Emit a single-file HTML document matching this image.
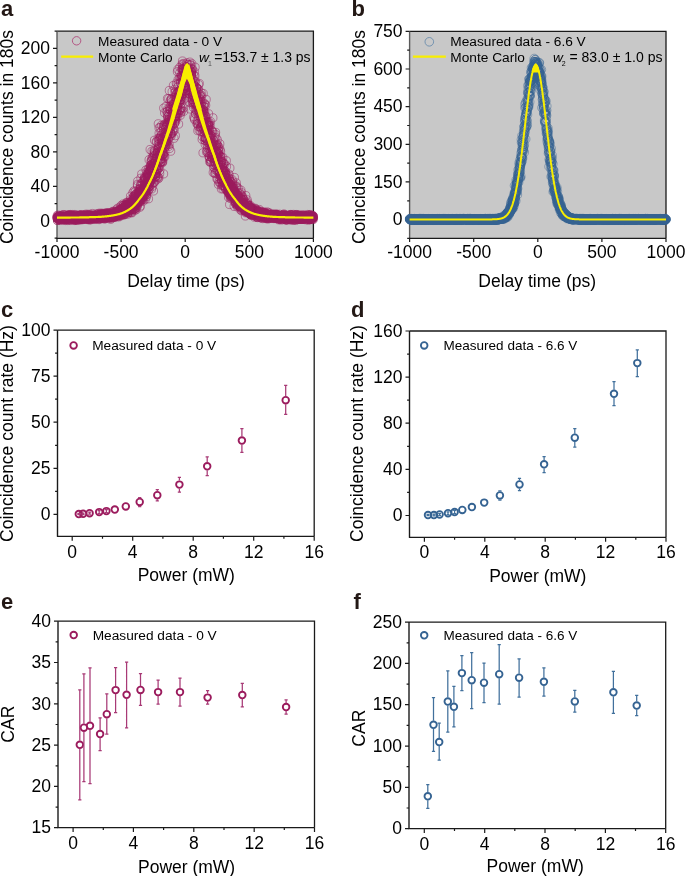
<!DOCTYPE html>
<html><head><meta charset="utf-8"><style>
html,body{margin:0;padding:0;background:#fff;overflow:hidden;}
svg{display:block;will-change:transform;} g[style] circle{r:var(--r);}
text{font-family:"Liberation Sans", sans-serif;}
</style></head><body>
<svg width="685" height="876" viewBox="0 0 685 876">
<rect width="685" height="876" fill="#fff"/>
<rect x="57" y="31.2" width="256.4" height="207.1" fill="#c8c8c8"/>
<path d="M57 31.2H313.4V238.3" fill="none" stroke="#1a1a1a" stroke-width="1.3"/>
<path d="M57 31.2V238.3" fill="none" stroke="#5a5a5a" stroke-width="1.4"/>
<path d="M56.4 238.3H313.4" fill="none" stroke="#1a1a1a" stroke-width="1.3"/>
<path d="M57 238.3v3.6M121.1 238.3v3.6M185.2 238.3v3.6M249.3 238.3v3.6M313.4 238.3v3.6M57 220.8h-4M57 186.3h-4M57 151.8h-4M57 117.3h-4M57 82.8h-4M57 48.3h-4M57 238.1h-2.4M57 203.6h-2.4M57 169.1h-2.4M57 134.6h-2.4M57 100.1h-2.4M57 65.6h-2.4M57 31.1h-2.4" fill="none" stroke="#1a1a1a" stroke-width="1.2"/>
<text x="57" y="258.1" font-size="17.5" text-anchor="middle" fill="#000">-1000</text>
<text x="121.1" y="258.1" font-size="17.5" text-anchor="middle" fill="#000">-500</text>
<text x="185.2" y="258.1" font-size="17.5" text-anchor="middle" fill="#000">0</text>
<text x="249.3" y="258.1" font-size="17.5" text-anchor="middle" fill="#000">500</text>
<text x="313.4" y="258.1" font-size="17.5" text-anchor="middle" fill="#000">1000</text>
<text x="50" y="226.5" font-size="17.5" text-anchor="end" fill="#000">0</text>
<text x="50" y="192" font-size="17.5" text-anchor="end" fill="#000">40</text>
<text x="50" y="157.5" font-size="17.5" text-anchor="end" fill="#000">80</text>
<text x="50" y="123" font-size="17.5" text-anchor="end" fill="#000">120</text>
<text x="50" y="88.5" font-size="17.5" text-anchor="end" fill="#000">160</text>
<text x="50" y="54" font-size="17.5" text-anchor="end" fill="#000">200</text>
<g fill="none" stroke="#9b1b5d" stroke-width="0.5" style="--r:4.1px"><circle cx="57.0" cy="217.6"/><circle cx="57.1" cy="217.5"/><circle cx="57.1" cy="218.0"/><circle cx="57.2" cy="216.5"/><circle cx="57.3" cy="215.4"/><circle cx="57.4" cy="218.1"/><circle cx="57.4" cy="218.0"/><circle cx="57.5" cy="220.5"/><circle cx="57.6" cy="217.8"/><circle cx="57.7" cy="218.2"/><circle cx="57.7" cy="220.4"/><circle cx="57.8" cy="217.2"/><circle cx="57.9" cy="216.8"/><circle cx="58.0" cy="218.6"/><circle cx="58.0" cy="218.1"/><circle cx="58.1" cy="218.8"/><circle cx="58.2" cy="216.6"/><circle cx="58.2" cy="219.6"/><circle cx="58.3" cy="218.0"/><circle cx="58.4" cy="215.1"/><circle cx="58.5" cy="217.6"/><circle cx="58.5" cy="217.0"/><circle cx="58.6" cy="217.8"/><circle cx="58.7" cy="219.1"/><circle cx="58.8" cy="217.6"/><circle cx="58.8" cy="217.1"/><circle cx="58.9" cy="218.9"/><circle cx="59.0" cy="217.2"/><circle cx="59.1" cy="216.0"/><circle cx="59.1" cy="216.2"/><circle cx="59.2" cy="219.7"/><circle cx="59.3" cy="218.9"/><circle cx="59.3" cy="219.7"/><circle cx="59.4" cy="216.2"/><circle cx="59.5" cy="216.8"/><circle cx="59.6" cy="216.7"/><circle cx="59.6" cy="218.7"/><circle cx="59.7" cy="219.1"/><circle cx="59.8" cy="217.5"/><circle cx="59.9" cy="217.5"/><circle cx="59.9" cy="218.7"/><circle cx="60.0" cy="217.4"/><circle cx="60.1" cy="216.8"/><circle cx="60.2" cy="217.3"/><circle cx="60.2" cy="218.9"/><circle cx="60.3" cy="220.3"/><circle cx="60.4" cy="217.9"/><circle cx="60.4" cy="217.4"/><circle cx="60.5" cy="217.9"/><circle cx="60.6" cy="218.1"/><circle cx="60.7" cy="218.4"/><circle cx="60.7" cy="216.7"/><circle cx="60.8" cy="217.6"/><circle cx="60.9" cy="217.4"/><circle cx="61.0" cy="218.8"/><circle cx="61.0" cy="218.4"/><circle cx="61.1" cy="217.4"/><circle cx="61.2" cy="218.8"/><circle cx="61.3" cy="219.1"/><circle cx="61.3" cy="218.0"/><circle cx="61.4" cy="216.0"/><circle cx="61.5" cy="217.3"/><circle cx="61.5" cy="215.7"/><circle cx="61.6" cy="217.8"/><circle cx="61.7" cy="218.0"/><circle cx="61.8" cy="219.4"/><circle cx="61.8" cy="218.3"/><circle cx="61.9" cy="215.7"/><circle cx="62.0" cy="217.2"/><circle cx="62.1" cy="216.6"/><circle cx="62.1" cy="216.6"/><circle cx="62.2" cy="217.6"/><circle cx="62.3" cy="217.8"/><circle cx="62.3" cy="217.4"/><circle cx="62.4" cy="216.7"/><circle cx="62.5" cy="217.0"/><circle cx="62.6" cy="216.9"/><circle cx="62.6" cy="217.4"/><circle cx="62.7" cy="218.6"/><circle cx="62.8" cy="217.8"/><circle cx="62.9" cy="218.8"/><circle cx="62.9" cy="216.3"/><circle cx="63.0" cy="220.3"/><circle cx="63.1" cy="217.8"/><circle cx="63.2" cy="214.6"/><circle cx="63.2" cy="218.0"/><circle cx="63.3" cy="219.0"/><circle cx="63.4" cy="217.6"/><circle cx="63.4" cy="215.9"/><circle cx="63.5" cy="217.7"/><circle cx="63.6" cy="216.8"/><circle cx="63.7" cy="217.4"/><circle cx="63.7" cy="218.0"/><circle cx="63.8" cy="214.6"/><circle cx="63.9" cy="217.5"/><circle cx="64.0" cy="218.2"/><circle cx="64.0" cy="218.2"/><circle cx="64.1" cy="217.1"/><circle cx="64.2" cy="217.1"/><circle cx="64.3" cy="216.6"/><circle cx="64.3" cy="217.4"/><circle cx="64.4" cy="219.4"/><circle cx="64.5" cy="216.9"/><circle cx="64.5" cy="217.9"/><circle cx="64.6" cy="217.9"/><circle cx="64.7" cy="219.5"/><circle cx="64.8" cy="218.3"/><circle cx="64.8" cy="218.5"/><circle cx="64.9" cy="217.6"/><circle cx="65.0" cy="219.4"/><circle cx="65.1" cy="217.5"/><circle cx="65.1" cy="217.4"/><circle cx="65.2" cy="219.0"/><circle cx="65.3" cy="218.3"/><circle cx="65.4" cy="218.6"/><circle cx="65.4" cy="216.4"/><circle cx="65.5" cy="220.5"/><circle cx="65.6" cy="218.0"/><circle cx="65.6" cy="219.6"/><circle cx="65.7" cy="218.1"/><circle cx="65.8" cy="216.4"/><circle cx="65.9" cy="218.4"/><circle cx="65.9" cy="217.4"/><circle cx="66.0" cy="218.7"/><circle cx="66.1" cy="215.1"/><circle cx="66.2" cy="216.3"/><circle cx="66.2" cy="216.1"/><circle cx="66.3" cy="219.2"/><circle cx="66.4" cy="219.0"/><circle cx="66.5" cy="216.1"/><circle cx="66.5" cy="217.8"/><circle cx="66.6" cy="217.8"/><circle cx="66.7" cy="217.1"/><circle cx="66.7" cy="219.2"/><circle cx="66.8" cy="216.5"/><circle cx="66.9" cy="217.5"/><circle cx="67.0" cy="216.9"/><circle cx="67.0" cy="218.4"/><circle cx="67.1" cy="216.9"/><circle cx="67.2" cy="218.5"/><circle cx="67.3" cy="216.3"/><circle cx="67.3" cy="216.1"/><circle cx="67.4" cy="216.4"/><circle cx="67.5" cy="216.9"/><circle cx="67.6" cy="216.7"/><circle cx="67.6" cy="220.5"/><circle cx="67.7" cy="216.4"/><circle cx="67.8" cy="217.9"/><circle cx="67.8" cy="217.4"/><circle cx="67.9" cy="217.9"/><circle cx="68.0" cy="219.3"/><circle cx="68.1" cy="218.2"/><circle cx="68.1" cy="216.7"/><circle cx="68.2" cy="215.7"/><circle cx="68.3" cy="218.3"/><circle cx="68.4" cy="218.7"/><circle cx="68.4" cy="215.7"/><circle cx="68.5" cy="218.7"/><circle cx="68.6" cy="214.8"/><circle cx="68.7" cy="217.5"/><circle cx="68.7" cy="218.7"/><circle cx="68.8" cy="216.2"/><circle cx="68.9" cy="215.3"/><circle cx="68.9" cy="219.4"/><circle cx="69.0" cy="215.5"/><circle cx="69.1" cy="217.9"/><circle cx="69.2" cy="215.7"/><circle cx="69.2" cy="218.0"/><circle cx="69.3" cy="219.5"/><circle cx="69.4" cy="216.9"/><circle cx="69.5" cy="216.3"/><circle cx="69.5" cy="214.8"/><circle cx="69.6" cy="215.3"/><circle cx="69.7" cy="216.6"/><circle cx="69.8" cy="217.8"/><circle cx="69.8" cy="218.2"/><circle cx="69.9" cy="217.8"/><circle cx="70.0" cy="218.6"/><circle cx="70.0" cy="217.8"/><circle cx="70.1" cy="220.5"/><circle cx="70.2" cy="217.3"/><circle cx="70.3" cy="217.6"/><circle cx="70.3" cy="214.5"/><circle cx="70.4" cy="216.5"/><circle cx="70.5" cy="218.1"/><circle cx="70.6" cy="216.8"/><circle cx="70.6" cy="219.0"/><circle cx="70.7" cy="218.2"/><circle cx="70.8" cy="219.9"/><circle cx="70.8" cy="215.7"/><circle cx="70.9" cy="216.8"/><circle cx="71.0" cy="219.0"/><circle cx="71.1" cy="217.5"/><circle cx="71.1" cy="216.3"/><circle cx="71.2" cy="216.8"/><circle cx="71.3" cy="217.0"/><circle cx="71.4" cy="218.5"/><circle cx="71.4" cy="218.3"/><circle cx="71.5" cy="217.4"/><circle cx="71.6" cy="216.2"/><circle cx="71.7" cy="218.6"/><circle cx="71.7" cy="218.9"/><circle cx="71.8" cy="216.0"/><circle cx="71.9" cy="218.6"/><circle cx="71.9" cy="216.0"/><circle cx="72.0" cy="217.1"/><circle cx="72.1" cy="216.4"/><circle cx="72.2" cy="215.3"/><circle cx="72.2" cy="216.5"/><circle cx="72.3" cy="216.5"/><circle cx="72.4" cy="218.7"/><circle cx="72.5" cy="218.3"/><circle cx="72.5" cy="216.7"/><circle cx="72.6" cy="215.6"/><circle cx="72.7" cy="215.7"/><circle cx="72.8" cy="214.5"/><circle cx="72.8" cy="217.1"/><circle cx="72.9" cy="217.2"/><circle cx="73.0" cy="216.2"/><circle cx="73.0" cy="217.5"/><circle cx="73.1" cy="217.6"/><circle cx="73.2" cy="218.9"/><circle cx="73.3" cy="216.3"/><circle cx="73.3" cy="218.8"/><circle cx="73.4" cy="216.8"/><circle cx="73.5" cy="219.3"/><circle cx="73.6" cy="216.1"/><circle cx="73.6" cy="218.8"/><circle cx="73.7" cy="216.4"/><circle cx="73.8" cy="219.5"/><circle cx="73.9" cy="218.0"/><circle cx="73.9" cy="216.0"/><circle cx="74.0" cy="218.5"/><circle cx="74.1" cy="217.3"/><circle cx="74.1" cy="217.9"/><circle cx="74.2" cy="220.5"/><circle cx="74.3" cy="217.0"/><circle cx="74.4" cy="216.9"/><circle cx="74.4" cy="218.9"/><circle cx="74.5" cy="216.8"/><circle cx="74.6" cy="218.5"/><circle cx="74.7" cy="218.7"/><circle cx="74.7" cy="217.4"/><circle cx="74.8" cy="218.3"/><circle cx="74.9" cy="214.5"/><circle cx="75.0" cy="219.4"/><circle cx="75.0" cy="216.5"/><circle cx="75.1" cy="216.3"/><circle cx="75.2" cy="220.0"/><circle cx="75.2" cy="219.8"/><circle cx="75.3" cy="216.8"/><circle cx="75.4" cy="218.1"/><circle cx="75.5" cy="216.8"/><circle cx="75.5" cy="216.0"/><circle cx="75.6" cy="218.0"/><circle cx="75.7" cy="218.8"/><circle cx="75.8" cy="220.3"/><circle cx="75.8" cy="217.1"/><circle cx="75.9" cy="218.6"/><circle cx="76.0" cy="217.0"/><circle cx="76.1" cy="217.1"/><circle cx="76.1" cy="219.1"/><circle cx="76.2" cy="215.1"/><circle cx="76.3" cy="216.0"/><circle cx="76.3" cy="216.4"/><circle cx="76.4" cy="218.9"/><circle cx="76.5" cy="218.0"/><circle cx="76.6" cy="218.0"/><circle cx="76.6" cy="218.0"/><circle cx="76.7" cy="218.9"/><circle cx="76.8" cy="216.8"/><circle cx="76.9" cy="217.2"/><circle cx="76.9" cy="216.8"/><circle cx="77.0" cy="217.9"/><circle cx="77.1" cy="215.8"/><circle cx="77.2" cy="217.1"/><circle cx="77.2" cy="220.3"/><circle cx="77.3" cy="218.3"/><circle cx="77.4" cy="217.4"/><circle cx="77.4" cy="216.1"/><circle cx="77.5" cy="217.8"/><circle cx="77.6" cy="217.8"/><circle cx="77.7" cy="218.3"/><circle cx="77.7" cy="216.5"/><circle cx="77.8" cy="217.9"/><circle cx="77.9" cy="218.1"/><circle cx="78.0" cy="218.3"/><circle cx="78.0" cy="216.5"/><circle cx="78.1" cy="218.1"/><circle cx="78.2" cy="219.6"/><circle cx="78.3" cy="216.7"/><circle cx="78.3" cy="218.1"/><circle cx="78.4" cy="216.8"/><circle cx="78.5" cy="216.8"/><circle cx="78.5" cy="215.8"/><circle cx="78.6" cy="216.0"/><circle cx="78.7" cy="218.1"/><circle cx="78.8" cy="217.6"/><circle cx="78.8" cy="219.0"/><circle cx="78.9" cy="215.2"/><circle cx="79.0" cy="216.7"/><circle cx="79.1" cy="215.5"/><circle cx="79.1" cy="217.8"/><circle cx="79.2" cy="220.0"/><circle cx="79.3" cy="215.4"/><circle cx="79.3" cy="217.1"/><circle cx="79.4" cy="217.1"/><circle cx="79.5" cy="217.3"/><circle cx="79.6" cy="216.5"/><circle cx="79.6" cy="216.7"/><circle cx="79.7" cy="219.4"/><circle cx="79.8" cy="215.9"/><circle cx="79.9" cy="218.1"/><circle cx="79.9" cy="218.0"/><circle cx="80.0" cy="215.1"/><circle cx="80.1" cy="216.1"/><circle cx="80.2" cy="217.9"/><circle cx="80.2" cy="219.8"/><circle cx="80.3" cy="217.2"/><circle cx="80.4" cy="216.6"/><circle cx="80.4" cy="217.5"/><circle cx="80.5" cy="218.9"/><circle cx="80.6" cy="218.2"/><circle cx="80.7" cy="219.0"/><circle cx="80.7" cy="217.1"/><circle cx="80.8" cy="216.2"/><circle cx="80.9" cy="216.0"/><circle cx="81.0" cy="218.3"/><circle cx="81.0" cy="217.0"/><circle cx="81.1" cy="216.4"/><circle cx="81.2" cy="218.0"/><circle cx="81.3" cy="217.5"/><circle cx="81.3" cy="214.6"/><circle cx="81.4" cy="217.0"/><circle cx="81.5" cy="216.3"/><circle cx="81.5" cy="218.0"/><circle cx="81.6" cy="217.1"/><circle cx="81.7" cy="219.6"/><circle cx="81.8" cy="217.2"/><circle cx="81.8" cy="215.6"/><circle cx="81.9" cy="214.6"/><circle cx="82.0" cy="215.7"/><circle cx="82.1" cy="216.2"/><circle cx="82.1" cy="217.2"/><circle cx="82.2" cy="218.1"/><circle cx="82.3" cy="217.6"/><circle cx="82.4" cy="216.5"/><circle cx="82.4" cy="218.2"/><circle cx="82.5" cy="216.0"/><circle cx="82.6" cy="218.6"/><circle cx="82.6" cy="219.7"/><circle cx="82.7" cy="218.6"/><circle cx="82.8" cy="219.4"/><circle cx="82.9" cy="219.1"/><circle cx="82.9" cy="215.8"/><circle cx="83.0" cy="217.5"/><circle cx="83.1" cy="217.0"/><circle cx="83.2" cy="215.8"/><circle cx="83.2" cy="215.6"/><circle cx="83.3" cy="217.9"/><circle cx="83.4" cy="215.5"/><circle cx="83.5" cy="216.5"/><circle cx="83.5" cy="217.2"/><circle cx="83.6" cy="216.7"/><circle cx="83.7" cy="219.2"/><circle cx="83.7" cy="218.2"/><circle cx="83.8" cy="217.6"/><circle cx="83.9" cy="216.6"/><circle cx="84.0" cy="217.6"/><circle cx="84.0" cy="217.3"/><circle cx="84.1" cy="216.0"/><circle cx="84.2" cy="215.6"/><circle cx="84.3" cy="216.3"/><circle cx="84.3" cy="215.7"/><circle cx="84.4" cy="217.7"/><circle cx="84.5" cy="217.4"/><circle cx="84.6" cy="216.8"/><circle cx="84.6" cy="217.7"/><circle cx="84.7" cy="218.0"/><circle cx="84.8" cy="215.1"/><circle cx="84.8" cy="217.5"/><circle cx="84.9" cy="218.6"/><circle cx="85.0" cy="216.6"/><circle cx="85.1" cy="215.0"/><circle cx="85.1" cy="217.0"/><circle cx="85.2" cy="215.5"/><circle cx="85.3" cy="217.7"/><circle cx="85.4" cy="217.9"/><circle cx="85.4" cy="218.1"/><circle cx="85.5" cy="217.4"/><circle cx="85.6" cy="214.9"/><circle cx="85.7" cy="218.7"/><circle cx="85.7" cy="215.2"/><circle cx="85.8" cy="218.6"/><circle cx="85.9" cy="217.4"/><circle cx="85.9" cy="216.1"/><circle cx="86.0" cy="216.4"/><circle cx="86.1" cy="216.7"/><circle cx="86.2" cy="219.5"/><circle cx="86.2" cy="216.8"/><circle cx="86.3" cy="218.5"/><circle cx="86.4" cy="214.1"/><circle cx="86.5" cy="217.5"/><circle cx="86.5" cy="216.8"/><circle cx="86.6" cy="218.6"/><circle cx="86.7" cy="217.9"/><circle cx="86.8" cy="218.9"/><circle cx="86.8" cy="215.8"/><circle cx="86.9" cy="217.5"/><circle cx="87.0" cy="216.6"/><circle cx="87.0" cy="217.9"/><circle cx="87.1" cy="217.7"/><circle cx="87.2" cy="215.3"/><circle cx="87.3" cy="218.5"/><circle cx="87.3" cy="219.5"/><circle cx="87.4" cy="216.7"/><circle cx="87.5" cy="218.2"/><circle cx="87.6" cy="217.7"/><circle cx="87.6" cy="215.7"/><circle cx="87.7" cy="218.3"/><circle cx="87.8" cy="216.0"/><circle cx="87.9" cy="218.2"/><circle cx="87.9" cy="215.2"/><circle cx="88.0" cy="215.3"/><circle cx="88.1" cy="217.9"/><circle cx="88.1" cy="217.3"/><circle cx="88.2" cy="218.2"/><circle cx="88.3" cy="217.0"/><circle cx="88.4" cy="215.7"/><circle cx="88.4" cy="219.1"/><circle cx="88.5" cy="215.9"/><circle cx="88.6" cy="218.9"/><circle cx="88.7" cy="218.3"/><circle cx="88.7" cy="219.5"/><circle cx="88.8" cy="214.5"/><circle cx="88.9" cy="217.2"/><circle cx="88.9" cy="216.8"/><circle cx="89.0" cy="217.9"/><circle cx="89.1" cy="215.9"/><circle cx="89.2" cy="219.8"/><circle cx="89.2" cy="217.1"/><circle cx="89.3" cy="214.3"/><circle cx="89.4" cy="217.5"/><circle cx="89.5" cy="217.1"/><circle cx="89.5" cy="216.0"/><circle cx="89.6" cy="218.2"/><circle cx="89.7" cy="217.0"/><circle cx="89.8" cy="215.9"/><circle cx="89.8" cy="216.9"/><circle cx="89.9" cy="216.5"/><circle cx="90.0" cy="217.5"/><circle cx="90.0" cy="216.6"/><circle cx="90.1" cy="217.0"/><circle cx="90.2" cy="215.3"/><circle cx="90.3" cy="216.1"/><circle cx="90.3" cy="217.4"/><circle cx="90.4" cy="219.9"/><circle cx="90.5" cy="216.2"/><circle cx="90.6" cy="216.1"/><circle cx="90.6" cy="218.4"/><circle cx="90.7" cy="219.6"/><circle cx="90.8" cy="218.7"/><circle cx="90.9" cy="216.0"/><circle cx="90.9" cy="218.4"/><circle cx="91.0" cy="217.5"/><circle cx="91.1" cy="216.9"/><circle cx="91.1" cy="215.6"/><circle cx="91.2" cy="217.1"/><circle cx="91.3" cy="217.3"/><circle cx="91.4" cy="217.7"/><circle cx="91.4" cy="215.0"/><circle cx="91.5" cy="215.7"/><circle cx="91.6" cy="217.1"/><circle cx="91.7" cy="218.9"/><circle cx="91.7" cy="218.0"/><circle cx="91.8" cy="216.4"/><circle cx="91.9" cy="218.1"/><circle cx="92.0" cy="216.1"/><circle cx="92.0" cy="216.1"/><circle cx="92.1" cy="216.7"/><circle cx="92.2" cy="216.1"/><circle cx="92.2" cy="216.3"/><circle cx="92.3" cy="218.1"/><circle cx="92.4" cy="217.4"/><circle cx="92.5" cy="213.5"/><circle cx="92.5" cy="218.7"/><circle cx="92.6" cy="217.8"/><circle cx="92.7" cy="215.7"/><circle cx="92.8" cy="217.4"/><circle cx="92.8" cy="217.9"/><circle cx="92.9" cy="218.6"/><circle cx="93.0" cy="216.4"/><circle cx="93.1" cy="215.8"/><circle cx="93.1" cy="215.2"/><circle cx="93.2" cy="216.6"/><circle cx="93.3" cy="215.9"/><circle cx="93.3" cy="218.2"/><circle cx="93.4" cy="216.9"/><circle cx="93.5" cy="217.6"/><circle cx="93.6" cy="216.9"/><circle cx="93.6" cy="216.0"/><circle cx="93.7" cy="215.7"/><circle cx="93.8" cy="218.4"/><circle cx="93.9" cy="214.9"/><circle cx="93.9" cy="217.4"/><circle cx="94.0" cy="218.3"/><circle cx="94.1" cy="217.3"/><circle cx="94.2" cy="219.1"/><circle cx="94.2" cy="217.0"/><circle cx="94.3" cy="216.5"/><circle cx="94.4" cy="217.2"/><circle cx="94.4" cy="216.2"/><circle cx="94.5" cy="217.5"/><circle cx="94.6" cy="216.9"/><circle cx="94.7" cy="218.8"/><circle cx="94.7" cy="216.5"/><circle cx="94.8" cy="217.5"/><circle cx="94.9" cy="217.5"/><circle cx="95.0" cy="217.1"/><circle cx="95.0" cy="216.6"/><circle cx="95.1" cy="219.1"/><circle cx="95.2" cy="219.0"/><circle cx="95.3" cy="217.3"/><circle cx="95.3" cy="216.4"/><circle cx="95.4" cy="216.2"/><circle cx="95.5" cy="215.7"/><circle cx="95.5" cy="215.1"/><circle cx="95.6" cy="216.2"/><circle cx="95.7" cy="217.0"/><circle cx="95.8" cy="218.3"/><circle cx="95.8" cy="218.1"/><circle cx="95.9" cy="217.5"/><circle cx="96.0" cy="216.4"/><circle cx="96.1" cy="216.5"/><circle cx="96.1" cy="217.0"/><circle cx="96.2" cy="217.0"/><circle cx="96.3" cy="216.2"/><circle cx="96.4" cy="216.7"/><circle cx="96.4" cy="216.5"/><circle cx="96.5" cy="216.7"/><circle cx="96.6" cy="217.5"/><circle cx="96.6" cy="218.1"/><circle cx="96.7" cy="216.2"/><circle cx="96.8" cy="216.3"/><circle cx="96.9" cy="217.2"/><circle cx="96.9" cy="217.5"/><circle cx="97.0" cy="213.8"/><circle cx="97.1" cy="217.9"/><circle cx="97.2" cy="217.0"/><circle cx="97.2" cy="216.6"/><circle cx="97.3" cy="218.2"/><circle cx="97.4" cy="216.5"/><circle cx="97.4" cy="214.4"/><circle cx="97.5" cy="215.6"/><circle cx="97.6" cy="215.7"/><circle cx="97.7" cy="216.3"/><circle cx="97.7" cy="216.4"/><circle cx="97.8" cy="215.4"/><circle cx="97.9" cy="216.8"/><circle cx="98.0" cy="217.1"/><circle cx="98.0" cy="216.7"/><circle cx="98.1" cy="215.6"/><circle cx="98.2" cy="216.0"/><circle cx="98.3" cy="215.6"/><circle cx="98.3" cy="219.3"/><circle cx="98.4" cy="215.4"/><circle cx="98.5" cy="213.4"/><circle cx="98.5" cy="214.4"/><circle cx="98.6" cy="216.7"/><circle cx="98.7" cy="217.7"/><circle cx="98.8" cy="216.6"/><circle cx="98.8" cy="217.6"/><circle cx="98.9" cy="215.7"/><circle cx="99.0" cy="217.8"/><circle cx="99.1" cy="215.2"/><circle cx="99.1" cy="215.2"/><circle cx="99.2" cy="219.6"/><circle cx="99.3" cy="216.4"/><circle cx="99.4" cy="217.0"/><circle cx="99.4" cy="218.5"/><circle cx="99.5" cy="217.3"/><circle cx="99.6" cy="216.1"/><circle cx="99.6" cy="214.5"/><circle cx="99.7" cy="218.6"/><circle cx="99.8" cy="215.2"/><circle cx="99.9" cy="214.2"/><circle cx="99.9" cy="216.0"/><circle cx="100.0" cy="215.6"/><circle cx="100.1" cy="216.4"/><circle cx="100.2" cy="218.0"/><circle cx="100.2" cy="215.4"/><circle cx="100.3" cy="216.2"/><circle cx="100.4" cy="215.5"/><circle cx="100.5" cy="213.1"/><circle cx="100.5" cy="215.3"/><circle cx="100.6" cy="215.5"/><circle cx="100.7" cy="214.2"/><circle cx="100.7" cy="218.3"/><circle cx="100.8" cy="217.8"/><circle cx="100.9" cy="217.3"/><circle cx="101.0" cy="217.8"/><circle cx="101.0" cy="215.3"/><circle cx="101.1" cy="216.9"/><circle cx="101.2" cy="214.0"/><circle cx="101.3" cy="214.9"/><circle cx="101.3" cy="215.5"/><circle cx="101.4" cy="217.1"/><circle cx="101.5" cy="215.9"/><circle cx="101.6" cy="215.9"/><circle cx="101.6" cy="217.9"/><circle cx="101.7" cy="215.5"/><circle cx="101.8" cy="215.3"/><circle cx="101.8" cy="216.3"/><circle cx="101.9" cy="214.3"/><circle cx="102.0" cy="214.4"/><circle cx="102.1" cy="218.1"/><circle cx="102.1" cy="216.2"/><circle cx="102.2" cy="217.2"/><circle cx="102.3" cy="215.2"/><circle cx="102.4" cy="216.6"/><circle cx="102.4" cy="214.5"/><circle cx="102.5" cy="215.6"/><circle cx="102.6" cy="214.9"/><circle cx="102.7" cy="216.1"/><circle cx="102.7" cy="218.4"/><circle cx="102.8" cy="213.9"/><circle cx="102.9" cy="216.1"/><circle cx="102.9" cy="213.3"/><circle cx="103.0" cy="215.7"/><circle cx="103.1" cy="215.3"/><circle cx="103.2" cy="213.7"/><circle cx="103.2" cy="215.1"/><circle cx="103.3" cy="214.3"/><circle cx="103.4" cy="217.4"/><circle cx="103.5" cy="215.4"/><circle cx="103.5" cy="216.6"/><circle cx="103.6" cy="216.4"/><circle cx="103.7" cy="215.8"/><circle cx="103.8" cy="215.2"/><circle cx="103.8" cy="214.5"/><circle cx="103.9" cy="218.9"/><circle cx="104.0" cy="215.9"/><circle cx="104.0" cy="217.3"/><circle cx="104.1" cy="215.1"/><circle cx="104.2" cy="216.1"/><circle cx="104.3" cy="215.2"/><circle cx="104.3" cy="216.4"/><circle cx="104.4" cy="215.4"/><circle cx="104.5" cy="214.1"/><circle cx="104.6" cy="216.7"/><circle cx="104.6" cy="215.4"/><circle cx="104.7" cy="218.3"/><circle cx="104.8" cy="216.0"/><circle cx="104.9" cy="214.8"/><circle cx="104.9" cy="217.1"/><circle cx="105.0" cy="214.1"/><circle cx="105.1" cy="218.6"/><circle cx="105.1" cy="218.8"/><circle cx="105.2" cy="217.8"/><circle cx="105.3" cy="216.8"/><circle cx="105.4" cy="215.4"/><circle cx="105.4" cy="216.3"/><circle cx="105.5" cy="216.2"/><circle cx="105.6" cy="214.2"/><circle cx="105.7" cy="215.0"/><circle cx="105.7" cy="216.3"/><circle cx="105.8" cy="217.5"/><circle cx="105.9" cy="212.9"/><circle cx="105.9" cy="218.1"/><circle cx="106.0" cy="216.2"/><circle cx="106.1" cy="214.4"/><circle cx="106.2" cy="215.1"/><circle cx="106.2" cy="216.7"/><circle cx="106.3" cy="216.2"/><circle cx="106.4" cy="215.4"/><circle cx="106.5" cy="214.8"/><circle cx="106.5" cy="216.6"/><circle cx="106.6" cy="215.1"/><circle cx="106.7" cy="215.5"/><circle cx="106.8" cy="214.2"/><circle cx="106.8" cy="213.5"/><circle cx="106.9" cy="216.4"/><circle cx="107.0" cy="217.4"/><circle cx="107.0" cy="215.6"/><circle cx="107.1" cy="213.5"/><circle cx="107.2" cy="215.3"/><circle cx="107.3" cy="214.6"/><circle cx="107.3" cy="212.6"/><circle cx="107.4" cy="217.4"/><circle cx="107.5" cy="214.6"/><circle cx="107.6" cy="216.5"/><circle cx="107.6" cy="215.1"/><circle cx="107.7" cy="216.3"/><circle cx="107.8" cy="214.1"/><circle cx="107.9" cy="217.1"/><circle cx="107.9" cy="214.2"/><circle cx="108.0" cy="217.1"/><circle cx="108.1" cy="215.0"/><circle cx="108.1" cy="215.7"/><circle cx="108.2" cy="213.3"/><circle cx="108.3" cy="217.1"/><circle cx="108.4" cy="216.2"/><circle cx="108.4" cy="213.2"/><circle cx="108.5" cy="215.4"/><circle cx="108.6" cy="214.2"/><circle cx="108.7" cy="215.1"/><circle cx="108.7" cy="214.4"/><circle cx="108.8" cy="216.3"/><circle cx="108.9" cy="213.7"/><circle cx="109.0" cy="214.7"/><circle cx="109.0" cy="215.1"/><circle cx="109.1" cy="217.7"/><circle cx="109.2" cy="217.8"/><circle cx="109.2" cy="218.0"/><circle cx="109.3" cy="216.1"/><circle cx="109.4" cy="214.2"/><circle cx="109.5" cy="215.5"/><circle cx="109.5" cy="215.1"/><circle cx="109.6" cy="215.6"/><circle cx="109.7" cy="214.5"/><circle cx="109.8" cy="216.1"/><circle cx="109.8" cy="215.0"/><circle cx="109.9" cy="216.2"/><circle cx="110.0" cy="217.3"/><circle cx="110.1" cy="215.6"/><circle cx="110.1" cy="212.5"/><circle cx="110.2" cy="213.9"/><circle cx="110.3" cy="215.4"/><circle cx="110.3" cy="217.0"/><circle cx="110.4" cy="216.4"/><circle cx="110.5" cy="214.4"/><circle cx="110.6" cy="215.8"/><circle cx="110.6" cy="216.5"/><circle cx="110.7" cy="219.3"/><circle cx="110.8" cy="215.6"/><circle cx="110.9" cy="218.6"/><circle cx="110.9" cy="217.4"/><circle cx="111.0" cy="214.1"/><circle cx="111.1" cy="214.3"/><circle cx="111.2" cy="217.7"/><circle cx="111.2" cy="214.2"/><circle cx="111.3" cy="214.8"/><circle cx="111.4" cy="217.1"/><circle cx="111.4" cy="214.0"/><circle cx="111.5" cy="215.4"/><circle cx="111.6" cy="214.6"/><circle cx="111.7" cy="215.7"/><circle cx="111.7" cy="215.9"/><circle cx="111.8" cy="214.2"/><circle cx="111.9" cy="215.4"/><circle cx="112.0" cy="216.5"/><circle cx="112.0" cy="216.2"/><circle cx="112.1" cy="214.8"/><circle cx="112.2" cy="215.2"/><circle cx="112.3" cy="214.0"/><circle cx="112.3" cy="215.9"/><circle cx="112.4" cy="217.3"/><circle cx="112.5" cy="215.8"/><circle cx="112.5" cy="212.0"/><circle cx="112.6" cy="216.1"/><circle cx="112.7" cy="214.5"/><circle cx="112.8" cy="211.7"/><circle cx="112.8" cy="214.9"/><circle cx="112.9" cy="215.4"/><circle cx="113.0" cy="213.0"/><circle cx="113.1" cy="214.7"/><circle cx="113.1" cy="215.6"/><circle cx="113.2" cy="216.1"/><circle cx="113.3" cy="212.3"/><circle cx="113.4" cy="214.4"/><circle cx="113.4" cy="214.7"/><circle cx="113.5" cy="214.9"/><circle cx="113.6" cy="211.1"/><circle cx="113.6" cy="214.7"/><circle cx="113.7" cy="217.0"/><circle cx="113.8" cy="215.0"/><circle cx="113.9" cy="213.7"/><circle cx="113.9" cy="212.9"/><circle cx="114.0" cy="213.2"/><circle cx="114.1" cy="216.5"/><circle cx="114.2" cy="214.3"/><circle cx="114.2" cy="217.1"/><circle cx="114.3" cy="215.0"/><circle cx="114.4" cy="214.7"/><circle cx="114.5" cy="214.5"/><circle cx="114.5" cy="217.2"/><circle cx="114.6" cy="215.3"/><circle cx="114.7" cy="216.8"/><circle cx="114.7" cy="216.3"/><circle cx="114.8" cy="212.9"/><circle cx="114.9" cy="214.6"/><circle cx="115.0" cy="211.5"/><circle cx="115.0" cy="216.0"/><circle cx="115.1" cy="215.3"/><circle cx="115.2" cy="217.2"/><circle cx="115.3" cy="215.6"/><circle cx="115.3" cy="215.9"/><circle cx="115.4" cy="212.9"/><circle cx="115.5" cy="214.5"/><circle cx="115.5" cy="215.9"/><circle cx="115.6" cy="212.1"/><circle cx="115.7" cy="213.9"/><circle cx="115.8" cy="212.9"/><circle cx="115.8" cy="212.9"/><circle cx="115.9" cy="213.3"/><circle cx="116.0" cy="214.4"/><circle cx="116.1" cy="211.8"/><circle cx="116.1" cy="214.0"/><circle cx="116.2" cy="212.9"/><circle cx="116.3" cy="211.9"/><circle cx="116.4" cy="214.0"/><circle cx="116.4" cy="214.6"/><circle cx="116.5" cy="215.9"/><circle cx="116.6" cy="213.7"/><circle cx="116.6" cy="215.2"/><circle cx="116.7" cy="209.7"/><circle cx="116.8" cy="214.2"/><circle cx="116.9" cy="215.2"/><circle cx="116.9" cy="214.3"/><circle cx="117.0" cy="214.7"/><circle cx="117.1" cy="214.0"/><circle cx="117.2" cy="212.0"/><circle cx="117.2" cy="211.4"/><circle cx="117.3" cy="213.4"/><circle cx="117.4" cy="212.5"/><circle cx="117.5" cy="215.7"/><circle cx="117.5" cy="212.8"/><circle cx="117.6" cy="212.0"/><circle cx="117.7" cy="208.2"/><circle cx="117.7" cy="215.3"/><circle cx="117.8" cy="214.0"/><circle cx="117.9" cy="214.6"/><circle cx="118.0" cy="211.8"/><circle cx="118.0" cy="212.6"/><circle cx="118.1" cy="213.4"/><circle cx="118.2" cy="215.7"/><circle cx="118.3" cy="215.7"/><circle cx="118.3" cy="216.6"/><circle cx="118.4" cy="215.0"/><circle cx="118.5" cy="214.5"/><circle cx="118.6" cy="214.2"/><circle cx="118.6" cy="214.5"/><circle cx="118.7" cy="212.5"/><circle cx="118.8" cy="214.4"/><circle cx="118.8" cy="216.9"/><circle cx="118.9" cy="215.6"/><circle cx="119.0" cy="213.0"/><circle cx="119.1" cy="210.1"/><circle cx="119.1" cy="215.0"/><circle cx="119.2" cy="212.3"/><circle cx="119.3" cy="210.0"/><circle cx="119.4" cy="213.9"/><circle cx="119.4" cy="214.4"/><circle cx="119.5" cy="214.8"/><circle cx="119.6" cy="210.2"/><circle cx="119.7" cy="211.5"/><circle cx="119.7" cy="210.7"/><circle cx="119.8" cy="212.0"/><circle cx="119.9" cy="209.3"/><circle cx="119.9" cy="213.0"/><circle cx="120.0" cy="212.4"/><circle cx="120.1" cy="207.1"/><circle cx="120.2" cy="210.7"/><circle cx="120.2" cy="214.9"/><circle cx="120.3" cy="212.1"/><circle cx="120.4" cy="211.7"/><circle cx="120.5" cy="211.4"/><circle cx="120.5" cy="210.1"/><circle cx="120.6" cy="215.9"/><circle cx="120.7" cy="214.0"/><circle cx="120.8" cy="211.9"/><circle cx="120.8" cy="214.9"/><circle cx="120.9" cy="210.8"/><circle cx="121.0" cy="213.9"/><circle cx="121.0" cy="212.1"/><circle cx="121.1" cy="213.9"/><circle cx="121.2" cy="210.0"/><circle cx="121.3" cy="205.5"/><circle cx="121.3" cy="209.4"/><circle cx="121.4" cy="209.9"/><circle cx="121.5" cy="210.9"/><circle cx="121.6" cy="208.7"/><circle cx="121.6" cy="211.8"/><circle cx="121.7" cy="212.8"/><circle cx="121.8" cy="211.9"/><circle cx="121.9" cy="208.1"/><circle cx="121.9" cy="211.4"/><circle cx="122.0" cy="210.9"/><circle cx="122.1" cy="211.2"/><circle cx="122.1" cy="210.2"/><circle cx="122.2" cy="213.9"/><circle cx="122.3" cy="213.6"/><circle cx="122.4" cy="213.4"/><circle cx="122.4" cy="209.6"/><circle cx="122.5" cy="214.1"/><circle cx="122.6" cy="210.0"/><circle cx="122.7" cy="209.3"/><circle cx="122.7" cy="214.3"/><circle cx="122.8" cy="211.1"/><circle cx="122.9" cy="214.8"/><circle cx="123.0" cy="208.7"/><circle cx="123.0" cy="204.0"/><circle cx="123.1" cy="205.5"/><circle cx="123.2" cy="214.5"/><circle cx="123.2" cy="210.1"/><circle cx="123.3" cy="210.2"/><circle cx="123.4" cy="210.5"/><circle cx="123.5" cy="205.4"/><circle cx="123.5" cy="215.1"/><circle cx="123.6" cy="207.7"/><circle cx="123.7" cy="212.0"/><circle cx="123.8" cy="207.1"/><circle cx="123.8" cy="209.9"/><circle cx="123.9" cy="211.1"/><circle cx="124.0" cy="211.1"/><circle cx="124.0" cy="208.8"/><circle cx="124.1" cy="212.4"/><circle cx="124.2" cy="211.7"/><circle cx="124.3" cy="210.9"/><circle cx="124.3" cy="214.1"/><circle cx="124.4" cy="210.8"/><circle cx="124.5" cy="210.1"/><circle cx="124.6" cy="210.1"/><circle cx="124.6" cy="208.0"/><circle cx="124.7" cy="206.1"/><circle cx="124.8" cy="210.1"/><circle cx="124.9" cy="214.3"/><circle cx="124.9" cy="210.8"/><circle cx="125.0" cy="206.3"/><circle cx="125.1" cy="212.2"/><circle cx="125.1" cy="206.3"/><circle cx="125.2" cy="211.8"/><circle cx="125.3" cy="209.7"/><circle cx="125.4" cy="204.2"/><circle cx="125.4" cy="210.3"/><circle cx="125.5" cy="213.9"/><circle cx="125.6" cy="207.6"/><circle cx="125.7" cy="208.2"/><circle cx="125.7" cy="204.5"/><circle cx="125.8" cy="207.9"/><circle cx="125.9" cy="210.1"/><circle cx="126.0" cy="207.3"/><circle cx="126.0" cy="211.5"/><circle cx="126.1" cy="207.9"/><circle cx="126.2" cy="209.1"/><circle cx="126.2" cy="207.8"/><circle cx="126.3" cy="209.7"/><circle cx="126.4" cy="209.2"/><circle cx="126.5" cy="207.6"/><circle cx="126.5" cy="211.0"/><circle cx="126.6" cy="210.8"/><circle cx="126.7" cy="202.3"/><circle cx="126.8" cy="209.8"/><circle cx="126.8" cy="207.2"/><circle cx="126.9" cy="205.2"/><circle cx="127.0" cy="208.9"/><circle cx="127.1" cy="204.0"/><circle cx="127.1" cy="209.3"/><circle cx="127.2" cy="207.6"/><circle cx="127.3" cy="210.4"/><circle cx="127.3" cy="202.7"/><circle cx="127.4" cy="204.3"/><circle cx="127.5" cy="214.2"/><circle cx="127.6" cy="210.6"/><circle cx="127.6" cy="202.8"/><circle cx="127.7" cy="204.9"/><circle cx="127.8" cy="205.0"/><circle cx="127.9" cy="210.9"/><circle cx="127.9" cy="207.0"/><circle cx="128.0" cy="208.1"/><circle cx="128.1" cy="207.2"/><circle cx="128.2" cy="205.1"/><circle cx="128.2" cy="212.8"/><circle cx="128.3" cy="206.2"/><circle cx="128.4" cy="211.4"/><circle cx="128.4" cy="207.1"/><circle cx="128.5" cy="207.6"/><circle cx="128.6" cy="212.2"/><circle cx="128.7" cy="208.4"/><circle cx="128.7" cy="210.5"/><circle cx="128.8" cy="211.1"/><circle cx="128.9" cy="211.0"/><circle cx="129.0" cy="206.1"/><circle cx="129.0" cy="205.4"/><circle cx="129.1" cy="203.4"/><circle cx="129.2" cy="207.8"/><circle cx="129.3" cy="202.1"/><circle cx="129.3" cy="210.0"/><circle cx="129.4" cy="206.9"/><circle cx="129.5" cy="206.6"/><circle cx="129.5" cy="205.1"/><circle cx="129.6" cy="208.0"/><circle cx="129.7" cy="208.3"/><circle cx="129.8" cy="206.5"/><circle cx="129.8" cy="204.8"/><circle cx="129.9" cy="212.7"/><circle cx="130.0" cy="202.9"/><circle cx="130.1" cy="204.9"/><circle cx="130.1" cy="203.5"/><circle cx="130.2" cy="206.8"/><circle cx="130.3" cy="205.0"/><circle cx="130.4" cy="207.3"/><circle cx="130.4" cy="209.4"/><circle cx="130.5" cy="196.2"/><circle cx="130.6" cy="203.3"/><circle cx="130.6" cy="199.6"/><circle cx="130.7" cy="202.6"/><circle cx="130.8" cy="207.7"/><circle cx="130.9" cy="209.9"/><circle cx="130.9" cy="204.8"/><circle cx="131.0" cy="203.0"/><circle cx="131.1" cy="202.1"/><circle cx="131.2" cy="206.8"/><circle cx="131.2" cy="207.9"/><circle cx="131.3" cy="207.1"/><circle cx="131.4" cy="212.6"/><circle cx="131.5" cy="207.5"/><circle cx="131.5" cy="206.2"/><circle cx="131.6" cy="208.2"/><circle cx="131.7" cy="202.3"/><circle cx="131.7" cy="203.5"/><circle cx="131.8" cy="209.1"/><circle cx="131.9" cy="212.8"/><circle cx="132.0" cy="206.1"/><circle cx="132.0" cy="211.2"/><circle cx="132.1" cy="208.2"/><circle cx="132.2" cy="201.2"/><circle cx="132.3" cy="206.7"/><circle cx="132.3" cy="200.0"/><circle cx="132.4" cy="209.8"/><circle cx="132.5" cy="202.9"/><circle cx="132.5" cy="204.9"/><circle cx="132.6" cy="202.9"/><circle cx="132.7" cy="201.4"/><circle cx="132.8" cy="192.9"/><circle cx="132.8" cy="203.5"/><circle cx="132.9" cy="204.3"/><circle cx="133.0" cy="208.0"/><circle cx="133.1" cy="204.8"/><circle cx="133.1" cy="205.9"/><circle cx="133.2" cy="197.9"/><circle cx="133.3" cy="203.2"/><circle cx="133.4" cy="196.6"/><circle cx="133.4" cy="209.2"/><circle cx="133.5" cy="207.7"/><circle cx="133.6" cy="199.5"/><circle cx="133.6" cy="203.7"/><circle cx="133.7" cy="205.0"/><circle cx="133.8" cy="205.3"/><circle cx="133.9" cy="206.4"/><circle cx="133.9" cy="199.1"/><circle cx="134.0" cy="190.9"/><circle cx="134.1" cy="195.9"/><circle cx="134.2" cy="209.2"/><circle cx="134.2" cy="209.0"/><circle cx="134.3" cy="203.1"/><circle cx="134.4" cy="197.4"/><circle cx="134.5" cy="205.2"/><circle cx="134.5" cy="205.9"/><circle cx="134.6" cy="198.3"/><circle cx="134.7" cy="196.4"/><circle cx="134.7" cy="200.7"/><circle cx="134.8" cy="206.6"/><circle cx="134.9" cy="210.1"/><circle cx="135.0" cy="202.5"/><circle cx="135.0" cy="208.4"/><circle cx="135.1" cy="196.6"/><circle cx="135.2" cy="203.7"/><circle cx="135.3" cy="194.9"/><circle cx="135.3" cy="191.4"/><circle cx="135.4" cy="194.4"/><circle cx="135.5" cy="208.7"/><circle cx="135.6" cy="197.7"/><circle cx="135.6" cy="196.3"/><circle cx="135.7" cy="204.0"/><circle cx="135.8" cy="204.2"/><circle cx="135.8" cy="202.2"/><circle cx="135.9" cy="204.2"/><circle cx="136.0" cy="194.7"/><circle cx="136.1" cy="209.8"/><circle cx="136.1" cy="204.6"/><circle cx="136.2" cy="203.3"/><circle cx="136.3" cy="200.0"/><circle cx="136.4" cy="197.9"/><circle cx="136.4" cy="198.9"/><circle cx="136.5" cy="197.4"/><circle cx="136.6" cy="193.7"/><circle cx="136.7" cy="207.5"/><circle cx="136.7" cy="200.9"/><circle cx="136.8" cy="205.3"/><circle cx="136.9" cy="199.6"/><circle cx="136.9" cy="198.6"/><circle cx="137.0" cy="204.0"/><circle cx="137.1" cy="200.6"/><circle cx="137.2" cy="198.8"/><circle cx="137.2" cy="199.0"/><circle cx="137.3" cy="204.8"/><circle cx="137.4" cy="184.4"/><circle cx="137.5" cy="185.8"/><circle cx="137.5" cy="205.7"/><circle cx="137.6" cy="198.7"/><circle cx="137.7" cy="181.2"/><circle cx="137.8" cy="194.9"/><circle cx="137.8" cy="196.6"/><circle cx="137.9" cy="202.3"/><circle cx="138.0" cy="198.3"/><circle cx="138.0" cy="198.0"/><circle cx="138.1" cy="199.2"/><circle cx="138.2" cy="191.5"/><circle cx="138.3" cy="199.6"/><circle cx="138.3" cy="199.6"/><circle cx="138.4" cy="201.7"/><circle cx="138.5" cy="196.7"/><circle cx="138.6" cy="201.7"/><circle cx="138.6" cy="197.8"/><circle cx="138.7" cy="192.1"/><circle cx="138.8" cy="193.7"/><circle cx="138.9" cy="192.5"/><circle cx="138.9" cy="194.8"/><circle cx="139.0" cy="193.0"/><circle cx="139.1" cy="199.7"/><circle cx="139.1" cy="198.2"/><circle cx="139.2" cy="189.1"/><circle cx="139.3" cy="202.0"/><circle cx="139.4" cy="191.1"/><circle cx="139.4" cy="193.4"/><circle cx="139.5" cy="198.4"/><circle cx="139.6" cy="200.1"/><circle cx="139.7" cy="197.6"/><circle cx="139.7" cy="196.5"/><circle cx="139.8" cy="201.1"/><circle cx="139.9" cy="188.9"/><circle cx="140.0" cy="199.8"/><circle cx="140.0" cy="207.2"/><circle cx="140.1" cy="199.2"/><circle cx="140.2" cy="206.0"/><circle cx="140.2" cy="195.0"/><circle cx="140.3" cy="188.4"/><circle cx="140.4" cy="189.6"/><circle cx="140.5" cy="201.8"/><circle cx="140.5" cy="200.5"/><circle cx="140.6" cy="185.2"/><circle cx="140.7" cy="192.9"/><circle cx="140.8" cy="191.4"/><circle cx="140.8" cy="185.9"/><circle cx="140.9" cy="178.2"/><circle cx="141.0" cy="183.7"/><circle cx="141.0" cy="195.0"/><circle cx="141.1" cy="189.7"/><circle cx="141.2" cy="190.5"/><circle cx="141.3" cy="195.3"/><circle cx="141.3" cy="197.6"/><circle cx="141.4" cy="193.4"/><circle cx="141.5" cy="197.4"/><circle cx="141.6" cy="195.2"/><circle cx="141.6" cy="192.4"/><circle cx="141.7" cy="174.0"/><circle cx="141.8" cy="193.1"/><circle cx="141.9" cy="192.0"/><circle cx="141.9" cy="193.2"/><circle cx="142.0" cy="191.4"/><circle cx="142.1" cy="183.2"/><circle cx="142.1" cy="197.7"/><circle cx="142.2" cy="197.8"/><circle cx="142.3" cy="199.6"/><circle cx="142.4" cy="198.8"/><circle cx="142.4" cy="185.3"/><circle cx="142.5" cy="189.3"/><circle cx="142.6" cy="197.9"/><circle cx="142.7" cy="194.4"/><circle cx="142.7" cy="193.3"/><circle cx="142.8" cy="190.3"/><circle cx="142.9" cy="193.6"/><circle cx="143.0" cy="191.2"/><circle cx="143.0" cy="199.5"/><circle cx="143.1" cy="196.5"/><circle cx="143.2" cy="180.0"/><circle cx="143.2" cy="201.1"/><circle cx="143.3" cy="194.9"/><circle cx="143.4" cy="188.6"/><circle cx="143.5" cy="189.6"/><circle cx="143.5" cy="192.3"/><circle cx="143.6" cy="191.0"/><circle cx="143.7" cy="190.2"/><circle cx="143.8" cy="187.5"/><circle cx="143.8" cy="196.3"/><circle cx="143.9" cy="192.9"/><circle cx="144.0" cy="195.0"/><circle cx="144.1" cy="192.0"/><circle cx="144.1" cy="185.0"/><circle cx="144.2" cy="185.7"/><circle cx="144.3" cy="180.9"/><circle cx="144.3" cy="192.2"/><circle cx="144.4" cy="177.2"/><circle cx="144.5" cy="178.8"/><circle cx="144.6" cy="180.1"/><circle cx="144.6" cy="178.3"/><circle cx="144.7" cy="186.9"/><circle cx="144.8" cy="187.6"/><circle cx="144.9" cy="183.6"/><circle cx="144.9" cy="195.2"/><circle cx="145.0" cy="188.3"/><circle cx="145.1" cy="192.0"/><circle cx="145.2" cy="191.9"/><circle cx="145.2" cy="199.4"/><circle cx="145.3" cy="193.7"/><circle cx="145.4" cy="188.6"/><circle cx="145.4" cy="178.9"/><circle cx="145.5" cy="177.5"/><circle cx="145.6" cy="187.2"/><circle cx="145.7" cy="189.5"/><circle cx="145.7" cy="190.0"/><circle cx="145.8" cy="186.7"/><circle cx="145.9" cy="191.0"/><circle cx="146.0" cy="179.7"/><circle cx="146.0" cy="170.0"/><circle cx="146.1" cy="183.6"/><circle cx="146.2" cy="195.0"/><circle cx="146.3" cy="193.1"/><circle cx="146.3" cy="195.1"/><circle cx="146.4" cy="191.6"/><circle cx="146.5" cy="175.9"/><circle cx="146.5" cy="184.1"/><circle cx="146.6" cy="196.6"/><circle cx="146.7" cy="181.5"/><circle cx="146.8" cy="172.4"/><circle cx="146.8" cy="185.6"/><circle cx="146.9" cy="190.6"/><circle cx="147.0" cy="188.0"/><circle cx="147.1" cy="182.4"/><circle cx="147.1" cy="177.4"/><circle cx="147.2" cy="176.1"/><circle cx="147.3" cy="173.7"/><circle cx="147.4" cy="177.7"/><circle cx="147.4" cy="174.2"/><circle cx="147.5" cy="176.7"/><circle cx="147.6" cy="191.2"/><circle cx="147.6" cy="185.4"/><circle cx="147.7" cy="181.3"/><circle cx="147.8" cy="183.3"/><circle cx="147.9" cy="175.4"/><circle cx="147.9" cy="185.3"/><circle cx="148.0" cy="187.3"/><circle cx="148.1" cy="168.9"/><circle cx="148.2" cy="173.9"/><circle cx="148.2" cy="178.0"/><circle cx="148.3" cy="174.7"/><circle cx="148.4" cy="172.3"/><circle cx="148.5" cy="178.3"/><circle cx="148.5" cy="198.8"/><circle cx="148.6" cy="187.2"/><circle cx="148.7" cy="181.8"/><circle cx="148.7" cy="190.3"/><circle cx="148.8" cy="176.6"/><circle cx="148.9" cy="169.1"/><circle cx="149.0" cy="183.6"/><circle cx="149.0" cy="186.9"/><circle cx="149.1" cy="159.7"/><circle cx="149.2" cy="180.4"/><circle cx="149.3" cy="188.9"/><circle cx="149.3" cy="177.6"/><circle cx="149.4" cy="175.9"/><circle cx="149.5" cy="180.3"/><circle cx="149.6" cy="169.9"/><circle cx="149.6" cy="183.9"/><circle cx="149.7" cy="185.7"/><circle cx="149.8" cy="178.1"/><circle cx="149.8" cy="171.2"/><circle cx="149.9" cy="182.2"/><circle cx="150.0" cy="170.3"/><circle cx="150.1" cy="181.8"/><circle cx="150.1" cy="149.5"/><circle cx="150.2" cy="181.8"/><circle cx="150.3" cy="165.7"/><circle cx="150.4" cy="177.6"/><circle cx="150.4" cy="178.7"/><circle cx="150.5" cy="170.0"/><circle cx="150.6" cy="166.3"/><circle cx="150.6" cy="167.7"/><circle cx="150.7" cy="170.6"/><circle cx="150.8" cy="181.4"/><circle cx="150.9" cy="177.2"/><circle cx="150.9" cy="170.2"/><circle cx="151.0" cy="167.7"/><circle cx="151.1" cy="160.7"/><circle cx="151.2" cy="169.2"/><circle cx="151.2" cy="164.9"/><circle cx="151.3" cy="161.8"/><circle cx="151.4" cy="171.8"/><circle cx="151.5" cy="184.6"/><circle cx="151.5" cy="179.5"/><circle cx="151.6" cy="189.0"/><circle cx="151.7" cy="158.6"/><circle cx="151.7" cy="178.6"/><circle cx="151.8" cy="164.3"/><circle cx="151.9" cy="168.5"/><circle cx="152.0" cy="151.2"/><circle cx="152.0" cy="160.5"/><circle cx="152.1" cy="175.6"/><circle cx="152.2" cy="171.7"/><circle cx="152.3" cy="169.4"/><circle cx="152.3" cy="169.2"/><circle cx="152.4" cy="176.1"/><circle cx="152.5" cy="171.9"/><circle cx="152.6" cy="157.1"/><circle cx="152.6" cy="186.2"/><circle cx="152.7" cy="167.6"/><circle cx="152.8" cy="178.8"/><circle cx="152.8" cy="165.6"/><circle cx="152.9" cy="163.5"/><circle cx="153.0" cy="175.9"/><circle cx="153.1" cy="163.8"/><circle cx="153.1" cy="182.9"/><circle cx="153.2" cy="158.3"/><circle cx="153.3" cy="175.4"/><circle cx="153.4" cy="165.6"/><circle cx="153.4" cy="164.9"/><circle cx="153.5" cy="191.0"/><circle cx="153.6" cy="174.8"/><circle cx="153.7" cy="167.7"/><circle cx="153.7" cy="155.5"/><circle cx="153.8" cy="163.2"/><circle cx="153.9" cy="170.9"/><circle cx="153.9" cy="182.3"/><circle cx="154.0" cy="152.3"/><circle cx="154.1" cy="150.2"/><circle cx="154.2" cy="166.1"/><circle cx="154.2" cy="170.0"/><circle cx="154.3" cy="182.3"/><circle cx="154.4" cy="153.5"/><circle cx="154.5" cy="140.2"/><circle cx="154.5" cy="159.9"/><circle cx="154.6" cy="155.8"/><circle cx="154.7" cy="162.7"/><circle cx="154.8" cy="174.2"/><circle cx="154.8" cy="150.9"/><circle cx="154.9" cy="177.3"/><circle cx="155.0" cy="169.4"/><circle cx="155.0" cy="161.4"/><circle cx="155.1" cy="159.6"/><circle cx="155.2" cy="161.7"/><circle cx="155.3" cy="161.6"/><circle cx="155.3" cy="173.9"/><circle cx="155.4" cy="176.3"/><circle cx="155.5" cy="165.3"/><circle cx="155.6" cy="172.8"/><circle cx="155.6" cy="172.8"/><circle cx="155.7" cy="174.3"/><circle cx="155.8" cy="166.1"/><circle cx="155.9" cy="180.1"/><circle cx="155.9" cy="174.1"/><circle cx="156.0" cy="176.7"/><circle cx="156.1" cy="158.5"/><circle cx="156.1" cy="153.4"/><circle cx="156.2" cy="141.7"/><circle cx="156.3" cy="175.9"/><circle cx="156.4" cy="169.0"/><circle cx="156.4" cy="157.2"/><circle cx="156.5" cy="166.9"/><circle cx="156.6" cy="164.9"/><circle cx="156.7" cy="141.8"/><circle cx="156.7" cy="165.9"/><circle cx="156.8" cy="170.0"/><circle cx="156.9" cy="171.0"/><circle cx="157.0" cy="157.6"/><circle cx="157.0" cy="153.8"/><circle cx="157.1" cy="170.0"/><circle cx="157.2" cy="168.8"/><circle cx="157.2" cy="155.9"/><circle cx="157.3" cy="150.0"/><circle cx="157.4" cy="166.3"/><circle cx="157.5" cy="153.2"/><circle cx="157.5" cy="152.4"/><circle cx="157.6" cy="177.0"/><circle cx="157.7" cy="159.6"/><circle cx="157.8" cy="152.0"/><circle cx="157.8" cy="161.6"/><circle cx="157.9" cy="177.1"/><circle cx="158.0" cy="162.4"/><circle cx="158.1" cy="149.9"/><circle cx="158.1" cy="138.4"/><circle cx="158.2" cy="178.8"/><circle cx="158.3" cy="123.8"/><circle cx="158.3" cy="168.8"/><circle cx="158.4" cy="147.8"/><circle cx="158.5" cy="140.6"/><circle cx="158.6" cy="144.1"/><circle cx="158.6" cy="154.1"/><circle cx="158.7" cy="168.2"/><circle cx="158.8" cy="148.0"/><circle cx="158.9" cy="161.1"/><circle cx="158.9" cy="177.7"/><circle cx="159.0" cy="127.8"/><circle cx="159.1" cy="146.3"/><circle cx="159.1" cy="133.3"/><circle cx="159.2" cy="162.3"/><circle cx="159.3" cy="143.7"/><circle cx="159.4" cy="139.0"/><circle cx="159.4" cy="138.9"/><circle cx="159.5" cy="154.0"/><circle cx="159.6" cy="165.5"/><circle cx="159.7" cy="152.6"/><circle cx="159.7" cy="173.6"/><circle cx="159.8" cy="170.3"/><circle cx="159.9" cy="151.4"/><circle cx="160.0" cy="159.1"/><circle cx="160.0" cy="154.9"/><circle cx="160.1" cy="152.2"/><circle cx="160.2" cy="127.5"/><circle cx="160.2" cy="136.8"/><circle cx="160.3" cy="156.1"/><circle cx="160.4" cy="137.3"/><circle cx="160.5" cy="159.8"/><circle cx="160.5" cy="154.2"/><circle cx="160.6" cy="138.2"/><circle cx="160.7" cy="162.4"/><circle cx="160.8" cy="153.4"/><circle cx="160.8" cy="161.9"/><circle cx="160.9" cy="147.5"/><circle cx="161.0" cy="131.9"/><circle cx="161.1" cy="156.3"/><circle cx="161.1" cy="146.2"/><circle cx="161.2" cy="158.9"/><circle cx="161.3" cy="161.7"/><circle cx="161.3" cy="161.4"/><circle cx="161.4" cy="135.0"/><circle cx="161.5" cy="125.3"/><circle cx="161.6" cy="139.7"/><circle cx="161.6" cy="155.3"/><circle cx="161.7" cy="139.8"/><circle cx="161.8" cy="151.0"/><circle cx="161.9" cy="138.4"/><circle cx="161.9" cy="143.7"/><circle cx="162.0" cy="143.5"/><circle cx="162.1" cy="141.6"/><circle cx="162.2" cy="150.2"/><circle cx="162.2" cy="151.8"/><circle cx="162.3" cy="161.8"/><circle cx="162.4" cy="154.5"/><circle cx="162.4" cy="162.7"/><circle cx="162.5" cy="144.6"/><circle cx="162.6" cy="155.1"/><circle cx="162.7" cy="145.3"/><circle cx="162.7" cy="138.7"/><circle cx="162.8" cy="161.6"/><circle cx="162.9" cy="152.5"/><circle cx="163.0" cy="158.5"/><circle cx="163.0" cy="136.9"/><circle cx="163.1" cy="126.6"/><circle cx="163.2" cy="133.1"/><circle cx="163.3" cy="145.0"/><circle cx="163.3" cy="129.2"/><circle cx="163.4" cy="155.3"/><circle cx="163.5" cy="127.8"/><circle cx="163.5" cy="153.9"/><circle cx="163.6" cy="173.9"/><circle cx="163.7" cy="108.1"/><circle cx="163.8" cy="124.8"/><circle cx="163.8" cy="153.8"/><circle cx="163.9" cy="141.1"/><circle cx="164.0" cy="145.9"/><circle cx="164.1" cy="136.6"/><circle cx="164.1" cy="156.3"/><circle cx="164.2" cy="143.9"/><circle cx="164.3" cy="135.8"/><circle cx="164.4" cy="143.0"/><circle cx="164.4" cy="124.9"/><circle cx="164.5" cy="139.6"/><circle cx="164.6" cy="112.8"/><circle cx="164.6" cy="143.5"/><circle cx="164.7" cy="137.0"/><circle cx="164.8" cy="156.7"/><circle cx="164.9" cy="151.9"/><circle cx="164.9" cy="125.7"/><circle cx="165.0" cy="147.3"/><circle cx="165.1" cy="133.9"/><circle cx="165.2" cy="135.6"/><circle cx="165.2" cy="146.7"/><circle cx="165.3" cy="140.9"/><circle cx="165.4" cy="141.4"/><circle cx="165.5" cy="141.0"/><circle cx="165.5" cy="129.4"/><circle cx="165.6" cy="127.6"/><circle cx="165.7" cy="143.1"/><circle cx="165.7" cy="144.6"/><circle cx="165.8" cy="135.3"/><circle cx="165.9" cy="136.7"/><circle cx="166.0" cy="123.3"/><circle cx="166.0" cy="106.4"/><circle cx="166.1" cy="127.0"/><circle cx="166.2" cy="136.7"/><circle cx="166.3" cy="135.0"/><circle cx="166.3" cy="145.4"/><circle cx="166.4" cy="143.1"/><circle cx="166.5" cy="141.6"/><circle cx="166.6" cy="137.4"/><circle cx="166.6" cy="142.0"/><circle cx="166.7" cy="125.1"/><circle cx="166.8" cy="135.2"/><circle cx="166.8" cy="136.0"/><circle cx="166.9" cy="143.6"/><circle cx="167.0" cy="111.7"/><circle cx="167.1" cy="126.0"/><circle cx="167.1" cy="111.4"/><circle cx="167.2" cy="124.4"/><circle cx="167.3" cy="114.9"/><circle cx="167.4" cy="134.3"/><circle cx="167.4" cy="122.2"/><circle cx="167.5" cy="98.6"/><circle cx="167.6" cy="144.9"/><circle cx="167.6" cy="116.9"/><circle cx="167.7" cy="108.9"/><circle cx="167.8" cy="129.7"/><circle cx="167.9" cy="123.3"/><circle cx="167.9" cy="116.7"/><circle cx="168.0" cy="137.6"/><circle cx="168.1" cy="125.6"/><circle cx="168.2" cy="139.5"/><circle cx="168.2" cy="138.7"/><circle cx="168.3" cy="134.3"/><circle cx="168.4" cy="129.8"/><circle cx="168.5" cy="130.9"/><circle cx="168.5" cy="123.0"/><circle cx="168.6" cy="146.4"/><circle cx="168.7" cy="98.7"/><circle cx="168.7" cy="114.4"/><circle cx="168.8" cy="119.6"/><circle cx="168.9" cy="131.2"/><circle cx="169.0" cy="128.6"/><circle cx="169.0" cy="120.4"/><circle cx="169.1" cy="117.9"/><circle cx="169.2" cy="144.6"/><circle cx="169.3" cy="115.0"/><circle cx="169.3" cy="90.5"/><circle cx="169.4" cy="148.5"/><circle cx="169.5" cy="108.7"/><circle cx="169.6" cy="119.1"/><circle cx="169.6" cy="124.2"/><circle cx="169.7" cy="109.4"/><circle cx="169.8" cy="136.1"/><circle cx="169.8" cy="121.5"/><circle cx="169.9" cy="106.8"/><circle cx="170.0" cy="120.9"/><circle cx="170.1" cy="127.4"/><circle cx="170.1" cy="122.7"/><circle cx="170.2" cy="128.2"/><circle cx="170.3" cy="100.9"/><circle cx="170.4" cy="130.8"/><circle cx="170.4" cy="109.7"/><circle cx="170.5" cy="133.9"/><circle cx="170.6" cy="109.8"/><circle cx="170.7" cy="126.2"/><circle cx="170.7" cy="151.2"/><circle cx="170.8" cy="123.8"/><circle cx="170.9" cy="133.5"/><circle cx="170.9" cy="123.0"/><circle cx="171.0" cy="99.3"/><circle cx="171.1" cy="136.1"/><circle cx="171.2" cy="133.6"/><circle cx="171.2" cy="98.9"/><circle cx="171.3" cy="119.7"/><circle cx="171.4" cy="100.0"/><circle cx="171.5" cy="114.4"/><circle cx="171.5" cy="134.1"/><circle cx="171.6" cy="117.8"/><circle cx="171.7" cy="101.9"/><circle cx="171.8" cy="104.7"/><circle cx="171.8" cy="120.6"/><circle cx="171.9" cy="119.2"/><circle cx="172.0" cy="120.6"/><circle cx="172.0" cy="124.1"/><circle cx="172.1" cy="91.6"/><circle cx="172.2" cy="116.6"/><circle cx="172.3" cy="126.3"/><circle cx="172.3" cy="119.4"/><circle cx="172.4" cy="108.5"/><circle cx="172.5" cy="109.2"/><circle cx="172.6" cy="113.3"/><circle cx="172.6" cy="124.8"/><circle cx="172.7" cy="111.5"/><circle cx="172.8" cy="131.4"/><circle cx="172.9" cy="132.1"/><circle cx="172.9" cy="104.9"/><circle cx="173.0" cy="120.3"/><circle cx="173.1" cy="111.1"/><circle cx="173.1" cy="100.6"/><circle cx="173.2" cy="106.2"/><circle cx="173.3" cy="110.9"/><circle cx="173.4" cy="85.5"/><circle cx="173.4" cy="104.7"/><circle cx="173.5" cy="118.4"/><circle cx="173.6" cy="106.4"/><circle cx="173.7" cy="103.0"/><circle cx="173.7" cy="128.5"/><circle cx="173.8" cy="112.1"/><circle cx="173.9" cy="112.1"/><circle cx="174.0" cy="138.3"/><circle cx="174.0" cy="111.6"/><circle cx="174.1" cy="111.2"/><circle cx="174.2" cy="118.3"/><circle cx="174.2" cy="130.2"/><circle cx="174.3" cy="117.3"/><circle cx="174.4" cy="108.7"/><circle cx="174.5" cy="107.8"/><circle cx="174.5" cy="123.3"/><circle cx="174.6" cy="97.4"/><circle cx="174.7" cy="123.2"/><circle cx="174.8" cy="107.9"/><circle cx="174.8" cy="89.3"/><circle cx="174.9" cy="120.0"/><circle cx="175.0" cy="113.7"/><circle cx="175.1" cy="92.3"/><circle cx="175.1" cy="115.8"/><circle cx="175.2" cy="107.4"/><circle cx="175.3" cy="103.8"/><circle cx="175.3" cy="91.9"/><circle cx="175.4" cy="135.7"/><circle cx="175.5" cy="116.7"/><circle cx="175.6" cy="118.2"/><circle cx="175.6" cy="120.5"/><circle cx="175.7" cy="116.3"/><circle cx="175.8" cy="121.3"/><circle cx="175.9" cy="97.6"/><circle cx="175.9" cy="118.9"/><circle cx="176.0" cy="108.5"/><circle cx="176.1" cy="101.6"/><circle cx="176.2" cy="115.4"/><circle cx="176.2" cy="100.7"/><circle cx="176.3" cy="83.3"/><circle cx="176.4" cy="98.5"/><circle cx="176.4" cy="113.4"/><circle cx="176.5" cy="98.0"/><circle cx="176.6" cy="113.0"/><circle cx="176.7" cy="93.9"/><circle cx="176.7" cy="93.1"/><circle cx="176.8" cy="110.6"/><circle cx="176.9" cy="106.7"/><circle cx="177.0" cy="84.5"/><circle cx="177.0" cy="105.7"/><circle cx="177.1" cy="102.6"/><circle cx="177.2" cy="116.6"/><circle cx="177.2" cy="113.6"/><circle cx="177.3" cy="110.4"/><circle cx="177.4" cy="71.7"/><circle cx="177.5" cy="107.2"/><circle cx="177.5" cy="109.7"/><circle cx="177.6" cy="106.0"/><circle cx="177.7" cy="99.7"/><circle cx="177.8" cy="93.3"/><circle cx="177.8" cy="97.6"/><circle cx="177.9" cy="69.5"/><circle cx="178.0" cy="95.9"/><circle cx="178.1" cy="79.6"/><circle cx="178.1" cy="91.8"/><circle cx="178.2" cy="86.8"/><circle cx="178.3" cy="113.5"/><circle cx="178.3" cy="99.0"/><circle cx="178.4" cy="92.4"/><circle cx="178.5" cy="95.0"/><circle cx="178.6" cy="124.1"/><circle cx="178.6" cy="83.8"/><circle cx="178.7" cy="97.5"/><circle cx="178.8" cy="103.0"/><circle cx="178.9" cy="97.4"/><circle cx="178.9" cy="97.7"/><circle cx="179.0" cy="90.7"/><circle cx="179.1" cy="110.7"/><circle cx="179.2" cy="109.8"/><circle cx="179.2" cy="91.1"/><circle cx="179.3" cy="96.7"/><circle cx="179.4" cy="92.4"/><circle cx="179.4" cy="96.7"/><circle cx="179.5" cy="100.4"/><circle cx="179.6" cy="92.5"/><circle cx="179.7" cy="72.9"/><circle cx="179.7" cy="102.3"/><circle cx="179.8" cy="67.3"/><circle cx="179.9" cy="77.1"/><circle cx="180.0" cy="99.7"/><circle cx="180.0" cy="78.7"/><circle cx="180.1" cy="110.6"/><circle cx="180.2" cy="115.4"/><circle cx="180.3" cy="109.6"/><circle cx="180.3" cy="94.4"/><circle cx="180.4" cy="91.4"/><circle cx="180.5" cy="99.9"/><circle cx="180.5" cy="82.9"/><circle cx="180.6" cy="112.7"/><circle cx="180.7" cy="82.5"/><circle cx="180.8" cy="107.8"/><circle cx="180.8" cy="97.2"/><circle cx="180.9" cy="90.9"/><circle cx="181.0" cy="103.8"/><circle cx="181.1" cy="108.0"/><circle cx="181.1" cy="99.6"/><circle cx="181.2" cy="92.2"/><circle cx="181.3" cy="77.7"/><circle cx="181.4" cy="75.0"/><circle cx="181.4" cy="98.6"/><circle cx="181.5" cy="94.5"/><circle cx="181.6" cy="96.7"/><circle cx="181.6" cy="76.7"/><circle cx="181.7" cy="110.9"/><circle cx="181.8" cy="69.0"/><circle cx="181.9" cy="91.6"/><circle cx="181.9" cy="95.1"/><circle cx="182.0" cy="75.5"/><circle cx="182.1" cy="64.1"/><circle cx="182.2" cy="77.2"/><circle cx="182.2" cy="69.8"/><circle cx="182.3" cy="82.6"/><circle cx="182.4" cy="65.0"/><circle cx="182.5" cy="61.0"/><circle cx="182.5" cy="82.2"/><circle cx="182.6" cy="68.6"/><circle cx="182.7" cy="81.0"/><circle cx="182.7" cy="77.4"/><circle cx="182.8" cy="92.9"/><circle cx="182.9" cy="84.5"/><circle cx="183.0" cy="68.7"/><circle cx="183.0" cy="93.7"/><circle cx="183.1" cy="70.8"/><circle cx="183.2" cy="69.9"/><circle cx="183.3" cy="71.8"/><circle cx="183.3" cy="108.0"/><circle cx="183.4" cy="77.6"/><circle cx="183.5" cy="69.3"/><circle cx="183.6" cy="90.9"/><circle cx="183.6" cy="77.2"/><circle cx="183.7" cy="111.3"/><circle cx="183.8" cy="66.1"/><circle cx="183.8" cy="86.1"/><circle cx="183.9" cy="63.4"/><circle cx="184.0" cy="99.5"/><circle cx="184.1" cy="72.4"/><circle cx="184.1" cy="78.4"/><circle cx="184.2" cy="70.2"/><circle cx="184.3" cy="87.9"/><circle cx="184.4" cy="86.0"/><circle cx="184.4" cy="86.3"/><circle cx="184.5" cy="82.5"/><circle cx="184.6" cy="88.6"/><circle cx="184.7" cy="77.4"/><circle cx="184.7" cy="88.3"/><circle cx="184.8" cy="78.3"/><circle cx="184.9" cy="79.2"/><circle cx="184.9" cy="82.7"/><circle cx="185.0" cy="98.1"/><circle cx="185.1" cy="76.0"/><circle cx="185.2" cy="67.1"/><circle cx="185.2" cy="70.5"/><circle cx="185.3" cy="79.5"/><circle cx="185.4" cy="85.9"/><circle cx="185.5" cy="74.4"/><circle cx="185.5" cy="91.2"/><circle cx="185.6" cy="90.6"/><circle cx="185.7" cy="76.3"/><circle cx="185.7" cy="78.0"/><circle cx="185.8" cy="93.5"/><circle cx="185.9" cy="71.9"/><circle cx="186.0" cy="80.4"/><circle cx="186.0" cy="73.2"/><circle cx="186.1" cy="84.3"/><circle cx="186.2" cy="66.8"/><circle cx="186.3" cy="86.0"/><circle cx="186.3" cy="66.9"/><circle cx="186.4" cy="81.1"/><circle cx="186.5" cy="68.7"/><circle cx="186.6" cy="79.6"/><circle cx="186.6" cy="76.2"/><circle cx="186.7" cy="62.9"/><circle cx="186.8" cy="84.2"/><circle cx="186.8" cy="70.7"/><circle cx="186.9" cy="75.9"/><circle cx="187.0" cy="69.7"/><circle cx="187.1" cy="64.3"/><circle cx="187.1" cy="78.4"/><circle cx="187.2" cy="72.2"/><circle cx="187.3" cy="86.8"/><circle cx="187.4" cy="70.9"/><circle cx="187.4" cy="72.5"/><circle cx="187.5" cy="75.7"/><circle cx="187.6" cy="80.5"/><circle cx="187.7" cy="68.2"/><circle cx="187.7" cy="75.7"/><circle cx="187.8" cy="78.7"/><circle cx="187.9" cy="76.8"/><circle cx="187.9" cy="90.3"/><circle cx="188.0" cy="79.2"/><circle cx="188.1" cy="72.1"/><circle cx="188.2" cy="64.4"/><circle cx="188.2" cy="80.7"/><circle cx="188.3" cy="80.3"/><circle cx="188.4" cy="76.7"/><circle cx="188.5" cy="67.8"/><circle cx="188.5" cy="73.3"/><circle cx="188.6" cy="87.4"/><circle cx="188.7" cy="76.6"/><circle cx="188.8" cy="72.2"/><circle cx="188.8" cy="76.3"/><circle cx="188.9" cy="76.9"/><circle cx="189.0" cy="72.5"/><circle cx="189.0" cy="79.7"/><circle cx="189.1" cy="93.2"/><circle cx="189.2" cy="72.2"/><circle cx="189.3" cy="74.0"/><circle cx="189.3" cy="75.1"/><circle cx="189.4" cy="93.6"/><circle cx="189.5" cy="69.3"/><circle cx="189.6" cy="86.9"/><circle cx="189.6" cy="67.1"/><circle cx="189.7" cy="87.4"/><circle cx="189.8" cy="62.1"/><circle cx="189.9" cy="73.5"/><circle cx="189.9" cy="102.5"/><circle cx="190.0" cy="80.8"/><circle cx="190.1" cy="80.5"/><circle cx="190.1" cy="109.0"/><circle cx="190.2" cy="81.1"/><circle cx="190.3" cy="65.1"/><circle cx="190.4" cy="91.5"/><circle cx="190.4" cy="70.7"/><circle cx="190.5" cy="91.9"/><circle cx="190.6" cy="97.7"/><circle cx="190.7" cy="72.2"/><circle cx="190.7" cy="64.8"/><circle cx="190.8" cy="77.4"/><circle cx="190.9" cy="83.3"/><circle cx="191.0" cy="68.5"/><circle cx="191.0" cy="86.2"/><circle cx="191.1" cy="82.4"/><circle cx="191.2" cy="74.3"/><circle cx="191.2" cy="75.6"/><circle cx="191.3" cy="75.0"/><circle cx="191.4" cy="90.9"/><circle cx="191.5" cy="72.0"/><circle cx="191.5" cy="92.6"/><circle cx="191.6" cy="76.1"/><circle cx="191.7" cy="72.9"/><circle cx="191.8" cy="71.6"/><circle cx="191.8" cy="63.7"/><circle cx="191.9" cy="85.6"/><circle cx="192.0" cy="69.6"/><circle cx="192.1" cy="84.6"/><circle cx="192.1" cy="96.8"/><circle cx="192.2" cy="94.7"/><circle cx="192.3" cy="104.2"/><circle cx="192.3" cy="78.5"/><circle cx="192.4" cy="69.0"/><circle cx="192.5" cy="99.6"/><circle cx="192.6" cy="91.6"/><circle cx="192.6" cy="99.7"/><circle cx="192.7" cy="86.2"/><circle cx="192.8" cy="102.4"/><circle cx="192.9" cy="95.2"/><circle cx="192.9" cy="94.9"/><circle cx="193.0" cy="91.3"/><circle cx="193.1" cy="96.4"/><circle cx="193.2" cy="88.8"/><circle cx="193.2" cy="92.0"/><circle cx="193.3" cy="102.9"/><circle cx="193.4" cy="82.9"/><circle cx="193.4" cy="107.4"/><circle cx="193.5" cy="84.6"/><circle cx="193.6" cy="103.6"/><circle cx="193.7" cy="90.6"/><circle cx="193.7" cy="85.5"/><circle cx="193.8" cy="116.7"/><circle cx="193.9" cy="80.8"/><circle cx="194.0" cy="75.9"/><circle cx="194.0" cy="85.1"/><circle cx="194.1" cy="86.6"/><circle cx="194.2" cy="118.3"/><circle cx="194.2" cy="93.6"/><circle cx="194.3" cy="101.6"/><circle cx="194.4" cy="71.9"/><circle cx="194.5" cy="97.5"/><circle cx="194.5" cy="102.3"/><circle cx="194.6" cy="119.7"/><circle cx="194.7" cy="82.1"/><circle cx="194.8" cy="98.6"/><circle cx="194.8" cy="97.9"/><circle cx="194.9" cy="75.9"/><circle cx="195.0" cy="93.3"/><circle cx="195.1" cy="86.2"/><circle cx="195.1" cy="67.2"/><circle cx="195.2" cy="104.9"/><circle cx="195.3" cy="103.3"/><circle cx="195.3" cy="92.9"/><circle cx="195.4" cy="81.2"/><circle cx="195.5" cy="113.4"/><circle cx="195.6" cy="97.0"/><circle cx="195.6" cy="103.7"/><circle cx="195.7" cy="114.1"/><circle cx="195.8" cy="89.9"/><circle cx="195.9" cy="109.6"/><circle cx="195.9" cy="91.2"/><circle cx="196.0" cy="95.4"/><circle cx="196.1" cy="97.9"/><circle cx="196.2" cy="95.9"/><circle cx="196.2" cy="110.4"/><circle cx="196.3" cy="104.6"/><circle cx="196.4" cy="94.6"/><circle cx="196.4" cy="94.8"/><circle cx="196.5" cy="104.2"/><circle cx="196.6" cy="88.0"/><circle cx="196.7" cy="88.2"/><circle cx="196.7" cy="95.1"/><circle cx="196.8" cy="87.7"/><circle cx="196.9" cy="101.6"/><circle cx="197.0" cy="94.1"/><circle cx="197.0" cy="123.4"/><circle cx="197.1" cy="120.5"/><circle cx="197.2" cy="108.4"/><circle cx="197.3" cy="105.3"/><circle cx="197.3" cy="124.2"/><circle cx="197.4" cy="103.1"/><circle cx="197.5" cy="99.8"/><circle cx="197.5" cy="105.4"/><circle cx="197.6" cy="107.3"/><circle cx="197.7" cy="121.5"/><circle cx="197.8" cy="101.2"/><circle cx="197.8" cy="130.7"/><circle cx="197.9" cy="88.8"/><circle cx="198.0" cy="113.5"/><circle cx="198.1" cy="93.1"/><circle cx="198.1" cy="123.6"/><circle cx="198.2" cy="100.7"/><circle cx="198.3" cy="102.5"/><circle cx="198.4" cy="117.6"/><circle cx="198.4" cy="126.4"/><circle cx="198.5" cy="89.5"/><circle cx="198.6" cy="104.8"/><circle cx="198.6" cy="84.6"/><circle cx="198.7" cy="111.5"/><circle cx="198.8" cy="109.7"/><circle cx="198.9" cy="101.4"/><circle cx="198.9" cy="97.2"/><circle cx="199.0" cy="102.0"/><circle cx="199.1" cy="101.1"/><circle cx="199.2" cy="111.9"/><circle cx="199.2" cy="130.0"/><circle cx="199.3" cy="83.5"/><circle cx="199.4" cy="108.7"/><circle cx="199.5" cy="104.2"/><circle cx="199.5" cy="112.8"/><circle cx="199.6" cy="98.7"/><circle cx="199.7" cy="105.8"/><circle cx="199.7" cy="94.6"/><circle cx="199.8" cy="122.7"/><circle cx="199.9" cy="113.8"/><circle cx="200.0" cy="108.9"/><circle cx="200.0" cy="116.5"/><circle cx="200.1" cy="106.6"/><circle cx="200.2" cy="95.9"/><circle cx="200.3" cy="116.9"/><circle cx="200.3" cy="113.1"/><circle cx="200.4" cy="109.8"/><circle cx="200.5" cy="127.4"/><circle cx="200.6" cy="127.0"/><circle cx="200.6" cy="100.0"/><circle cx="200.7" cy="101.3"/><circle cx="200.8" cy="131.6"/><circle cx="200.8" cy="128.4"/><circle cx="200.9" cy="105.1"/><circle cx="201.0" cy="95.0"/><circle cx="201.1" cy="111.5"/><circle cx="201.1" cy="110.1"/><circle cx="201.2" cy="92.9"/><circle cx="201.3" cy="118.6"/><circle cx="201.4" cy="96.8"/><circle cx="201.4" cy="102.9"/><circle cx="201.5" cy="126.2"/><circle cx="201.6" cy="109.0"/><circle cx="201.7" cy="115.8"/><circle cx="201.7" cy="123.3"/><circle cx="201.8" cy="126.4"/><circle cx="201.9" cy="112.9"/><circle cx="201.9" cy="111.9"/><circle cx="202.0" cy="106.4"/><circle cx="202.1" cy="139.4"/><circle cx="202.2" cy="123.1"/><circle cx="202.2" cy="101.6"/><circle cx="202.3" cy="114.9"/><circle cx="202.4" cy="122.5"/><circle cx="202.5" cy="126.5"/><circle cx="202.5" cy="136.7"/><circle cx="202.6" cy="132.0"/><circle cx="202.7" cy="112.1"/><circle cx="202.8" cy="117.6"/><circle cx="202.8" cy="109.3"/><circle cx="202.9" cy="124.2"/><circle cx="203.0" cy="117.5"/><circle cx="203.0" cy="152.8"/><circle cx="203.1" cy="123.0"/><circle cx="203.2" cy="93.5"/><circle cx="203.3" cy="110.9"/><circle cx="203.3" cy="118.6"/><circle cx="203.4" cy="110.0"/><circle cx="203.5" cy="110.4"/><circle cx="203.6" cy="115.2"/><circle cx="203.6" cy="129.3"/><circle cx="203.7" cy="120.4"/><circle cx="203.8" cy="106.5"/><circle cx="203.8" cy="128.7"/><circle cx="203.9" cy="115.0"/><circle cx="204.0" cy="122.7"/><circle cx="204.1" cy="106.5"/><circle cx="204.1" cy="112.9"/><circle cx="204.2" cy="132.1"/><circle cx="204.3" cy="104.1"/><circle cx="204.4" cy="118.0"/><circle cx="204.4" cy="133.2"/><circle cx="204.5" cy="122.7"/><circle cx="204.6" cy="127.3"/><circle cx="204.7" cy="112.0"/><circle cx="204.7" cy="140.3"/><circle cx="204.8" cy="137.9"/><circle cx="204.9" cy="126.8"/><circle cx="204.9" cy="103.8"/><circle cx="205.0" cy="116.4"/><circle cx="205.1" cy="137.5"/><circle cx="205.2" cy="144.3"/><circle cx="205.2" cy="131.5"/><circle cx="205.3" cy="138.0"/><circle cx="205.4" cy="118.4"/><circle cx="205.5" cy="127.9"/><circle cx="205.5" cy="127.2"/><circle cx="205.6" cy="128.2"/><circle cx="205.7" cy="105.4"/><circle cx="205.8" cy="138.7"/><circle cx="205.8" cy="140.9"/><circle cx="205.9" cy="116.8"/><circle cx="206.0" cy="116.2"/><circle cx="206.0" cy="132.0"/><circle cx="206.1" cy="121.4"/><circle cx="206.2" cy="99.5"/><circle cx="206.3" cy="138.7"/><circle cx="206.3" cy="131.2"/><circle cx="206.4" cy="126.3"/><circle cx="206.5" cy="151.9"/><circle cx="206.6" cy="130.5"/><circle cx="206.6" cy="122.6"/><circle cx="206.7" cy="130.5"/><circle cx="206.8" cy="123.7"/><circle cx="206.9" cy="124.9"/><circle cx="206.9" cy="132.7"/><circle cx="207.0" cy="121.7"/><circle cx="207.1" cy="126.8"/><circle cx="207.1" cy="150.5"/><circle cx="207.2" cy="144.7"/><circle cx="207.3" cy="140.6"/><circle cx="207.4" cy="136.9"/><circle cx="207.4" cy="141.8"/><circle cx="207.5" cy="147.8"/><circle cx="207.6" cy="132.4"/><circle cx="207.7" cy="152.5"/><circle cx="207.7" cy="126.2"/><circle cx="207.8" cy="130.4"/><circle cx="207.9" cy="122.4"/><circle cx="208.0" cy="127.6"/><circle cx="208.0" cy="140.0"/><circle cx="208.1" cy="153.1"/><circle cx="208.2" cy="125.0"/><circle cx="208.2" cy="133.0"/><circle cx="208.3" cy="133.5"/><circle cx="208.4" cy="122.7"/><circle cx="208.5" cy="125.4"/><circle cx="208.5" cy="136.3"/><circle cx="208.6" cy="113.8"/><circle cx="208.7" cy="143.1"/><circle cx="208.8" cy="134.9"/><circle cx="208.8" cy="130.3"/><circle cx="208.9" cy="126.4"/><circle cx="209.0" cy="124.8"/><circle cx="209.1" cy="156.7"/><circle cx="209.1" cy="125.8"/><circle cx="209.2" cy="156.5"/><circle cx="209.3" cy="145.9"/><circle cx="209.3" cy="137.6"/><circle cx="209.4" cy="122.5"/><circle cx="209.5" cy="153.0"/><circle cx="209.6" cy="159.0"/><circle cx="209.6" cy="130.2"/><circle cx="209.7" cy="136.4"/><circle cx="209.8" cy="149.2"/><circle cx="209.9" cy="141.8"/><circle cx="209.9" cy="162.1"/><circle cx="210.0" cy="135.3"/><circle cx="210.1" cy="146.4"/><circle cx="210.2" cy="125.4"/><circle cx="210.2" cy="161.8"/><circle cx="210.3" cy="134.7"/><circle cx="210.4" cy="121.5"/><circle cx="210.4" cy="135.2"/><circle cx="210.5" cy="138.0"/><circle cx="210.6" cy="161.8"/><circle cx="210.7" cy="137.8"/><circle cx="210.7" cy="143.5"/><circle cx="210.8" cy="151.2"/><circle cx="210.9" cy="160.3"/><circle cx="211.0" cy="142.9"/><circle cx="211.0" cy="155.4"/><circle cx="211.1" cy="152.3"/><circle cx="211.2" cy="141.1"/><circle cx="211.3" cy="143.5"/><circle cx="211.3" cy="145.6"/><circle cx="211.4" cy="134.5"/><circle cx="211.5" cy="161.6"/><circle cx="211.5" cy="130.4"/><circle cx="211.6" cy="157.3"/><circle cx="211.7" cy="157.5"/><circle cx="211.8" cy="148.3"/><circle cx="211.8" cy="136.4"/><circle cx="211.9" cy="145.1"/><circle cx="212.0" cy="149.8"/><circle cx="212.1" cy="154.6"/><circle cx="212.1" cy="148.0"/><circle cx="212.2" cy="157.5"/><circle cx="212.3" cy="144.1"/><circle cx="212.3" cy="149.6"/><circle cx="212.4" cy="131.2"/><circle cx="212.5" cy="153.6"/><circle cx="212.6" cy="150.2"/><circle cx="212.6" cy="144.2"/><circle cx="212.7" cy="158.4"/><circle cx="212.8" cy="152.5"/><circle cx="212.9" cy="117.8"/><circle cx="212.9" cy="146.7"/><circle cx="213.0" cy="132.3"/><circle cx="213.1" cy="158.6"/><circle cx="213.2" cy="172.5"/><circle cx="213.2" cy="143.0"/><circle cx="213.3" cy="150.2"/><circle cx="213.4" cy="146.9"/><circle cx="213.4" cy="148.4"/><circle cx="213.5" cy="156.7"/><circle cx="213.6" cy="164.4"/><circle cx="213.7" cy="140.7"/><circle cx="213.7" cy="167.2"/><circle cx="213.8" cy="140.4"/><circle cx="213.9" cy="156.3"/><circle cx="214.0" cy="167.7"/><circle cx="214.0" cy="158.4"/><circle cx="214.1" cy="145.4"/><circle cx="214.2" cy="144.0"/><circle cx="214.3" cy="147.0"/><circle cx="214.3" cy="149.2"/><circle cx="214.4" cy="161.2"/><circle cx="214.5" cy="138.1"/><circle cx="214.5" cy="158.9"/><circle cx="214.6" cy="162.1"/><circle cx="214.7" cy="160.9"/><circle cx="214.8" cy="158.3"/><circle cx="214.8" cy="173.6"/><circle cx="214.9" cy="158.9"/><circle cx="215.0" cy="163.3"/><circle cx="215.1" cy="158.9"/><circle cx="215.1" cy="173.3"/><circle cx="215.2" cy="134.4"/><circle cx="215.3" cy="169.7"/><circle cx="215.4" cy="153.3"/><circle cx="215.4" cy="156.2"/><circle cx="215.5" cy="145.1"/><circle cx="215.6" cy="132.4"/><circle cx="215.6" cy="151.5"/><circle cx="215.7" cy="148.2"/><circle cx="215.8" cy="163.7"/><circle cx="215.9" cy="137.6"/><circle cx="215.9" cy="172.7"/><circle cx="216.0" cy="158.1"/><circle cx="216.1" cy="154.0"/><circle cx="216.2" cy="152.0"/><circle cx="216.2" cy="147.0"/><circle cx="216.3" cy="145.9"/><circle cx="216.4" cy="151.7"/><circle cx="216.5" cy="157.2"/><circle cx="216.5" cy="156.3"/><circle cx="216.6" cy="144.5"/><circle cx="216.7" cy="154.6"/><circle cx="216.7" cy="150.5"/><circle cx="216.8" cy="160.8"/><circle cx="216.9" cy="178.5"/><circle cx="217.0" cy="169.2"/><circle cx="217.0" cy="157.7"/><circle cx="217.1" cy="143.9"/><circle cx="217.2" cy="145.3"/><circle cx="217.3" cy="139.8"/><circle cx="217.3" cy="171.4"/><circle cx="217.4" cy="152.3"/><circle cx="217.5" cy="166.4"/><circle cx="217.6" cy="156.6"/><circle cx="217.6" cy="163.5"/><circle cx="217.7" cy="179.5"/><circle cx="217.8" cy="158.3"/><circle cx="217.8" cy="158.0"/><circle cx="217.9" cy="153.3"/><circle cx="218.0" cy="171.2"/><circle cx="218.1" cy="153.5"/><circle cx="218.1" cy="146.1"/><circle cx="218.2" cy="148.8"/><circle cx="218.3" cy="150.3"/><circle cx="218.4" cy="164.7"/><circle cx="218.4" cy="184.3"/><circle cx="218.5" cy="153.9"/><circle cx="218.6" cy="170.7"/><circle cx="218.7" cy="166.4"/><circle cx="218.7" cy="151.2"/><circle cx="218.8" cy="161.2"/><circle cx="218.9" cy="164.6"/><circle cx="218.9" cy="155.5"/><circle cx="219.0" cy="181.6"/><circle cx="219.1" cy="147.6"/><circle cx="219.2" cy="170.8"/><circle cx="219.2" cy="167.0"/><circle cx="219.3" cy="160.7"/><circle cx="219.4" cy="167.5"/><circle cx="219.5" cy="173.2"/><circle cx="219.5" cy="167.7"/><circle cx="219.6" cy="173.7"/><circle cx="219.7" cy="172.1"/><circle cx="219.8" cy="143.8"/><circle cx="219.8" cy="178.5"/><circle cx="219.9" cy="183.1"/><circle cx="220.0" cy="175.8"/><circle cx="220.0" cy="175.4"/><circle cx="220.1" cy="149.7"/><circle cx="220.2" cy="167.6"/><circle cx="220.3" cy="156.4"/><circle cx="220.3" cy="159.0"/><circle cx="220.4" cy="175.8"/><circle cx="220.5" cy="156.9"/><circle cx="220.6" cy="166.1"/><circle cx="220.6" cy="151.5"/><circle cx="220.7" cy="165.6"/><circle cx="220.8" cy="169.7"/><circle cx="220.8" cy="162.0"/><circle cx="220.9" cy="162.6"/><circle cx="221.0" cy="182.8"/><circle cx="221.1" cy="156.8"/><circle cx="221.1" cy="161.4"/><circle cx="221.2" cy="161.7"/><circle cx="221.3" cy="179.5"/><circle cx="221.4" cy="188.9"/><circle cx="221.4" cy="175.1"/><circle cx="221.5" cy="165.3"/><circle cx="221.6" cy="168.8"/><circle cx="221.7" cy="179.9"/><circle cx="221.7" cy="160.9"/><circle cx="221.8" cy="180.1"/><circle cx="221.9" cy="181.3"/><circle cx="221.9" cy="171.0"/><circle cx="222.0" cy="175.9"/><circle cx="222.1" cy="176.5"/><circle cx="222.2" cy="185.8"/><circle cx="222.2" cy="161.6"/><circle cx="222.3" cy="182.1"/><circle cx="222.4" cy="170.2"/><circle cx="222.5" cy="167.4"/><circle cx="222.5" cy="175.7"/><circle cx="222.6" cy="172.6"/><circle cx="222.7" cy="167.4"/><circle cx="222.8" cy="157.4"/><circle cx="222.8" cy="165.7"/><circle cx="222.9" cy="185.6"/><circle cx="223.0" cy="188.8"/><circle cx="223.0" cy="178.8"/><circle cx="223.1" cy="185.3"/><circle cx="223.2" cy="170.8"/><circle cx="223.3" cy="178.0"/><circle cx="223.3" cy="182.3"/><circle cx="223.4" cy="169.8"/><circle cx="223.5" cy="163.7"/><circle cx="223.6" cy="180.5"/><circle cx="223.6" cy="172.5"/><circle cx="223.7" cy="163.7"/><circle cx="223.8" cy="180.5"/><circle cx="223.9" cy="171.3"/><circle cx="223.9" cy="181.1"/><circle cx="224.0" cy="175.1"/><circle cx="224.1" cy="170.1"/><circle cx="224.1" cy="177.2"/><circle cx="224.2" cy="177.5"/><circle cx="224.3" cy="170.8"/><circle cx="224.4" cy="175.3"/><circle cx="224.4" cy="186.0"/><circle cx="224.5" cy="185.4"/><circle cx="224.6" cy="183.5"/><circle cx="224.7" cy="164.0"/><circle cx="224.7" cy="175.4"/><circle cx="224.8" cy="176.6"/><circle cx="224.9" cy="179.9"/><circle cx="225.0" cy="175.8"/><circle cx="225.0" cy="175.8"/><circle cx="225.1" cy="187.3"/><circle cx="225.2" cy="183.5"/><circle cx="225.2" cy="171.0"/><circle cx="225.3" cy="188.8"/><circle cx="225.4" cy="183.3"/><circle cx="225.5" cy="173.3"/><circle cx="225.5" cy="182.8"/><circle cx="225.6" cy="173.4"/><circle cx="225.7" cy="188.7"/><circle cx="225.8" cy="181.5"/><circle cx="225.8" cy="174.2"/><circle cx="225.9" cy="182.2"/><circle cx="226.0" cy="175.5"/><circle cx="226.1" cy="179.5"/><circle cx="226.1" cy="181.9"/><circle cx="226.2" cy="179.5"/><circle cx="226.3" cy="178.0"/><circle cx="226.3" cy="160.7"/><circle cx="226.4" cy="183.4"/><circle cx="226.5" cy="166.4"/><circle cx="226.6" cy="181.6"/><circle cx="226.6" cy="186.6"/><circle cx="226.7" cy="185.7"/><circle cx="226.8" cy="180.3"/><circle cx="226.9" cy="181.6"/><circle cx="226.9" cy="182.5"/><circle cx="227.0" cy="181.3"/><circle cx="227.1" cy="178.5"/><circle cx="227.2" cy="175.4"/><circle cx="227.2" cy="190.8"/><circle cx="227.3" cy="185.6"/><circle cx="227.4" cy="190.5"/><circle cx="227.4" cy="185.3"/><circle cx="227.5" cy="182.7"/><circle cx="227.6" cy="184.7"/><circle cx="227.7" cy="188.0"/><circle cx="227.7" cy="190.9"/><circle cx="227.8" cy="187.3"/><circle cx="227.9" cy="181.7"/><circle cx="228.0" cy="182.4"/><circle cx="228.0" cy="192.3"/><circle cx="228.1" cy="182.5"/><circle cx="228.2" cy="182.5"/><circle cx="228.3" cy="190.9"/><circle cx="228.3" cy="192.8"/><circle cx="228.4" cy="188.3"/><circle cx="228.5" cy="182.7"/><circle cx="228.5" cy="197.2"/><circle cx="228.6" cy="187.8"/><circle cx="228.7" cy="189.3"/><circle cx="228.8" cy="185.5"/><circle cx="228.8" cy="175.1"/><circle cx="228.9" cy="174.2"/><circle cx="229.0" cy="193.2"/><circle cx="229.1" cy="189.7"/><circle cx="229.1" cy="186.0"/><circle cx="229.2" cy="179.0"/><circle cx="229.3" cy="180.3"/><circle cx="229.4" cy="183.6"/><circle cx="229.4" cy="178.2"/><circle cx="229.5" cy="193.6"/><circle cx="229.6" cy="195.6"/><circle cx="229.6" cy="204.5"/><circle cx="229.7" cy="194.2"/><circle cx="229.8" cy="187.3"/><circle cx="229.9" cy="183.8"/><circle cx="229.9" cy="168.1"/><circle cx="230.0" cy="184.2"/><circle cx="230.1" cy="187.3"/><circle cx="230.2" cy="194.8"/><circle cx="230.2" cy="188.9"/><circle cx="230.3" cy="191.9"/><circle cx="230.4" cy="192.7"/><circle cx="230.4" cy="194.4"/><circle cx="230.5" cy="198.6"/><circle cx="230.6" cy="182.3"/><circle cx="230.7" cy="187.6"/><circle cx="230.7" cy="181.5"/><circle cx="230.8" cy="195.8"/><circle cx="230.9" cy="197.1"/><circle cx="231.0" cy="195.1"/><circle cx="231.0" cy="182.3"/><circle cx="231.1" cy="191.8"/><circle cx="231.2" cy="186.4"/><circle cx="231.3" cy="190.3"/><circle cx="231.3" cy="187.5"/><circle cx="231.4" cy="198.0"/><circle cx="231.5" cy="187.8"/><circle cx="231.5" cy="194.0"/><circle cx="231.6" cy="189.1"/><circle cx="231.7" cy="189.4"/><circle cx="231.8" cy="193.8"/><circle cx="231.8" cy="187.7"/><circle cx="231.9" cy="197.1"/><circle cx="232.0" cy="193.3"/><circle cx="232.1" cy="194.7"/><circle cx="232.1" cy="187.6"/><circle cx="232.2" cy="179.7"/><circle cx="232.3" cy="195.8"/><circle cx="232.4" cy="187.3"/><circle cx="232.4" cy="192.2"/><circle cx="232.5" cy="196.9"/><circle cx="232.6" cy="181.6"/><circle cx="232.6" cy="189.4"/><circle cx="232.7" cy="187.4"/><circle cx="232.8" cy="187.0"/><circle cx="232.9" cy="183.7"/><circle cx="232.9" cy="196.9"/><circle cx="233.0" cy="192.0"/><circle cx="233.1" cy="195.2"/><circle cx="233.2" cy="194.4"/><circle cx="233.2" cy="193.5"/><circle cx="233.3" cy="187.5"/><circle cx="233.4" cy="194.4"/><circle cx="233.5" cy="196.9"/><circle cx="233.5" cy="193.8"/><circle cx="233.6" cy="188.7"/><circle cx="233.7" cy="186.8"/><circle cx="233.7" cy="195.2"/><circle cx="233.8" cy="197.1"/><circle cx="233.9" cy="195.8"/><circle cx="234.0" cy="191.3"/><circle cx="234.0" cy="197.3"/><circle cx="234.1" cy="206.4"/><circle cx="234.2" cy="193.2"/><circle cx="234.3" cy="195.5"/><circle cx="234.3" cy="196.3"/><circle cx="234.4" cy="177.5"/><circle cx="234.5" cy="194.8"/><circle cx="234.6" cy="191.2"/><circle cx="234.6" cy="202.2"/><circle cx="234.7" cy="193.5"/><circle cx="234.8" cy="194.5"/><circle cx="234.8" cy="192.5"/><circle cx="234.9" cy="199.0"/><circle cx="235.0" cy="191.6"/><circle cx="235.1" cy="195.8"/><circle cx="235.1" cy="186.3"/><circle cx="235.2" cy="195.1"/><circle cx="235.3" cy="201.6"/><circle cx="235.4" cy="203.6"/><circle cx="235.4" cy="199.5"/><circle cx="235.5" cy="197.8"/><circle cx="235.6" cy="202.2"/><circle cx="235.7" cy="200.0"/><circle cx="235.7" cy="203.2"/><circle cx="235.8" cy="201.8"/><circle cx="235.9" cy="199.2"/><circle cx="235.9" cy="199.1"/><circle cx="236.0" cy="198.0"/><circle cx="236.1" cy="195.7"/><circle cx="236.2" cy="197.8"/><circle cx="236.2" cy="193.8"/><circle cx="236.3" cy="182.9"/><circle cx="236.4" cy="194.6"/><circle cx="236.5" cy="186.1"/><circle cx="236.5" cy="198.0"/><circle cx="236.6" cy="200.6"/><circle cx="236.7" cy="187.1"/><circle cx="236.8" cy="200.8"/><circle cx="236.8" cy="202.8"/><circle cx="236.9" cy="200.7"/><circle cx="237.0" cy="205.4"/><circle cx="237.0" cy="204.3"/><circle cx="237.1" cy="193.6"/><circle cx="237.2" cy="205.2"/><circle cx="237.3" cy="200.2"/><circle cx="237.3" cy="203.5"/><circle cx="237.4" cy="206.9"/><circle cx="237.5" cy="196.4"/><circle cx="237.6" cy="197.6"/><circle cx="237.6" cy="195.8"/><circle cx="237.7" cy="196.7"/><circle cx="237.8" cy="198.4"/><circle cx="237.9" cy="192.6"/><circle cx="237.9" cy="195.6"/><circle cx="238.0" cy="203.2"/><circle cx="238.1" cy="198.3"/><circle cx="238.1" cy="200.2"/><circle cx="238.2" cy="188.4"/><circle cx="238.3" cy="195.2"/><circle cx="238.4" cy="201.6"/><circle cx="238.4" cy="202.1"/><circle cx="238.5" cy="198.1"/><circle cx="238.6" cy="204.2"/><circle cx="238.7" cy="202.9"/><circle cx="238.7" cy="198.3"/><circle cx="238.8" cy="200.3"/><circle cx="238.9" cy="205.0"/><circle cx="238.9" cy="198.3"/><circle cx="239.0" cy="206.2"/><circle cx="239.1" cy="204.4"/><circle cx="239.2" cy="201.1"/><circle cx="239.2" cy="202.2"/><circle cx="239.3" cy="205.9"/><circle cx="239.4" cy="206.6"/><circle cx="239.5" cy="205.6"/><circle cx="239.5" cy="205.1"/><circle cx="239.6" cy="203.4"/><circle cx="239.7" cy="204.1"/><circle cx="239.8" cy="204.0"/><circle cx="239.8" cy="200.4"/><circle cx="239.9" cy="193.3"/><circle cx="240.0" cy="207.0"/><circle cx="240.0" cy="200.8"/><circle cx="240.1" cy="197.1"/><circle cx="240.2" cy="203.5"/><circle cx="240.3" cy="198.1"/><circle cx="240.3" cy="206.6"/><circle cx="240.4" cy="207.1"/><circle cx="240.5" cy="194.3"/><circle cx="240.6" cy="205.0"/><circle cx="240.6" cy="201.3"/><circle cx="240.7" cy="209.9"/><circle cx="240.8" cy="198.7"/><circle cx="240.9" cy="190.2"/><circle cx="240.9" cy="202.6"/><circle cx="241.0" cy="203.4"/><circle cx="241.1" cy="199.0"/><circle cx="241.1" cy="195.4"/><circle cx="241.2" cy="204.2"/><circle cx="241.3" cy="208.8"/><circle cx="241.4" cy="192.6"/><circle cx="241.4" cy="207.3"/><circle cx="241.5" cy="199.6"/><circle cx="241.6" cy="210.8"/><circle cx="241.7" cy="204.1"/><circle cx="241.7" cy="202.8"/><circle cx="241.8" cy="204.6"/><circle cx="241.9" cy="207.3"/><circle cx="242.0" cy="199.8"/><circle cx="242.0" cy="206.2"/><circle cx="242.1" cy="202.0"/><circle cx="242.2" cy="197.3"/><circle cx="242.2" cy="209.8"/><circle cx="242.3" cy="205.7"/><circle cx="242.4" cy="204.5"/><circle cx="242.5" cy="204.9"/><circle cx="242.5" cy="200.5"/><circle cx="242.6" cy="196.5"/><circle cx="242.7" cy="203.5"/><circle cx="242.8" cy="202.6"/><circle cx="242.8" cy="205.3"/><circle cx="242.9" cy="208.1"/><circle cx="243.0" cy="203.9"/><circle cx="243.1" cy="207.6"/><circle cx="243.1" cy="207.6"/><circle cx="243.2" cy="199.2"/><circle cx="243.3" cy="204.6"/><circle cx="243.3" cy="199.7"/><circle cx="243.4" cy="208.4"/><circle cx="243.5" cy="207.6"/><circle cx="243.6" cy="208.6"/><circle cx="243.6" cy="199.2"/><circle cx="243.7" cy="205.1"/><circle cx="243.8" cy="203.8"/><circle cx="243.9" cy="207.1"/><circle cx="243.9" cy="203.8"/><circle cx="244.0" cy="203.0"/><circle cx="244.1" cy="207.4"/><circle cx="244.2" cy="208.1"/><circle cx="244.2" cy="207.1"/><circle cx="244.3" cy="210.5"/><circle cx="244.4" cy="206.2"/><circle cx="244.4" cy="204.8"/><circle cx="244.5" cy="208.4"/><circle cx="244.6" cy="204.8"/><circle cx="244.7" cy="206.8"/><circle cx="244.7" cy="206.4"/><circle cx="244.8" cy="210.7"/><circle cx="244.9" cy="209.4"/><circle cx="245.0" cy="205.0"/><circle cx="245.0" cy="210.9"/><circle cx="245.1" cy="206.7"/><circle cx="245.2" cy="208.2"/><circle cx="245.3" cy="209.5"/><circle cx="245.3" cy="205.8"/><circle cx="245.4" cy="216.0"/><circle cx="245.5" cy="208.4"/><circle cx="245.5" cy="202.7"/><circle cx="245.6" cy="209.1"/><circle cx="245.7" cy="208.1"/><circle cx="245.8" cy="206.2"/><circle cx="245.8" cy="195.6"/><circle cx="245.9" cy="211.0"/><circle cx="246.0" cy="212.8"/><circle cx="246.1" cy="210.5"/><circle cx="246.1" cy="212.2"/><circle cx="246.2" cy="210.9"/><circle cx="246.3" cy="209.3"/><circle cx="246.4" cy="207.8"/><circle cx="246.4" cy="205.6"/><circle cx="246.5" cy="208.5"/><circle cx="246.6" cy="211.5"/><circle cx="246.6" cy="211.0"/><circle cx="246.7" cy="203.3"/><circle cx="246.8" cy="207.1"/><circle cx="246.9" cy="208.3"/><circle cx="246.9" cy="204.6"/><circle cx="247.0" cy="211.1"/><circle cx="247.1" cy="207.0"/><circle cx="247.2" cy="199.8"/><circle cx="247.2" cy="207.5"/><circle cx="247.3" cy="210.6"/><circle cx="247.4" cy="202.0"/><circle cx="247.4" cy="212.3"/><circle cx="247.5" cy="212.5"/><circle cx="247.6" cy="211.9"/><circle cx="247.7" cy="203.8"/><circle cx="247.7" cy="208.9"/><circle cx="247.8" cy="209.7"/><circle cx="247.9" cy="209.9"/><circle cx="248.0" cy="207.3"/><circle cx="248.0" cy="205.5"/><circle cx="248.1" cy="211.9"/><circle cx="248.2" cy="210.1"/><circle cx="248.3" cy="211.4"/><circle cx="248.3" cy="205.3"/><circle cx="248.4" cy="210.9"/><circle cx="248.5" cy="211.0"/><circle cx="248.5" cy="210.4"/><circle cx="248.6" cy="205.4"/><circle cx="248.7" cy="212.9"/><circle cx="248.8" cy="209.0"/><circle cx="248.8" cy="208.8"/><circle cx="248.9" cy="211.6"/><circle cx="249.0" cy="208.8"/><circle cx="249.1" cy="210.2"/><circle cx="249.1" cy="210.3"/><circle cx="249.2" cy="206.6"/><circle cx="249.3" cy="207.1"/><circle cx="249.4" cy="211.1"/><circle cx="249.4" cy="212.5"/><circle cx="249.5" cy="213.8"/><circle cx="249.6" cy="208.5"/><circle cx="249.6" cy="205.9"/><circle cx="249.7" cy="210.8"/><circle cx="249.8" cy="209.9"/><circle cx="249.9" cy="213.6"/><circle cx="249.9" cy="211.5"/><circle cx="250.0" cy="207.9"/><circle cx="250.1" cy="212.2"/><circle cx="250.2" cy="208.1"/><circle cx="250.2" cy="205.5"/><circle cx="250.3" cy="213.3"/><circle cx="250.4" cy="212.1"/><circle cx="250.5" cy="214.6"/><circle cx="250.5" cy="213.0"/><circle cx="250.6" cy="213.3"/><circle cx="250.7" cy="214.8"/><circle cx="250.7" cy="213.6"/><circle cx="250.8" cy="207.8"/><circle cx="250.9" cy="208.4"/><circle cx="251.0" cy="214.9"/><circle cx="251.0" cy="210.9"/><circle cx="251.1" cy="210.0"/><circle cx="251.2" cy="211.9"/><circle cx="251.3" cy="209.5"/><circle cx="251.3" cy="207.8"/><circle cx="251.4" cy="215.2"/><circle cx="251.5" cy="209.2"/><circle cx="251.6" cy="213.5"/><circle cx="251.6" cy="212.4"/><circle cx="251.7" cy="214.6"/><circle cx="251.8" cy="212.2"/><circle cx="251.8" cy="214.6"/><circle cx="251.9" cy="208.9"/><circle cx="252.0" cy="210.8"/><circle cx="252.1" cy="214.1"/><circle cx="252.1" cy="211.0"/><circle cx="252.2" cy="209.1"/><circle cx="252.3" cy="214.3"/><circle cx="252.4" cy="211.8"/><circle cx="252.4" cy="213.2"/><circle cx="252.5" cy="207.8"/><circle cx="252.6" cy="212.6"/><circle cx="252.7" cy="209.2"/><circle cx="252.7" cy="210.3"/><circle cx="252.8" cy="213.9"/><circle cx="252.9" cy="212.2"/><circle cx="252.9" cy="212.6"/><circle cx="253.0" cy="215.1"/><circle cx="253.1" cy="214.8"/><circle cx="253.2" cy="214.1"/><circle cx="253.2" cy="211.4"/><circle cx="253.3" cy="211.0"/><circle cx="253.4" cy="209.8"/><circle cx="253.5" cy="211.1"/><circle cx="253.5" cy="211.1"/><circle cx="253.6" cy="211.1"/><circle cx="253.7" cy="213.9"/><circle cx="253.8" cy="213.9"/><circle cx="253.8" cy="209.6"/><circle cx="253.9" cy="212.2"/><circle cx="254.0" cy="214.4"/><circle cx="254.0" cy="214.3"/><circle cx="254.1" cy="213.0"/><circle cx="254.2" cy="215.6"/><circle cx="254.3" cy="211.6"/><circle cx="254.3" cy="214.2"/><circle cx="254.4" cy="211.7"/><circle cx="254.5" cy="217.2"/><circle cx="254.6" cy="213.5"/><circle cx="254.6" cy="211.8"/><circle cx="254.7" cy="209.5"/><circle cx="254.8" cy="210.7"/><circle cx="254.9" cy="208.7"/><circle cx="254.9" cy="211.1"/><circle cx="255.0" cy="214.0"/><circle cx="255.1" cy="212.8"/><circle cx="255.1" cy="212.6"/><circle cx="255.2" cy="215.3"/><circle cx="255.3" cy="208.3"/><circle cx="255.4" cy="216.0"/><circle cx="255.4" cy="211.9"/><circle cx="255.5" cy="211.0"/><circle cx="255.6" cy="213.4"/><circle cx="255.7" cy="212.9"/><circle cx="255.7" cy="215.3"/><circle cx="255.8" cy="212.9"/><circle cx="255.9" cy="216.6"/><circle cx="255.9" cy="211.5"/><circle cx="256.0" cy="214.5"/><circle cx="256.1" cy="212.1"/><circle cx="256.2" cy="210.1"/><circle cx="256.2" cy="215.0"/><circle cx="256.3" cy="213.5"/><circle cx="256.4" cy="212.2"/><circle cx="256.5" cy="214.0"/><circle cx="256.5" cy="212.2"/><circle cx="256.6" cy="213.3"/><circle cx="256.7" cy="215.3"/><circle cx="256.8" cy="215.2"/><circle cx="256.8" cy="211.8"/><circle cx="256.9" cy="214.8"/><circle cx="257.0" cy="213.1"/><circle cx="257.0" cy="211.5"/><circle cx="257.1" cy="212.9"/><circle cx="257.2" cy="210.8"/><circle cx="257.3" cy="214.0"/><circle cx="257.3" cy="217.3"/><circle cx="257.4" cy="214.5"/><circle cx="257.5" cy="213.1"/><circle cx="257.6" cy="215.3"/><circle cx="257.6" cy="217.6"/><circle cx="257.7" cy="212.6"/><circle cx="257.8" cy="214.2"/><circle cx="257.9" cy="217.3"/><circle cx="257.9" cy="211.1"/><circle cx="258.0" cy="213.7"/><circle cx="258.1" cy="213.6"/><circle cx="258.1" cy="210.7"/><circle cx="258.2" cy="213.5"/><circle cx="258.3" cy="211.2"/><circle cx="258.4" cy="215.9"/><circle cx="258.4" cy="216.2"/><circle cx="258.5" cy="214.8"/><circle cx="258.6" cy="215.3"/><circle cx="258.7" cy="212.3"/><circle cx="258.7" cy="215.1"/><circle cx="258.8" cy="212.0"/><circle cx="258.9" cy="213.2"/><circle cx="259.0" cy="212.2"/><circle cx="259.0" cy="212.0"/><circle cx="259.1" cy="213.4"/><circle cx="259.2" cy="209.5"/><circle cx="259.2" cy="213.6"/><circle cx="259.3" cy="213.9"/><circle cx="259.4" cy="213.2"/><circle cx="259.5" cy="214.0"/><circle cx="259.5" cy="215.2"/><circle cx="259.6" cy="214.8"/><circle cx="259.7" cy="214.1"/><circle cx="259.8" cy="216.0"/><circle cx="259.8" cy="216.5"/><circle cx="259.9" cy="215.9"/><circle cx="260.0" cy="214.8"/><circle cx="260.1" cy="217.6"/><circle cx="260.1" cy="212.8"/><circle cx="260.2" cy="211.2"/><circle cx="260.3" cy="214.4"/><circle cx="260.3" cy="214.9"/><circle cx="260.4" cy="215.1"/><circle cx="260.5" cy="212.7"/><circle cx="260.6" cy="214.8"/><circle cx="260.6" cy="213.9"/><circle cx="260.7" cy="215.5"/><circle cx="260.8" cy="214.1"/><circle cx="260.9" cy="215.1"/><circle cx="260.9" cy="213.5"/><circle cx="261.0" cy="217.6"/><circle cx="261.1" cy="216.1"/><circle cx="261.2" cy="214.8"/><circle cx="261.2" cy="214.3"/><circle cx="261.3" cy="216.1"/><circle cx="261.4" cy="214.1"/><circle cx="261.4" cy="216.0"/><circle cx="261.5" cy="211.8"/><circle cx="261.6" cy="218.1"/><circle cx="261.7" cy="213.8"/><circle cx="261.7" cy="212.5"/><circle cx="261.8" cy="216.4"/><circle cx="261.9" cy="217.4"/><circle cx="262.0" cy="213.3"/><circle cx="262.0" cy="215.8"/><circle cx="262.1" cy="216.4"/><circle cx="262.2" cy="214.8"/><circle cx="262.3" cy="216.1"/><circle cx="262.3" cy="213.6"/><circle cx="262.4" cy="216.1"/><circle cx="262.5" cy="215.3"/><circle cx="262.5" cy="213.0"/><circle cx="262.6" cy="213.9"/><circle cx="262.7" cy="218.6"/><circle cx="262.8" cy="215.1"/><circle cx="262.8" cy="214.0"/><circle cx="262.9" cy="213.4"/><circle cx="263.0" cy="211.8"/><circle cx="263.1" cy="216.7"/><circle cx="263.1" cy="212.5"/><circle cx="263.2" cy="216.4"/><circle cx="263.3" cy="212.9"/><circle cx="263.4" cy="214.7"/><circle cx="263.4" cy="217.1"/><circle cx="263.5" cy="214.3"/><circle cx="263.6" cy="214.7"/><circle cx="263.6" cy="214.0"/><circle cx="263.7" cy="215.1"/><circle cx="263.8" cy="217.0"/><circle cx="263.9" cy="213.9"/><circle cx="263.9" cy="213.5"/><circle cx="264.0" cy="215.3"/><circle cx="264.1" cy="215.2"/><circle cx="264.2" cy="216.1"/><circle cx="264.2" cy="213.7"/><circle cx="264.3" cy="214.8"/><circle cx="264.4" cy="216.2"/><circle cx="264.5" cy="216.6"/><circle cx="264.5" cy="212.6"/><circle cx="264.6" cy="216.6"/><circle cx="264.7" cy="215.1"/><circle cx="264.7" cy="216.4"/><circle cx="264.8" cy="218.4"/><circle cx="264.9" cy="214.8"/><circle cx="265.0" cy="216.3"/><circle cx="265.0" cy="213.7"/><circle cx="265.1" cy="212.4"/><circle cx="265.2" cy="214.1"/><circle cx="265.3" cy="213.1"/><circle cx="265.3" cy="214.5"/><circle cx="265.4" cy="216.9"/><circle cx="265.5" cy="216.8"/><circle cx="265.5" cy="213.8"/><circle cx="265.6" cy="215.8"/><circle cx="265.7" cy="215.4"/><circle cx="265.8" cy="215.5"/><circle cx="265.8" cy="216.3"/><circle cx="265.9" cy="216.6"/><circle cx="266.0" cy="214.5"/><circle cx="266.1" cy="213.7"/><circle cx="266.1" cy="216.4"/><circle cx="266.2" cy="217.7"/><circle cx="266.3" cy="215.1"/><circle cx="266.4" cy="218.4"/><circle cx="266.4" cy="216.7"/><circle cx="266.5" cy="214.0"/><circle cx="266.6" cy="213.3"/><circle cx="266.6" cy="215.7"/><circle cx="266.7" cy="217.1"/><circle cx="266.8" cy="215.0"/><circle cx="266.9" cy="218.1"/><circle cx="266.9" cy="216.3"/><circle cx="267.0" cy="211.9"/><circle cx="267.1" cy="215.4"/><circle cx="267.2" cy="216.3"/><circle cx="267.2" cy="218.4"/><circle cx="267.3" cy="214.1"/><circle cx="267.4" cy="215.3"/><circle cx="267.5" cy="216.5"/><circle cx="267.5" cy="215.4"/><circle cx="267.6" cy="216.9"/><circle cx="267.7" cy="219.1"/><circle cx="267.7" cy="215.0"/><circle cx="267.8" cy="217.2"/><circle cx="267.9" cy="216.9"/><circle cx="268.0" cy="218.0"/><circle cx="268.0" cy="215.7"/><circle cx="268.1" cy="216.8"/><circle cx="268.2" cy="215.1"/><circle cx="268.3" cy="216.3"/><circle cx="268.3" cy="214.6"/><circle cx="268.4" cy="216.7"/><circle cx="268.5" cy="216.6"/><circle cx="268.6" cy="218.2"/><circle cx="268.6" cy="217.8"/><circle cx="268.7" cy="214.0"/><circle cx="268.8" cy="212.5"/><circle cx="268.8" cy="218.3"/><circle cx="268.9" cy="215.6"/><circle cx="269.0" cy="215.2"/><circle cx="269.1" cy="215.7"/><circle cx="269.1" cy="216.0"/><circle cx="269.2" cy="216.9"/><circle cx="269.3" cy="216.5"/><circle cx="269.4" cy="217.0"/><circle cx="269.4" cy="215.5"/><circle cx="269.5" cy="214.3"/><circle cx="269.6" cy="216.2"/><circle cx="269.7" cy="216.6"/><circle cx="269.7" cy="215.1"/><circle cx="269.8" cy="215.0"/><circle cx="269.9" cy="214.9"/><circle cx="269.9" cy="217.0"/><circle cx="270.0" cy="216.1"/><circle cx="270.1" cy="214.3"/><circle cx="270.2" cy="217.0"/><circle cx="270.2" cy="218.0"/><circle cx="270.3" cy="214.8"/><circle cx="270.4" cy="216.2"/><circle cx="270.5" cy="215.1"/><circle cx="270.5" cy="215.3"/><circle cx="270.6" cy="217.1"/><circle cx="270.7" cy="216.5"/><circle cx="270.8" cy="217.3"/><circle cx="270.8" cy="217.5"/><circle cx="270.9" cy="216.7"/><circle cx="271.0" cy="217.3"/><circle cx="271.0" cy="214.5"/><circle cx="271.1" cy="218.3"/><circle cx="271.2" cy="216.3"/><circle cx="271.3" cy="217.4"/><circle cx="271.3" cy="214.1"/><circle cx="271.4" cy="215.7"/><circle cx="271.5" cy="216.3"/><circle cx="271.6" cy="215.5"/><circle cx="271.6" cy="216.6"/><circle cx="271.7" cy="217.6"/><circle cx="271.8" cy="214.8"/><circle cx="271.9" cy="215.5"/><circle cx="271.9" cy="214.0"/><circle cx="272.0" cy="215.0"/><circle cx="272.1" cy="215.3"/><circle cx="272.1" cy="216.7"/><circle cx="272.2" cy="218.1"/><circle cx="272.3" cy="215.1"/><circle cx="272.4" cy="216.0"/><circle cx="272.4" cy="216.0"/><circle cx="272.5" cy="216.5"/><circle cx="272.6" cy="217.3"/><circle cx="272.7" cy="218.1"/><circle cx="272.7" cy="215.4"/><circle cx="272.8" cy="214.6"/><circle cx="272.9" cy="216.7"/><circle cx="273.0" cy="214.9"/><circle cx="273.0" cy="214.9"/><circle cx="273.1" cy="217.1"/><circle cx="273.2" cy="216.7"/><circle cx="273.2" cy="217.7"/><circle cx="273.3" cy="215.2"/><circle cx="273.4" cy="216.1"/><circle cx="273.5" cy="217.1"/><circle cx="273.5" cy="218.0"/><circle cx="273.6" cy="216.7"/><circle cx="273.7" cy="214.6"/><circle cx="273.8" cy="217.0"/><circle cx="273.8" cy="217.2"/><circle cx="273.9" cy="215.7"/><circle cx="274.0" cy="218.6"/><circle cx="274.0" cy="216.7"/><circle cx="274.1" cy="216.0"/><circle cx="274.2" cy="217.6"/><circle cx="274.3" cy="217.6"/><circle cx="274.3" cy="216.5"/><circle cx="274.4" cy="217.0"/><circle cx="274.5" cy="216.4"/><circle cx="274.6" cy="216.6"/><circle cx="274.6" cy="216.5"/><circle cx="274.7" cy="218.1"/><circle cx="274.8" cy="217.6"/><circle cx="274.9" cy="215.6"/><circle cx="274.9" cy="214.7"/><circle cx="275.0" cy="215.3"/><circle cx="275.1" cy="217.8"/><circle cx="275.1" cy="214.6"/><circle cx="275.2" cy="215.8"/><circle cx="275.3" cy="216.6"/><circle cx="275.4" cy="215.3"/><circle cx="275.4" cy="214.6"/><circle cx="275.5" cy="213.7"/><circle cx="275.6" cy="218.1"/><circle cx="275.7" cy="215.9"/><circle cx="275.7" cy="216.8"/><circle cx="275.8" cy="217.1"/><circle cx="275.9" cy="215.4"/><circle cx="276.0" cy="214.8"/><circle cx="276.0" cy="218.0"/><circle cx="276.1" cy="216.8"/><circle cx="276.2" cy="216.0"/><circle cx="276.2" cy="218.4"/><circle cx="276.3" cy="215.6"/><circle cx="276.4" cy="216.8"/><circle cx="276.5" cy="216.0"/><circle cx="276.5" cy="216.2"/><circle cx="276.6" cy="214.8"/><circle cx="276.7" cy="216.4"/><circle cx="276.8" cy="216.6"/><circle cx="276.8" cy="214.6"/><circle cx="276.9" cy="217.6"/><circle cx="277.0" cy="217.6"/><circle cx="277.1" cy="218.2"/><circle cx="277.1" cy="215.6"/><circle cx="277.2" cy="216.2"/><circle cx="277.3" cy="215.8"/><circle cx="277.3" cy="216.4"/><circle cx="277.4" cy="217.0"/><circle cx="277.5" cy="218.0"/><circle cx="277.6" cy="218.0"/><circle cx="277.6" cy="216.3"/><circle cx="277.7" cy="216.8"/><circle cx="277.8" cy="214.7"/><circle cx="277.9" cy="218.0"/><circle cx="277.9" cy="217.0"/><circle cx="278.0" cy="217.7"/><circle cx="278.1" cy="215.2"/><circle cx="278.2" cy="218.0"/><circle cx="278.2" cy="215.8"/><circle cx="278.3" cy="215.0"/><circle cx="278.4" cy="216.9"/><circle cx="278.4" cy="215.8"/><circle cx="278.5" cy="219.8"/><circle cx="278.6" cy="216.5"/><circle cx="278.7" cy="219.2"/><circle cx="278.7" cy="217.0"/><circle cx="278.8" cy="216.9"/><circle cx="278.9" cy="217.9"/><circle cx="279.0" cy="215.8"/><circle cx="279.0" cy="216.7"/><circle cx="279.1" cy="217.3"/><circle cx="279.2" cy="217.6"/><circle cx="279.3" cy="218.8"/><circle cx="279.3" cy="217.2"/><circle cx="279.4" cy="214.2"/><circle cx="279.5" cy="217.9"/><circle cx="279.5" cy="216.3"/><circle cx="279.6" cy="217.7"/><circle cx="279.7" cy="215.7"/><circle cx="279.8" cy="216.2"/><circle cx="279.8" cy="217.2"/><circle cx="279.9" cy="219.2"/><circle cx="280.0" cy="217.3"/><circle cx="280.1" cy="215.6"/><circle cx="280.1" cy="217.2"/><circle cx="280.2" cy="215.8"/><circle cx="280.3" cy="217.7"/><circle cx="280.4" cy="219.2"/><circle cx="280.4" cy="216.5"/><circle cx="280.5" cy="216.6"/><circle cx="280.6" cy="217.8"/><circle cx="280.6" cy="217.5"/><circle cx="280.7" cy="216.5"/><circle cx="280.8" cy="217.8"/><circle cx="280.9" cy="216.8"/><circle cx="280.9" cy="216.6"/><circle cx="281.0" cy="220.0"/><circle cx="281.1" cy="217.2"/><circle cx="281.2" cy="217.6"/><circle cx="281.2" cy="217.8"/><circle cx="281.3" cy="216.7"/><circle cx="281.4" cy="217.6"/><circle cx="281.5" cy="216.6"/><circle cx="281.5" cy="215.7"/><circle cx="281.6" cy="216.8"/><circle cx="281.7" cy="219.1"/><circle cx="281.7" cy="218.0"/><circle cx="281.8" cy="216.0"/><circle cx="281.9" cy="217.4"/><circle cx="282.0" cy="218.1"/><circle cx="282.0" cy="217.2"/><circle cx="282.1" cy="216.6"/><circle cx="282.2" cy="216.8"/><circle cx="282.3" cy="216.0"/><circle cx="282.3" cy="218.0"/><circle cx="282.4" cy="217.4"/><circle cx="282.5" cy="217.3"/><circle cx="282.5" cy="217.0"/><circle cx="282.6" cy="219.6"/><circle cx="282.7" cy="217.3"/><circle cx="282.8" cy="218.8"/><circle cx="282.8" cy="215.4"/><circle cx="282.9" cy="215.0"/><circle cx="283.0" cy="215.1"/><circle cx="283.1" cy="216.0"/><circle cx="283.1" cy="218.0"/><circle cx="283.2" cy="216.0"/><circle cx="283.3" cy="217.4"/><circle cx="283.4" cy="216.2"/><circle cx="283.4" cy="217.7"/><circle cx="283.5" cy="217.8"/><circle cx="283.6" cy="216.5"/><circle cx="283.6" cy="215.0"/><circle cx="283.7" cy="216.9"/><circle cx="283.8" cy="214.4"/><circle cx="283.9" cy="214.0"/><circle cx="283.9" cy="218.8"/><circle cx="284.0" cy="216.6"/><circle cx="284.1" cy="218.3"/><circle cx="284.2" cy="217.2"/><circle cx="284.2" cy="217.9"/><circle cx="284.3" cy="217.2"/><circle cx="284.4" cy="215.7"/><circle cx="284.5" cy="216.0"/><circle cx="284.5" cy="216.9"/><circle cx="284.6" cy="217.2"/><circle cx="284.7" cy="217.1"/><circle cx="284.7" cy="217.1"/><circle cx="284.8" cy="216.4"/><circle cx="284.9" cy="216.9"/><circle cx="285.0" cy="216.3"/><circle cx="285.0" cy="218.9"/><circle cx="285.1" cy="216.2"/><circle cx="285.2" cy="214.9"/><circle cx="285.3" cy="216.8"/><circle cx="285.3" cy="219.0"/><circle cx="285.4" cy="215.4"/><circle cx="285.5" cy="217.5"/><circle cx="285.6" cy="220.0"/><circle cx="285.6" cy="217.6"/><circle cx="285.7" cy="216.4"/><circle cx="285.8" cy="216.6"/><circle cx="285.8" cy="215.4"/><circle cx="285.9" cy="216.3"/><circle cx="286.0" cy="217.1"/><circle cx="286.1" cy="219.8"/><circle cx="286.1" cy="218.6"/><circle cx="286.2" cy="216.9"/><circle cx="286.3" cy="216.2"/><circle cx="286.4" cy="218.3"/><circle cx="286.4" cy="218.1"/><circle cx="286.5" cy="216.6"/><circle cx="286.6" cy="219.8"/><circle cx="286.7" cy="219.6"/><circle cx="286.7" cy="217.4"/><circle cx="286.8" cy="216.9"/><circle cx="286.9" cy="217.8"/><circle cx="286.9" cy="220.0"/><circle cx="287.0" cy="217.0"/><circle cx="287.1" cy="218.9"/><circle cx="287.2" cy="216.4"/><circle cx="287.2" cy="217.3"/><circle cx="287.3" cy="216.9"/><circle cx="287.4" cy="216.5"/><circle cx="287.5" cy="217.9"/><circle cx="287.5" cy="216.1"/><circle cx="287.6" cy="215.6"/><circle cx="287.7" cy="216.7"/><circle cx="287.8" cy="215.6"/><circle cx="287.8" cy="218.0"/><circle cx="287.9" cy="216.1"/><circle cx="288.0" cy="216.8"/><circle cx="288.0" cy="218.3"/><circle cx="288.1" cy="217.2"/><circle cx="288.2" cy="218.0"/><circle cx="288.3" cy="218.0"/><circle cx="288.3" cy="217.2"/><circle cx="288.4" cy="215.9"/><circle cx="288.5" cy="217.7"/><circle cx="288.6" cy="217.2"/><circle cx="288.6" cy="219.2"/><circle cx="288.7" cy="217.0"/><circle cx="288.8" cy="215.7"/><circle cx="288.9" cy="216.2"/><circle cx="288.9" cy="216.5"/><circle cx="289.0" cy="218.0"/><circle cx="289.1" cy="218.6"/><circle cx="289.1" cy="217.3"/><circle cx="289.2" cy="219.1"/><circle cx="289.3" cy="218.8"/><circle cx="289.4" cy="216.0"/><circle cx="289.4" cy="218.4"/><circle cx="289.5" cy="214.9"/><circle cx="289.6" cy="219.1"/><circle cx="289.7" cy="216.7"/><circle cx="289.7" cy="218.9"/><circle cx="289.8" cy="217.1"/><circle cx="289.9" cy="218.6"/><circle cx="290.0" cy="217.2"/><circle cx="290.0" cy="217.3"/><circle cx="290.1" cy="217.8"/><circle cx="290.2" cy="216.5"/><circle cx="290.2" cy="215.4"/><circle cx="290.3" cy="218.0"/><circle cx="290.4" cy="216.3"/><circle cx="290.5" cy="217.2"/><circle cx="290.5" cy="217.4"/><circle cx="290.6" cy="214.5"/><circle cx="290.7" cy="220.1"/><circle cx="290.8" cy="218.2"/><circle cx="290.8" cy="219.7"/><circle cx="290.9" cy="217.6"/><circle cx="291.0" cy="217.6"/><circle cx="291.1" cy="214.5"/><circle cx="291.1" cy="216.8"/><circle cx="291.2" cy="215.0"/><circle cx="291.3" cy="215.5"/><circle cx="291.3" cy="217.7"/><circle cx="291.4" cy="216.8"/><circle cx="291.5" cy="215.2"/><circle cx="291.6" cy="217.1"/><circle cx="291.6" cy="217.2"/><circle cx="291.7" cy="216.8"/><circle cx="291.8" cy="219.2"/><circle cx="291.9" cy="218.4"/><circle cx="291.9" cy="216.9"/><circle cx="292.0" cy="216.6"/><circle cx="292.1" cy="218.5"/><circle cx="292.1" cy="217.7"/><circle cx="292.2" cy="217.6"/><circle cx="292.3" cy="217.6"/><circle cx="292.4" cy="216.5"/><circle cx="292.4" cy="217.3"/><circle cx="292.5" cy="217.2"/><circle cx="292.6" cy="219.2"/><circle cx="292.7" cy="218.7"/><circle cx="292.7" cy="217.0"/><circle cx="292.8" cy="219.4"/><circle cx="292.9" cy="217.0"/><circle cx="293.0" cy="218.1"/><circle cx="293.0" cy="218.3"/><circle cx="293.1" cy="216.4"/><circle cx="293.2" cy="218.2"/><circle cx="293.2" cy="218.5"/><circle cx="293.3" cy="218.0"/><circle cx="293.4" cy="217.3"/><circle cx="293.5" cy="214.4"/><circle cx="293.5" cy="220.1"/><circle cx="293.6" cy="217.3"/><circle cx="293.7" cy="217.8"/><circle cx="293.8" cy="216.1"/><circle cx="293.8" cy="217.7"/><circle cx="293.9" cy="220.2"/><circle cx="294.0" cy="215.7"/><circle cx="294.1" cy="218.8"/><circle cx="294.1" cy="217.5"/><circle cx="294.2" cy="219.1"/><circle cx="294.3" cy="218.7"/><circle cx="294.3" cy="218.0"/><circle cx="294.4" cy="216.2"/><circle cx="294.5" cy="216.3"/><circle cx="294.6" cy="218.0"/><circle cx="294.6" cy="216.7"/><circle cx="294.7" cy="217.9"/><circle cx="294.8" cy="217.2"/><circle cx="294.9" cy="217.2"/><circle cx="294.9" cy="216.5"/><circle cx="295.0" cy="218.1"/><circle cx="295.1" cy="217.5"/><circle cx="295.2" cy="217.2"/><circle cx="295.2" cy="217.4"/><circle cx="295.3" cy="218.4"/><circle cx="295.4" cy="215.3"/><circle cx="295.4" cy="218.0"/><circle cx="295.5" cy="216.5"/><circle cx="295.6" cy="217.2"/><circle cx="295.7" cy="215.8"/><circle cx="295.7" cy="220.3"/><circle cx="295.8" cy="214.7"/><circle cx="295.9" cy="217.6"/><circle cx="296.0" cy="218.9"/><circle cx="296.0" cy="217.3"/><circle cx="296.1" cy="214.5"/><circle cx="296.2" cy="216.8"/><circle cx="296.3" cy="219.0"/><circle cx="296.3" cy="218.1"/><circle cx="296.4" cy="215.7"/><circle cx="296.5" cy="219.2"/><circle cx="296.5" cy="217.7"/><circle cx="296.6" cy="217.9"/><circle cx="296.7" cy="214.7"/><circle cx="296.8" cy="217.7"/><circle cx="296.8" cy="215.7"/><circle cx="296.9" cy="218.3"/><circle cx="297.0" cy="218.5"/><circle cx="297.1" cy="216.2"/><circle cx="297.1" cy="216.5"/><circle cx="297.2" cy="219.7"/><circle cx="297.3" cy="216.6"/><circle cx="297.4" cy="216.7"/><circle cx="297.4" cy="218.2"/><circle cx="297.5" cy="217.2"/><circle cx="297.6" cy="217.1"/><circle cx="297.6" cy="218.0"/><circle cx="297.7" cy="218.1"/><circle cx="297.8" cy="218.3"/><circle cx="297.9" cy="217.7"/><circle cx="297.9" cy="219.2"/><circle cx="298.0" cy="217.6"/><circle cx="298.1" cy="219.4"/><circle cx="298.2" cy="217.3"/><circle cx="298.2" cy="217.6"/><circle cx="298.3" cy="218.7"/><circle cx="298.4" cy="216.4"/><circle cx="298.5" cy="215.0"/><circle cx="298.5" cy="215.8"/><circle cx="298.6" cy="219.2"/><circle cx="298.7" cy="215.7"/><circle cx="298.7" cy="217.1"/><circle cx="298.8" cy="217.5"/><circle cx="298.9" cy="218.3"/><circle cx="299.0" cy="217.5"/><circle cx="299.0" cy="215.6"/><circle cx="299.1" cy="216.8"/><circle cx="299.2" cy="218.1"/><circle cx="299.3" cy="218.3"/><circle cx="299.3" cy="218.0"/><circle cx="299.4" cy="216.7"/><circle cx="299.5" cy="215.0"/><circle cx="299.6" cy="218.8"/><circle cx="299.6" cy="217.5"/><circle cx="299.7" cy="218.1"/><circle cx="299.8" cy="218.3"/><circle cx="299.8" cy="217.0"/><circle cx="299.9" cy="216.8"/><circle cx="300.0" cy="219.3"/><circle cx="300.1" cy="218.8"/><circle cx="300.1" cy="215.9"/><circle cx="300.2" cy="217.1"/><circle cx="300.3" cy="216.8"/><circle cx="300.4" cy="218.1"/><circle cx="300.4" cy="218.0"/><circle cx="300.5" cy="216.9"/><circle cx="300.6" cy="218.1"/><circle cx="300.6" cy="219.0"/><circle cx="300.7" cy="217.5"/><circle cx="300.8" cy="216.4"/><circle cx="300.9" cy="218.8"/><circle cx="300.9" cy="216.1"/><circle cx="301.0" cy="216.6"/><circle cx="301.1" cy="218.5"/><circle cx="301.2" cy="217.5"/><circle cx="301.2" cy="217.5"/><circle cx="301.3" cy="216.6"/><circle cx="301.4" cy="216.7"/><circle cx="301.5" cy="219.2"/><circle cx="301.5" cy="219.1"/><circle cx="301.6" cy="216.3"/><circle cx="301.7" cy="217.4"/><circle cx="301.7" cy="217.0"/><circle cx="301.8" cy="217.1"/><circle cx="301.9" cy="215.6"/><circle cx="302.0" cy="219.0"/><circle cx="302.0" cy="216.2"/><circle cx="302.1" cy="218.5"/><circle cx="302.2" cy="216.6"/><circle cx="302.3" cy="215.8"/><circle cx="302.3" cy="219.2"/><circle cx="302.4" cy="217.0"/><circle cx="302.5" cy="217.9"/><circle cx="302.6" cy="218.0"/><circle cx="302.6" cy="217.4"/><circle cx="302.7" cy="218.9"/><circle cx="302.8" cy="218.8"/><circle cx="302.8" cy="216.7"/><circle cx="302.9" cy="216.4"/><circle cx="303.0" cy="218.3"/><circle cx="303.1" cy="219.4"/><circle cx="303.1" cy="214.6"/><circle cx="303.2" cy="216.2"/><circle cx="303.3" cy="217.1"/><circle cx="303.4" cy="218.9"/><circle cx="303.4" cy="218.3"/><circle cx="303.5" cy="217.2"/><circle cx="303.6" cy="218.8"/><circle cx="303.7" cy="215.5"/><circle cx="303.7" cy="217.3"/><circle cx="303.8" cy="217.0"/><circle cx="303.9" cy="218.8"/><circle cx="303.9" cy="218.7"/><circle cx="304.0" cy="218.6"/><circle cx="304.1" cy="217.2"/><circle cx="304.2" cy="217.9"/><circle cx="304.2" cy="217.9"/><circle cx="304.3" cy="217.2"/><circle cx="304.4" cy="217.3"/><circle cx="304.5" cy="215.7"/><circle cx="304.5" cy="217.8"/><circle cx="304.6" cy="218.8"/><circle cx="304.7" cy="217.5"/><circle cx="304.8" cy="215.7"/><circle cx="304.8" cy="218.2"/><circle cx="304.9" cy="217.5"/><circle cx="305.0" cy="218.0"/><circle cx="305.0" cy="217.1"/><circle cx="305.1" cy="217.2"/><circle cx="305.2" cy="218.6"/><circle cx="305.3" cy="217.8"/><circle cx="305.3" cy="216.4"/><circle cx="305.4" cy="216.2"/><circle cx="305.5" cy="216.4"/><circle cx="305.6" cy="216.5"/><circle cx="305.6" cy="218.0"/><circle cx="305.7" cy="217.9"/><circle cx="305.8" cy="216.4"/><circle cx="305.9" cy="219.0"/><circle cx="305.9" cy="217.7"/><circle cx="306.0" cy="219.8"/><circle cx="306.1" cy="218.0"/><circle cx="306.1" cy="218.4"/><circle cx="306.2" cy="219.1"/><circle cx="306.3" cy="216.8"/><circle cx="306.4" cy="218.5"/><circle cx="306.4" cy="218.0"/><circle cx="306.5" cy="217.8"/><circle cx="306.6" cy="218.5"/><circle cx="306.7" cy="215.8"/><circle cx="306.7" cy="218.2"/><circle cx="306.8" cy="217.3"/><circle cx="306.9" cy="219.2"/><circle cx="307.0" cy="218.2"/><circle cx="307.0" cy="218.0"/><circle cx="307.1" cy="218.0"/><circle cx="307.2" cy="218.4"/><circle cx="307.2" cy="217.4"/><circle cx="307.3" cy="215.6"/><circle cx="307.4" cy="217.7"/><circle cx="307.5" cy="217.7"/><circle cx="307.5" cy="218.1"/><circle cx="307.6" cy="214.5"/><circle cx="307.7" cy="215.5"/><circle cx="307.8" cy="216.9"/><circle cx="307.8" cy="216.7"/><circle cx="307.9" cy="218.5"/><circle cx="308.0" cy="217.7"/><circle cx="308.1" cy="217.3"/><circle cx="308.1" cy="217.4"/><circle cx="308.2" cy="218.6"/><circle cx="308.3" cy="218.5"/><circle cx="308.3" cy="216.9"/><circle cx="308.4" cy="217.2"/><circle cx="308.5" cy="220.2"/><circle cx="308.6" cy="217.4"/><circle cx="308.6" cy="216.0"/><circle cx="308.7" cy="218.4"/><circle cx="308.8" cy="217.3"/><circle cx="308.9" cy="219.3"/><circle cx="308.9" cy="216.6"/><circle cx="309.0" cy="219.0"/><circle cx="309.1" cy="219.2"/><circle cx="309.1" cy="218.0"/><circle cx="309.2" cy="214.6"/><circle cx="309.3" cy="218.3"/><circle cx="309.4" cy="219.2"/><circle cx="309.4" cy="217.0"/><circle cx="309.5" cy="217.2"/><circle cx="309.6" cy="215.5"/><circle cx="309.7" cy="219.2"/><circle cx="309.7" cy="219.6"/><circle cx="309.8" cy="217.9"/><circle cx="309.9" cy="217.1"/><circle cx="310.0" cy="217.1"/><circle cx="310.0" cy="216.2"/><circle cx="310.1" cy="219.5"/><circle cx="310.2" cy="218.6"/><circle cx="310.2" cy="217.7"/><circle cx="310.3" cy="216.5"/><circle cx="310.4" cy="217.0"/><circle cx="310.5" cy="218.1"/><circle cx="310.5" cy="218.9"/><circle cx="310.6" cy="216.5"/><circle cx="310.7" cy="216.4"/><circle cx="310.8" cy="214.6"/><circle cx="310.8" cy="217.8"/><circle cx="310.9" cy="215.6"/><circle cx="311.0" cy="219.1"/><circle cx="311.1" cy="218.3"/><circle cx="311.1" cy="218.5"/><circle cx="311.2" cy="218.2"/><circle cx="311.3" cy="218.7"/><circle cx="311.3" cy="218.3"/><circle cx="311.4" cy="217.7"/><circle cx="311.5" cy="218.2"/><circle cx="311.6" cy="216.8"/><circle cx="311.6" cy="217.7"/><circle cx="311.7" cy="217.5"/><circle cx="311.8" cy="215.8"/><circle cx="311.9" cy="217.2"/><circle cx="311.9" cy="217.4"/><circle cx="312.0" cy="217.6"/><circle cx="312.1" cy="217.6"/><circle cx="312.2" cy="216.9"/><circle cx="312.2" cy="218.6"/><circle cx="312.3" cy="216.2"/><circle cx="312.4" cy="215.6"/><circle cx="312.4" cy="216.1"/><circle cx="312.5" cy="218.2"/><circle cx="312.6" cy="219.6"/><circle cx="312.7" cy="218.1"/><circle cx="312.7" cy="217.4"/><circle cx="312.8" cy="216.6"/><circle cx="312.9" cy="217.9"/><circle cx="313.0" cy="218.0"/><circle cx="313.0" cy="215.7"/><circle cx="313.1" cy="218.5"/><circle cx="313.2" cy="216.3"/><circle cx="313.3" cy="216.5"/><circle cx="313.3" cy="219.3"/><circle cx="313.4" cy="217.2"/></g>
<polyline points="57.0,217.6 57.3,217.6 57.6,217.6 58.0,217.6 58.3,217.6 58.6,217.6 58.9,217.6 59.2,217.6 59.6,217.6 59.9,217.6 60.2,217.6 60.5,217.6 60.8,217.6 61.2,217.6 61.5,217.6 61.8,217.6 62.1,217.6 62.4,217.6 62.8,217.6 63.1,217.6 63.4,217.6 63.7,217.6 64.1,217.6 64.4,217.6 64.7,217.6 65.0,217.6 65.3,217.6 65.7,217.6 66.0,217.6 66.3,217.6 66.6,217.6 66.9,217.6 67.3,217.6 67.6,217.6 67.9,217.6 68.2,217.6 68.5,217.6 68.9,217.6 69.2,217.6 69.5,217.6 69.8,217.6 70.1,217.6 70.5,217.5 70.8,217.5 71.1,217.5 71.4,217.5 71.7,217.5 72.1,217.5 72.4,217.5 72.7,217.5 73.0,217.5 73.3,217.5 73.7,217.5 74.0,217.5 74.3,217.5 74.6,217.5 74.9,217.5 75.3,217.5 75.6,217.5 75.9,217.5 76.2,217.5 76.6,217.5 76.9,217.5 77.2,217.5 77.5,217.5 77.8,217.5 78.2,217.5 78.5,217.5 78.8,217.5 79.1,217.5 79.4,217.5 79.8,217.4 80.1,217.4 80.4,217.4 80.7,217.4 81.0,217.4 81.4,217.4 81.7,217.4 82.0,217.4 82.3,217.4 82.6,217.4 83.0,217.4 83.3,217.4 83.6,217.4 83.9,217.4 84.2,217.4 84.6,217.4 84.9,217.4 85.2,217.3 85.5,217.3 85.8,217.3 86.2,217.3 86.5,217.3 86.8,217.3 87.1,217.3 87.4,217.3 87.8,217.3 88.1,217.3 88.4,217.3 88.7,217.3 89.0,217.3 89.4,217.2 89.7,217.2 90.0,217.2 90.3,217.2 90.7,217.2 91.0,217.2 91.3,217.2 91.6,217.2 91.9,217.2 92.3,217.2 92.6,217.1 92.9,217.1 93.2,217.1 93.5,217.1 93.9,217.1 94.2,217.1 94.5,217.1 94.8,217.1 95.1,217.1 95.5,217.1 95.8,217.0 96.1,217.0 96.4,217.0 96.7,217.0 97.1,217.0 97.4,217.0 97.7,217.0 98.0,217.0 98.3,216.9 98.7,216.9 99.0,216.9 99.3,216.9 99.6,216.9 99.9,216.9 100.3,216.8 100.6,216.8 100.9,216.8 101.2,216.8 101.5,216.8 101.9,216.7 102.2,216.7 102.5,216.7 102.8,216.7 103.2,216.6 103.5,216.6 103.8,216.6 104.1,216.5 104.4,216.5 104.8,216.5 105.1,216.5 105.4,216.4 105.7,216.4 106.0,216.4 106.4,216.3 106.7,216.3 107.0,216.3 107.3,216.2 107.6,216.2 108.0,216.1 108.3,216.1 108.6,216.1 108.9,216.0 109.2,216.0 109.6,215.9 109.9,215.9 110.2,215.8 110.5,215.8 110.8,215.8 111.2,215.7 111.5,215.7 111.8,215.6 112.1,215.6 112.4,215.5 112.8,215.5 113.1,215.4 113.4,215.3 113.7,215.3 114.0,215.2 114.4,215.2 114.7,215.1 115.0,215.0 115.3,215.0 115.7,214.9 116.0,214.8 116.3,214.8 116.6,214.7 116.9,214.6 117.3,214.5 117.6,214.5 117.9,214.4 118.2,214.3 118.5,214.2 118.9,214.1 119.2,214.1 119.5,214.0 119.8,213.9 120.1,213.8 120.5,213.7 120.8,213.6 121.1,213.4 121.4,213.3 121.7,213.2 122.1,213.1 122.4,213.0 122.7,212.8 123.0,212.7 123.3,212.6 123.7,212.4 124.0,212.3 124.3,212.2 124.6,212.0 124.9,211.9 125.3,211.7 125.6,211.6 125.9,211.4 126.2,211.2 126.5,211.0 126.9,210.9 127.2,210.7 127.5,210.5 127.8,210.3 128.2,210.1 128.5,209.9 128.8,209.7 129.1,209.5 129.4,209.3 129.8,209.1 130.1,208.8 130.4,208.6 130.7,208.4 131.0,208.1 131.4,207.9 131.7,207.6 132.0,207.3 132.3,207.1 132.6,206.8 133.0,206.5 133.3,206.2 133.6,205.9 133.9,205.6 134.2,205.3 134.6,204.9 134.9,204.6 135.2,204.3 135.5,203.9 135.8,203.5 136.2,203.2 136.5,202.8 136.8,202.4 137.1,202.0 137.4,201.6 137.8,201.2 138.1,200.7 138.4,200.3 138.7,199.8 139.0,199.4 139.4,199.0 139.7,198.6 140.0,198.2 140.3,197.8 140.7,197.4 141.0,197.0 141.3,196.6 141.6,196.2 141.9,195.7 142.3,195.3 142.6,194.8 142.9,194.3 143.2,193.9 143.5,193.4 143.9,192.9 144.2,192.4 144.5,191.8 144.8,191.3 145.1,190.8 145.5,190.2 145.8,189.7 146.1,189.1 146.4,188.5 146.7,187.9 147.1,187.3 147.4,186.7 147.7,186.0 148.0,185.4 148.3,184.7 148.7,184.0 149.0,183.4 149.3,182.8 149.6,182.2 149.9,181.6 150.3,180.9 150.6,180.3 150.9,179.6 151.2,178.9 151.5,178.2 151.9,177.5 152.2,176.8 152.5,176.1 152.8,175.3 153.1,174.6 153.5,173.8 153.8,173.0 154.1,172.2 154.4,171.4 154.8,170.6 155.1,169.8 155.4,169.0 155.7,168.1 156.0,167.3 156.4,166.5 156.7,165.6 157.0,164.7 157.3,163.8 157.6,162.9 158.0,162.0 158.3,161.0 158.6,160.1 158.9,159.1 159.2,158.1 159.6,157.1 159.9,156.1 160.2,155.1 160.5,154.2 160.8,153.4 161.2,152.5 161.5,151.7 161.8,150.8 162.1,149.9 162.4,149.0 162.8,148.1 163.1,147.2 163.4,146.3 163.7,145.3 164.0,144.4 164.4,143.4 164.7,142.4 165.0,141.4 165.3,140.4 165.6,139.5 166.0,138.6 166.3,137.8 166.6,136.9 166.9,136.0 167.3,135.0 167.6,134.1 167.9,133.2 168.2,132.2 168.5,131.3 168.9,130.3 169.2,129.3 169.5,128.4 169.8,127.4 170.1,126.3 170.5,125.3 170.8,124.3 171.1,123.2 171.4,122.2 171.7,121.1 172.1,120.0 172.4,118.9 172.7,117.8 173.0,116.7 173.3,115.6 173.7,114.5 174.0,113.3 174.3,112.1 174.6,111.0 174.9,109.8 175.3,108.7 175.6,107.7 175.9,106.7 176.2,105.6 176.5,104.6 176.9,103.5 177.2,102.4 177.5,101.3 177.8,100.2 178.1,99.1 178.5,98.0 178.8,96.9 179.1,95.7 179.4,94.6 179.8,93.3 180.1,92.1 180.4,90.8 180.7,89.6 181.0,88.3 181.4,87.1 181.7,85.8 182.0,84.6 182.3,83.4 182.6,82.2 183.0,81.0 183.3,79.8 183.6,78.5 183.9,77.3 184.2,76.1 184.6,74.8 184.9,73.6 185.2,72.3 185.5,71.0 185.8,69.7 186.2,68.4 186.5,67.1 186.8,65.8 187.1,64.4 187.4,65.8 187.8,67.1 188.1,68.4 188.4,69.7 188.7,71.0 189.0,72.3 189.4,73.6 189.7,74.8 190.0,76.1 190.3,77.3 190.6,78.5 191.0,79.8 191.3,81.0 191.6,82.2 191.9,83.4 192.3,84.6 192.6,85.8 192.9,87.1 193.2,88.3 193.5,89.6 193.9,90.8 194.2,92.1 194.5,93.3 194.8,94.6 195.1,95.7 195.5,96.9 195.8,98.0 196.1,99.1 196.4,100.2 196.7,101.3 197.1,102.4 197.4,103.5 197.7,104.6 198.0,105.6 198.3,106.7 198.7,107.7 199.0,108.7 199.3,109.8 199.6,111.0 199.9,112.1 200.3,113.3 200.6,114.5 200.9,115.6 201.2,116.7 201.5,117.8 201.9,118.9 202.2,120.0 202.5,121.1 202.8,122.2 203.1,123.2 203.5,124.3 203.8,125.3 204.1,126.3 204.4,127.4 204.8,128.4 205.1,129.3 205.4,130.3 205.7,131.3 206.0,132.2 206.4,133.2 206.7,134.1 207.0,135.0 207.3,136.0 207.6,136.9 208.0,137.8 208.3,138.6 208.6,139.5 208.9,140.4 209.2,141.4 209.6,142.4 209.9,143.4 210.2,144.4 210.5,145.3 210.8,146.3 211.2,147.2 211.5,148.1 211.8,149.0 212.1,149.9 212.4,150.8 212.8,151.7 213.1,152.5 213.4,153.4 213.7,154.2 214.0,155.1 214.4,156.1 214.7,157.1 215.0,158.1 215.3,159.1 215.6,160.1 216.0,161.0 216.3,162.0 216.6,162.9 216.9,163.8 217.2,164.7 217.6,165.6 217.9,166.5 218.2,167.3 218.5,168.1 218.9,169.0 219.2,169.8 219.5,170.6 219.8,171.4 220.1,172.2 220.5,173.0 220.8,173.8 221.1,174.6 221.4,175.3 221.7,176.1 222.1,176.8 222.4,177.5 222.7,178.2 223.0,178.9 223.3,179.6 223.7,180.3 224.0,180.9 224.3,181.6 224.6,182.2 224.9,182.8 225.3,183.4 225.6,184.0 225.9,184.7 226.2,185.4 226.5,186.0 226.9,186.7 227.2,187.3 227.5,187.9 227.8,188.5 228.1,189.1 228.5,189.7 228.8,190.2 229.1,190.8 229.4,191.3 229.7,191.8 230.1,192.4 230.4,192.9 230.7,193.4 231.0,193.9 231.4,194.3 231.7,194.8 232.0,195.3 232.3,195.7 232.6,196.2 233.0,196.6 233.3,197.0 233.6,197.4 233.9,197.8 234.2,198.2 234.6,198.6 234.9,199.0 235.2,199.4 235.5,199.8 235.8,200.3 236.2,200.7 236.5,201.2 236.8,201.6 237.1,202.0 237.4,202.4 237.8,202.8 238.1,203.2 238.4,203.5 238.7,203.9 239.0,204.3 239.4,204.6 239.7,204.9 240.0,205.3 240.3,205.6 240.6,205.9 241.0,206.2 241.3,206.5 241.6,206.8 241.9,207.1 242.2,207.3 242.6,207.6 242.9,207.9 243.2,208.1 243.5,208.4 243.9,208.6 244.2,208.8 244.5,209.1 244.8,209.3 245.1,209.5 245.5,209.7 245.8,209.9 246.1,210.1 246.4,210.3 246.7,210.5 247.1,210.7 247.4,210.9 247.7,211.0 248.0,211.2 248.3,211.4 248.7,211.6 249.0,211.7 249.3,211.9 249.6,212.0 249.9,212.2 250.3,212.3 250.6,212.4 250.9,212.6 251.2,212.7 251.5,212.8 251.9,213.0 252.2,213.1 252.5,213.2 252.8,213.3 253.1,213.4 253.5,213.6 253.8,213.7 254.1,213.8 254.4,213.9 254.7,214.0 255.1,214.1 255.4,214.1 255.7,214.2 256.0,214.3 256.4,214.4 256.7,214.5 257.0,214.5 257.3,214.6 257.6,214.7 258.0,214.8 258.3,214.8 258.6,214.9 258.9,215.0 259.2,215.0 259.6,215.1 259.9,215.2 260.2,215.2 260.5,215.3 260.8,215.3 261.2,215.4 261.5,215.5 261.8,215.5 262.1,215.6 262.4,215.6 262.8,215.7 263.1,215.7 263.4,215.8 263.7,215.8 264.0,215.8 264.4,215.9 264.7,215.9 265.0,216.0 265.3,216.0 265.6,216.1 266.0,216.1 266.3,216.1 266.6,216.2 266.9,216.2 267.2,216.3 267.6,216.3 267.9,216.3 268.2,216.4 268.5,216.4 268.9,216.4 269.2,216.5 269.5,216.5 269.8,216.5 270.1,216.5 270.5,216.6 270.8,216.6 271.1,216.6 271.4,216.7 271.7,216.7 272.1,216.7 272.4,216.7 272.7,216.8 273.0,216.8 273.3,216.8 273.7,216.8 274.0,216.8 274.3,216.9 274.6,216.9 274.9,216.9 275.3,216.9 275.6,216.9 275.9,216.9 276.2,217.0 276.5,217.0 276.9,217.0 277.2,217.0 277.5,217.0 277.8,217.0 278.1,217.0 278.5,217.0 278.8,217.1 279.1,217.1 279.4,217.1 279.7,217.1 280.1,217.1 280.4,217.1 280.7,217.1 281.0,217.1 281.3,217.1 281.7,217.1 282.0,217.2 282.3,217.2 282.6,217.2 283.0,217.2 283.3,217.2 283.6,217.2 283.9,217.2 284.2,217.2 284.6,217.2 284.9,217.2 285.2,217.3 285.5,217.3 285.8,217.3 286.2,217.3 286.5,217.3 286.8,217.3 287.1,217.3 287.4,217.3 287.8,217.3 288.1,217.3 288.4,217.3 288.7,217.3 289.0,217.3 289.4,217.4 289.7,217.4 290.0,217.4 290.3,217.4 290.6,217.4 291.0,217.4 291.3,217.4 291.6,217.4 291.9,217.4 292.2,217.4 292.6,217.4 292.9,217.4 293.2,217.4 293.5,217.4 293.8,217.4 294.2,217.4 294.5,217.4 294.8,217.5 295.1,217.5 295.5,217.5 295.8,217.5 296.1,217.5 296.4,217.5 296.7,217.5 297.1,217.5 297.4,217.5 297.7,217.5 298.0,217.5 298.3,217.5 298.7,217.5 299.0,217.5 299.3,217.5 299.6,217.5 299.9,217.5 300.3,217.5 300.6,217.5 300.9,217.5 301.2,217.5 301.5,217.5 301.9,217.5 302.2,217.5 302.5,217.5 302.8,217.5 303.1,217.5 303.5,217.5 303.8,217.5 304.1,217.6 304.4,217.6 304.7,217.6 305.1,217.6 305.4,217.6 305.7,217.6 306.0,217.6 306.3,217.6 306.7,217.6 307.0,217.6 307.3,217.6 307.6,217.6 308.0,217.6 308.3,217.6 308.6,217.6 308.9,217.6 309.2,217.6 309.6,217.6 309.9,217.6 310.2,217.6 310.5,217.6 310.8,217.6 311.2,217.6 311.5,217.6 311.8,217.6 312.1,217.6 312.4,217.6 312.8,217.6 313.1,217.6 313.4,217.6" fill="none" stroke="#f8ee00" stroke-width="2.2" stroke-linejoin="round"/>
<polygon points="172.0,109.6 176.5,95.2 178.1,89.8 179.7,84.1 181.4,78.4 182.7,73.1 184.5,68.8 187.3,63.3 190.2,68.8 191.5,73.1 193.0,78.4 194.6,84.1 196.3,89.8 197.7,95.2 201.8,109.6 196.9,109.6 192.4,95.2 190.8,89.8 189.7,84.1 186.9,78.8 184.5,84.1 183.2,89.8 181.8,95.2 176.6,109.6" fill="#f8ee00"/>
<polygon points="56.9,217.6 57.3,217.6 57.6,217.6 57.9,217.6 58.2,217.6 58.5,217.6 58.9,217.6 59.2,217.6 59.5,217.6 59.8,217.6 60.1,217.6 60.5,217.6 60.8,217.6 61.1,217.6 61.4,217.6 61.7,217.6 62.1,217.6 62.4,217.6 62.7,217.6 63.0,217.6 63.3,217.6 63.7,217.6 64.0,217.6 64.3,217.6 64.6,217.6 64.9,217.6 65.3,217.6 65.6,217.6 65.9,217.6 66.2,217.6 66.5,217.6 66.9,217.6 67.2,217.6 67.5,217.6 67.8,217.6 68.1,217.6 68.5,217.6 68.8,217.6 69.1,217.6 69.4,217.6 69.8,217.6 70.1,217.6 70.4,217.5 70.7,217.5 71.0,217.5 71.4,217.5 71.7,217.5 72.0,217.5 72.3,217.5 72.6,217.5 73.0,217.5 73.3,217.5 73.6,217.5 73.9,217.5 74.2,217.5 74.6,217.5 74.9,217.5 75.2,217.5 75.5,217.5 75.8,217.5 76.2,217.5 76.5,217.5 76.8,217.5 77.1,217.5 77.4,217.5 77.8,217.5 78.1,217.5 78.4,217.5 78.7,217.5 79.0,217.5 79.4,217.5 79.7,217.4 80.0,217.4 80.3,217.4 80.6,217.4 81.0,217.4 81.3,217.4 81.6,217.4 81.9,217.4 82.2,217.4 82.6,217.4 82.9,217.4 83.2,217.4 83.5,217.4 83.8,217.4 84.2,217.4 84.5,217.4 84.8,217.4 85.1,217.3 85.5,217.3 85.8,217.3 86.1,217.3 86.4,217.3 86.7,217.3 87.1,217.3 87.4,217.3 87.7,217.3 88.0,217.3 88.3,217.3 88.7,217.3 89.0,217.3 89.3,217.2 89.6,217.2 89.9,217.2 90.3,217.2 90.6,217.2 90.9,217.2 91.2,217.2 91.5,217.2 91.9,217.2 92.2,217.2 92.5,217.1 92.8,217.1 93.1,217.1 93.5,217.1 93.8,217.1 94.1,217.1 94.4,217.1 94.7,217.1 95.1,217.1 95.4,217.1 95.7,217.0 96.0,217.0 96.3,217.0 96.7,217.0 97.0,217.0 97.3,217.0 97.6,217.0 97.9,217.0 98.3,216.9 98.6,216.9 98.9,216.9 99.2,216.9 99.5,216.9 99.9,216.9 100.2,216.8 100.5,216.8 100.8,216.8 101.1,216.8 101.5,216.8 101.8,216.7 102.1,216.7 102.4,216.7 102.7,216.7 103.1,216.6 103.4,216.6 103.7,216.6 104.0,216.5 104.3,216.5 104.7,216.5 105.0,216.5 105.3,216.4 105.6,216.4 105.9,216.4 106.3,216.3 106.6,216.3 106.9,216.3 107.2,216.2 107.5,216.2 107.9,216.1 108.2,216.1 108.5,216.1 108.8,216.0 109.1,216.0 109.5,215.9 109.8,215.9 110.1,215.8 110.4,215.8 110.7,215.8 111.1,215.7 111.4,215.7 111.7,215.6 112.0,215.6 112.3,215.5 112.7,215.5 113.0,215.4 113.3,215.3 113.6,215.3 113.9,215.2 114.3,215.2 114.6,215.1 114.9,215.0 115.2,215.0 115.5,214.9 115.8,214.8 116.2,214.8 116.5,214.7 116.8,214.6 117.1,214.5 117.4,214.5 117.8,214.4 118.1,214.3 118.4,214.2 118.7,214.1 119.0,214.1 119.4,214.0 119.7,213.9 120.0,213.8 120.3,213.7 120.6,213.6 120.9,213.4 121.3,213.3 121.6,213.2 121.9,213.1 122.2,213.0 122.5,212.8 122.9,212.7 123.2,212.6 123.5,212.4 123.8,212.3 124.1,212.2 124.4,212.0 124.8,211.9 125.1,211.7 125.4,211.6 125.7,211.4 126.0,211.2 126.3,211.0 126.7,210.9 127.0,210.7 127.3,210.5 127.6,210.3 127.9,210.1 128.2,209.9 128.6,209.7 128.9,209.5 129.2,209.3 129.5,209.1 129.8,208.8 130.1,208.6 130.5,208.4 130.8,208.1 131.1,207.9 131.4,207.6 131.7,207.3 132.0,207.1 132.3,206.8 132.7,206.5 133.0,206.2 133.3,205.9 133.6,205.6 133.9,205.3 134.2,204.9 134.5,204.6 134.9,204.3 135.2,203.9 135.5,203.5 135.8,203.2 136.1,202.8 136.4,202.4 136.7,202.0 137.0,201.6 137.4,201.2 137.7,200.7 138.0,200.3 138.3,199.8 138.6,199.4 138.9,199.0 139.2,198.6 139.5,198.2 139.8,197.8 140.2,197.4 140.5,197.0 140.8,196.6 141.1,196.2 141.4,195.7 141.7,195.3 142.0,194.8 142.3,194.3 142.6,193.9 143.0,193.4 143.3,192.9 143.6,192.4 143.9,191.8 144.2,191.3 144.5,190.8 144.8,190.2 145.1,189.7 145.4,189.1 145.7,188.5 146.0,187.9 146.4,187.3 146.7,186.7 147.0,186.0 147.3,185.4 147.6,184.7 147.9,184.0 148.2,183.4 148.5,182.8 148.8,182.2 149.1,181.6 149.4,180.9 149.7,180.3 150.0,179.6 150.3,178.9 150.7,178.2 151.0,177.5 151.3,176.8 151.6,176.1 151.9,175.3 152.2,174.6 152.5,173.8 152.8,173.0 153.1,172.2 153.4,171.4 153.7,170.6 154.0,169.8 154.3,169.0 154.6,168.1 154.9,167.3 155.2,166.5 155.5,165.6 155.8,164.7 156.1,163.8 156.4,162.9 156.7,162.0 157.1,161.0 157.4,160.1 157.7,159.1 158.0,158.1 158.3,157.1 158.6,156.1 158.9,155.1 159.2,154.2 159.5,153.4 159.8,152.5 160.1,151.7 160.4,150.8 160.7,149.9 161.0,149.0 161.3,148.1 161.7,147.2 162.0,146.3 162.3,145.3 162.6,144.4 162.9,143.4 163.2,142.4 163.5,141.4 163.8,140.4 164.1,139.5 164.4,138.6 164.7,137.8 165.0,136.9 165.3,136.0 165.6,135.0 165.9,134.1 166.2,133.2 166.5,132.2 166.8,131.3 167.1,130.3 167.4,129.3 167.6,128.4 167.9,127.4 168.2,126.3 168.5,125.3 168.8,124.3 169.1,123.2 169.4,122.2 169.7,121.1 170.0,120.0 170.3,118.9 170.6,117.8 170.9,116.7 171.2,115.6 171.5,114.5 171.8,113.3 172.1,112.1 172.4,111.0 172.6,109.8 173.0,108.7 173.3,107.7 173.6,106.7 173.9,105.6 174.2,104.6 174.6,103.5 174.9,102.4 175.2,101.3 175.5,100.2 175.8,99.1 176.2,98.0 176.5,96.9 176.8,95.7 177.1,94.6 177.5,93.3 177.8,92.1 178.1,90.8 178.4,89.6 178.7,88.3 179.1,87.1 179.4,85.8 179.7,84.6 180.0,83.4 180.3,82.2 180.7,81.0 181.0,79.8 181.3,78.5 181.6,77.3 181.9,76.1 182.3,74.8 182.6,73.6 182.9,72.3 183.2,71.0 183.5,69.7 183.9,68.4 184.2,67.1 184.5,65.8 189.1,65.8 188.8,67.1 188.5,68.4 188.1,69.7 187.8,71.0 187.5,72.3 187.2,73.6 186.9,74.8 186.5,76.1 186.2,77.3 185.9,78.5 185.6,79.8 185.3,81.0 184.9,82.2 184.6,83.4 184.3,84.6 184.0,85.8 183.7,87.1 183.3,88.3 183.0,89.6 182.7,90.8 182.4,92.1 182.1,93.3 181.7,94.6 181.4,95.7 181.1,96.9 180.8,98.0 180.4,99.1 180.1,100.2 179.8,101.3 179.5,102.4 179.2,103.5 178.8,104.6 178.5,105.6 178.2,106.7 177.9,107.7 177.6,108.7 177.2,109.8 176.9,111.0 176.5,112.1 176.2,113.3 175.8,114.5 175.5,115.6 175.2,116.7 174.8,117.8 174.5,118.9 174.1,120.0 173.8,121.1 173.4,122.2 173.1,123.2 172.7,124.3 172.4,125.3 172.0,126.3 171.7,127.4 171.3,128.4 171.0,129.3 170.7,130.3 170.3,131.3 170.0,132.2 169.6,133.2 169.3,134.1 168.9,135.0 168.6,136.0 168.3,136.9 167.9,137.8 167.6,138.6 167.2,139.5 166.9,140.4 166.5,141.4 166.2,142.4 165.9,143.4 165.5,144.4 165.2,145.3 164.9,146.3 164.5,147.2 164.2,148.1 163.8,149.0 163.5,149.9 163.2,150.8 162.8,151.7 162.5,152.5 162.2,153.4 161.8,154.2 161.5,155.1 161.2,156.1 160.8,157.1 160.5,158.1 160.2,159.1 159.8,160.1 159.5,161.0 159.2,162.0 158.8,162.9 158.5,163.8 158.2,164.7 157.8,165.6 157.5,166.5 157.2,167.3 156.8,168.1 156.5,169.0 156.1,169.8 155.8,170.6 155.5,171.4 155.1,172.2 154.8,173.0 154.5,173.8 154.1,174.6 153.8,175.3 153.4,176.1 153.1,176.8 152.8,177.5 152.4,178.2 152.1,178.9 151.8,179.6 151.4,180.3 151.1,180.9 150.8,181.6 150.4,182.2 150.1,182.8 149.8,183.4 149.4,184.0 149.1,184.7 148.8,185.4 148.4,186.0 148.1,186.7 147.8,187.3 147.4,187.9 147.1,188.5 146.8,189.1 146.4,189.7 146.1,190.2 145.8,190.8 145.4,191.3 145.1,191.8 144.8,192.4 144.4,192.9 144.1,193.4 143.8,193.9 143.5,194.3 143.1,194.8 142.8,195.3 142.5,195.7 142.1,196.2 141.8,196.6 141.5,197.0 141.1,197.4 140.8,197.8 140.5,198.2 140.2,198.6 139.8,199.0 139.5,199.4 139.2,199.8 138.8,200.3 138.5,200.7 138.2,201.2 137.8,201.6 137.5,202.0 137.2,202.4 136.9,202.8 136.5,203.2 136.2,203.5 135.9,203.9 135.5,204.3 135.2,204.6 134.9,204.9 134.6,205.3 134.2,205.6 133.9,205.9 133.6,206.2 133.3,206.5 132.9,206.8 132.6,207.1 132.3,207.3 132.0,207.6 131.6,207.9 131.3,208.1 131.0,208.4 130.7,208.6 130.3,208.8 130.0,209.1 129.7,209.3 129.3,209.5 129.0,209.7 128.7,209.9 128.4,210.1 128.1,210.3 127.7,210.5 127.4,210.7 127.1,210.9 126.8,211.0 126.4,211.2 126.1,211.4 125.8,211.6 125.5,211.7 125.1,211.9 124.8,212.0 124.5,212.2 124.2,212.3 123.8,212.4 123.5,212.6 123.2,212.7 122.9,212.8 122.5,213.0 122.2,213.1 121.9,213.2 121.6,213.3 121.3,213.4 120.9,213.6 120.6,213.7 120.3,213.8 120.0,213.9 119.6,214.0 119.3,214.1 119.0,214.1 118.7,214.2 118.4,214.3 118.0,214.4 117.7,214.5 117.4,214.5 117.1,214.6 116.7,214.7 116.4,214.8 116.1,214.8 115.8,214.9 115.5,215.0 115.1,215.0 114.8,215.1 114.5,215.2 114.2,215.2 113.8,215.3 113.5,215.3 113.2,215.4 112.9,215.5 112.6,215.5 112.2,215.6 111.9,215.6 111.6,215.7 111.3,215.7 110.9,215.8 110.6,215.8 110.3,215.8 110.0,215.9 109.7,215.9 109.3,216.0 109.0,216.0 108.7,216.1 108.4,216.1 108.1,216.1 107.7,216.2 107.4,216.2 107.1,216.3 106.8,216.3 106.5,216.3 106.1,216.4 105.8,216.4 105.5,216.4 105.2,216.5 104.8,216.5 104.5,216.5 104.2,216.5 103.9,216.6 103.6,216.6 103.2,216.6 102.9,216.7 102.6,216.7 102.3,216.7 102.0,216.7 101.6,216.8 101.3,216.8 101.0,216.8 100.7,216.8 100.4,216.8 100.0,216.9 99.7,216.9 99.4,216.9 99.1,216.9 98.7,216.9 98.4,216.9 98.1,217.0 97.8,217.0 97.5,217.0 97.1,217.0 96.8,217.0 96.5,217.0 96.2,217.0 95.9,217.0 95.5,217.1 95.2,217.1 94.9,217.1 94.6,217.1 94.3,217.1 93.9,217.1 93.6,217.1 93.3,217.1 93.0,217.1 92.7,217.1 92.3,217.2 92.0,217.2 91.7,217.2 91.4,217.2 91.0,217.2 90.7,217.2 90.4,217.2 90.1,217.2 89.8,217.2 89.4,217.2 89.1,217.3 88.8,217.3 88.5,217.3 88.2,217.3 87.8,217.3 87.5,217.3 87.2,217.3 86.9,217.3 86.6,217.3 86.2,217.3 85.9,217.3 85.6,217.3 85.3,217.3 85.0,217.4 84.6,217.4 84.3,217.4 84.0,217.4 83.7,217.4 83.4,217.4 83.0,217.4 82.7,217.4 82.4,217.4 82.1,217.4 81.7,217.4 81.4,217.4 81.1,217.4 80.8,217.4 80.5,217.4 80.1,217.4 79.8,217.4 79.5,217.5 79.2,217.5 78.9,217.5 78.5,217.5 78.2,217.5 77.9,217.5 77.6,217.5 77.3,217.5 76.9,217.5 76.6,217.5 76.3,217.5 76.0,217.5 75.7,217.5 75.3,217.5 75.0,217.5 74.7,217.5 74.4,217.5 74.1,217.5 73.7,217.5 73.4,217.5 73.1,217.5 72.8,217.5 72.5,217.5 72.1,217.5 71.8,217.5 71.5,217.5 71.2,217.5 70.8,217.5 70.5,217.5 70.2,217.6 69.9,217.6 69.6,217.6 69.2,217.6 68.9,217.6 68.6,217.6 68.3,217.6 68.0,217.6 67.6,217.6 67.3,217.6 67.0,217.6 66.7,217.6 66.4,217.6 66.0,217.6 65.7,217.6 65.4,217.6 65.1,217.6 64.8,217.6 64.4,217.6 64.1,217.6 63.8,217.6 63.5,217.6 63.2,217.6 62.8,217.6 62.5,217.6 62.2,217.6 61.9,217.6 61.6,217.6 61.2,217.6 60.9,217.6 60.6,217.6 60.3,217.6 60.0,217.6 59.6,217.6 59.3,217.6 59.0,217.6 58.7,217.6 58.3,217.6 58.0,217.6 57.7,217.6 57.4,217.6 57.1,217.6" fill="#f8ee00"/>
<polygon points="184.8,64.4 185.1,65.8 185.5,67.1 185.8,68.4 186.1,69.7 186.4,71.0 186.7,72.3 187.1,73.6 187.4,74.8 187.7,76.1 188.0,77.3 188.3,78.5 188.7,79.8 189.0,81.0 189.3,82.2 189.6,83.4 190.0,84.6 190.3,85.8 190.6,87.1 190.9,88.3 191.2,89.6 191.6,90.8 191.9,92.1 192.2,93.3 192.5,94.6 192.8,95.7 193.2,96.9 193.5,98.0 193.8,99.1 194.1,100.2 194.4,101.3 194.8,102.4 195.1,103.5 195.4,104.6 195.7,105.6 196.0,106.7 196.4,107.7 196.7,108.7 197.0,109.8 197.4,111.0 197.7,112.1 198.0,113.3 198.4,114.5 198.7,115.6 199.1,116.7 199.4,117.8 199.8,118.9 200.1,120.0 200.5,121.1 200.8,122.2 201.2,123.2 201.5,124.3 201.9,125.3 202.2,126.3 202.6,127.4 202.9,128.4 203.2,129.3 203.6,130.3 203.9,131.3 204.3,132.2 204.6,133.2 205.0,134.1 205.3,135.0 205.7,136.0 206.0,136.9 206.3,137.8 206.7,138.6 207.0,139.5 207.4,140.4 207.7,141.4 208.1,142.4 208.4,143.4 208.7,144.4 209.1,145.3 209.4,146.3 209.7,147.2 210.1,148.1 210.4,149.0 210.7,149.9 211.1,150.8 211.4,151.7 211.7,152.5 212.1,153.4 212.4,154.2 212.7,155.1 213.1,156.1 213.4,157.1 213.7,158.1 214.1,159.1 214.4,160.1 214.7,161.0 215.1,162.0 215.4,162.9 215.7,163.8 216.1,164.7 216.4,165.6 216.7,166.5 217.1,167.3 217.4,168.1 217.8,169.0 218.1,169.8 218.4,170.6 218.8,171.4 219.1,172.2 219.5,173.0 219.8,173.8 220.1,174.6 220.5,175.3 220.8,176.1 221.1,176.8 221.5,177.5 221.8,178.2 222.1,178.9 222.5,179.6 222.8,180.3 223.1,180.9 223.5,181.6 223.8,182.2 224.1,182.8 224.5,183.4 224.8,184.0 225.1,184.7 225.5,185.4 225.8,186.0 226.1,186.7 226.5,187.3 226.8,187.9 227.1,188.5 227.5,189.1 227.8,189.7 228.1,190.2 228.5,190.8 228.8,191.3 229.1,191.8 229.5,192.4 229.8,192.9 230.1,193.4 230.5,193.9 230.8,194.3 231.1,194.8 231.5,195.3 231.8,195.7 232.1,196.2 232.4,196.6 232.8,197.0 233.1,197.4 233.4,197.8 233.8,198.2 234.1,198.6 234.4,199.0 234.7,199.4 235.1,199.8 235.4,200.3 235.7,200.7 236.1,201.2 236.4,201.6 236.7,202.0 237.1,202.4 237.4,202.8 237.7,203.2 238.0,203.5 238.4,203.9 238.7,204.3 239.0,204.6 239.4,204.9 239.7,205.3 240.0,205.6 240.3,205.9 240.7,206.2 241.0,206.5 241.3,206.8 241.6,207.1 242.0,207.3 242.3,207.6 242.6,207.9 242.9,208.1 243.3,208.4 243.6,208.6 243.9,208.8 244.2,209.1 244.6,209.3 244.9,209.5 245.2,209.7 245.5,209.9 245.9,210.1 246.2,210.3 246.5,210.5 246.8,210.7 247.2,210.9 247.5,211.0 247.8,211.2 248.1,211.4 248.5,211.6 248.8,211.7 249.1,211.9 249.4,212.0 249.8,212.2 250.1,212.3 250.4,212.4 250.7,212.6 251.1,212.7 251.4,212.8 251.7,213.0 252.0,213.1 252.3,213.2 252.7,213.3 253.0,213.4 253.3,213.6 253.6,213.7 254.0,213.8 254.3,213.9 254.6,214.0 254.9,214.1 255.2,214.1 255.6,214.2 255.9,214.3 256.2,214.4 256.5,214.5 256.9,214.5 257.2,214.6 257.5,214.7 257.8,214.8 258.1,214.8 258.5,214.9 258.8,215.0 259.1,215.0 259.4,215.1 259.8,215.2 260.1,215.2 260.4,215.3 260.7,215.3 261.0,215.4 261.4,215.5 261.7,215.5 262.0,215.6 262.3,215.6 262.7,215.7 263.0,215.7 263.3,215.8 263.6,215.8 263.9,215.8 264.3,215.9 264.6,215.9 264.9,216.0 265.2,216.0 265.5,216.1 265.9,216.1 266.2,216.1 266.5,216.2 266.8,216.2 267.2,216.3 267.5,216.3 267.8,216.3 268.1,216.4 268.4,216.4 268.8,216.4 269.1,216.5 269.4,216.5 269.7,216.5 270.0,216.5 270.4,216.6 270.7,216.6 271.0,216.6 271.3,216.7 271.6,216.7 272.0,216.7 272.3,216.7 272.6,216.8 272.9,216.8 273.3,216.8 273.6,216.8 273.9,216.8 274.2,216.9 274.5,216.9 274.9,216.9 275.2,216.9 275.5,216.9 275.8,216.9 276.1,217.0 276.5,217.0 276.8,217.0 277.1,217.0 277.4,217.0 277.7,217.0 278.1,217.0 278.4,217.0 278.7,217.1 279.0,217.1 279.3,217.1 279.7,217.1 280.0,217.1 280.3,217.1 280.6,217.1 281.0,217.1 281.3,217.1 281.6,217.1 281.9,217.2 282.2,217.2 282.6,217.2 282.9,217.2 283.2,217.2 283.5,217.2 283.8,217.2 284.2,217.2 284.5,217.2 284.8,217.2 285.1,217.3 285.4,217.3 285.8,217.3 286.1,217.3 286.4,217.3 286.7,217.3 287.0,217.3 287.4,217.3 287.7,217.3 288.0,217.3 288.3,217.3 288.6,217.3 289.0,217.3 289.3,217.4 289.6,217.4 289.9,217.4 290.3,217.4 290.6,217.4 290.9,217.4 291.2,217.4 291.5,217.4 291.9,217.4 292.2,217.4 292.5,217.4 292.8,217.4 293.1,217.4 293.5,217.4 293.8,217.4 294.1,217.4 294.4,217.4 294.7,217.5 295.1,217.5 295.4,217.5 295.7,217.5 296.0,217.5 296.3,217.5 296.7,217.5 297.0,217.5 297.3,217.5 297.6,217.5 297.9,217.5 298.3,217.5 298.6,217.5 298.9,217.5 299.2,217.5 299.5,217.5 299.9,217.5 300.2,217.5 300.5,217.5 300.8,217.5 301.2,217.5 301.5,217.5 301.8,217.5 302.1,217.5 302.4,217.5 302.8,217.5 303.1,217.5 303.4,217.5 303.7,217.5 304.0,217.6 304.4,217.6 304.7,217.6 305.0,217.6 305.3,217.6 305.6,217.6 306.0,217.6 306.3,217.6 306.6,217.6 306.9,217.6 307.2,217.6 307.6,217.6 307.9,217.6 308.2,217.6 308.5,217.6 308.8,217.6 309.2,217.6 309.5,217.6 309.8,217.6 310.1,217.6 310.4,217.6 310.8,217.6 311.1,217.6 311.4,217.6 311.7,217.6 312.1,217.6 312.4,217.6 312.7,217.6 313.0,217.6 313.3,217.6 313.5,217.6 313.1,217.6 312.8,217.6 312.5,217.6 312.2,217.6 311.9,217.6 311.5,217.6 311.2,217.6 310.9,217.6 310.6,217.6 310.3,217.6 309.9,217.6 309.6,217.6 309.3,217.6 309.0,217.6 308.7,217.6 308.3,217.6 308.0,217.6 307.7,217.6 307.4,217.6 307.1,217.6 306.7,217.6 306.4,217.6 306.1,217.6 305.8,217.6 305.5,217.6 305.1,217.6 304.8,217.6 304.5,217.6 304.2,217.6 303.9,217.5 303.5,217.5 303.2,217.5 302.9,217.5 302.6,217.5 302.3,217.5 301.9,217.5 301.6,217.5 301.3,217.5 301.0,217.5 300.6,217.5 300.3,217.5 300.0,217.5 299.7,217.5 299.4,217.5 299.0,217.5 298.7,217.5 298.4,217.5 298.1,217.5 297.8,217.5 297.4,217.5 297.1,217.5 296.8,217.5 296.5,217.5 296.2,217.5 295.8,217.5 295.5,217.5 295.2,217.5 294.9,217.5 294.6,217.4 294.2,217.4 293.9,217.4 293.6,217.4 293.3,217.4 293.0,217.4 292.6,217.4 292.3,217.4 292.0,217.4 291.7,217.4 291.4,217.4 291.0,217.4 290.7,217.4 290.4,217.4 290.1,217.4 289.8,217.4 289.4,217.4 289.1,217.3 288.8,217.3 288.5,217.3 288.2,217.3 287.8,217.3 287.5,217.3 287.2,217.3 286.9,217.3 286.6,217.3 286.2,217.3 285.9,217.3 285.6,217.3 285.3,217.3 285.0,217.2 284.6,217.2 284.3,217.2 284.0,217.2 283.7,217.2 283.3,217.2 283.0,217.2 282.7,217.2 282.4,217.2 282.1,217.2 281.7,217.1 281.4,217.1 281.1,217.1 280.8,217.1 280.5,217.1 280.1,217.1 279.8,217.1 279.5,217.1 279.2,217.1 278.9,217.1 278.5,217.0 278.2,217.0 277.9,217.0 277.6,217.0 277.3,217.0 276.9,217.0 276.6,217.0 276.3,217.0 276.0,216.9 275.7,216.9 275.3,216.9 275.0,216.9 274.7,216.9 274.4,216.9 274.1,216.8 273.7,216.8 273.4,216.8 273.1,216.8 272.8,216.8 272.5,216.7 272.1,216.7 271.8,216.7 271.5,216.7 271.2,216.6 270.9,216.6 270.5,216.6 270.2,216.5 269.9,216.5 269.6,216.5 269.3,216.5 268.9,216.4 268.6,216.4 268.3,216.4 268.0,216.3 267.7,216.3 267.3,216.3 267.0,216.2 266.7,216.2 266.4,216.1 266.1,216.1 265.7,216.1 265.4,216.0 265.1,216.0 264.8,215.9 264.5,215.9 264.1,215.8 263.8,215.8 263.5,215.8 263.2,215.7 262.9,215.7 262.5,215.6 262.2,215.6 261.9,215.5 261.6,215.5 261.3,215.4 261.0,215.3 260.6,215.3 260.3,215.2 260.0,215.2 259.7,215.1 259.4,215.0 259.0,215.0 258.7,214.9 258.4,214.8 258.1,214.8 257.8,214.7 257.4,214.6 257.1,214.5 256.8,214.5 256.5,214.4 256.2,214.3 255.8,214.2 255.5,214.1 255.2,214.1 254.9,214.0 254.6,213.9 254.3,213.8 253.9,213.7 253.6,213.6 253.3,213.4 253.0,213.3 252.7,213.2 252.3,213.1 252.0,213.0 251.7,212.8 251.4,212.7 251.1,212.6 250.8,212.4 250.4,212.3 250.1,212.2 249.8,212.0 249.5,211.9 249.2,211.7 248.9,211.6 248.5,211.4 248.2,211.2 247.9,211.0 247.6,210.9 247.3,210.7 247.0,210.5 246.6,210.3 246.3,210.1 246.0,209.9 245.7,209.7 245.4,209.5 245.1,209.3 244.7,209.1 244.4,208.8 244.1,208.6 243.8,208.4 243.5,208.1 243.2,207.9 242.8,207.6 242.5,207.3 242.2,207.1 241.9,206.8 241.6,206.5 241.3,206.2 241.0,205.9 240.6,205.6 240.3,205.3 240.0,204.9 239.7,204.6 239.4,204.3 239.1,203.9 238.8,203.5 238.5,203.2 238.1,202.8 237.8,202.4 237.5,202.0 237.2,201.6 236.9,201.2 236.6,200.7 236.3,200.3 236.0,199.8 235.6,199.4 235.3,199.0 235.0,198.6 234.7,198.2 234.4,197.8 234.1,197.4 233.8,197.0 233.5,196.6 233.2,196.2 232.8,195.7 232.5,195.3 232.2,194.8 231.9,194.3 231.6,193.9 231.3,193.4 231.0,192.9 230.7,192.4 230.4,191.8 230.0,191.3 229.7,190.8 229.4,190.2 229.1,189.7 228.8,189.1 228.5,188.5 228.2,187.9 227.9,187.3 227.6,186.7 227.3,186.0 227.0,185.4 226.7,184.7 226.4,184.0 226.0,183.4 225.7,182.8 225.4,182.2 225.1,181.6 224.8,180.9 224.5,180.3 224.2,179.6 223.9,178.9 223.6,178.2 223.3,177.5 223.0,176.8 222.7,176.1 222.4,175.3 222.1,174.6 221.8,173.8 221.5,173.0 221.2,172.2 220.9,171.4 220.5,170.6 220.2,169.8 219.9,169.0 219.6,168.1 219.3,167.3 219.0,166.5 218.7,165.6 218.4,164.7 218.1,163.8 217.8,162.9 217.5,162.0 217.2,161.0 216.9,160.1 216.6,159.1 216.3,158.1 216.0,157.1 215.7,156.1 215.4,155.1 215.1,154.2 214.7,153.4 214.4,152.5 214.1,151.7 213.8,150.8 213.5,149.9 213.2,149.0 212.9,148.1 212.6,147.2 212.3,146.3 212.0,145.3 211.7,144.4 211.4,143.4 211.1,142.4 210.8,141.4 210.5,140.4 210.2,139.5 209.9,138.6 209.6,137.8 209.3,136.9 209.0,136.0 208.7,135.0 208.4,134.1 208.1,133.2 207.8,132.2 207.5,131.3 207.2,130.3 206.9,129.3 206.6,128.4 206.3,127.4 206.0,126.3 205.7,125.3 205.4,124.3 205.1,123.2 204.8,122.2 204.5,121.1 204.2,120.0 203.9,118.9 203.6,117.8 203.4,116.7 203.1,115.6 202.8,114.5 202.5,113.3 202.2,112.1 201.9,111.0 201.6,109.8 201.3,108.7 201.0,107.7 200.6,106.7 200.3,105.6 200.0,104.6 199.7,103.5 199.4,102.4 199.0,101.3 198.7,100.2 198.4,99.1 198.1,98.0 197.8,96.9 197.4,95.7 197.1,94.6 196.8,93.3 196.5,92.1 196.2,90.8 195.8,89.6 195.5,88.3 195.2,87.1 194.9,85.8 194.6,84.6 194.2,83.4 193.9,82.2 193.6,81.0 193.3,79.8 192.9,78.5 192.6,77.3 192.3,76.1 192.0,74.8 191.7,73.6 191.3,72.3 191.0,71.0 190.7,69.7 190.4,68.4 190.1,67.1 189.7,65.8 189.4,64.4" fill="#f8ee00"/>
<circle cx="76.6" cy="40.8" r="4.2" fill="none" stroke="#b04a7c" stroke-width="0.9"/>
<path d="M61.2 56.6H93.2" stroke="#f8ee00" stroke-width="2.2"/>
<text x="98.1" y="46.3" font-size="13.7" text-anchor="start" fill="#000">Measured data - 0 V</text>
<text x="98.1" y="61.9" font-size="13.7" text-anchor="start" fill="#000">Monte Carlo</text>
<text x="199" y="62.1" font-size="13.7" text-anchor="start" font-style="italic" fill="#000">w</text>
<text x="207.9" y="65.6" font-size="7" text-anchor="start" fill="#555" style="font-size:7px">1</text>
<text x="214.2" y="62.1" font-size="13.95" text-anchor="start" fill="#000">=153.7 ± 1.3 ps</text>
<text transform="translate(13.1,137) rotate(-90)" font-size="17.5" text-anchor="middle" fill="#000">Coincidence counts in 180s</text>
<text x="186" y="286.7" font-size="17.5" text-anchor="middle" fill="#000">Delay time (ps)</text>
<text x="0.9" y="15.6" font-size="22" font-weight="bold" fill="#231815">a</text>
<rect x="409.6" y="31.3" width="256.4" height="207.1" fill="#c8c8c8"/>
<path d="M409.6 31.3H666V238.4" fill="none" stroke="#1a1a1a" stroke-width="1.3"/>
<path d="M409.6 31.3V238.4" fill="none" stroke="#5a5a5a" stroke-width="1.4"/>
<path d="M409 238.4H666" fill="none" stroke="#1a1a1a" stroke-width="1.3"/>
<path d="M409.6 238.4v3.6M473.7 238.4v3.6M537.8 238.4v3.6M601.9 238.4v3.6M666 238.4v3.6M409.6 219.6h-4M409.6 181.9h-4M409.6 144.3h-4M409.6 106.6h-4M409.6 69h-4M409.6 31.3h-4M409.6 238.4h-2.4M409.6 200.8h-2.4M409.6 163.1h-2.4M409.6 125.5h-2.4M409.6 87.8h-2.4M409.6 50.1h-2.4" fill="none" stroke="#1a1a1a" stroke-width="1.2"/>
<text x="409.6" y="258.2" font-size="17.5" text-anchor="middle" fill="#000">-1000</text>
<text x="473.7" y="258.2" font-size="17.5" text-anchor="middle" fill="#000">-500</text>
<text x="537.8" y="258.2" font-size="17.5" text-anchor="middle" fill="#000">0</text>
<text x="601.9" y="258.2" font-size="17.5" text-anchor="middle" fill="#000">500</text>
<text x="666" y="258.2" font-size="17.5" text-anchor="middle" fill="#000">1000</text>
<text x="402.6" y="225.3" font-size="17.5" text-anchor="end" fill="#000">0</text>
<text x="402.6" y="187.6" font-size="17.5" text-anchor="end" fill="#000">150</text>
<text x="402.6" y="150" font-size="17.5" text-anchor="end" fill="#000">300</text>
<text x="402.6" y="112.3" font-size="17.5" text-anchor="end" fill="#000">450</text>
<text x="402.6" y="74.7" font-size="17.5" text-anchor="end" fill="#000">600</text>
<text x="402.6" y="37" font-size="17.5" text-anchor="end" fill="#000">750</text>
<g fill="none" stroke="#356392" stroke-width="0.45" style="--r:4.3px"><circle cx="409.6" cy="218.7"/><circle cx="409.7" cy="219.1"/><circle cx="409.7" cy="219.1"/><circle cx="409.8" cy="219.3"/><circle cx="409.9" cy="219.5"/><circle cx="410.0" cy="219.2"/><circle cx="410.0" cy="219.3"/><circle cx="410.1" cy="219.4"/><circle cx="410.2" cy="219.9"/><circle cx="410.3" cy="219.5"/><circle cx="410.3" cy="219.2"/><circle cx="410.4" cy="219.6"/><circle cx="410.5" cy="219.3"/><circle cx="410.6" cy="219.4"/><circle cx="410.6" cy="219.8"/><circle cx="410.7" cy="219.7"/><circle cx="410.8" cy="219.7"/><circle cx="410.8" cy="219.5"/><circle cx="410.9" cy="219.5"/><circle cx="411.0" cy="219.0"/><circle cx="411.1" cy="219.8"/><circle cx="411.1" cy="220.1"/><circle cx="411.2" cy="219.1"/><circle cx="411.3" cy="219.6"/><circle cx="411.4" cy="219.4"/><circle cx="411.4" cy="218.6"/><circle cx="411.5" cy="218.9"/><circle cx="411.6" cy="219.2"/><circle cx="411.7" cy="219.0"/><circle cx="411.7" cy="219.3"/><circle cx="411.8" cy="219.0"/><circle cx="411.9" cy="219.6"/><circle cx="411.9" cy="219.6"/><circle cx="412.0" cy="219.6"/><circle cx="412.1" cy="218.8"/><circle cx="412.2" cy="218.8"/><circle cx="412.2" cy="219.6"/><circle cx="412.3" cy="219.0"/><circle cx="412.4" cy="219.4"/><circle cx="412.5" cy="219.0"/><circle cx="412.5" cy="219.5"/><circle cx="412.6" cy="219.0"/><circle cx="412.7" cy="219.4"/><circle cx="412.8" cy="219.5"/><circle cx="412.8" cy="219.4"/><circle cx="412.9" cy="219.3"/><circle cx="413.0" cy="219.6"/><circle cx="413.0" cy="219.9"/><circle cx="413.1" cy="218.8"/><circle cx="413.2" cy="219.5"/><circle cx="413.3" cy="220.0"/><circle cx="413.3" cy="220.2"/><circle cx="413.4" cy="220.2"/><circle cx="413.5" cy="219.6"/><circle cx="413.6" cy="218.9"/><circle cx="413.6" cy="220.0"/><circle cx="413.7" cy="219.5"/><circle cx="413.8" cy="220.1"/><circle cx="413.9" cy="219.0"/><circle cx="413.9" cy="219.3"/><circle cx="414.0" cy="219.3"/><circle cx="414.1" cy="218.9"/><circle cx="414.1" cy="218.8"/><circle cx="414.2" cy="219.0"/><circle cx="414.3" cy="219.6"/><circle cx="414.4" cy="219.9"/><circle cx="414.4" cy="219.8"/><circle cx="414.5" cy="220.0"/><circle cx="414.6" cy="218.7"/><circle cx="414.7" cy="219.5"/><circle cx="414.7" cy="219.3"/><circle cx="414.8" cy="219.3"/><circle cx="414.9" cy="218.7"/><circle cx="414.9" cy="219.6"/><circle cx="415.0" cy="219.0"/><circle cx="415.1" cy="219.3"/><circle cx="415.2" cy="219.4"/><circle cx="415.2" cy="220.1"/><circle cx="415.3" cy="219.1"/><circle cx="415.4" cy="219.7"/><circle cx="415.5" cy="219.6"/><circle cx="415.5" cy="219.3"/><circle cx="415.6" cy="219.4"/><circle cx="415.7" cy="219.0"/><circle cx="415.8" cy="219.6"/><circle cx="415.8" cy="219.3"/><circle cx="415.9" cy="219.3"/><circle cx="416.0" cy="219.4"/><circle cx="416.0" cy="219.1"/><circle cx="416.1" cy="219.5"/><circle cx="416.2" cy="218.9"/><circle cx="416.3" cy="219.6"/><circle cx="416.3" cy="219.9"/><circle cx="416.4" cy="219.4"/><circle cx="416.5" cy="219.0"/><circle cx="416.6" cy="219.6"/><circle cx="416.6" cy="219.6"/><circle cx="416.7" cy="219.5"/><circle cx="416.8" cy="219.3"/><circle cx="416.9" cy="219.4"/><circle cx="416.9" cy="219.3"/><circle cx="417.0" cy="220.0"/><circle cx="417.1" cy="218.8"/><circle cx="417.1" cy="219.2"/><circle cx="417.2" cy="219.7"/><circle cx="417.3" cy="218.9"/><circle cx="417.4" cy="219.2"/><circle cx="417.4" cy="218.9"/><circle cx="417.5" cy="219.8"/><circle cx="417.6" cy="218.8"/><circle cx="417.7" cy="219.4"/><circle cx="417.7" cy="220.1"/><circle cx="417.8" cy="219.1"/><circle cx="417.9" cy="219.5"/><circle cx="418.0" cy="219.8"/><circle cx="418.0" cy="219.5"/><circle cx="418.1" cy="220.1"/><circle cx="418.2" cy="219.2"/><circle cx="418.2" cy="219.5"/><circle cx="418.3" cy="219.5"/><circle cx="418.4" cy="218.9"/><circle cx="418.5" cy="219.4"/><circle cx="418.5" cy="219.6"/><circle cx="418.6" cy="219.7"/><circle cx="418.7" cy="219.4"/><circle cx="418.8" cy="219.0"/><circle cx="418.8" cy="219.6"/><circle cx="418.9" cy="219.8"/><circle cx="419.0" cy="219.0"/><circle cx="419.1" cy="219.4"/><circle cx="419.1" cy="219.4"/><circle cx="419.2" cy="218.6"/><circle cx="419.3" cy="219.8"/><circle cx="419.3" cy="219.3"/><circle cx="419.4" cy="220.0"/><circle cx="419.5" cy="219.5"/><circle cx="419.6" cy="219.2"/><circle cx="419.6" cy="219.0"/><circle cx="419.7" cy="219.8"/><circle cx="419.8" cy="219.1"/><circle cx="419.9" cy="219.1"/><circle cx="419.9" cy="219.4"/><circle cx="420.0" cy="218.6"/><circle cx="420.1" cy="219.4"/><circle cx="420.2" cy="219.7"/><circle cx="420.2" cy="219.2"/><circle cx="420.3" cy="220.1"/><circle cx="420.4" cy="218.8"/><circle cx="420.4" cy="219.0"/><circle cx="420.5" cy="219.5"/><circle cx="420.6" cy="219.2"/><circle cx="420.7" cy="219.2"/><circle cx="420.7" cy="218.7"/><circle cx="420.8" cy="219.6"/><circle cx="420.9" cy="219.9"/><circle cx="421.0" cy="220.1"/><circle cx="421.0" cy="219.5"/><circle cx="421.1" cy="220.0"/><circle cx="421.2" cy="219.4"/><circle cx="421.3" cy="219.2"/><circle cx="421.3" cy="219.5"/><circle cx="421.4" cy="219.7"/><circle cx="421.5" cy="219.0"/><circle cx="421.5" cy="219.5"/><circle cx="421.6" cy="219.3"/><circle cx="421.7" cy="219.0"/><circle cx="421.8" cy="219.9"/><circle cx="421.8" cy="219.7"/><circle cx="421.9" cy="218.6"/><circle cx="422.0" cy="219.4"/><circle cx="422.1" cy="219.8"/><circle cx="422.1" cy="219.5"/><circle cx="422.2" cy="219.6"/><circle cx="422.3" cy="219.8"/><circle cx="422.4" cy="219.5"/><circle cx="422.4" cy="219.4"/><circle cx="422.5" cy="219.4"/><circle cx="422.6" cy="219.2"/><circle cx="422.6" cy="220.0"/><circle cx="422.7" cy="219.9"/><circle cx="422.8" cy="219.1"/><circle cx="422.9" cy="219.5"/><circle cx="422.9" cy="218.9"/><circle cx="423.0" cy="219.3"/><circle cx="423.1" cy="219.9"/><circle cx="423.2" cy="219.2"/><circle cx="423.2" cy="219.8"/><circle cx="423.3" cy="219.3"/><circle cx="423.4" cy="218.9"/><circle cx="423.4" cy="218.6"/><circle cx="423.5" cy="219.4"/><circle cx="423.6" cy="219.1"/><circle cx="423.7" cy="219.3"/><circle cx="423.7" cy="219.1"/><circle cx="423.8" cy="220.2"/><circle cx="423.9" cy="219.5"/><circle cx="424.0" cy="219.3"/><circle cx="424.0" cy="219.2"/><circle cx="424.1" cy="219.7"/><circle cx="424.2" cy="219.1"/><circle cx="424.3" cy="219.0"/><circle cx="424.3" cy="219.4"/><circle cx="424.4" cy="219.5"/><circle cx="424.5" cy="219.5"/><circle cx="424.5" cy="219.3"/><circle cx="424.6" cy="219.0"/><circle cx="424.7" cy="218.8"/><circle cx="424.8" cy="219.6"/><circle cx="424.8" cy="219.7"/><circle cx="424.9" cy="219.7"/><circle cx="425.0" cy="219.0"/><circle cx="425.1" cy="219.3"/><circle cx="425.1" cy="219.3"/><circle cx="425.2" cy="219.2"/><circle cx="425.3" cy="219.2"/><circle cx="425.4" cy="219.4"/><circle cx="425.4" cy="219.8"/><circle cx="425.5" cy="219.6"/><circle cx="425.6" cy="219.3"/><circle cx="425.6" cy="219.2"/><circle cx="425.7" cy="219.5"/><circle cx="425.8" cy="219.5"/><circle cx="425.9" cy="218.9"/><circle cx="425.9" cy="219.6"/><circle cx="426.0" cy="219.3"/><circle cx="426.1" cy="219.5"/><circle cx="426.2" cy="219.7"/><circle cx="426.2" cy="219.9"/><circle cx="426.3" cy="219.6"/><circle cx="426.4" cy="219.7"/><circle cx="426.5" cy="219.1"/><circle cx="426.5" cy="219.8"/><circle cx="426.6" cy="219.5"/><circle cx="426.7" cy="219.1"/><circle cx="426.7" cy="219.4"/><circle cx="426.8" cy="219.2"/><circle cx="426.9" cy="219.1"/><circle cx="427.0" cy="220.0"/><circle cx="427.0" cy="219.5"/><circle cx="427.1" cy="219.7"/><circle cx="427.2" cy="218.9"/><circle cx="427.3" cy="219.4"/><circle cx="427.3" cy="219.2"/><circle cx="427.4" cy="218.8"/><circle cx="427.5" cy="219.5"/><circle cx="427.6" cy="219.4"/><circle cx="427.6" cy="219.2"/><circle cx="427.7" cy="219.5"/><circle cx="427.8" cy="218.9"/><circle cx="427.8" cy="219.1"/><circle cx="427.9" cy="219.0"/><circle cx="428.0" cy="219.4"/><circle cx="428.1" cy="219.5"/><circle cx="428.1" cy="219.5"/><circle cx="428.2" cy="219.5"/><circle cx="428.3" cy="220.0"/><circle cx="428.4" cy="219.3"/><circle cx="428.4" cy="219.1"/><circle cx="428.5" cy="219.4"/><circle cx="428.6" cy="219.6"/><circle cx="428.7" cy="219.4"/><circle cx="428.7" cy="219.3"/><circle cx="428.8" cy="219.3"/><circle cx="428.9" cy="218.7"/><circle cx="428.9" cy="219.7"/><circle cx="429.0" cy="219.3"/><circle cx="429.1" cy="219.1"/><circle cx="429.2" cy="219.4"/><circle cx="429.2" cy="219.5"/><circle cx="429.3" cy="219.8"/><circle cx="429.4" cy="219.6"/><circle cx="429.5" cy="219.1"/><circle cx="429.5" cy="218.9"/><circle cx="429.6" cy="219.6"/><circle cx="429.7" cy="219.2"/><circle cx="429.8" cy="219.2"/><circle cx="429.8" cy="219.0"/><circle cx="429.9" cy="219.3"/><circle cx="430.0" cy="219.2"/><circle cx="430.0" cy="219.1"/><circle cx="430.1" cy="219.8"/><circle cx="430.2" cy="219.4"/><circle cx="430.3" cy="220.0"/><circle cx="430.3" cy="220.1"/><circle cx="430.4" cy="219.7"/><circle cx="430.5" cy="219.9"/><circle cx="430.6" cy="219.2"/><circle cx="430.6" cy="219.0"/><circle cx="430.7" cy="219.5"/><circle cx="430.8" cy="219.4"/><circle cx="430.9" cy="219.5"/><circle cx="430.9" cy="219.5"/><circle cx="431.0" cy="219.3"/><circle cx="431.1" cy="219.3"/><circle cx="431.1" cy="219.6"/><circle cx="431.2" cy="219.7"/><circle cx="431.3" cy="219.6"/><circle cx="431.4" cy="219.1"/><circle cx="431.4" cy="219.5"/><circle cx="431.5" cy="218.9"/><circle cx="431.6" cy="219.5"/><circle cx="431.7" cy="218.9"/><circle cx="431.7" cy="219.8"/><circle cx="431.8" cy="219.6"/><circle cx="431.9" cy="219.2"/><circle cx="431.9" cy="219.2"/><circle cx="432.0" cy="219.4"/><circle cx="432.1" cy="218.7"/><circle cx="432.2" cy="219.4"/><circle cx="432.2" cy="219.3"/><circle cx="432.3" cy="219.6"/><circle cx="432.4" cy="218.8"/><circle cx="432.5" cy="219.1"/><circle cx="432.5" cy="219.2"/><circle cx="432.6" cy="220.0"/><circle cx="432.7" cy="219.3"/><circle cx="432.8" cy="219.6"/><circle cx="432.8" cy="219.2"/><circle cx="432.9" cy="219.1"/><circle cx="433.0" cy="219.7"/><circle cx="433.0" cy="219.3"/><circle cx="433.1" cy="219.1"/><circle cx="433.2" cy="219.3"/><circle cx="433.3" cy="219.5"/><circle cx="433.3" cy="219.8"/><circle cx="433.4" cy="219.6"/><circle cx="433.5" cy="219.8"/><circle cx="433.6" cy="219.0"/><circle cx="433.6" cy="219.4"/><circle cx="433.7" cy="219.8"/><circle cx="433.8" cy="219.4"/><circle cx="433.9" cy="219.8"/><circle cx="433.9" cy="220.2"/><circle cx="434.0" cy="219.0"/><circle cx="434.1" cy="219.0"/><circle cx="434.1" cy="219.9"/><circle cx="434.2" cy="219.6"/><circle cx="434.3" cy="219.3"/><circle cx="434.4" cy="219.5"/><circle cx="434.4" cy="219.7"/><circle cx="434.5" cy="219.6"/><circle cx="434.6" cy="219.5"/><circle cx="434.7" cy="219.6"/><circle cx="434.7" cy="219.3"/><circle cx="434.8" cy="219.5"/><circle cx="434.9" cy="219.7"/><circle cx="435.0" cy="219.4"/><circle cx="435.0" cy="220.0"/><circle cx="435.1" cy="218.9"/><circle cx="435.2" cy="220.0"/><circle cx="435.2" cy="219.4"/><circle cx="435.3" cy="219.3"/><circle cx="435.4" cy="219.2"/><circle cx="435.5" cy="219.3"/><circle cx="435.5" cy="218.9"/><circle cx="435.6" cy="219.8"/><circle cx="435.7" cy="219.4"/><circle cx="435.8" cy="219.3"/><circle cx="435.8" cy="219.6"/><circle cx="435.9" cy="219.6"/><circle cx="436.0" cy="218.9"/><circle cx="436.1" cy="219.6"/><circle cx="436.1" cy="219.6"/><circle cx="436.2" cy="219.5"/><circle cx="436.3" cy="219.5"/><circle cx="436.3" cy="219.3"/><circle cx="436.4" cy="219.5"/><circle cx="436.5" cy="219.3"/><circle cx="436.6" cy="219.3"/><circle cx="436.6" cy="219.2"/><circle cx="436.7" cy="218.9"/><circle cx="436.8" cy="219.7"/><circle cx="436.9" cy="218.8"/><circle cx="436.9" cy="219.5"/><circle cx="437.0" cy="219.2"/><circle cx="437.1" cy="219.3"/><circle cx="437.2" cy="219.5"/><circle cx="437.2" cy="220.1"/><circle cx="437.3" cy="218.8"/><circle cx="437.4" cy="219.7"/><circle cx="437.4" cy="219.7"/><circle cx="437.5" cy="219.0"/><circle cx="437.6" cy="219.4"/><circle cx="437.7" cy="218.7"/><circle cx="437.7" cy="218.8"/><circle cx="437.8" cy="219.1"/><circle cx="437.9" cy="219.3"/><circle cx="438.0" cy="219.1"/><circle cx="438.0" cy="219.9"/><circle cx="438.1" cy="219.3"/><circle cx="438.2" cy="219.3"/><circle cx="438.3" cy="219.6"/><circle cx="438.3" cy="219.3"/><circle cx="438.4" cy="219.9"/><circle cx="438.5" cy="219.1"/><circle cx="438.5" cy="218.9"/><circle cx="438.6" cy="219.8"/><circle cx="438.7" cy="219.3"/><circle cx="438.8" cy="218.8"/><circle cx="438.8" cy="219.2"/><circle cx="438.9" cy="219.8"/><circle cx="439.0" cy="219.7"/><circle cx="439.1" cy="219.1"/><circle cx="439.1" cy="218.7"/><circle cx="439.2" cy="219.8"/><circle cx="439.3" cy="219.4"/><circle cx="439.4" cy="219.7"/><circle cx="439.4" cy="219.5"/><circle cx="439.5" cy="219.3"/><circle cx="439.6" cy="219.4"/><circle cx="439.6" cy="219.6"/><circle cx="439.7" cy="218.7"/><circle cx="439.8" cy="219.4"/><circle cx="439.9" cy="219.5"/><circle cx="439.9" cy="219.0"/><circle cx="440.0" cy="219.4"/><circle cx="440.1" cy="219.5"/><circle cx="440.2" cy="219.1"/><circle cx="440.2" cy="219.8"/><circle cx="440.3" cy="219.1"/><circle cx="440.4" cy="219.0"/><circle cx="440.5" cy="219.2"/><circle cx="440.5" cy="219.5"/><circle cx="440.6" cy="219.4"/><circle cx="440.7" cy="220.0"/><circle cx="440.7" cy="219.4"/><circle cx="440.8" cy="219.3"/><circle cx="440.9" cy="219.1"/><circle cx="441.0" cy="219.3"/><circle cx="441.0" cy="219.5"/><circle cx="441.1" cy="219.7"/><circle cx="441.2" cy="219.4"/><circle cx="441.3" cy="219.3"/><circle cx="441.3" cy="219.0"/><circle cx="441.4" cy="219.4"/><circle cx="441.5" cy="219.6"/><circle cx="441.5" cy="219.4"/><circle cx="441.6" cy="219.6"/><circle cx="441.7" cy="219.5"/><circle cx="441.8" cy="220.2"/><circle cx="441.8" cy="219.9"/><circle cx="441.9" cy="219.8"/><circle cx="442.0" cy="219.2"/><circle cx="442.1" cy="219.4"/><circle cx="442.1" cy="219.3"/><circle cx="442.2" cy="219.0"/><circle cx="442.3" cy="219.8"/><circle cx="442.4" cy="219.0"/><circle cx="442.4" cy="219.3"/><circle cx="442.5" cy="219.6"/><circle cx="442.6" cy="218.9"/><circle cx="442.6" cy="219.9"/><circle cx="442.7" cy="219.8"/><circle cx="442.8" cy="219.5"/><circle cx="442.9" cy="219.3"/><circle cx="442.9" cy="219.5"/><circle cx="443.0" cy="220.1"/><circle cx="443.1" cy="219.5"/><circle cx="443.2" cy="219.4"/><circle cx="443.2" cy="218.6"/><circle cx="443.3" cy="218.9"/><circle cx="443.4" cy="219.4"/><circle cx="443.5" cy="219.8"/><circle cx="443.5" cy="219.3"/><circle cx="443.6" cy="219.8"/><circle cx="443.7" cy="219.3"/><circle cx="443.7" cy="219.3"/><circle cx="443.8" cy="219.5"/><circle cx="443.9" cy="219.3"/><circle cx="444.0" cy="219.5"/><circle cx="444.0" cy="219.6"/><circle cx="444.1" cy="218.9"/><circle cx="444.2" cy="219.2"/><circle cx="444.3" cy="219.5"/><circle cx="444.3" cy="219.7"/><circle cx="444.4" cy="219.3"/><circle cx="444.5" cy="219.2"/><circle cx="444.6" cy="219.1"/><circle cx="444.6" cy="218.9"/><circle cx="444.7" cy="219.2"/><circle cx="444.8" cy="219.8"/><circle cx="444.8" cy="218.7"/><circle cx="444.9" cy="219.0"/><circle cx="445.0" cy="219.1"/><circle cx="445.1" cy="218.9"/><circle cx="445.1" cy="219.9"/><circle cx="445.2" cy="219.5"/><circle cx="445.3" cy="219.6"/><circle cx="445.4" cy="219.0"/><circle cx="445.4" cy="219.8"/><circle cx="445.5" cy="219.5"/><circle cx="445.6" cy="218.9"/><circle cx="445.7" cy="219.2"/><circle cx="445.7" cy="219.5"/><circle cx="445.8" cy="218.7"/><circle cx="445.9" cy="219.9"/><circle cx="445.9" cy="219.2"/><circle cx="446.0" cy="219.5"/><circle cx="446.1" cy="219.2"/><circle cx="446.2" cy="219.5"/><circle cx="446.2" cy="219.7"/><circle cx="446.3" cy="219.3"/><circle cx="446.4" cy="219.9"/><circle cx="446.5" cy="219.2"/><circle cx="446.5" cy="219.5"/><circle cx="446.6" cy="219.1"/><circle cx="446.7" cy="219.5"/><circle cx="446.8" cy="219.6"/><circle cx="446.8" cy="219.3"/><circle cx="446.9" cy="219.0"/><circle cx="447.0" cy="220.1"/><circle cx="447.0" cy="219.4"/><circle cx="447.1" cy="219.2"/><circle cx="447.2" cy="219.9"/><circle cx="447.3" cy="219.7"/><circle cx="447.3" cy="219.2"/><circle cx="447.4" cy="219.7"/><circle cx="447.5" cy="219.6"/><circle cx="447.6" cy="218.8"/><circle cx="447.6" cy="219.7"/><circle cx="447.7" cy="219.7"/><circle cx="447.8" cy="220.2"/><circle cx="447.9" cy="219.8"/><circle cx="447.9" cy="219.8"/><circle cx="448.0" cy="218.8"/><circle cx="448.1" cy="219.0"/><circle cx="448.1" cy="219.8"/><circle cx="448.2" cy="218.7"/><circle cx="448.3" cy="219.1"/><circle cx="448.4" cy="219.5"/><circle cx="448.4" cy="219.1"/><circle cx="448.5" cy="219.3"/><circle cx="448.6" cy="219.7"/><circle cx="448.7" cy="220.0"/><circle cx="448.7" cy="219.7"/><circle cx="448.8" cy="219.4"/><circle cx="448.9" cy="219.5"/><circle cx="449.0" cy="219.7"/><circle cx="449.0" cy="219.1"/><circle cx="449.1" cy="219.8"/><circle cx="449.2" cy="219.1"/><circle cx="449.2" cy="219.6"/><circle cx="449.3" cy="219.4"/><circle cx="449.4" cy="219.8"/><circle cx="449.5" cy="219.4"/><circle cx="449.5" cy="219.7"/><circle cx="449.6" cy="220.0"/><circle cx="449.7" cy="219.4"/><circle cx="449.8" cy="219.4"/><circle cx="449.8" cy="219.1"/><circle cx="449.9" cy="219.3"/><circle cx="450.0" cy="219.7"/><circle cx="450.0" cy="219.6"/><circle cx="450.1" cy="220.2"/><circle cx="450.2" cy="219.8"/><circle cx="450.3" cy="218.9"/><circle cx="450.3" cy="218.9"/><circle cx="450.4" cy="219.1"/><circle cx="450.5" cy="219.3"/><circle cx="450.6" cy="219.2"/><circle cx="450.6" cy="219.2"/><circle cx="450.7" cy="220.0"/><circle cx="450.8" cy="219.7"/><circle cx="450.9" cy="219.0"/><circle cx="450.9" cy="219.0"/><circle cx="451.0" cy="219.3"/><circle cx="451.1" cy="219.5"/><circle cx="451.1" cy="219.5"/><circle cx="451.2" cy="219.6"/><circle cx="451.3" cy="219.7"/><circle cx="451.4" cy="220.1"/><circle cx="451.4" cy="219.3"/><circle cx="451.5" cy="219.6"/><circle cx="451.6" cy="219.5"/><circle cx="451.7" cy="218.8"/><circle cx="451.7" cy="219.2"/><circle cx="451.8" cy="219.6"/><circle cx="451.9" cy="219.2"/><circle cx="452.0" cy="219.9"/><circle cx="452.0" cy="219.0"/><circle cx="452.1" cy="219.3"/><circle cx="452.2" cy="219.5"/><circle cx="452.2" cy="219.2"/><circle cx="452.3" cy="218.9"/><circle cx="452.4" cy="219.6"/><circle cx="452.5" cy="219.7"/><circle cx="452.5" cy="218.7"/><circle cx="452.6" cy="219.4"/><circle cx="452.7" cy="218.9"/><circle cx="452.8" cy="219.6"/><circle cx="452.8" cy="219.3"/><circle cx="452.9" cy="219.6"/><circle cx="453.0" cy="219.2"/><circle cx="453.1" cy="219.5"/><circle cx="453.1" cy="219.6"/><circle cx="453.2" cy="218.9"/><circle cx="453.3" cy="219.3"/><circle cx="453.3" cy="220.1"/><circle cx="453.4" cy="219.5"/><circle cx="453.5" cy="219.7"/><circle cx="453.6" cy="219.8"/><circle cx="453.6" cy="219.6"/><circle cx="453.7" cy="219.6"/><circle cx="453.8" cy="219.4"/><circle cx="453.9" cy="219.7"/><circle cx="453.9" cy="220.0"/><circle cx="454.0" cy="219.6"/><circle cx="454.1" cy="219.1"/><circle cx="454.2" cy="219.9"/><circle cx="454.2" cy="219.2"/><circle cx="454.3" cy="219.2"/><circle cx="454.4" cy="219.6"/><circle cx="454.4" cy="219.3"/><circle cx="454.5" cy="219.7"/><circle cx="454.6" cy="219.5"/><circle cx="454.7" cy="219.8"/><circle cx="454.7" cy="219.2"/><circle cx="454.8" cy="218.9"/><circle cx="454.9" cy="219.6"/><circle cx="455.0" cy="219.0"/><circle cx="455.0" cy="220.1"/><circle cx="455.1" cy="219.7"/><circle cx="455.2" cy="219.8"/><circle cx="455.3" cy="218.8"/><circle cx="455.3" cy="219.6"/><circle cx="455.4" cy="219.1"/><circle cx="455.5" cy="220.1"/><circle cx="455.5" cy="219.4"/><circle cx="455.6" cy="219.2"/><circle cx="455.7" cy="219.4"/><circle cx="455.8" cy="220.2"/><circle cx="455.8" cy="219.3"/><circle cx="455.9" cy="219.1"/><circle cx="456.0" cy="218.9"/><circle cx="456.1" cy="219.3"/><circle cx="456.1" cy="220.0"/><circle cx="456.2" cy="219.5"/><circle cx="456.3" cy="219.1"/><circle cx="456.4" cy="219.7"/><circle cx="456.4" cy="219.2"/><circle cx="456.5" cy="219.6"/><circle cx="456.6" cy="219.4"/><circle cx="456.6" cy="219.1"/><circle cx="456.7" cy="219.6"/><circle cx="456.8" cy="218.6"/><circle cx="456.9" cy="219.3"/><circle cx="456.9" cy="219.3"/><circle cx="457.0" cy="219.7"/><circle cx="457.1" cy="219.4"/><circle cx="457.2" cy="219.5"/><circle cx="457.2" cy="219.9"/><circle cx="457.3" cy="219.9"/><circle cx="457.4" cy="219.3"/><circle cx="457.5" cy="219.4"/><circle cx="457.5" cy="220.2"/><circle cx="457.6" cy="220.2"/><circle cx="457.7" cy="219.5"/><circle cx="457.7" cy="219.4"/><circle cx="457.8" cy="219.2"/><circle cx="457.9" cy="219.8"/><circle cx="458.0" cy="219.2"/><circle cx="458.0" cy="219.5"/><circle cx="458.1" cy="219.6"/><circle cx="458.2" cy="219.4"/><circle cx="458.3" cy="219.1"/><circle cx="458.3" cy="219.2"/><circle cx="458.4" cy="219.1"/><circle cx="458.5" cy="219.6"/><circle cx="458.5" cy="219.5"/><circle cx="458.6" cy="219.8"/><circle cx="458.7" cy="219.6"/><circle cx="458.8" cy="219.5"/><circle cx="458.8" cy="219.6"/><circle cx="458.9" cy="219.1"/><circle cx="459.0" cy="219.2"/><circle cx="459.1" cy="219.1"/><circle cx="459.1" cy="219.4"/><circle cx="459.2" cy="219.0"/><circle cx="459.3" cy="219.4"/><circle cx="459.4" cy="219.1"/><circle cx="459.4" cy="219.2"/><circle cx="459.5" cy="219.1"/><circle cx="459.6" cy="219.4"/><circle cx="459.6" cy="219.8"/><circle cx="459.7" cy="219.9"/><circle cx="459.8" cy="218.7"/><circle cx="459.9" cy="219.3"/><circle cx="459.9" cy="219.2"/><circle cx="460.0" cy="219.5"/><circle cx="460.1" cy="219.6"/><circle cx="460.2" cy="218.6"/><circle cx="460.2" cy="219.8"/><circle cx="460.3" cy="219.4"/><circle cx="460.4" cy="219.4"/><circle cx="460.5" cy="219.8"/><circle cx="460.5" cy="219.8"/><circle cx="460.6" cy="219.6"/><circle cx="460.7" cy="219.5"/><circle cx="460.7" cy="219.6"/><circle cx="460.8" cy="219.1"/><circle cx="460.9" cy="219.8"/><circle cx="461.0" cy="219.3"/><circle cx="461.0" cy="218.9"/><circle cx="461.1" cy="219.1"/><circle cx="461.2" cy="219.8"/><circle cx="461.3" cy="220.2"/><circle cx="461.3" cy="219.1"/><circle cx="461.4" cy="219.2"/><circle cx="461.5" cy="219.6"/><circle cx="461.6" cy="218.9"/><circle cx="461.6" cy="219.5"/><circle cx="461.7" cy="219.4"/><circle cx="461.8" cy="219.8"/><circle cx="461.8" cy="219.3"/><circle cx="461.9" cy="219.6"/><circle cx="462.0" cy="219.6"/><circle cx="462.1" cy="219.0"/><circle cx="462.1" cy="219.3"/><circle cx="462.2" cy="219.9"/><circle cx="462.3" cy="219.2"/><circle cx="462.4" cy="219.1"/><circle cx="462.4" cy="219.7"/><circle cx="462.5" cy="219.5"/><circle cx="462.6" cy="219.4"/><circle cx="462.7" cy="219.5"/><circle cx="462.7" cy="219.4"/><circle cx="462.8" cy="219.2"/><circle cx="462.9" cy="219.6"/><circle cx="462.9" cy="218.7"/><circle cx="463.0" cy="219.6"/><circle cx="463.1" cy="219.6"/><circle cx="463.2" cy="218.7"/><circle cx="463.2" cy="218.6"/><circle cx="463.3" cy="219.4"/><circle cx="463.4" cy="219.5"/><circle cx="463.5" cy="219.8"/><circle cx="463.5" cy="219.0"/><circle cx="463.6" cy="219.3"/><circle cx="463.7" cy="219.7"/><circle cx="463.8" cy="219.3"/><circle cx="463.8" cy="218.9"/><circle cx="463.9" cy="219.2"/><circle cx="464.0" cy="218.6"/><circle cx="464.0" cy="219.0"/><circle cx="464.1" cy="219.2"/><circle cx="464.2" cy="219.4"/><circle cx="464.3" cy="219.2"/><circle cx="464.3" cy="219.0"/><circle cx="464.4" cy="219.1"/><circle cx="464.5" cy="219.0"/><circle cx="464.6" cy="219.3"/><circle cx="464.6" cy="219.1"/><circle cx="464.7" cy="219.0"/><circle cx="464.8" cy="219.5"/><circle cx="464.9" cy="219.9"/><circle cx="464.9" cy="218.8"/><circle cx="465.0" cy="219.2"/><circle cx="465.1" cy="219.6"/><circle cx="465.1" cy="219.3"/><circle cx="465.2" cy="219.5"/><circle cx="465.3" cy="220.0"/><circle cx="465.4" cy="219.5"/><circle cx="465.4" cy="219.9"/><circle cx="465.5" cy="219.3"/><circle cx="465.6" cy="219.4"/><circle cx="465.7" cy="219.0"/><circle cx="465.7" cy="219.4"/><circle cx="465.8" cy="219.3"/><circle cx="465.9" cy="219.5"/><circle cx="466.0" cy="219.5"/><circle cx="466.0" cy="219.9"/><circle cx="466.1" cy="219.1"/><circle cx="466.2" cy="219.3"/><circle cx="466.2" cy="219.6"/><circle cx="466.3" cy="219.3"/><circle cx="466.4" cy="219.5"/><circle cx="466.5" cy="219.7"/><circle cx="466.5" cy="219.3"/><circle cx="466.6" cy="219.0"/><circle cx="466.7" cy="219.5"/><circle cx="466.8" cy="219.9"/><circle cx="466.8" cy="219.6"/><circle cx="466.9" cy="218.8"/><circle cx="467.0" cy="219.7"/><circle cx="467.1" cy="219.0"/><circle cx="467.1" cy="219.5"/><circle cx="467.2" cy="219.1"/><circle cx="467.3" cy="219.4"/><circle cx="467.3" cy="220.0"/><circle cx="467.4" cy="219.5"/><circle cx="467.5" cy="218.7"/><circle cx="467.6" cy="219.4"/><circle cx="467.6" cy="219.2"/><circle cx="467.7" cy="219.5"/><circle cx="467.8" cy="219.4"/><circle cx="467.9" cy="219.3"/><circle cx="467.9" cy="219.2"/><circle cx="468.0" cy="218.6"/><circle cx="468.1" cy="219.4"/><circle cx="468.1" cy="219.5"/><circle cx="468.2" cy="219.6"/><circle cx="468.3" cy="219.9"/><circle cx="468.4" cy="220.0"/><circle cx="468.4" cy="219.2"/><circle cx="468.5" cy="220.1"/><circle cx="468.6" cy="218.9"/><circle cx="468.7" cy="219.1"/><circle cx="468.7" cy="219.5"/><circle cx="468.8" cy="219.8"/><circle cx="468.9" cy="219.4"/><circle cx="469.0" cy="219.4"/><circle cx="469.0" cy="219.0"/><circle cx="469.1" cy="219.7"/><circle cx="469.2" cy="219.5"/><circle cx="469.2" cy="219.4"/><circle cx="469.3" cy="219.5"/><circle cx="469.4" cy="219.6"/><circle cx="469.5" cy="220.0"/><circle cx="469.5" cy="220.0"/><circle cx="469.6" cy="219.6"/><circle cx="469.7" cy="219.5"/><circle cx="469.8" cy="219.0"/><circle cx="469.8" cy="218.6"/><circle cx="469.9" cy="218.8"/><circle cx="470.0" cy="219.3"/><circle cx="470.1" cy="218.7"/><circle cx="470.1" cy="219.4"/><circle cx="470.2" cy="219.6"/><circle cx="470.3" cy="218.6"/><circle cx="470.3" cy="219.8"/><circle cx="470.4" cy="219.5"/><circle cx="470.5" cy="219.5"/><circle cx="470.6" cy="218.9"/><circle cx="470.6" cy="219.6"/><circle cx="470.7" cy="219.1"/><circle cx="470.8" cy="219.5"/><circle cx="470.9" cy="219.8"/><circle cx="470.9" cy="219.3"/><circle cx="471.0" cy="219.3"/><circle cx="471.1" cy="219.8"/><circle cx="471.2" cy="219.7"/><circle cx="471.2" cy="219.7"/><circle cx="471.3" cy="219.1"/><circle cx="471.4" cy="219.2"/><circle cx="471.4" cy="219.3"/><circle cx="471.5" cy="219.2"/><circle cx="471.6" cy="219.6"/><circle cx="471.7" cy="219.2"/><circle cx="471.7" cy="219.6"/><circle cx="471.8" cy="219.9"/><circle cx="471.9" cy="219.6"/><circle cx="472.0" cy="219.3"/><circle cx="472.0" cy="219.4"/><circle cx="472.1" cy="219.0"/><circle cx="472.2" cy="220.0"/><circle cx="472.3" cy="219.5"/><circle cx="472.3" cy="219.3"/><circle cx="472.4" cy="219.7"/><circle cx="472.5" cy="219.3"/><circle cx="472.5" cy="219.5"/><circle cx="472.6" cy="219.8"/><circle cx="472.7" cy="219.0"/><circle cx="472.8" cy="219.9"/><circle cx="472.8" cy="219.0"/><circle cx="472.9" cy="219.5"/><circle cx="473.0" cy="219.7"/><circle cx="473.1" cy="219.7"/><circle cx="473.1" cy="219.7"/><circle cx="473.2" cy="219.7"/><circle cx="473.3" cy="219.3"/><circle cx="473.4" cy="220.1"/><circle cx="473.4" cy="219.0"/><circle cx="473.5" cy="219.1"/><circle cx="473.6" cy="218.9"/><circle cx="473.6" cy="219.7"/><circle cx="473.7" cy="220.2"/><circle cx="473.8" cy="219.6"/><circle cx="473.9" cy="219.5"/><circle cx="473.9" cy="219.3"/><circle cx="474.0" cy="219.6"/><circle cx="474.1" cy="219.4"/><circle cx="474.2" cy="219.3"/><circle cx="474.2" cy="219.9"/><circle cx="474.3" cy="218.8"/><circle cx="474.4" cy="219.8"/><circle cx="474.5" cy="219.3"/><circle cx="474.5" cy="219.0"/><circle cx="474.6" cy="219.7"/><circle cx="474.7" cy="219.4"/><circle cx="474.7" cy="218.8"/><circle cx="474.8" cy="219.5"/><circle cx="474.9" cy="219.0"/><circle cx="475.0" cy="219.3"/><circle cx="475.0" cy="219.3"/><circle cx="475.1" cy="219.1"/><circle cx="475.2" cy="219.5"/><circle cx="475.3" cy="219.5"/><circle cx="475.3" cy="219.1"/><circle cx="475.4" cy="219.3"/><circle cx="475.5" cy="219.2"/><circle cx="475.6" cy="219.8"/><circle cx="475.6" cy="219.4"/><circle cx="475.7" cy="219.0"/><circle cx="475.8" cy="219.1"/><circle cx="475.8" cy="219.3"/><circle cx="475.9" cy="219.6"/><circle cx="476.0" cy="219.6"/><circle cx="476.1" cy="219.2"/><circle cx="476.1" cy="218.9"/><circle cx="476.2" cy="219.4"/><circle cx="476.3" cy="218.9"/><circle cx="476.4" cy="219.5"/><circle cx="476.4" cy="219.0"/><circle cx="476.5" cy="219.7"/><circle cx="476.6" cy="219.3"/><circle cx="476.6" cy="219.8"/><circle cx="476.7" cy="219.2"/><circle cx="476.8" cy="219.2"/><circle cx="476.9" cy="219.7"/><circle cx="476.9" cy="219.7"/><circle cx="477.0" cy="219.5"/><circle cx="477.1" cy="219.9"/><circle cx="477.2" cy="219.7"/><circle cx="477.2" cy="219.7"/><circle cx="477.3" cy="219.1"/><circle cx="477.4" cy="218.9"/><circle cx="477.5" cy="219.5"/><circle cx="477.5" cy="219.5"/><circle cx="477.6" cy="219.3"/><circle cx="477.7" cy="219.6"/><circle cx="477.7" cy="219.5"/><circle cx="477.8" cy="219.1"/><circle cx="477.9" cy="219.3"/><circle cx="478.0" cy="219.4"/><circle cx="478.0" cy="219.6"/><circle cx="478.1" cy="218.9"/><circle cx="478.2" cy="219.6"/><circle cx="478.3" cy="219.4"/><circle cx="478.3" cy="219.8"/><circle cx="478.4" cy="219.6"/><circle cx="478.5" cy="219.4"/><circle cx="478.6" cy="219.5"/><circle cx="478.6" cy="219.2"/><circle cx="478.7" cy="219.4"/><circle cx="478.8" cy="219.9"/><circle cx="478.8" cy="220.2"/><circle cx="478.9" cy="219.0"/><circle cx="479.0" cy="219.6"/><circle cx="479.1" cy="218.9"/><circle cx="479.1" cy="219.4"/><circle cx="479.2" cy="219.7"/><circle cx="479.3" cy="219.2"/><circle cx="479.4" cy="219.5"/><circle cx="479.4" cy="219.4"/><circle cx="479.5" cy="219.7"/><circle cx="479.6" cy="219.2"/><circle cx="479.7" cy="219.0"/><circle cx="479.7" cy="219.6"/><circle cx="479.8" cy="218.8"/><circle cx="479.9" cy="219.6"/><circle cx="479.9" cy="219.3"/><circle cx="480.0" cy="220.0"/><circle cx="480.1" cy="220.1"/><circle cx="480.2" cy="218.7"/><circle cx="480.2" cy="218.9"/><circle cx="480.3" cy="219.0"/><circle cx="480.4" cy="220.0"/><circle cx="480.5" cy="219.3"/><circle cx="480.5" cy="219.2"/><circle cx="480.6" cy="219.4"/><circle cx="480.7" cy="219.3"/><circle cx="480.8" cy="219.7"/><circle cx="480.8" cy="219.5"/><circle cx="480.9" cy="219.8"/><circle cx="481.0" cy="219.5"/><circle cx="481.0" cy="219.3"/><circle cx="481.1" cy="219.7"/><circle cx="481.2" cy="219.5"/><circle cx="481.3" cy="219.5"/><circle cx="481.3" cy="219.4"/><circle cx="481.4" cy="219.1"/><circle cx="481.5" cy="219.3"/><circle cx="481.6" cy="219.3"/><circle cx="481.6" cy="219.9"/><circle cx="481.7" cy="219.5"/><circle cx="481.8" cy="219.1"/><circle cx="481.9" cy="219.7"/><circle cx="481.9" cy="219.5"/><circle cx="482.0" cy="219.7"/><circle cx="482.1" cy="218.9"/><circle cx="482.1" cy="219.6"/><circle cx="482.2" cy="219.7"/><circle cx="482.3" cy="219.2"/><circle cx="482.4" cy="219.0"/><circle cx="482.4" cy="219.2"/><circle cx="482.5" cy="219.0"/><circle cx="482.6" cy="219.3"/><circle cx="482.7" cy="219.4"/><circle cx="482.7" cy="219.6"/><circle cx="482.8" cy="219.6"/><circle cx="482.9" cy="219.6"/><circle cx="483.0" cy="219.3"/><circle cx="483.0" cy="219.4"/><circle cx="483.1" cy="219.4"/><circle cx="483.2" cy="219.2"/><circle cx="483.2" cy="219.4"/><circle cx="483.3" cy="219.9"/><circle cx="483.4" cy="219.7"/><circle cx="483.5" cy="219.8"/><circle cx="483.5" cy="220.1"/><circle cx="483.6" cy="219.4"/><circle cx="483.7" cy="219.8"/><circle cx="483.8" cy="219.8"/><circle cx="483.8" cy="219.8"/><circle cx="483.9" cy="219.1"/><circle cx="484.0" cy="219.5"/><circle cx="484.1" cy="219.0"/><circle cx="484.1" cy="219.4"/><circle cx="484.2" cy="219.5"/><circle cx="484.3" cy="219.2"/><circle cx="484.3" cy="219.2"/><circle cx="484.4" cy="219.4"/><circle cx="484.5" cy="219.8"/><circle cx="484.6" cy="219.6"/><circle cx="484.6" cy="219.8"/><circle cx="484.7" cy="219.5"/><circle cx="484.8" cy="219.4"/><circle cx="484.9" cy="218.9"/><circle cx="484.9" cy="218.9"/><circle cx="485.0" cy="219.2"/><circle cx="485.1" cy="219.1"/><circle cx="485.1" cy="219.3"/><circle cx="485.2" cy="218.6"/><circle cx="485.3" cy="218.9"/><circle cx="485.4" cy="218.6"/><circle cx="485.4" cy="219.3"/><circle cx="485.5" cy="219.2"/><circle cx="485.6" cy="219.0"/><circle cx="485.7" cy="219.3"/><circle cx="485.7" cy="219.3"/><circle cx="485.8" cy="219.7"/><circle cx="485.9" cy="219.1"/><circle cx="486.0" cy="219.3"/><circle cx="486.0" cy="219.1"/><circle cx="486.1" cy="219.5"/><circle cx="486.2" cy="220.0"/><circle cx="486.2" cy="219.2"/><circle cx="486.3" cy="219.0"/><circle cx="486.4" cy="219.8"/><circle cx="486.5" cy="219.7"/><circle cx="486.5" cy="219.5"/><circle cx="486.6" cy="219.5"/><circle cx="486.7" cy="220.0"/><circle cx="486.8" cy="218.8"/><circle cx="486.8" cy="219.0"/><circle cx="486.9" cy="219.6"/><circle cx="487.0" cy="220.0"/><circle cx="487.1" cy="219.3"/><circle cx="487.1" cy="218.7"/><circle cx="487.2" cy="219.1"/><circle cx="487.3" cy="219.0"/><circle cx="487.3" cy="219.7"/><circle cx="487.4" cy="219.3"/><circle cx="487.5" cy="219.9"/><circle cx="487.6" cy="218.7"/><circle cx="487.6" cy="219.2"/><circle cx="487.7" cy="220.1"/><circle cx="487.8" cy="220.0"/><circle cx="487.9" cy="219.2"/><circle cx="487.9" cy="219.3"/><circle cx="488.0" cy="219.5"/><circle cx="488.1" cy="219.2"/><circle cx="488.2" cy="218.7"/><circle cx="488.2" cy="219.3"/><circle cx="488.3" cy="220.0"/><circle cx="488.4" cy="219.4"/><circle cx="488.4" cy="219.9"/><circle cx="488.5" cy="219.7"/><circle cx="488.6" cy="219.3"/><circle cx="488.7" cy="219.4"/><circle cx="488.7" cy="219.8"/><circle cx="488.8" cy="219.4"/><circle cx="488.9" cy="219.7"/><circle cx="489.0" cy="219.2"/><circle cx="489.0" cy="219.5"/><circle cx="489.1" cy="219.3"/><circle cx="489.2" cy="219.5"/><circle cx="489.3" cy="219.1"/><circle cx="489.3" cy="219.4"/><circle cx="489.4" cy="219.4"/><circle cx="489.5" cy="219.6"/><circle cx="489.5" cy="219.3"/><circle cx="489.6" cy="220.0"/><circle cx="489.7" cy="218.5"/><circle cx="489.8" cy="219.6"/><circle cx="489.8" cy="219.3"/><circle cx="489.9" cy="219.5"/><circle cx="490.0" cy="219.6"/><circle cx="490.1" cy="219.2"/><circle cx="490.1" cy="219.6"/><circle cx="490.2" cy="219.5"/><circle cx="490.3" cy="219.9"/><circle cx="490.4" cy="219.7"/><circle cx="490.4" cy="219.8"/><circle cx="490.5" cy="218.7"/><circle cx="490.6" cy="219.8"/><circle cx="490.6" cy="219.8"/><circle cx="490.7" cy="219.3"/><circle cx="490.8" cy="218.8"/><circle cx="490.9" cy="220.0"/><circle cx="490.9" cy="219.9"/><circle cx="491.0" cy="219.3"/><circle cx="491.1" cy="219.2"/><circle cx="491.2" cy="219.9"/><circle cx="491.2" cy="220.0"/><circle cx="491.3" cy="219.7"/><circle cx="491.4" cy="219.1"/><circle cx="491.5" cy="219.4"/><circle cx="491.5" cy="219.1"/><circle cx="491.6" cy="219.4"/><circle cx="491.7" cy="219.4"/><circle cx="491.7" cy="219.1"/><circle cx="491.8" cy="219.4"/><circle cx="491.9" cy="219.3"/><circle cx="492.0" cy="219.7"/><circle cx="492.0" cy="219.6"/><circle cx="492.1" cy="219.2"/><circle cx="492.2" cy="219.5"/><circle cx="492.3" cy="219.6"/><circle cx="492.3" cy="219.1"/><circle cx="492.4" cy="219.1"/><circle cx="492.5" cy="219.4"/><circle cx="492.6" cy="219.6"/><circle cx="492.6" cy="219.0"/><circle cx="492.7" cy="218.5"/><circle cx="492.8" cy="219.6"/><circle cx="492.8" cy="219.9"/><circle cx="492.9" cy="219.6"/><circle cx="493.0" cy="219.7"/><circle cx="493.1" cy="219.8"/><circle cx="493.1" cy="219.7"/><circle cx="493.2" cy="219.0"/><circle cx="493.3" cy="219.0"/><circle cx="493.4" cy="218.8"/><circle cx="493.4" cy="219.1"/><circle cx="493.5" cy="219.5"/><circle cx="493.6" cy="219.0"/><circle cx="493.6" cy="219.6"/><circle cx="493.7" cy="219.4"/><circle cx="493.8" cy="219.8"/><circle cx="493.9" cy="218.9"/><circle cx="493.9" cy="218.9"/><circle cx="494.0" cy="219.5"/><circle cx="494.1" cy="219.5"/><circle cx="494.2" cy="219.3"/><circle cx="494.2" cy="219.2"/><circle cx="494.3" cy="219.0"/><circle cx="494.4" cy="219.3"/><circle cx="494.5" cy="219.2"/><circle cx="494.5" cy="219.9"/><circle cx="494.6" cy="219.5"/><circle cx="494.7" cy="220.0"/><circle cx="494.7" cy="218.7"/><circle cx="494.8" cy="218.8"/><circle cx="494.9" cy="218.9"/><circle cx="495.0" cy="218.9"/><circle cx="495.0" cy="218.5"/><circle cx="495.1" cy="218.9"/><circle cx="495.2" cy="219.9"/><circle cx="495.3" cy="219.4"/><circle cx="495.3" cy="220.2"/><circle cx="495.4" cy="219.5"/><circle cx="495.5" cy="219.8"/><circle cx="495.6" cy="219.3"/><circle cx="495.6" cy="219.1"/><circle cx="495.7" cy="219.6"/><circle cx="495.8" cy="219.4"/><circle cx="495.8" cy="219.1"/><circle cx="495.9" cy="219.3"/><circle cx="496.0" cy="219.2"/><circle cx="496.1" cy="220.1"/><circle cx="496.1" cy="219.4"/><circle cx="496.2" cy="219.0"/><circle cx="496.3" cy="219.1"/><circle cx="496.4" cy="219.8"/><circle cx="496.4" cy="219.3"/><circle cx="496.5" cy="219.1"/><circle cx="496.6" cy="219.6"/><circle cx="496.7" cy="219.0"/><circle cx="496.7" cy="219.5"/><circle cx="496.8" cy="219.3"/><circle cx="496.9" cy="219.2"/><circle cx="496.9" cy="218.2"/><circle cx="497.0" cy="219.2"/><circle cx="497.1" cy="219.3"/><circle cx="497.2" cy="219.0"/><circle cx="497.2" cy="219.4"/><circle cx="497.3" cy="219.1"/><circle cx="497.4" cy="220.1"/><circle cx="497.5" cy="218.9"/><circle cx="497.5" cy="219.1"/><circle cx="497.6" cy="219.7"/><circle cx="497.7" cy="218.5"/><circle cx="497.8" cy="219.1"/><circle cx="497.8" cy="219.2"/><circle cx="497.9" cy="219.7"/><circle cx="498.0" cy="219.7"/><circle cx="498.0" cy="219.3"/><circle cx="498.1" cy="219.6"/><circle cx="498.2" cy="218.8"/><circle cx="498.3" cy="218.6"/><circle cx="498.3" cy="219.4"/><circle cx="498.4" cy="219.8"/><circle cx="498.5" cy="219.2"/><circle cx="498.6" cy="219.6"/><circle cx="498.6" cy="218.9"/><circle cx="498.7" cy="218.8"/><circle cx="498.8" cy="219.2"/><circle cx="498.9" cy="219.0"/><circle cx="498.9" cy="218.3"/><circle cx="499.0" cy="218.2"/><circle cx="499.1" cy="219.0"/><circle cx="499.1" cy="218.2"/><circle cx="499.2" cy="218.9"/><circle cx="499.3" cy="219.3"/><circle cx="499.4" cy="218.2"/><circle cx="499.4" cy="218.7"/><circle cx="499.5" cy="218.8"/><circle cx="499.6" cy="218.7"/><circle cx="499.7" cy="218.7"/><circle cx="499.7" cy="219.5"/><circle cx="499.8" cy="218.1"/><circle cx="499.9" cy="218.3"/><circle cx="500.0" cy="218.8"/><circle cx="500.0" cy="218.4"/><circle cx="500.1" cy="218.3"/><circle cx="500.2" cy="218.8"/><circle cx="500.2" cy="218.3"/><circle cx="500.3" cy="218.6"/><circle cx="500.4" cy="218.3"/><circle cx="500.5" cy="218.9"/><circle cx="500.5" cy="217.5"/><circle cx="500.6" cy="218.7"/><circle cx="500.7" cy="218.0"/><circle cx="500.8" cy="218.8"/><circle cx="500.8" cy="218.7"/><circle cx="500.9" cy="218.5"/><circle cx="501.0" cy="218.4"/><circle cx="501.1" cy="218.7"/><circle cx="501.1" cy="218.4"/><circle cx="501.2" cy="218.7"/><circle cx="501.3" cy="217.8"/><circle cx="501.3" cy="218.3"/><circle cx="501.4" cy="217.9"/><circle cx="501.5" cy="218.8"/><circle cx="501.6" cy="218.3"/><circle cx="501.6" cy="218.8"/><circle cx="501.7" cy="218.6"/><circle cx="501.8" cy="217.3"/><circle cx="501.9" cy="218.3"/><circle cx="501.9" cy="218.6"/><circle cx="502.0" cy="217.8"/><circle cx="502.1" cy="218.0"/><circle cx="502.2" cy="217.4"/><circle cx="502.2" cy="218.8"/><circle cx="502.3" cy="217.7"/><circle cx="502.4" cy="217.9"/><circle cx="502.4" cy="218.1"/><circle cx="502.5" cy="218.3"/><circle cx="502.6" cy="218.5"/><circle cx="502.7" cy="218.7"/><circle cx="502.7" cy="217.5"/><circle cx="502.8" cy="218.5"/><circle cx="502.9" cy="217.4"/><circle cx="503.0" cy="218.1"/><circle cx="503.0" cy="218.6"/><circle cx="503.1" cy="219.2"/><circle cx="503.2" cy="217.9"/><circle cx="503.2" cy="218.2"/><circle cx="503.3" cy="218.4"/><circle cx="503.4" cy="218.5"/><circle cx="503.5" cy="218.1"/><circle cx="503.5" cy="218.7"/><circle cx="503.6" cy="217.1"/><circle cx="503.7" cy="218.4"/><circle cx="503.8" cy="218.9"/><circle cx="503.8" cy="217.1"/><circle cx="503.9" cy="217.8"/><circle cx="504.0" cy="217.4"/><circle cx="504.1" cy="216.6"/><circle cx="504.1" cy="217.6"/><circle cx="504.2" cy="215.3"/><circle cx="504.3" cy="218.0"/><circle cx="504.3" cy="216.9"/><circle cx="504.4" cy="216.6"/><circle cx="504.5" cy="217.7"/><circle cx="504.6" cy="217.1"/><circle cx="504.6" cy="216.7"/><circle cx="504.7" cy="217.1"/><circle cx="504.8" cy="215.8"/><circle cx="504.9" cy="217.6"/><circle cx="504.9" cy="217.4"/><circle cx="505.0" cy="218.6"/><circle cx="505.1" cy="216.6"/><circle cx="505.2" cy="217.7"/><circle cx="505.2" cy="216.3"/><circle cx="505.3" cy="217.5"/><circle cx="505.4" cy="217.5"/><circle cx="505.4" cy="217.2"/><circle cx="505.5" cy="215.3"/><circle cx="505.6" cy="217.2"/><circle cx="505.7" cy="217.2"/><circle cx="505.7" cy="216.8"/><circle cx="505.8" cy="215.4"/><circle cx="505.9" cy="217.3"/><circle cx="506.0" cy="216.1"/><circle cx="506.0" cy="216.9"/><circle cx="506.1" cy="214.1"/><circle cx="506.2" cy="217.0"/><circle cx="506.3" cy="216.4"/><circle cx="506.3" cy="214.8"/><circle cx="506.4" cy="213.8"/><circle cx="506.5" cy="217.6"/><circle cx="506.5" cy="215.9"/><circle cx="506.6" cy="216.2"/><circle cx="506.7" cy="213.8"/><circle cx="506.8" cy="214.5"/><circle cx="506.8" cy="215.3"/><circle cx="506.9" cy="214.3"/><circle cx="507.0" cy="213.8"/><circle cx="507.1" cy="216.0"/><circle cx="507.1" cy="214.0"/><circle cx="507.2" cy="215.6"/><circle cx="507.3" cy="214.7"/><circle cx="507.4" cy="217.0"/><circle cx="507.4" cy="214.7"/><circle cx="507.5" cy="212.5"/><circle cx="507.6" cy="214.2"/><circle cx="507.6" cy="211.9"/><circle cx="507.7" cy="212.8"/><circle cx="507.8" cy="216.9"/><circle cx="507.9" cy="213.0"/><circle cx="507.9" cy="213.7"/><circle cx="508.0" cy="213.3"/><circle cx="508.1" cy="215.2"/><circle cx="508.2" cy="211.9"/><circle cx="508.2" cy="212.5"/><circle cx="508.3" cy="211.9"/><circle cx="508.4" cy="214.4"/><circle cx="508.5" cy="213.1"/><circle cx="508.5" cy="211.7"/><circle cx="508.6" cy="210.9"/><circle cx="508.7" cy="211.5"/><circle cx="508.7" cy="212.8"/><circle cx="508.8" cy="212.3"/><circle cx="508.9" cy="211.6"/><circle cx="509.0" cy="211.4"/><circle cx="509.0" cy="212.1"/><circle cx="509.1" cy="210.8"/><circle cx="509.2" cy="213.5"/><circle cx="509.3" cy="214.4"/><circle cx="509.3" cy="211.6"/><circle cx="509.4" cy="213.2"/><circle cx="509.5" cy="213.5"/><circle cx="509.6" cy="212.8"/><circle cx="509.6" cy="211.7"/><circle cx="509.7" cy="210.8"/><circle cx="509.8" cy="210.7"/><circle cx="509.8" cy="210.3"/><circle cx="509.9" cy="208.2"/><circle cx="510.0" cy="211.7"/><circle cx="510.1" cy="207.3"/><circle cx="510.1" cy="209.4"/><circle cx="510.2" cy="209.1"/><circle cx="510.3" cy="207.8"/><circle cx="510.4" cy="211.8"/><circle cx="510.4" cy="210.2"/><circle cx="510.5" cy="210.9"/><circle cx="510.6" cy="206.9"/><circle cx="510.7" cy="211.3"/><circle cx="510.7" cy="210.7"/><circle cx="510.8" cy="203.6"/><circle cx="510.9" cy="207.6"/><circle cx="510.9" cy="210.3"/><circle cx="511.0" cy="205.0"/><circle cx="511.1" cy="206.6"/><circle cx="511.2" cy="202.0"/><circle cx="511.2" cy="204.9"/><circle cx="511.3" cy="209.8"/><circle cx="511.4" cy="206.9"/><circle cx="511.5" cy="208.2"/><circle cx="511.5" cy="209.2"/><circle cx="511.6" cy="209.1"/><circle cx="511.7" cy="206.4"/><circle cx="511.7" cy="208.0"/><circle cx="511.8" cy="209.0"/><circle cx="511.9" cy="207.7"/><circle cx="512.0" cy="199.9"/><circle cx="512.0" cy="201.8"/><circle cx="512.1" cy="205.8"/><circle cx="512.2" cy="204.4"/><circle cx="512.3" cy="206.5"/><circle cx="512.3" cy="206.4"/><circle cx="512.4" cy="208.5"/><circle cx="512.5" cy="200.9"/><circle cx="512.6" cy="207.7"/><circle cx="512.6" cy="202.6"/><circle cx="512.7" cy="208.6"/><circle cx="512.8" cy="203.5"/><circle cx="512.8" cy="199.2"/><circle cx="512.9" cy="208.7"/><circle cx="513.0" cy="198.1"/><circle cx="513.1" cy="200.3"/><circle cx="513.1" cy="205.3"/><circle cx="513.2" cy="205.1"/><circle cx="513.3" cy="197.1"/><circle cx="513.4" cy="199.8"/><circle cx="513.4" cy="202.1"/><circle cx="513.5" cy="204.2"/><circle cx="513.6" cy="202.4"/><circle cx="513.7" cy="198.6"/><circle cx="513.7" cy="204.0"/><circle cx="513.8" cy="198.2"/><circle cx="513.9" cy="206.1"/><circle cx="513.9" cy="202.7"/><circle cx="514.0" cy="204.4"/><circle cx="514.1" cy="195.3"/><circle cx="514.2" cy="203.4"/><circle cx="514.2" cy="203.4"/><circle cx="514.3" cy="194.3"/><circle cx="514.4" cy="200.1"/><circle cx="514.5" cy="185.6"/><circle cx="514.5" cy="192.2"/><circle cx="514.6" cy="193.9"/><circle cx="514.7" cy="192.9"/><circle cx="514.8" cy="202.3"/><circle cx="514.8" cy="198.1"/><circle cx="514.9" cy="197.1"/><circle cx="515.0" cy="198.5"/><circle cx="515.0" cy="199.4"/><circle cx="515.1" cy="196.6"/><circle cx="515.2" cy="198.3"/><circle cx="515.3" cy="192.4"/><circle cx="515.3" cy="193.0"/><circle cx="515.4" cy="194.3"/><circle cx="515.5" cy="193.8"/><circle cx="515.6" cy="190.0"/><circle cx="515.6" cy="194.4"/><circle cx="515.7" cy="192.5"/><circle cx="515.8" cy="200.8"/><circle cx="515.9" cy="185.2"/><circle cx="515.9" cy="186.8"/><circle cx="516.0" cy="187.9"/><circle cx="516.1" cy="188.9"/><circle cx="516.1" cy="188.7"/><circle cx="516.2" cy="179.9"/><circle cx="516.3" cy="186.0"/><circle cx="516.4" cy="192.2"/><circle cx="516.4" cy="192.0"/><circle cx="516.5" cy="181.7"/><circle cx="516.6" cy="183.4"/><circle cx="516.7" cy="182.9"/><circle cx="516.7" cy="183.8"/><circle cx="516.8" cy="183.7"/><circle cx="516.9" cy="192.6"/><circle cx="517.0" cy="187.5"/><circle cx="517.0" cy="190.8"/><circle cx="517.1" cy="190.1"/><circle cx="517.2" cy="187.5"/><circle cx="517.2" cy="183.2"/><circle cx="517.3" cy="185.1"/><circle cx="517.4" cy="194.9"/><circle cx="517.5" cy="179.7"/><circle cx="517.5" cy="182.5"/><circle cx="517.6" cy="188.5"/><circle cx="517.7" cy="181.2"/><circle cx="517.8" cy="174.3"/><circle cx="517.8" cy="182.8"/><circle cx="517.9" cy="173.9"/><circle cx="518.0" cy="176.9"/><circle cx="518.1" cy="169.9"/><circle cx="518.1" cy="178.5"/><circle cx="518.2" cy="178.2"/><circle cx="518.3" cy="178.1"/><circle cx="518.3" cy="175.4"/><circle cx="518.4" cy="176.4"/><circle cx="518.5" cy="179.2"/><circle cx="518.6" cy="182.6"/><circle cx="518.6" cy="178.6"/><circle cx="518.7" cy="177.3"/><circle cx="518.8" cy="174.6"/><circle cx="518.9" cy="173.7"/><circle cx="518.9" cy="176.0"/><circle cx="519.0" cy="171.0"/><circle cx="519.1" cy="168.7"/><circle cx="519.2" cy="162.5"/><circle cx="519.2" cy="164.9"/><circle cx="519.3" cy="171.8"/><circle cx="519.4" cy="167.6"/><circle cx="519.4" cy="173.7"/><circle cx="519.5" cy="173.1"/><circle cx="519.6" cy="172.0"/><circle cx="519.7" cy="168.6"/><circle cx="519.7" cy="177.4"/><circle cx="519.8" cy="178.0"/><circle cx="519.9" cy="166.2"/><circle cx="520.0" cy="159.8"/><circle cx="520.0" cy="169.4"/><circle cx="520.1" cy="163.1"/><circle cx="520.2" cy="167.0"/><circle cx="520.2" cy="165.1"/><circle cx="520.3" cy="171.6"/><circle cx="520.4" cy="166.6"/><circle cx="520.5" cy="163.4"/><circle cx="520.5" cy="178.0"/><circle cx="520.6" cy="164.7"/><circle cx="520.7" cy="161.5"/><circle cx="520.8" cy="176.3"/><circle cx="520.8" cy="156.7"/><circle cx="520.9" cy="161.4"/><circle cx="521.0" cy="162.6"/><circle cx="521.1" cy="153.0"/><circle cx="521.1" cy="161.9"/><circle cx="521.2" cy="163.6"/><circle cx="521.3" cy="157.2"/><circle cx="521.3" cy="157.0"/><circle cx="521.4" cy="139.7"/><circle cx="521.5" cy="142.3"/><circle cx="521.6" cy="157.5"/><circle cx="521.6" cy="155.1"/><circle cx="521.7" cy="150.1"/><circle cx="521.8" cy="150.1"/><circle cx="521.9" cy="156.3"/><circle cx="521.9" cy="157.9"/><circle cx="522.0" cy="135.6"/><circle cx="522.1" cy="142.6"/><circle cx="522.2" cy="157.9"/><circle cx="522.2" cy="161.1"/><circle cx="522.3" cy="152.8"/><circle cx="522.4" cy="146.6"/><circle cx="522.4" cy="145.1"/><circle cx="522.5" cy="151.6"/><circle cx="522.6" cy="158.1"/><circle cx="522.7" cy="143.1"/><circle cx="522.7" cy="138.0"/><circle cx="522.8" cy="144.9"/><circle cx="522.9" cy="148.8"/><circle cx="523.0" cy="140.4"/><circle cx="523.0" cy="140.3"/><circle cx="523.1" cy="150.1"/><circle cx="523.2" cy="142.1"/><circle cx="523.3" cy="148.7"/><circle cx="523.3" cy="136.4"/><circle cx="523.4" cy="136.0"/><circle cx="523.5" cy="146.5"/><circle cx="523.5" cy="137.2"/><circle cx="523.6" cy="131.3"/><circle cx="523.7" cy="150.7"/><circle cx="523.8" cy="133.7"/><circle cx="523.8" cy="126.9"/><circle cx="523.9" cy="146.5"/><circle cx="524.0" cy="134.5"/><circle cx="524.1" cy="139.6"/><circle cx="524.1" cy="135.0"/><circle cx="524.2" cy="152.6"/><circle cx="524.3" cy="144.3"/><circle cx="524.4" cy="130.8"/><circle cx="524.4" cy="129.7"/><circle cx="524.5" cy="126.8"/><circle cx="524.6" cy="122.0"/><circle cx="524.6" cy="125.8"/><circle cx="524.7" cy="128.6"/><circle cx="524.8" cy="119.8"/><circle cx="524.9" cy="132.7"/><circle cx="524.9" cy="131.1"/><circle cx="525.0" cy="104.3"/><circle cx="525.1" cy="108.1"/><circle cx="525.2" cy="117.7"/><circle cx="525.2" cy="120.4"/><circle cx="525.3" cy="117.0"/><circle cx="525.4" cy="127.9"/><circle cx="525.5" cy="107.2"/><circle cx="525.5" cy="124.8"/><circle cx="525.6" cy="117.1"/><circle cx="525.7" cy="102.2"/><circle cx="525.7" cy="139.1"/><circle cx="525.8" cy="115.0"/><circle cx="525.9" cy="127.9"/><circle cx="526.0" cy="121.9"/><circle cx="526.0" cy="114.8"/><circle cx="526.1" cy="119.1"/><circle cx="526.2" cy="112.5"/><circle cx="526.3" cy="123.3"/><circle cx="526.3" cy="113.2"/><circle cx="526.4" cy="126.3"/><circle cx="526.5" cy="112.8"/><circle cx="526.6" cy="126.9"/><circle cx="526.6" cy="112.8"/><circle cx="526.7" cy="119.8"/><circle cx="526.8" cy="106.1"/><circle cx="526.8" cy="112.9"/><circle cx="526.9" cy="110.6"/><circle cx="527.0" cy="100.4"/><circle cx="527.1" cy="109.9"/><circle cx="527.1" cy="121.4"/><circle cx="527.2" cy="102.5"/><circle cx="527.3" cy="124.9"/><circle cx="527.4" cy="98.4"/><circle cx="527.4" cy="110.1"/><circle cx="527.5" cy="114.8"/><circle cx="527.6" cy="101.9"/><circle cx="527.7" cy="106.9"/><circle cx="527.7" cy="92.8"/><circle cx="527.8" cy="107.0"/><circle cx="527.9" cy="85.6"/><circle cx="527.9" cy="92.5"/><circle cx="528.0" cy="103.2"/><circle cx="528.1" cy="107.8"/><circle cx="528.2" cy="89.2"/><circle cx="528.2" cy="101.6"/><circle cx="528.3" cy="99.4"/><circle cx="528.4" cy="99.1"/><circle cx="528.5" cy="105.5"/><circle cx="528.5" cy="94.9"/><circle cx="528.6" cy="107.1"/><circle cx="528.7" cy="104.8"/><circle cx="528.8" cy="92.2"/><circle cx="528.8" cy="79.2"/><circle cx="528.9" cy="84.8"/><circle cx="529.0" cy="95.5"/><circle cx="529.0" cy="93.1"/><circle cx="529.1" cy="87.9"/><circle cx="529.2" cy="82.7"/><circle cx="529.3" cy="88.0"/><circle cx="529.3" cy="91.9"/><circle cx="529.4" cy="95.5"/><circle cx="529.5" cy="86.1"/><circle cx="529.6" cy="78.7"/><circle cx="529.6" cy="96.2"/><circle cx="529.7" cy="101.9"/><circle cx="529.8" cy="81.8"/><circle cx="529.8" cy="80.8"/><circle cx="529.9" cy="84.0"/><circle cx="530.0" cy="79.1"/><circle cx="530.1" cy="80.9"/><circle cx="530.1" cy="95.3"/><circle cx="530.2" cy="96.0"/><circle cx="530.3" cy="81.4"/><circle cx="530.4" cy="88.3"/><circle cx="530.4" cy="80.3"/><circle cx="530.5" cy="91.2"/><circle cx="530.6" cy="87.8"/><circle cx="530.7" cy="90.9"/><circle cx="530.7" cy="85.0"/><circle cx="530.8" cy="81.2"/><circle cx="530.9" cy="77.8"/><circle cx="530.9" cy="72.0"/><circle cx="531.0" cy="85.3"/><circle cx="531.1" cy="80.9"/><circle cx="531.2" cy="73.2"/><circle cx="531.2" cy="81.3"/><circle cx="531.3" cy="79.3"/><circle cx="531.4" cy="76.7"/><circle cx="531.5" cy="67.7"/><circle cx="531.5" cy="70.3"/><circle cx="531.6" cy="77.0"/><circle cx="531.7" cy="72.5"/><circle cx="531.8" cy="80.1"/><circle cx="531.8" cy="82.8"/><circle cx="531.9" cy="78.4"/><circle cx="532.0" cy="80.4"/><circle cx="532.0" cy="76.8"/><circle cx="532.1" cy="79.5"/><circle cx="532.2" cy="75.8"/><circle cx="532.3" cy="77.8"/><circle cx="532.3" cy="82.7"/><circle cx="532.4" cy="72.2"/><circle cx="532.5" cy="66.7"/><circle cx="532.6" cy="76.6"/><circle cx="532.6" cy="69.2"/><circle cx="532.7" cy="67.7"/><circle cx="532.8" cy="68.1"/><circle cx="532.9" cy="76.4"/><circle cx="532.9" cy="76.8"/><circle cx="533.0" cy="75.7"/><circle cx="533.1" cy="68.7"/><circle cx="533.1" cy="74.2"/><circle cx="533.2" cy="70.6"/><circle cx="533.3" cy="73.3"/><circle cx="533.4" cy="67.2"/><circle cx="533.4" cy="68.3"/><circle cx="533.5" cy="70.7"/><circle cx="533.6" cy="75.0"/><circle cx="533.7" cy="68.3"/><circle cx="533.7" cy="65.2"/><circle cx="533.8" cy="76.3"/><circle cx="533.9" cy="61.6"/><circle cx="534.0" cy="64.6"/><circle cx="534.0" cy="72.5"/><circle cx="534.1" cy="72.7"/><circle cx="534.2" cy="58.5"/><circle cx="534.2" cy="69.0"/><circle cx="534.3" cy="67.7"/><circle cx="534.4" cy="61.9"/><circle cx="534.5" cy="67.4"/><circle cx="534.5" cy="71.4"/><circle cx="534.6" cy="65.3"/><circle cx="534.7" cy="71.8"/><circle cx="534.8" cy="63.1"/><circle cx="534.8" cy="68.9"/><circle cx="534.9" cy="61.7"/><circle cx="535.0" cy="72.4"/><circle cx="535.1" cy="61.7"/><circle cx="535.1" cy="66.9"/><circle cx="535.2" cy="59.6"/><circle cx="535.3" cy="67.4"/><circle cx="535.3" cy="59.7"/><circle cx="535.4" cy="63.5"/><circle cx="535.5" cy="62.9"/><circle cx="535.6" cy="67.5"/><circle cx="535.6" cy="63.5"/><circle cx="535.7" cy="63.3"/><circle cx="535.8" cy="67.9"/><circle cx="535.9" cy="69.6"/><circle cx="535.9" cy="67.8"/><circle cx="536.0" cy="61.7"/><circle cx="536.1" cy="65.1"/><circle cx="536.2" cy="63.0"/><circle cx="536.2" cy="64.4"/><circle cx="536.3" cy="64.9"/><circle cx="536.4" cy="64.8"/><circle cx="536.4" cy="66.6"/><circle cx="536.5" cy="61.7"/><circle cx="536.6" cy="66.3"/><circle cx="536.7" cy="64.6"/><circle cx="536.7" cy="76.6"/><circle cx="536.8" cy="64.9"/><circle cx="536.9" cy="70.6"/><circle cx="537.0" cy="69.7"/><circle cx="537.0" cy="62.7"/><circle cx="537.1" cy="69.4"/><circle cx="537.2" cy="70.7"/><circle cx="537.3" cy="63.6"/><circle cx="537.3" cy="65.0"/><circle cx="537.4" cy="67.3"/><circle cx="537.5" cy="65.3"/><circle cx="537.5" cy="66.9"/><circle cx="537.6" cy="68.8"/><circle cx="537.7" cy="74.7"/><circle cx="537.8" cy="72.6"/><circle cx="537.8" cy="64.7"/><circle cx="537.9" cy="69.9"/><circle cx="538.0" cy="82.5"/><circle cx="538.1" cy="71.6"/><circle cx="538.1" cy="71.8"/><circle cx="538.2" cy="70.1"/><circle cx="538.3" cy="67.6"/><circle cx="538.3" cy="63.6"/><circle cx="538.4" cy="77.9"/><circle cx="538.5" cy="70.3"/><circle cx="538.6" cy="75.9"/><circle cx="538.6" cy="71.8"/><circle cx="538.7" cy="84.8"/><circle cx="538.8" cy="67.5"/><circle cx="538.9" cy="75.4"/><circle cx="538.9" cy="72.8"/><circle cx="539.0" cy="72.4"/><circle cx="539.1" cy="71.5"/><circle cx="539.2" cy="63.0"/><circle cx="539.2" cy="75.6"/><circle cx="539.3" cy="72.6"/><circle cx="539.4" cy="62.7"/><circle cx="539.4" cy="72.3"/><circle cx="539.5" cy="72.8"/><circle cx="539.6" cy="75.3"/><circle cx="539.7" cy="71.7"/><circle cx="539.7" cy="78.1"/><circle cx="539.8" cy="68.3"/><circle cx="539.9" cy="89.5"/><circle cx="540.0" cy="80.4"/><circle cx="540.0" cy="72.7"/><circle cx="540.1" cy="84.5"/><circle cx="540.2" cy="87.6"/><circle cx="540.3" cy="85.9"/><circle cx="540.3" cy="70.5"/><circle cx="540.4" cy="81.6"/><circle cx="540.5" cy="78.4"/><circle cx="540.5" cy="80.7"/><circle cx="540.6" cy="76.5"/><circle cx="540.7" cy="77.9"/><circle cx="540.8" cy="76.1"/><circle cx="540.8" cy="82.7"/><circle cx="540.9" cy="78.2"/><circle cx="541.0" cy="75.5"/><circle cx="541.1" cy="79.9"/><circle cx="541.1" cy="81.4"/><circle cx="541.2" cy="87.2"/><circle cx="541.3" cy="84.1"/><circle cx="541.4" cy="81.1"/><circle cx="541.4" cy="69.6"/><circle cx="541.5" cy="83.3"/><circle cx="541.6" cy="79.8"/><circle cx="541.6" cy="88.7"/><circle cx="541.7" cy="76.2"/><circle cx="541.8" cy="83.6"/><circle cx="541.9" cy="82.5"/><circle cx="541.9" cy="107.7"/><circle cx="542.0" cy="93.4"/><circle cx="542.1" cy="90.2"/><circle cx="542.2" cy="88.1"/><circle cx="542.2" cy="93.6"/><circle cx="542.3" cy="89.5"/><circle cx="542.4" cy="87.4"/><circle cx="542.5" cy="86.2"/><circle cx="542.5" cy="99.9"/><circle cx="542.6" cy="99.2"/><circle cx="542.7" cy="95.3"/><circle cx="542.7" cy="103.6"/><circle cx="542.8" cy="96.7"/><circle cx="542.9" cy="92.1"/><circle cx="543.0" cy="88.0"/><circle cx="543.0" cy="93.5"/><circle cx="543.1" cy="97.5"/><circle cx="543.2" cy="103.8"/><circle cx="543.3" cy="109.2"/><circle cx="543.3" cy="95.6"/><circle cx="543.4" cy="91.7"/><circle cx="543.5" cy="106.1"/><circle cx="543.6" cy="107.4"/><circle cx="543.6" cy="95.0"/><circle cx="543.7" cy="102.1"/><circle cx="543.8" cy="113.7"/><circle cx="543.8" cy="106.4"/><circle cx="543.9" cy="108.2"/><circle cx="544.0" cy="91.7"/><circle cx="544.1" cy="113.5"/><circle cx="544.1" cy="113.0"/><circle cx="544.2" cy="103.2"/><circle cx="544.3" cy="99.1"/><circle cx="544.4" cy="99.1"/><circle cx="544.4" cy="104.5"/><circle cx="544.5" cy="111.4"/><circle cx="544.6" cy="120.1"/><circle cx="544.7" cy="101.7"/><circle cx="544.7" cy="121.3"/><circle cx="544.8" cy="111.6"/><circle cx="544.9" cy="122.8"/><circle cx="544.9" cy="99.4"/><circle cx="545.0" cy="114.6"/><circle cx="545.1" cy="122.0"/><circle cx="545.2" cy="113.0"/><circle cx="545.2" cy="103.0"/><circle cx="545.3" cy="113.2"/><circle cx="545.4" cy="121.4"/><circle cx="545.5" cy="110.2"/><circle cx="545.5" cy="102.0"/><circle cx="545.6" cy="121.9"/><circle cx="545.7" cy="115.4"/><circle cx="545.8" cy="126.3"/><circle cx="545.8" cy="114.8"/><circle cx="545.9" cy="100.8"/><circle cx="546.0" cy="113.9"/><circle cx="546.0" cy="129.7"/><circle cx="546.1" cy="111.6"/><circle cx="546.2" cy="121.3"/><circle cx="546.3" cy="123.9"/><circle cx="546.3" cy="118.5"/><circle cx="546.4" cy="133.4"/><circle cx="546.5" cy="128.2"/><circle cx="546.6" cy="129.3"/><circle cx="546.6" cy="115.4"/><circle cx="546.7" cy="110.3"/><circle cx="546.8" cy="106.1"/><circle cx="546.8" cy="127.3"/><circle cx="546.9" cy="131.5"/><circle cx="547.0" cy="133.7"/><circle cx="547.1" cy="139.8"/><circle cx="547.1" cy="129.2"/><circle cx="547.2" cy="132.6"/><circle cx="547.3" cy="134.8"/><circle cx="547.4" cy="142.3"/><circle cx="547.4" cy="131.9"/><circle cx="547.5" cy="137.7"/><circle cx="547.6" cy="137.3"/><circle cx="547.7" cy="132.7"/><circle cx="547.7" cy="138.3"/><circle cx="547.8" cy="130.4"/><circle cx="547.9" cy="127.9"/><circle cx="547.9" cy="143.8"/><circle cx="548.0" cy="138.4"/><circle cx="548.1" cy="131.9"/><circle cx="548.2" cy="135.7"/><circle cx="548.2" cy="144.9"/><circle cx="548.3" cy="139.2"/><circle cx="548.4" cy="147.4"/><circle cx="548.5" cy="140.5"/><circle cx="548.5" cy="153.4"/><circle cx="548.6" cy="150.5"/><circle cx="548.7" cy="151.3"/><circle cx="548.8" cy="146.2"/><circle cx="548.8" cy="143.3"/><circle cx="548.9" cy="141.7"/><circle cx="549.0" cy="166.6"/><circle cx="549.0" cy="147.1"/><circle cx="549.1" cy="153.3"/><circle cx="549.2" cy="159.4"/><circle cx="549.3" cy="142.4"/><circle cx="549.3" cy="140.8"/><circle cx="549.4" cy="146.5"/><circle cx="549.5" cy="141.3"/><circle cx="549.6" cy="142.8"/><circle cx="549.6" cy="147.5"/><circle cx="549.7" cy="161.3"/><circle cx="549.8" cy="155.9"/><circle cx="549.9" cy="152.3"/><circle cx="549.9" cy="153.8"/><circle cx="550.0" cy="144.2"/><circle cx="550.1" cy="162.8"/><circle cx="550.1" cy="160.7"/><circle cx="550.2" cy="150.3"/><circle cx="550.3" cy="159.8"/><circle cx="550.4" cy="159.1"/><circle cx="550.4" cy="151.3"/><circle cx="550.5" cy="151.4"/><circle cx="550.6" cy="159.0"/><circle cx="550.7" cy="155.8"/><circle cx="550.7" cy="166.4"/><circle cx="550.8" cy="163.2"/><circle cx="550.9" cy="161.8"/><circle cx="551.0" cy="163.0"/><circle cx="551.0" cy="158.8"/><circle cx="551.1" cy="176.6"/><circle cx="551.2" cy="148.5"/><circle cx="551.2" cy="169.5"/><circle cx="551.3" cy="166.7"/><circle cx="551.4" cy="164.6"/><circle cx="551.5" cy="162.7"/><circle cx="551.5" cy="165.9"/><circle cx="551.6" cy="161.6"/><circle cx="551.7" cy="157.7"/><circle cx="551.8" cy="167.6"/><circle cx="551.8" cy="158.5"/><circle cx="551.9" cy="174.4"/><circle cx="552.0" cy="176.7"/><circle cx="552.1" cy="155.2"/><circle cx="552.1" cy="161.7"/><circle cx="552.2" cy="170.8"/><circle cx="552.3" cy="173.4"/><circle cx="552.3" cy="170.3"/><circle cx="552.4" cy="177.3"/><circle cx="552.5" cy="179.9"/><circle cx="552.6" cy="178.4"/><circle cx="552.6" cy="182.7"/><circle cx="552.7" cy="176.0"/><circle cx="552.8" cy="178.9"/><circle cx="552.9" cy="163.8"/><circle cx="552.9" cy="173.4"/><circle cx="553.0" cy="169.5"/><circle cx="553.1" cy="184.5"/><circle cx="553.2" cy="191.8"/><circle cx="553.2" cy="180.9"/><circle cx="553.3" cy="170.3"/><circle cx="553.4" cy="175.8"/><circle cx="553.4" cy="181.6"/><circle cx="553.5" cy="182.2"/><circle cx="553.6" cy="187.4"/><circle cx="553.7" cy="184.1"/><circle cx="553.7" cy="170.2"/><circle cx="553.8" cy="189.9"/><circle cx="553.9" cy="175.8"/><circle cx="554.0" cy="178.3"/><circle cx="554.0" cy="191.6"/><circle cx="554.1" cy="181.9"/><circle cx="554.2" cy="174.7"/><circle cx="554.3" cy="176.0"/><circle cx="554.3" cy="185.1"/><circle cx="554.4" cy="190.4"/><circle cx="554.5" cy="190.9"/><circle cx="554.5" cy="184.8"/><circle cx="554.6" cy="182.4"/><circle cx="554.7" cy="193.1"/><circle cx="554.8" cy="185.4"/><circle cx="554.8" cy="191.6"/><circle cx="554.9" cy="189.5"/><circle cx="555.0" cy="188.5"/><circle cx="555.1" cy="188.3"/><circle cx="555.1" cy="190.5"/><circle cx="555.2" cy="187.4"/><circle cx="555.3" cy="187.4"/><circle cx="555.4" cy="188.9"/><circle cx="555.4" cy="185.2"/><circle cx="555.5" cy="189.2"/><circle cx="555.6" cy="189.2"/><circle cx="555.6" cy="190.4"/><circle cx="555.7" cy="188.7"/><circle cx="555.8" cy="190.4"/><circle cx="555.9" cy="196.7"/><circle cx="555.9" cy="194.5"/><circle cx="556.0" cy="188.3"/><circle cx="556.1" cy="193.0"/><circle cx="556.2" cy="194.7"/><circle cx="556.2" cy="193.9"/><circle cx="556.3" cy="192.5"/><circle cx="556.4" cy="194.1"/><circle cx="556.4" cy="198.2"/><circle cx="556.5" cy="198.1"/><circle cx="556.6" cy="197.6"/><circle cx="556.7" cy="189.1"/><circle cx="556.7" cy="195.2"/><circle cx="556.8" cy="187.3"/><circle cx="556.9" cy="200.6"/><circle cx="557.0" cy="201.2"/><circle cx="557.0" cy="201.5"/><circle cx="557.1" cy="199.3"/><circle cx="557.2" cy="203.7"/><circle cx="557.3" cy="197.8"/><circle cx="557.3" cy="198.6"/><circle cx="557.4" cy="191.8"/><circle cx="557.5" cy="197.1"/><circle cx="557.5" cy="196.5"/><circle cx="557.6" cy="203.7"/><circle cx="557.7" cy="204.6"/><circle cx="557.8" cy="198.6"/><circle cx="557.8" cy="201.2"/><circle cx="557.9" cy="202.8"/><circle cx="558.0" cy="198.6"/><circle cx="558.1" cy="196.5"/><circle cx="558.1" cy="199.3"/><circle cx="558.2" cy="196.2"/><circle cx="558.3" cy="198.3"/><circle cx="558.4" cy="201.8"/><circle cx="558.4" cy="201.1"/><circle cx="558.5" cy="202.1"/><circle cx="558.6" cy="203.1"/><circle cx="558.6" cy="199.8"/><circle cx="558.7" cy="204.7"/><circle cx="558.8" cy="198.0"/><circle cx="558.9" cy="201.5"/><circle cx="558.9" cy="203.7"/><circle cx="559.0" cy="204.2"/><circle cx="559.1" cy="199.5"/><circle cx="559.2" cy="206.3"/><circle cx="559.2" cy="205.8"/><circle cx="559.3" cy="208.1"/><circle cx="559.4" cy="207.8"/><circle cx="559.5" cy="206.5"/><circle cx="559.5" cy="205.7"/><circle cx="559.6" cy="210.1"/><circle cx="559.7" cy="206.4"/><circle cx="559.7" cy="203.2"/><circle cx="559.8" cy="206.7"/><circle cx="559.9" cy="208.4"/><circle cx="560.0" cy="207.5"/><circle cx="560.0" cy="208.1"/><circle cx="560.1" cy="205.9"/><circle cx="560.2" cy="206.8"/><circle cx="560.3" cy="203.4"/><circle cx="560.3" cy="204.9"/><circle cx="560.4" cy="209.0"/><circle cx="560.5" cy="207.5"/><circle cx="560.6" cy="209.1"/><circle cx="560.6" cy="206.3"/><circle cx="560.7" cy="208.6"/><circle cx="560.8" cy="207.3"/><circle cx="560.8" cy="212.9"/><circle cx="560.9" cy="205.6"/><circle cx="561.0" cy="207.5"/><circle cx="561.1" cy="210.9"/><circle cx="561.1" cy="210.9"/><circle cx="561.2" cy="205.4"/><circle cx="561.3" cy="211.0"/><circle cx="561.4" cy="211.4"/><circle cx="561.4" cy="207.4"/><circle cx="561.5" cy="211.0"/><circle cx="561.6" cy="208.9"/><circle cx="561.7" cy="209.6"/><circle cx="561.7" cy="209.9"/><circle cx="561.8" cy="209.1"/><circle cx="561.9" cy="209.1"/><circle cx="561.9" cy="214.1"/><circle cx="562.0" cy="211.3"/><circle cx="562.1" cy="210.2"/><circle cx="562.2" cy="211.5"/><circle cx="562.2" cy="211.6"/><circle cx="562.3" cy="214.6"/><circle cx="562.4" cy="211.4"/><circle cx="562.5" cy="212.6"/><circle cx="562.5" cy="211.5"/><circle cx="562.6" cy="213.9"/><circle cx="562.7" cy="213.1"/><circle cx="562.8" cy="212.6"/><circle cx="562.8" cy="216.0"/><circle cx="562.9" cy="211.0"/><circle cx="563.0" cy="214.0"/><circle cx="563.0" cy="213.4"/><circle cx="563.1" cy="215.1"/><circle cx="563.2" cy="214.4"/><circle cx="563.3" cy="213.9"/><circle cx="563.3" cy="211.2"/><circle cx="563.4" cy="213.2"/><circle cx="563.5" cy="213.1"/><circle cx="563.6" cy="215.2"/><circle cx="563.6" cy="213.9"/><circle cx="563.7" cy="213.0"/><circle cx="563.8" cy="214.8"/><circle cx="563.9" cy="214.7"/><circle cx="563.9" cy="213.0"/><circle cx="564.0" cy="213.9"/><circle cx="564.1" cy="216.5"/><circle cx="564.1" cy="212.8"/><circle cx="564.2" cy="214.8"/><circle cx="564.3" cy="213.6"/><circle cx="564.4" cy="213.4"/><circle cx="564.4" cy="213.2"/><circle cx="564.5" cy="214.6"/><circle cx="564.6" cy="214.9"/><circle cx="564.7" cy="216.6"/><circle cx="564.7" cy="214.2"/><circle cx="564.8" cy="216.1"/><circle cx="564.9" cy="215.4"/><circle cx="564.9" cy="214.6"/><circle cx="565.0" cy="216.4"/><circle cx="565.1" cy="214.1"/><circle cx="565.2" cy="213.5"/><circle cx="565.2" cy="216.6"/><circle cx="565.3" cy="213.5"/><circle cx="565.4" cy="217.0"/><circle cx="565.5" cy="215.9"/><circle cx="565.5" cy="216.4"/><circle cx="565.6" cy="216.1"/><circle cx="565.7" cy="214.2"/><circle cx="565.8" cy="214.4"/><circle cx="565.8" cy="215.5"/><circle cx="565.9" cy="215.7"/><circle cx="566.0" cy="214.2"/><circle cx="566.0" cy="216.3"/><circle cx="566.1" cy="216.7"/><circle cx="566.2" cy="216.2"/><circle cx="566.3" cy="217.3"/><circle cx="566.3" cy="216.5"/><circle cx="566.4" cy="217.4"/><circle cx="566.5" cy="216.3"/><circle cx="566.6" cy="217.8"/><circle cx="566.6" cy="217.4"/><circle cx="566.7" cy="217.1"/><circle cx="566.8" cy="218.0"/><circle cx="566.9" cy="216.4"/><circle cx="566.9" cy="217.6"/><circle cx="567.0" cy="216.4"/><circle cx="567.1" cy="216.2"/><circle cx="567.1" cy="218.6"/><circle cx="567.2" cy="217.2"/><circle cx="567.3" cy="217.1"/><circle cx="567.4" cy="217.1"/><circle cx="567.4" cy="217.6"/><circle cx="567.5" cy="217.0"/><circle cx="567.6" cy="216.6"/><circle cx="567.7" cy="216.0"/><circle cx="567.7" cy="218.0"/><circle cx="567.8" cy="217.4"/><circle cx="567.9" cy="216.5"/><circle cx="568.0" cy="216.7"/><circle cx="568.0" cy="216.1"/><circle cx="568.1" cy="218.0"/><circle cx="568.2" cy="218.3"/><circle cx="568.2" cy="218.1"/><circle cx="568.3" cy="218.1"/><circle cx="568.4" cy="217.9"/><circle cx="568.5" cy="217.6"/><circle cx="568.5" cy="218.0"/><circle cx="568.6" cy="217.1"/><circle cx="568.7" cy="217.8"/><circle cx="568.8" cy="216.6"/><circle cx="568.8" cy="218.4"/><circle cx="568.9" cy="218.1"/><circle cx="569.0" cy="217.7"/><circle cx="569.1" cy="218.0"/><circle cx="569.1" cy="217.6"/><circle cx="569.2" cy="217.9"/><circle cx="569.3" cy="218.7"/><circle cx="569.3" cy="217.1"/><circle cx="569.4" cy="217.2"/><circle cx="569.5" cy="219.2"/><circle cx="569.6" cy="218.8"/><circle cx="569.6" cy="218.2"/><circle cx="569.7" cy="218.0"/><circle cx="569.8" cy="218.1"/><circle cx="569.9" cy="219.0"/><circle cx="569.9" cy="218.3"/><circle cx="570.0" cy="218.7"/><circle cx="570.1" cy="217.9"/><circle cx="570.2" cy="218.2"/><circle cx="570.2" cy="217.5"/><circle cx="570.3" cy="218.2"/><circle cx="570.4" cy="218.2"/><circle cx="570.4" cy="219.0"/><circle cx="570.5" cy="218.5"/><circle cx="570.6" cy="218.6"/><circle cx="570.7" cy="219.3"/><circle cx="570.7" cy="218.5"/><circle cx="570.8" cy="219.0"/><circle cx="570.9" cy="218.6"/><circle cx="571.0" cy="218.6"/><circle cx="571.0" cy="219.3"/><circle cx="571.1" cy="218.4"/><circle cx="571.2" cy="219.0"/><circle cx="571.3" cy="219.1"/><circle cx="571.3" cy="218.5"/><circle cx="571.4" cy="219.2"/><circle cx="571.5" cy="219.2"/><circle cx="571.5" cy="218.2"/><circle cx="571.6" cy="218.5"/><circle cx="571.7" cy="219.1"/><circle cx="571.8" cy="218.4"/><circle cx="571.8" cy="218.5"/><circle cx="571.9" cy="219.0"/><circle cx="572.0" cy="218.0"/><circle cx="572.1" cy="219.0"/><circle cx="572.1" cy="218.7"/><circle cx="572.2" cy="219.9"/><circle cx="572.3" cy="218.4"/><circle cx="572.4" cy="219.3"/><circle cx="572.4" cy="218.9"/><circle cx="572.5" cy="219.5"/><circle cx="572.6" cy="218.5"/><circle cx="572.6" cy="218.4"/><circle cx="572.7" cy="218.1"/><circle cx="572.8" cy="219.9"/><circle cx="572.9" cy="218.6"/><circle cx="572.9" cy="218.7"/><circle cx="573.0" cy="220.0"/><circle cx="573.1" cy="219.4"/><circle cx="573.2" cy="219.1"/><circle cx="573.2" cy="218.5"/><circle cx="573.3" cy="219.4"/><circle cx="573.4" cy="218.8"/><circle cx="573.4" cy="219.2"/><circle cx="573.5" cy="219.0"/><circle cx="573.6" cy="219.2"/><circle cx="573.7" cy="218.9"/><circle cx="573.7" cy="218.7"/><circle cx="573.8" cy="219.7"/><circle cx="573.9" cy="218.8"/><circle cx="574.0" cy="219.1"/><circle cx="574.0" cy="219.1"/><circle cx="574.1" cy="218.7"/><circle cx="574.2" cy="219.1"/><circle cx="574.3" cy="218.8"/><circle cx="574.3" cy="218.9"/><circle cx="574.4" cy="218.9"/><circle cx="574.5" cy="219.3"/><circle cx="574.5" cy="219.5"/><circle cx="574.6" cy="218.9"/><circle cx="574.7" cy="219.0"/><circle cx="574.8" cy="218.8"/><circle cx="574.8" cy="219.3"/><circle cx="574.9" cy="218.8"/><circle cx="575.0" cy="219.1"/><circle cx="575.1" cy="219.7"/><circle cx="575.1" cy="219.0"/><circle cx="575.2" cy="219.0"/><circle cx="575.3" cy="219.0"/><circle cx="575.4" cy="219.6"/><circle cx="575.4" cy="219.5"/><circle cx="575.5" cy="219.1"/><circle cx="575.6" cy="219.4"/><circle cx="575.6" cy="219.3"/><circle cx="575.7" cy="218.8"/><circle cx="575.8" cy="219.1"/><circle cx="575.9" cy="218.6"/><circle cx="575.9" cy="219.1"/><circle cx="576.0" cy="218.6"/><circle cx="576.1" cy="218.9"/><circle cx="576.2" cy="218.5"/><circle cx="576.2" cy="219.2"/><circle cx="576.3" cy="219.2"/><circle cx="576.4" cy="218.8"/><circle cx="576.5" cy="219.5"/><circle cx="576.5" cy="219.4"/><circle cx="576.6" cy="219.2"/><circle cx="576.7" cy="219.1"/><circle cx="576.7" cy="219.8"/><circle cx="576.8" cy="219.2"/><circle cx="576.9" cy="219.4"/><circle cx="577.0" cy="219.3"/><circle cx="577.0" cy="219.2"/><circle cx="577.1" cy="219.4"/><circle cx="577.2" cy="218.9"/><circle cx="577.3" cy="219.1"/><circle cx="577.3" cy="219.4"/><circle cx="577.4" cy="219.3"/><circle cx="577.5" cy="218.9"/><circle cx="577.6" cy="219.0"/><circle cx="577.6" cy="218.8"/><circle cx="577.7" cy="219.3"/><circle cx="577.8" cy="219.2"/><circle cx="577.8" cy="218.6"/><circle cx="577.9" cy="219.3"/><circle cx="578.0" cy="218.7"/><circle cx="578.1" cy="219.0"/><circle cx="578.1" cy="219.5"/><circle cx="578.2" cy="219.8"/><circle cx="578.3" cy="219.1"/><circle cx="578.4" cy="219.5"/><circle cx="578.4" cy="219.5"/><circle cx="578.5" cy="219.9"/><circle cx="578.6" cy="218.9"/><circle cx="578.7" cy="219.3"/><circle cx="578.7" cy="219.2"/><circle cx="578.8" cy="219.2"/><circle cx="578.9" cy="219.2"/><circle cx="578.9" cy="219.3"/><circle cx="579.0" cy="219.1"/><circle cx="579.1" cy="219.4"/><circle cx="579.2" cy="220.2"/><circle cx="579.2" cy="219.0"/><circle cx="579.3" cy="219.2"/><circle cx="579.4" cy="219.3"/><circle cx="579.5" cy="218.7"/><circle cx="579.5" cy="219.8"/><circle cx="579.6" cy="220.2"/><circle cx="579.7" cy="218.8"/><circle cx="579.8" cy="219.2"/><circle cx="579.8" cy="219.9"/><circle cx="579.9" cy="219.5"/><circle cx="580.0" cy="219.1"/><circle cx="580.0" cy="219.8"/><circle cx="580.1" cy="219.1"/><circle cx="580.2" cy="218.6"/><circle cx="580.3" cy="218.8"/><circle cx="580.3" cy="219.4"/><circle cx="580.4" cy="219.2"/><circle cx="580.5" cy="219.7"/><circle cx="580.6" cy="219.3"/><circle cx="580.6" cy="219.5"/><circle cx="580.7" cy="219.7"/><circle cx="580.8" cy="219.8"/><circle cx="580.9" cy="218.7"/><circle cx="580.9" cy="219.3"/><circle cx="581.0" cy="219.7"/><circle cx="581.1" cy="219.5"/><circle cx="581.1" cy="218.8"/><circle cx="581.2" cy="218.7"/><circle cx="581.3" cy="219.6"/><circle cx="581.4" cy="219.3"/><circle cx="581.4" cy="219.0"/><circle cx="581.5" cy="219.5"/><circle cx="581.6" cy="219.8"/><circle cx="581.7" cy="219.7"/><circle cx="581.7" cy="219.3"/><circle cx="581.8" cy="219.6"/><circle cx="581.9" cy="219.8"/><circle cx="582.0" cy="219.4"/><circle cx="582.0" cy="219.0"/><circle cx="582.1" cy="219.1"/><circle cx="582.2" cy="219.4"/><circle cx="582.2" cy="218.6"/><circle cx="582.3" cy="219.6"/><circle cx="582.4" cy="219.4"/><circle cx="582.5" cy="219.8"/><circle cx="582.5" cy="219.1"/><circle cx="582.6" cy="219.4"/><circle cx="582.7" cy="219.9"/><circle cx="582.8" cy="219.6"/><circle cx="582.8" cy="218.7"/><circle cx="582.9" cy="219.1"/><circle cx="583.0" cy="219.3"/><circle cx="583.0" cy="219.1"/><circle cx="583.1" cy="219.9"/><circle cx="583.2" cy="219.6"/><circle cx="583.3" cy="219.8"/><circle cx="583.3" cy="219.6"/><circle cx="583.4" cy="219.5"/><circle cx="583.5" cy="219.2"/><circle cx="583.6" cy="219.0"/><circle cx="583.6" cy="219.0"/><circle cx="583.7" cy="218.6"/><circle cx="583.8" cy="219.5"/><circle cx="583.9" cy="219.4"/><circle cx="583.9" cy="219.2"/><circle cx="584.0" cy="219.6"/><circle cx="584.1" cy="219.5"/><circle cx="584.1" cy="219.2"/><circle cx="584.2" cy="219.7"/><circle cx="584.3" cy="219.2"/><circle cx="584.4" cy="218.9"/><circle cx="584.4" cy="219.7"/><circle cx="584.5" cy="220.2"/><circle cx="584.6" cy="219.3"/><circle cx="584.7" cy="219.7"/><circle cx="584.7" cy="219.3"/><circle cx="584.8" cy="219.5"/><circle cx="584.9" cy="219.3"/><circle cx="585.0" cy="219.0"/><circle cx="585.0" cy="219.1"/><circle cx="585.1" cy="219.5"/><circle cx="585.2" cy="219.8"/><circle cx="585.2" cy="220.2"/><circle cx="585.3" cy="220.1"/><circle cx="585.4" cy="219.6"/><circle cx="585.5" cy="219.3"/><circle cx="585.5" cy="219.6"/><circle cx="585.6" cy="219.6"/><circle cx="585.7" cy="219.9"/><circle cx="585.8" cy="219.9"/><circle cx="585.8" cy="220.0"/><circle cx="585.9" cy="219.2"/><circle cx="586.0" cy="220.1"/><circle cx="586.1" cy="219.1"/><circle cx="586.1" cy="219.7"/><circle cx="586.2" cy="219.2"/><circle cx="586.3" cy="219.3"/><circle cx="586.3" cy="219.1"/><circle cx="586.4" cy="219.0"/><circle cx="586.5" cy="219.7"/><circle cx="586.6" cy="219.7"/><circle cx="586.6" cy="219.5"/><circle cx="586.7" cy="219.7"/><circle cx="586.8" cy="219.2"/><circle cx="586.9" cy="219.4"/><circle cx="586.9" cy="219.4"/><circle cx="587.0" cy="219.2"/><circle cx="587.1" cy="219.6"/><circle cx="587.2" cy="219.0"/><circle cx="587.2" cy="220.0"/><circle cx="587.3" cy="219.3"/><circle cx="587.4" cy="219.2"/><circle cx="587.4" cy="219.7"/><circle cx="587.5" cy="219.6"/><circle cx="587.6" cy="219.1"/><circle cx="587.7" cy="219.5"/><circle cx="587.7" cy="220.1"/><circle cx="587.8" cy="219.9"/><circle cx="587.9" cy="219.0"/><circle cx="588.0" cy="219.7"/><circle cx="588.0" cy="218.9"/><circle cx="588.1" cy="218.9"/><circle cx="588.2" cy="219.5"/><circle cx="588.3" cy="219.2"/><circle cx="588.3" cy="219.7"/><circle cx="588.4" cy="219.5"/><circle cx="588.5" cy="219.6"/><circle cx="588.5" cy="219.2"/><circle cx="588.6" cy="219.8"/><circle cx="588.7" cy="219.4"/><circle cx="588.8" cy="219.4"/><circle cx="588.8" cy="219.2"/><circle cx="588.9" cy="220.1"/><circle cx="589.0" cy="220.0"/><circle cx="589.1" cy="219.7"/><circle cx="589.1" cy="219.5"/><circle cx="589.2" cy="219.4"/><circle cx="589.3" cy="219.3"/><circle cx="589.4" cy="218.7"/><circle cx="589.4" cy="219.2"/><circle cx="589.5" cy="219.2"/><circle cx="589.6" cy="219.6"/><circle cx="589.6" cy="219.1"/><circle cx="589.7" cy="219.2"/><circle cx="589.8" cy="219.2"/><circle cx="589.9" cy="219.4"/><circle cx="589.9" cy="219.2"/><circle cx="590.0" cy="218.9"/><circle cx="590.1" cy="219.7"/><circle cx="590.2" cy="220.2"/><circle cx="590.2" cy="219.1"/><circle cx="590.3" cy="219.1"/><circle cx="590.4" cy="219.5"/><circle cx="590.5" cy="219.6"/><circle cx="590.5" cy="218.6"/><circle cx="590.6" cy="219.6"/><circle cx="590.7" cy="219.8"/><circle cx="590.7" cy="219.6"/><circle cx="590.8" cy="219.2"/><circle cx="590.9" cy="219.6"/><circle cx="591.0" cy="219.5"/><circle cx="591.0" cy="219.3"/><circle cx="591.1" cy="219.6"/><circle cx="591.2" cy="219.4"/><circle cx="591.3" cy="219.4"/><circle cx="591.3" cy="219.8"/><circle cx="591.4" cy="219.4"/><circle cx="591.5" cy="219.8"/><circle cx="591.5" cy="219.1"/><circle cx="591.6" cy="219.7"/><circle cx="591.7" cy="219.5"/><circle cx="591.8" cy="220.0"/><circle cx="591.8" cy="219.6"/><circle cx="591.9" cy="219.8"/><circle cx="592.0" cy="218.9"/><circle cx="592.1" cy="219.4"/><circle cx="592.1" cy="219.2"/><circle cx="592.2" cy="220.0"/><circle cx="592.3" cy="219.8"/><circle cx="592.4" cy="219.5"/><circle cx="592.4" cy="219.9"/><circle cx="592.5" cy="219.0"/><circle cx="592.6" cy="219.5"/><circle cx="592.6" cy="219.4"/><circle cx="592.7" cy="219.3"/><circle cx="592.8" cy="219.5"/><circle cx="592.9" cy="219.1"/><circle cx="592.9" cy="219.6"/><circle cx="593.0" cy="219.3"/><circle cx="593.1" cy="219.0"/><circle cx="593.2" cy="219.3"/><circle cx="593.2" cy="219.4"/><circle cx="593.3" cy="219.5"/><circle cx="593.4" cy="219.4"/><circle cx="593.5" cy="219.2"/><circle cx="593.5" cy="219.5"/><circle cx="593.6" cy="220.0"/><circle cx="593.7" cy="219.4"/><circle cx="593.7" cy="219.5"/><circle cx="593.8" cy="219.2"/><circle cx="593.9" cy="219.4"/><circle cx="594.0" cy="218.9"/><circle cx="594.0" cy="219.8"/><circle cx="594.1" cy="219.7"/><circle cx="594.2" cy="219.2"/><circle cx="594.3" cy="219.8"/><circle cx="594.3" cy="219.3"/><circle cx="594.4" cy="219.4"/><circle cx="594.5" cy="220.1"/><circle cx="594.6" cy="219.2"/><circle cx="594.6" cy="218.9"/><circle cx="594.7" cy="219.3"/><circle cx="594.8" cy="219.9"/><circle cx="594.8" cy="219.1"/><circle cx="594.9" cy="219.8"/><circle cx="595.0" cy="219.5"/><circle cx="595.1" cy="219.3"/><circle cx="595.1" cy="219.7"/><circle cx="595.2" cy="220.0"/><circle cx="595.3" cy="219.5"/><circle cx="595.4" cy="219.4"/><circle cx="595.4" cy="219.7"/><circle cx="595.5" cy="219.7"/><circle cx="595.6" cy="219.2"/><circle cx="595.7" cy="219.4"/><circle cx="595.7" cy="219.6"/><circle cx="595.8" cy="219.6"/><circle cx="595.9" cy="219.4"/><circle cx="595.9" cy="219.4"/><circle cx="596.0" cy="219.5"/><circle cx="596.1" cy="219.9"/><circle cx="596.2" cy="219.5"/><circle cx="596.2" cy="219.6"/><circle cx="596.3" cy="219.4"/><circle cx="596.4" cy="219.0"/><circle cx="596.5" cy="219.1"/><circle cx="596.5" cy="219.2"/><circle cx="596.6" cy="219.4"/><circle cx="596.7" cy="219.5"/><circle cx="596.8" cy="219.3"/><circle cx="596.8" cy="219.6"/><circle cx="596.9" cy="219.5"/><circle cx="597.0" cy="219.7"/><circle cx="597.0" cy="219.4"/><circle cx="597.1" cy="219.4"/><circle cx="597.2" cy="218.8"/><circle cx="597.3" cy="219.2"/><circle cx="597.3" cy="219.5"/><circle cx="597.4" cy="219.1"/><circle cx="597.5" cy="219.6"/><circle cx="597.6" cy="219.1"/><circle cx="597.6" cy="219.1"/><circle cx="597.7" cy="218.6"/><circle cx="597.8" cy="219.8"/><circle cx="597.9" cy="219.4"/><circle cx="597.9" cy="219.5"/><circle cx="598.0" cy="219.3"/><circle cx="598.1" cy="219.2"/><circle cx="598.1" cy="219.7"/><circle cx="598.2" cy="219.7"/><circle cx="598.3" cy="219.3"/><circle cx="598.4" cy="219.1"/><circle cx="598.4" cy="219.8"/><circle cx="598.5" cy="219.9"/><circle cx="598.6" cy="219.0"/><circle cx="598.7" cy="219.1"/><circle cx="598.7" cy="219.0"/><circle cx="598.8" cy="219.7"/><circle cx="598.9" cy="219.5"/><circle cx="599.0" cy="219.3"/><circle cx="599.0" cy="219.3"/><circle cx="599.1" cy="219.5"/><circle cx="599.2" cy="219.4"/><circle cx="599.2" cy="219.1"/><circle cx="599.3" cy="219.6"/><circle cx="599.4" cy="219.6"/><circle cx="599.5" cy="219.6"/><circle cx="599.5" cy="219.6"/><circle cx="599.6" cy="219.4"/><circle cx="599.7" cy="219.5"/><circle cx="599.8" cy="219.6"/><circle cx="599.8" cy="218.9"/><circle cx="599.9" cy="219.3"/><circle cx="600.0" cy="219.5"/><circle cx="600.0" cy="219.0"/><circle cx="600.1" cy="219.6"/><circle cx="600.2" cy="219.4"/><circle cx="600.3" cy="219.4"/><circle cx="600.3" cy="219.6"/><circle cx="600.4" cy="219.5"/><circle cx="600.5" cy="219.4"/><circle cx="600.6" cy="219.9"/><circle cx="600.6" cy="219.5"/><circle cx="600.7" cy="219.3"/><circle cx="600.8" cy="219.3"/><circle cx="600.9" cy="219.3"/><circle cx="600.9" cy="218.6"/><circle cx="601.0" cy="219.2"/><circle cx="601.1" cy="219.5"/><circle cx="601.1" cy="219.5"/><circle cx="601.2" cy="219.4"/><circle cx="601.3" cy="219.3"/><circle cx="601.4" cy="219.5"/><circle cx="601.4" cy="218.9"/><circle cx="601.5" cy="219.8"/><circle cx="601.6" cy="219.2"/><circle cx="601.7" cy="219.2"/><circle cx="601.7" cy="219.8"/><circle cx="601.8" cy="219.2"/><circle cx="601.9" cy="219.2"/><circle cx="602.0" cy="219.6"/><circle cx="602.0" cy="218.6"/><circle cx="602.1" cy="219.2"/><circle cx="602.2" cy="219.5"/><circle cx="602.2" cy="219.6"/><circle cx="602.3" cy="219.7"/><circle cx="602.4" cy="219.3"/><circle cx="602.5" cy="219.4"/><circle cx="602.5" cy="219.9"/><circle cx="602.6" cy="219.8"/><circle cx="602.7" cy="219.7"/><circle cx="602.8" cy="219.5"/><circle cx="602.8" cy="219.5"/><circle cx="602.9" cy="219.6"/><circle cx="603.0" cy="219.2"/><circle cx="603.1" cy="219.1"/><circle cx="603.1" cy="219.4"/><circle cx="603.2" cy="220.1"/><circle cx="603.3" cy="219.5"/><circle cx="603.3" cy="219.2"/><circle cx="603.4" cy="219.4"/><circle cx="603.5" cy="219.3"/><circle cx="603.6" cy="219.4"/><circle cx="603.6" cy="219.9"/><circle cx="603.7" cy="220.2"/><circle cx="603.8" cy="219.2"/><circle cx="603.9" cy="219.6"/><circle cx="603.9" cy="219.3"/><circle cx="604.0" cy="219.5"/><circle cx="604.1" cy="219.5"/><circle cx="604.2" cy="219.0"/><circle cx="604.2" cy="219.8"/><circle cx="604.3" cy="219.4"/><circle cx="604.4" cy="219.8"/><circle cx="604.4" cy="219.4"/><circle cx="604.5" cy="219.3"/><circle cx="604.6" cy="219.2"/><circle cx="604.7" cy="219.4"/><circle cx="604.7" cy="219.9"/><circle cx="604.8" cy="219.3"/><circle cx="604.9" cy="219.1"/><circle cx="605.0" cy="219.1"/><circle cx="605.0" cy="218.7"/><circle cx="605.1" cy="219.2"/><circle cx="605.2" cy="219.8"/><circle cx="605.3" cy="219.6"/><circle cx="605.3" cy="219.4"/><circle cx="605.4" cy="219.1"/><circle cx="605.5" cy="219.8"/><circle cx="605.5" cy="219.1"/><circle cx="605.6" cy="219.2"/><circle cx="605.7" cy="219.7"/><circle cx="605.8" cy="219.2"/><circle cx="605.8" cy="219.7"/><circle cx="605.9" cy="219.4"/><circle cx="606.0" cy="219.5"/><circle cx="606.1" cy="219.3"/><circle cx="606.1" cy="219.8"/><circle cx="606.2" cy="219.2"/><circle cx="606.3" cy="220.1"/><circle cx="606.4" cy="219.5"/><circle cx="606.4" cy="219.6"/><circle cx="606.5" cy="218.9"/><circle cx="606.6" cy="219.2"/><circle cx="606.6" cy="219.6"/><circle cx="606.7" cy="219.7"/><circle cx="606.8" cy="219.4"/><circle cx="606.9" cy="219.6"/><circle cx="606.9" cy="218.7"/><circle cx="607.0" cy="220.2"/><circle cx="607.1" cy="219.4"/><circle cx="607.2" cy="220.2"/><circle cx="607.2" cy="219.1"/><circle cx="607.3" cy="219.7"/><circle cx="607.4" cy="218.9"/><circle cx="607.5" cy="219.6"/><circle cx="607.5" cy="219.1"/><circle cx="607.6" cy="219.3"/><circle cx="607.7" cy="219.0"/><circle cx="607.7" cy="219.4"/><circle cx="607.8" cy="220.2"/><circle cx="607.9" cy="219.7"/><circle cx="608.0" cy="219.9"/><circle cx="608.0" cy="219.1"/><circle cx="608.1" cy="219.2"/><circle cx="608.2" cy="219.4"/><circle cx="608.3" cy="219.3"/><circle cx="608.3" cy="219.3"/><circle cx="608.4" cy="219.6"/><circle cx="608.5" cy="218.8"/><circle cx="608.5" cy="219.3"/><circle cx="608.6" cy="219.5"/><circle cx="608.7" cy="219.9"/><circle cx="608.8" cy="219.6"/><circle cx="608.8" cy="219.4"/><circle cx="608.9" cy="219.5"/><circle cx="609.0" cy="219.6"/><circle cx="609.1" cy="219.4"/><circle cx="609.1" cy="219.8"/><circle cx="609.2" cy="219.4"/><circle cx="609.3" cy="219.9"/><circle cx="609.4" cy="219.7"/><circle cx="609.4" cy="219.7"/><circle cx="609.5" cy="219.1"/><circle cx="609.6" cy="219.2"/><circle cx="609.6" cy="219.4"/><circle cx="609.7" cy="219.8"/><circle cx="609.8" cy="219.5"/><circle cx="609.9" cy="219.1"/><circle cx="609.9" cy="219.0"/><circle cx="610.0" cy="219.9"/><circle cx="610.1" cy="219.6"/><circle cx="610.2" cy="219.4"/><circle cx="610.2" cy="219.3"/><circle cx="610.3" cy="219.4"/><circle cx="610.4" cy="219.2"/><circle cx="610.5" cy="219.9"/><circle cx="610.5" cy="218.9"/><circle cx="610.6" cy="219.8"/><circle cx="610.7" cy="219.4"/><circle cx="610.7" cy="219.2"/><circle cx="610.8" cy="219.0"/><circle cx="610.9" cy="219.1"/><circle cx="611.0" cy="219.1"/><circle cx="611.0" cy="219.0"/><circle cx="611.1" cy="219.5"/><circle cx="611.2" cy="219.2"/><circle cx="611.3" cy="218.9"/><circle cx="611.3" cy="219.7"/><circle cx="611.4" cy="219.9"/><circle cx="611.5" cy="219.7"/><circle cx="611.6" cy="218.9"/><circle cx="611.6" cy="219.0"/><circle cx="611.7" cy="219.5"/><circle cx="611.8" cy="219.3"/><circle cx="611.8" cy="219.2"/><circle cx="611.9" cy="219.1"/><circle cx="612.0" cy="220.0"/><circle cx="612.1" cy="219.6"/><circle cx="612.1" cy="219.5"/><circle cx="612.2" cy="219.3"/><circle cx="612.3" cy="219.4"/><circle cx="612.4" cy="219.5"/><circle cx="612.4" cy="219.3"/><circle cx="612.5" cy="220.2"/><circle cx="612.6" cy="218.6"/><circle cx="612.7" cy="219.1"/><circle cx="612.7" cy="219.1"/><circle cx="612.8" cy="219.6"/><circle cx="612.9" cy="219.3"/><circle cx="612.9" cy="218.7"/><circle cx="613.0" cy="218.8"/><circle cx="613.1" cy="219.4"/><circle cx="613.2" cy="219.8"/><circle cx="613.2" cy="219.4"/><circle cx="613.3" cy="219.5"/><circle cx="613.4" cy="219.1"/><circle cx="613.5" cy="219.8"/><circle cx="613.5" cy="219.5"/><circle cx="613.6" cy="219.3"/><circle cx="613.7" cy="219.6"/><circle cx="613.8" cy="219.1"/><circle cx="613.8" cy="219.8"/><circle cx="613.9" cy="219.8"/><circle cx="614.0" cy="219.5"/><circle cx="614.0" cy="219.1"/><circle cx="614.1" cy="219.5"/><circle cx="614.2" cy="219.6"/><circle cx="614.3" cy="219.1"/><circle cx="614.3" cy="219.3"/><circle cx="614.4" cy="219.6"/><circle cx="614.5" cy="219.4"/><circle cx="614.6" cy="219.5"/><circle cx="614.6" cy="219.2"/><circle cx="614.7" cy="219.4"/><circle cx="614.8" cy="219.7"/><circle cx="614.9" cy="219.6"/><circle cx="614.9" cy="219.5"/><circle cx="615.0" cy="219.3"/><circle cx="615.1" cy="219.3"/><circle cx="615.1" cy="219.7"/><circle cx="615.2" cy="219.5"/><circle cx="615.3" cy="219.3"/><circle cx="615.4" cy="219.0"/><circle cx="615.4" cy="219.3"/><circle cx="615.5" cy="218.7"/><circle cx="615.6" cy="219.4"/><circle cx="615.7" cy="219.2"/><circle cx="615.7" cy="219.5"/><circle cx="615.8" cy="219.7"/><circle cx="615.9" cy="219.4"/><circle cx="616.0" cy="219.2"/><circle cx="616.0" cy="219.3"/><circle cx="616.1" cy="219.4"/><circle cx="616.2" cy="219.5"/><circle cx="616.2" cy="219.7"/><circle cx="616.3" cy="219.5"/><circle cx="616.4" cy="219.2"/><circle cx="616.5" cy="219.1"/><circle cx="616.5" cy="220.2"/><circle cx="616.6" cy="219.2"/><circle cx="616.7" cy="219.0"/><circle cx="616.8" cy="219.0"/><circle cx="616.8" cy="219.3"/><circle cx="616.9" cy="219.2"/><circle cx="617.0" cy="219.6"/><circle cx="617.1" cy="219.4"/><circle cx="617.1" cy="219.2"/><circle cx="617.2" cy="219.8"/><circle cx="617.3" cy="219.7"/><circle cx="617.3" cy="219.3"/><circle cx="617.4" cy="219.9"/><circle cx="617.5" cy="219.4"/><circle cx="617.6" cy="219.9"/><circle cx="617.6" cy="219.3"/><circle cx="617.7" cy="219.4"/><circle cx="617.8" cy="219.6"/><circle cx="617.9" cy="219.7"/><circle cx="617.9" cy="219.6"/><circle cx="618.0" cy="220.2"/><circle cx="618.1" cy="219.5"/><circle cx="618.1" cy="219.4"/><circle cx="618.2" cy="219.0"/><circle cx="618.3" cy="219.6"/><circle cx="618.4" cy="219.5"/><circle cx="618.4" cy="218.9"/><circle cx="618.5" cy="218.8"/><circle cx="618.6" cy="219.6"/><circle cx="618.7" cy="219.1"/><circle cx="618.7" cy="219.0"/><circle cx="618.8" cy="219.2"/><circle cx="618.9" cy="219.7"/><circle cx="619.0" cy="219.7"/><circle cx="619.0" cy="219.2"/><circle cx="619.1" cy="218.6"/><circle cx="619.2" cy="219.5"/><circle cx="619.2" cy="218.9"/><circle cx="619.3" cy="218.8"/><circle cx="619.4" cy="219.8"/><circle cx="619.5" cy="219.6"/><circle cx="619.5" cy="218.9"/><circle cx="619.6" cy="219.1"/><circle cx="619.7" cy="219.2"/><circle cx="619.8" cy="219.4"/><circle cx="619.8" cy="219.2"/><circle cx="619.9" cy="219.6"/><circle cx="620.0" cy="218.6"/><circle cx="620.1" cy="219.8"/><circle cx="620.1" cy="220.0"/><circle cx="620.2" cy="219.4"/><circle cx="620.3" cy="218.9"/><circle cx="620.3" cy="219.6"/><circle cx="620.4" cy="219.4"/><circle cx="620.5" cy="219.8"/><circle cx="620.6" cy="219.4"/><circle cx="620.6" cy="219.7"/><circle cx="620.7" cy="219.7"/><circle cx="620.8" cy="219.9"/><circle cx="620.9" cy="219.6"/><circle cx="620.9" cy="218.8"/><circle cx="621.0" cy="219.4"/><circle cx="621.1" cy="219.3"/><circle cx="621.2" cy="218.7"/><circle cx="621.2" cy="219.6"/><circle cx="621.3" cy="219.7"/><circle cx="621.4" cy="219.2"/><circle cx="621.4" cy="219.8"/><circle cx="621.5" cy="219.3"/><circle cx="621.6" cy="219.0"/><circle cx="621.7" cy="219.8"/><circle cx="621.7" cy="219.6"/><circle cx="621.8" cy="218.8"/><circle cx="621.9" cy="219.8"/><circle cx="622.0" cy="219.6"/><circle cx="622.0" cy="219.3"/><circle cx="622.1" cy="219.5"/><circle cx="622.2" cy="219.7"/><circle cx="622.3" cy="218.9"/><circle cx="622.3" cy="219.6"/><circle cx="622.4" cy="219.3"/><circle cx="622.5" cy="219.5"/><circle cx="622.5" cy="219.5"/><circle cx="622.6" cy="219.9"/><circle cx="622.7" cy="219.1"/><circle cx="622.8" cy="219.6"/><circle cx="622.8" cy="219.0"/><circle cx="622.9" cy="219.8"/><circle cx="623.0" cy="219.6"/><circle cx="623.1" cy="219.2"/><circle cx="623.1" cy="219.4"/><circle cx="623.2" cy="219.6"/><circle cx="623.3" cy="219.5"/><circle cx="623.4" cy="219.8"/><circle cx="623.4" cy="219.4"/><circle cx="623.5" cy="220.2"/><circle cx="623.6" cy="219.3"/><circle cx="623.6" cy="218.9"/><circle cx="623.7" cy="219.1"/><circle cx="623.8" cy="219.1"/><circle cx="623.9" cy="219.5"/><circle cx="623.9" cy="219.2"/><circle cx="624.0" cy="219.5"/><circle cx="624.1" cy="219.4"/><circle cx="624.2" cy="219.4"/><circle cx="624.2" cy="220.2"/><circle cx="624.3" cy="219.1"/><circle cx="624.4" cy="219.3"/><circle cx="624.5" cy="219.1"/><circle cx="624.5" cy="219.7"/><circle cx="624.6" cy="219.2"/><circle cx="624.7" cy="219.2"/><circle cx="624.7" cy="220.2"/><circle cx="624.8" cy="220.0"/><circle cx="624.9" cy="219.4"/><circle cx="625.0" cy="219.6"/><circle cx="625.0" cy="219.4"/><circle cx="625.1" cy="219.6"/><circle cx="625.2" cy="218.9"/><circle cx="625.3" cy="220.1"/><circle cx="625.3" cy="219.9"/><circle cx="625.4" cy="219.7"/><circle cx="625.5" cy="219.9"/><circle cx="625.6" cy="219.6"/><circle cx="625.6" cy="219.4"/><circle cx="625.7" cy="219.9"/><circle cx="625.8" cy="219.3"/><circle cx="625.8" cy="219.0"/><circle cx="625.9" cy="219.0"/><circle cx="626.0" cy="218.7"/><circle cx="626.1" cy="219.0"/><circle cx="626.1" cy="219.4"/><circle cx="626.2" cy="218.8"/><circle cx="626.3" cy="219.2"/><circle cx="626.4" cy="218.8"/><circle cx="626.4" cy="219.5"/><circle cx="626.5" cy="220.1"/><circle cx="626.6" cy="219.8"/><circle cx="626.6" cy="219.3"/><circle cx="626.7" cy="219.2"/><circle cx="626.8" cy="219.5"/><circle cx="626.9" cy="219.1"/><circle cx="626.9" cy="219.8"/><circle cx="627.0" cy="219.6"/><circle cx="627.1" cy="219.1"/><circle cx="627.2" cy="219.4"/><circle cx="627.2" cy="219.4"/><circle cx="627.3" cy="218.9"/><circle cx="627.4" cy="219.0"/><circle cx="627.5" cy="219.7"/><circle cx="627.5" cy="219.3"/><circle cx="627.6" cy="220.0"/><circle cx="627.7" cy="219.4"/><circle cx="627.7" cy="219.3"/><circle cx="627.8" cy="220.0"/><circle cx="627.9" cy="218.9"/><circle cx="628.0" cy="218.7"/><circle cx="628.0" cy="219.2"/><circle cx="628.1" cy="219.1"/><circle cx="628.2" cy="218.9"/><circle cx="628.3" cy="219.5"/><circle cx="628.3" cy="219.0"/><circle cx="628.4" cy="219.3"/><circle cx="628.5" cy="219.9"/><circle cx="628.6" cy="219.7"/><circle cx="628.6" cy="219.6"/><circle cx="628.7" cy="219.0"/><circle cx="628.8" cy="219.4"/><circle cx="628.8" cy="219.1"/><circle cx="628.9" cy="219.6"/><circle cx="629.0" cy="219.8"/><circle cx="629.1" cy="218.7"/><circle cx="629.1" cy="218.6"/><circle cx="629.2" cy="219.3"/><circle cx="629.3" cy="219.5"/><circle cx="629.4" cy="219.0"/><circle cx="629.4" cy="219.8"/><circle cx="629.5" cy="219.5"/><circle cx="629.6" cy="219.9"/><circle cx="629.7" cy="219.2"/><circle cx="629.7" cy="219.3"/><circle cx="629.8" cy="219.5"/><circle cx="629.9" cy="219.6"/><circle cx="629.9" cy="219.9"/><circle cx="630.0" cy="219.7"/><circle cx="630.1" cy="219.0"/><circle cx="630.2" cy="219.5"/><circle cx="630.2" cy="219.0"/><circle cx="630.3" cy="219.7"/><circle cx="630.4" cy="219.4"/><circle cx="630.5" cy="219.6"/><circle cx="630.5" cy="219.5"/><circle cx="630.6" cy="219.1"/><circle cx="630.7" cy="220.1"/><circle cx="630.8" cy="219.1"/><circle cx="630.8" cy="219.2"/><circle cx="630.9" cy="219.4"/><circle cx="631.0" cy="219.4"/><circle cx="631.0" cy="219.5"/><circle cx="631.1" cy="219.2"/><circle cx="631.2" cy="219.4"/><circle cx="631.3" cy="219.7"/><circle cx="631.3" cy="219.3"/><circle cx="631.4" cy="219.1"/><circle cx="631.5" cy="219.3"/><circle cx="631.6" cy="219.4"/><circle cx="631.6" cy="219.3"/><circle cx="631.7" cy="219.6"/><circle cx="631.8" cy="219.6"/><circle cx="631.9" cy="220.0"/><circle cx="631.9" cy="219.5"/><circle cx="632.0" cy="219.1"/><circle cx="632.1" cy="219.5"/><circle cx="632.1" cy="219.7"/><circle cx="632.2" cy="219.1"/><circle cx="632.3" cy="219.3"/><circle cx="632.4" cy="219.4"/><circle cx="632.4" cy="219.2"/><circle cx="632.5" cy="219.2"/><circle cx="632.6" cy="219.4"/><circle cx="632.7" cy="219.7"/><circle cx="632.7" cy="218.8"/><circle cx="632.8" cy="219.4"/><circle cx="632.9" cy="219.7"/><circle cx="633.0" cy="219.3"/><circle cx="633.0" cy="219.0"/><circle cx="633.1" cy="219.9"/><circle cx="633.2" cy="219.0"/><circle cx="633.2" cy="219.4"/><circle cx="633.3" cy="218.7"/><circle cx="633.4" cy="219.2"/><circle cx="633.5" cy="219.4"/><circle cx="633.5" cy="219.0"/><circle cx="633.6" cy="219.0"/><circle cx="633.7" cy="219.5"/><circle cx="633.8" cy="219.3"/><circle cx="633.8" cy="219.6"/><circle cx="633.9" cy="219.1"/><circle cx="634.0" cy="219.9"/><circle cx="634.1" cy="219.5"/><circle cx="634.1" cy="220.1"/><circle cx="634.2" cy="219.2"/><circle cx="634.3" cy="220.1"/><circle cx="634.3" cy="219.8"/><circle cx="634.4" cy="219.3"/><circle cx="634.5" cy="219.5"/><circle cx="634.6" cy="219.5"/><circle cx="634.6" cy="219.7"/><circle cx="634.7" cy="219.6"/><circle cx="634.8" cy="220.0"/><circle cx="634.9" cy="219.3"/><circle cx="634.9" cy="219.1"/><circle cx="635.0" cy="219.1"/><circle cx="635.1" cy="219.4"/><circle cx="635.1" cy="219.0"/><circle cx="635.2" cy="219.2"/><circle cx="635.3" cy="219.1"/><circle cx="635.4" cy="219.3"/><circle cx="635.4" cy="219.4"/><circle cx="635.5" cy="219.7"/><circle cx="635.6" cy="220.2"/><circle cx="635.7" cy="219.2"/><circle cx="635.7" cy="219.4"/><circle cx="635.8" cy="218.7"/><circle cx="635.9" cy="220.1"/><circle cx="636.0" cy="219.1"/><circle cx="636.0" cy="219.7"/><circle cx="636.1" cy="219.4"/><circle cx="636.2" cy="219.7"/><circle cx="636.2" cy="219.3"/><circle cx="636.3" cy="219.4"/><circle cx="636.4" cy="219.1"/><circle cx="636.5" cy="219.3"/><circle cx="636.5" cy="219.2"/><circle cx="636.6" cy="219.0"/><circle cx="636.7" cy="219.2"/><circle cx="636.8" cy="219.4"/><circle cx="636.8" cy="219.0"/><circle cx="636.9" cy="219.4"/><circle cx="637.0" cy="219.3"/><circle cx="637.1" cy="219.5"/><circle cx="637.1" cy="219.6"/><circle cx="637.2" cy="220.2"/><circle cx="637.3" cy="219.2"/><circle cx="637.3" cy="219.8"/><circle cx="637.4" cy="219.2"/><circle cx="637.5" cy="218.8"/><circle cx="637.6" cy="219.8"/><circle cx="637.6" cy="219.1"/><circle cx="637.7" cy="219.4"/><circle cx="637.8" cy="219.2"/><circle cx="637.9" cy="219.8"/><circle cx="637.9" cy="219.4"/><circle cx="638.0" cy="219.3"/><circle cx="638.1" cy="218.9"/><circle cx="638.2" cy="218.7"/><circle cx="638.2" cy="219.3"/><circle cx="638.3" cy="219.5"/><circle cx="638.4" cy="218.7"/><circle cx="638.4" cy="219.4"/><circle cx="638.5" cy="219.4"/><circle cx="638.6" cy="219.4"/><circle cx="638.7" cy="219.2"/><circle cx="638.7" cy="219.2"/><circle cx="638.8" cy="219.6"/><circle cx="638.9" cy="219.4"/><circle cx="639.0" cy="218.8"/><circle cx="639.0" cy="218.9"/><circle cx="639.1" cy="219.2"/><circle cx="639.2" cy="219.3"/><circle cx="639.3" cy="219.5"/><circle cx="639.3" cy="219.1"/><circle cx="639.4" cy="219.6"/><circle cx="639.5" cy="219.4"/><circle cx="639.5" cy="219.5"/><circle cx="639.6" cy="219.6"/><circle cx="639.7" cy="219.4"/><circle cx="639.8" cy="219.4"/><circle cx="639.8" cy="219.6"/><circle cx="639.9" cy="219.4"/><circle cx="640.0" cy="219.4"/><circle cx="640.1" cy="219.6"/><circle cx="640.1" cy="219.6"/><circle cx="640.2" cy="219.4"/><circle cx="640.3" cy="219.2"/><circle cx="640.4" cy="219.0"/><circle cx="640.4" cy="219.3"/><circle cx="640.5" cy="219.5"/><circle cx="640.6" cy="219.4"/><circle cx="640.6" cy="218.8"/><circle cx="640.7" cy="219.1"/><circle cx="640.8" cy="219.7"/><circle cx="640.9" cy="219.4"/><circle cx="640.9" cy="219.6"/><circle cx="641.0" cy="219.5"/><circle cx="641.1" cy="220.0"/><circle cx="641.2" cy="219.4"/><circle cx="641.2" cy="219.8"/><circle cx="641.3" cy="219.6"/><circle cx="641.4" cy="218.9"/><circle cx="641.5" cy="219.1"/><circle cx="641.5" cy="219.7"/><circle cx="641.6" cy="219.7"/><circle cx="641.7" cy="219.7"/><circle cx="641.7" cy="220.0"/><circle cx="641.8" cy="219.7"/><circle cx="641.9" cy="219.5"/><circle cx="642.0" cy="219.7"/><circle cx="642.0" cy="219.1"/><circle cx="642.1" cy="219.4"/><circle cx="642.2" cy="219.6"/><circle cx="642.3" cy="218.8"/><circle cx="642.3" cy="219.2"/><circle cx="642.4" cy="219.4"/><circle cx="642.5" cy="218.8"/><circle cx="642.6" cy="219.0"/><circle cx="642.6" cy="219.6"/><circle cx="642.7" cy="219.3"/><circle cx="642.8" cy="219.5"/><circle cx="642.8" cy="219.9"/><circle cx="642.9" cy="218.8"/><circle cx="643.0" cy="218.9"/><circle cx="643.1" cy="219.8"/><circle cx="643.1" cy="219.2"/><circle cx="643.2" cy="219.9"/><circle cx="643.3" cy="219.0"/><circle cx="643.4" cy="219.4"/><circle cx="643.4" cy="219.5"/><circle cx="643.5" cy="219.0"/><circle cx="643.6" cy="219.4"/><circle cx="643.7" cy="219.5"/><circle cx="643.7" cy="219.1"/><circle cx="643.8" cy="219.5"/><circle cx="643.9" cy="219.1"/><circle cx="643.9" cy="219.4"/><circle cx="644.0" cy="219.1"/><circle cx="644.1" cy="219.2"/><circle cx="644.2" cy="219.1"/><circle cx="644.2" cy="219.7"/><circle cx="644.3" cy="218.8"/><circle cx="644.4" cy="219.4"/><circle cx="644.5" cy="218.8"/><circle cx="644.5" cy="219.6"/><circle cx="644.6" cy="219.5"/><circle cx="644.7" cy="219.5"/><circle cx="644.7" cy="219.0"/><circle cx="644.8" cy="219.5"/><circle cx="644.9" cy="219.3"/><circle cx="645.0" cy="219.9"/><circle cx="645.0" cy="219.6"/><circle cx="645.1" cy="219.3"/><circle cx="645.2" cy="219.4"/><circle cx="645.3" cy="220.0"/><circle cx="645.3" cy="219.2"/><circle cx="645.4" cy="219.7"/><circle cx="645.5" cy="218.7"/><circle cx="645.6" cy="219.5"/><circle cx="645.6" cy="218.6"/><circle cx="645.7" cy="219.2"/><circle cx="645.8" cy="219.2"/><circle cx="645.8" cy="219.6"/><circle cx="645.9" cy="219.4"/><circle cx="646.0" cy="219.2"/><circle cx="646.1" cy="220.1"/><circle cx="646.1" cy="219.1"/><circle cx="646.2" cy="219.8"/><circle cx="646.3" cy="219.5"/><circle cx="646.4" cy="220.2"/><circle cx="646.4" cy="219.2"/><circle cx="646.5" cy="219.1"/><circle cx="646.6" cy="219.3"/><circle cx="646.7" cy="219.3"/><circle cx="646.7" cy="219.5"/><circle cx="646.8" cy="219.3"/><circle cx="646.9" cy="219.0"/><circle cx="646.9" cy="219.5"/><circle cx="647.0" cy="219.2"/><circle cx="647.1" cy="219.1"/><circle cx="647.2" cy="219.5"/><circle cx="647.2" cy="219.3"/><circle cx="647.3" cy="219.3"/><circle cx="647.4" cy="219.6"/><circle cx="647.5" cy="218.6"/><circle cx="647.5" cy="219.5"/><circle cx="647.6" cy="218.8"/><circle cx="647.7" cy="219.0"/><circle cx="647.8" cy="220.1"/><circle cx="647.8" cy="219.3"/><circle cx="647.9" cy="219.0"/><circle cx="648.0" cy="219.1"/><circle cx="648.0" cy="219.7"/><circle cx="648.1" cy="219.3"/><circle cx="648.2" cy="219.8"/><circle cx="648.3" cy="219.7"/><circle cx="648.3" cy="219.5"/><circle cx="648.4" cy="219.3"/><circle cx="648.5" cy="218.8"/><circle cx="648.6" cy="219.3"/><circle cx="648.6" cy="219.0"/><circle cx="648.7" cy="219.8"/><circle cx="648.8" cy="219.8"/><circle cx="648.9" cy="219.6"/><circle cx="648.9" cy="218.8"/><circle cx="649.0" cy="219.8"/><circle cx="649.1" cy="219.9"/><circle cx="649.1" cy="219.4"/><circle cx="649.2" cy="219.0"/><circle cx="649.3" cy="219.9"/><circle cx="649.4" cy="219.5"/><circle cx="649.4" cy="219.9"/><circle cx="649.5" cy="218.9"/><circle cx="649.6" cy="219.2"/><circle cx="649.7" cy="219.3"/><circle cx="649.7" cy="219.4"/><circle cx="649.8" cy="219.5"/><circle cx="649.9" cy="219.3"/><circle cx="650.0" cy="219.6"/><circle cx="650.0" cy="219.7"/><circle cx="650.1" cy="219.8"/><circle cx="650.2" cy="219.4"/><circle cx="650.2" cy="219.7"/><circle cx="650.3" cy="219.1"/><circle cx="650.4" cy="220.1"/><circle cx="650.5" cy="219.2"/><circle cx="650.5" cy="219.2"/><circle cx="650.6" cy="219.0"/><circle cx="650.7" cy="219.5"/><circle cx="650.8" cy="219.9"/><circle cx="650.8" cy="219.7"/><circle cx="650.9" cy="219.0"/><circle cx="651.0" cy="219.5"/><circle cx="651.1" cy="219.5"/><circle cx="651.1" cy="219.6"/><circle cx="651.2" cy="219.4"/><circle cx="651.3" cy="219.5"/><circle cx="651.3" cy="219.9"/><circle cx="651.4" cy="219.6"/><circle cx="651.5" cy="219.1"/><circle cx="651.6" cy="218.9"/><circle cx="651.6" cy="219.4"/><circle cx="651.7" cy="219.6"/><circle cx="651.8" cy="218.9"/><circle cx="651.9" cy="219.5"/><circle cx="651.9" cy="219.8"/><circle cx="652.0" cy="219.4"/><circle cx="652.1" cy="219.2"/><circle cx="652.2" cy="218.9"/><circle cx="652.2" cy="219.6"/><circle cx="652.3" cy="219.2"/><circle cx="652.4" cy="219.5"/><circle cx="652.4" cy="219.0"/><circle cx="652.5" cy="219.3"/><circle cx="652.6" cy="219.3"/><circle cx="652.7" cy="219.7"/><circle cx="652.7" cy="219.5"/><circle cx="652.8" cy="219.5"/><circle cx="652.9" cy="220.2"/><circle cx="653.0" cy="219.1"/><circle cx="653.0" cy="219.4"/><circle cx="653.1" cy="219.5"/><circle cx="653.2" cy="219.5"/><circle cx="653.2" cy="219.4"/><circle cx="653.3" cy="219.3"/><circle cx="653.4" cy="219.8"/><circle cx="653.5" cy="219.4"/><circle cx="653.5" cy="219.4"/><circle cx="653.6" cy="219.4"/><circle cx="653.7" cy="219.9"/><circle cx="653.8" cy="219.4"/><circle cx="653.8" cy="219.8"/><circle cx="653.9" cy="219.3"/><circle cx="654.0" cy="218.9"/><circle cx="654.1" cy="219.1"/><circle cx="654.1" cy="219.5"/><circle cx="654.2" cy="219.6"/><circle cx="654.3" cy="219.6"/><circle cx="654.3" cy="219.3"/><circle cx="654.4" cy="219.6"/><circle cx="654.5" cy="219.6"/><circle cx="654.6" cy="220.2"/><circle cx="654.6" cy="219.7"/><circle cx="654.7" cy="219.7"/><circle cx="654.8" cy="219.6"/><circle cx="654.9" cy="219.0"/><circle cx="654.9" cy="219.9"/><circle cx="655.0" cy="219.9"/><circle cx="655.1" cy="219.2"/><circle cx="655.2" cy="219.7"/><circle cx="655.2" cy="219.5"/><circle cx="655.3" cy="219.3"/><circle cx="655.4" cy="219.4"/><circle cx="655.4" cy="219.7"/><circle cx="655.5" cy="219.1"/><circle cx="655.6" cy="218.9"/><circle cx="655.7" cy="219.7"/><circle cx="655.7" cy="219.5"/><circle cx="655.8" cy="219.1"/><circle cx="655.9" cy="219.5"/><circle cx="656.0" cy="219.7"/><circle cx="656.0" cy="219.5"/><circle cx="656.1" cy="219.1"/><circle cx="656.2" cy="219.7"/><circle cx="656.3" cy="219.3"/><circle cx="656.3" cy="219.3"/><circle cx="656.4" cy="219.6"/><circle cx="656.5" cy="219.2"/><circle cx="656.5" cy="219.2"/><circle cx="656.6" cy="219.1"/><circle cx="656.7" cy="219.1"/><circle cx="656.8" cy="219.9"/><circle cx="656.8" cy="219.1"/><circle cx="656.9" cy="219.2"/><circle cx="657.0" cy="219.1"/><circle cx="657.1" cy="219.7"/><circle cx="657.1" cy="219.1"/><circle cx="657.2" cy="219.3"/><circle cx="657.3" cy="219.8"/><circle cx="657.4" cy="219.0"/><circle cx="657.4" cy="219.7"/><circle cx="657.5" cy="219.7"/><circle cx="657.6" cy="219.3"/><circle cx="657.6" cy="219.6"/><circle cx="657.7" cy="219.3"/><circle cx="657.8" cy="219.5"/><circle cx="657.9" cy="219.3"/><circle cx="657.9" cy="219.1"/><circle cx="658.0" cy="219.4"/><circle cx="658.1" cy="219.1"/><circle cx="658.2" cy="219.1"/><circle cx="658.2" cy="219.7"/><circle cx="658.3" cy="219.1"/><circle cx="658.4" cy="219.2"/><circle cx="658.5" cy="219.4"/><circle cx="658.5" cy="219.0"/><circle cx="658.6" cy="218.8"/><circle cx="658.7" cy="219.1"/><circle cx="658.7" cy="219.9"/><circle cx="658.8" cy="219.2"/><circle cx="658.9" cy="219.4"/><circle cx="659.0" cy="219.5"/><circle cx="659.0" cy="219.3"/><circle cx="659.1" cy="219.5"/><circle cx="659.2" cy="218.8"/><circle cx="659.3" cy="219.3"/><circle cx="659.3" cy="219.4"/><circle cx="659.4" cy="219.1"/><circle cx="659.5" cy="219.1"/><circle cx="659.6" cy="219.0"/><circle cx="659.6" cy="219.2"/><circle cx="659.7" cy="219.4"/><circle cx="659.8" cy="219.3"/><circle cx="659.8" cy="220.1"/><circle cx="659.9" cy="219.9"/><circle cx="660.0" cy="219.0"/><circle cx="660.1" cy="219.5"/><circle cx="660.1" cy="218.8"/><circle cx="660.2" cy="218.8"/><circle cx="660.3" cy="219.8"/><circle cx="660.4" cy="219.3"/><circle cx="660.4" cy="218.6"/><circle cx="660.5" cy="219.7"/><circle cx="660.6" cy="219.3"/><circle cx="660.7" cy="219.5"/><circle cx="660.7" cy="219.5"/><circle cx="660.8" cy="219.5"/><circle cx="660.9" cy="219.4"/><circle cx="660.9" cy="219.1"/><circle cx="661.0" cy="219.7"/><circle cx="661.1" cy="219.2"/><circle cx="661.2" cy="219.6"/><circle cx="661.2" cy="219.2"/><circle cx="661.3" cy="219.3"/><circle cx="661.4" cy="219.7"/><circle cx="661.5" cy="219.3"/><circle cx="661.5" cy="219.6"/><circle cx="661.6" cy="219.7"/><circle cx="661.7" cy="219.0"/><circle cx="661.7" cy="220.0"/><circle cx="661.8" cy="219.2"/><circle cx="661.9" cy="219.2"/><circle cx="662.0" cy="219.6"/><circle cx="662.0" cy="219.0"/><circle cx="662.1" cy="219.1"/><circle cx="662.2" cy="219.8"/><circle cx="662.3" cy="219.2"/><circle cx="662.3" cy="219.2"/><circle cx="662.4" cy="219.6"/><circle cx="662.5" cy="219.2"/><circle cx="662.6" cy="219.1"/><circle cx="662.6" cy="219.6"/><circle cx="662.7" cy="220.1"/><circle cx="662.8" cy="219.3"/><circle cx="662.8" cy="219.6"/><circle cx="662.9" cy="220.0"/><circle cx="663.0" cy="219.5"/><circle cx="663.1" cy="220.2"/><circle cx="663.1" cy="219.5"/><circle cx="663.2" cy="218.9"/><circle cx="663.3" cy="220.2"/><circle cx="663.4" cy="219.2"/><circle cx="663.4" cy="219.7"/><circle cx="663.5" cy="219.5"/><circle cx="663.6" cy="219.7"/><circle cx="663.7" cy="219.2"/><circle cx="663.7" cy="219.4"/><circle cx="663.8" cy="219.7"/><circle cx="663.9" cy="219.8"/><circle cx="663.9" cy="219.5"/><circle cx="664.0" cy="219.0"/><circle cx="664.1" cy="219.8"/><circle cx="664.2" cy="219.3"/><circle cx="664.2" cy="219.3"/><circle cx="664.3" cy="220.1"/><circle cx="664.4" cy="219.0"/><circle cx="664.5" cy="219.4"/><circle cx="664.5" cy="218.6"/><circle cx="664.6" cy="218.8"/><circle cx="664.7" cy="219.5"/><circle cx="664.8" cy="219.4"/><circle cx="664.8" cy="219.7"/><circle cx="664.9" cy="219.9"/><circle cx="665.0" cy="219.1"/><circle cx="665.0" cy="219.5"/><circle cx="665.1" cy="219.5"/><circle cx="665.2" cy="219.5"/><circle cx="665.3" cy="219.2"/><circle cx="665.3" cy="219.1"/><circle cx="665.4" cy="219.4"/><circle cx="665.5" cy="219.5"/><circle cx="665.6" cy="219.4"/><circle cx="665.6" cy="218.7"/><circle cx="665.7" cy="220.1"/><circle cx="665.8" cy="219.8"/><circle cx="665.9" cy="219.2"/><circle cx="665.9" cy="219.3"/><circle cx="666.0" cy="219.0"/></g>
<polygon points="409.6,219.4 409.9,219.4 410.2,219.4 410.6,219.4 410.9,219.4 411.2,219.4 411.5,219.4 411.8,219.4 412.2,219.4 412.5,219.4 412.8,219.4 413.1,219.4 413.4,219.4 413.8,219.4 414.1,219.4 414.4,219.4 414.7,219.4 415.0,219.4 415.4,219.4 415.7,219.4 416.0,219.4 416.3,219.4 416.7,219.4 417.0,219.4 417.3,219.4 417.6,219.4 417.9,219.4 418.3,219.4 418.6,219.4 418.9,219.4 419.2,219.4 419.5,219.4 419.9,219.4 420.2,219.4 420.5,219.4 420.8,219.4 421.1,219.4 421.5,219.4 421.8,219.4 422.1,219.4 422.4,219.4 422.7,219.4 423.1,219.4 423.4,219.4 423.7,219.4 424.0,219.4 424.3,219.4 424.7,219.4 425.0,219.4 425.3,219.4 425.6,219.4 425.9,219.4 426.3,219.4 426.6,219.4 426.9,219.4 427.2,219.4 427.5,219.4 427.9,219.4 428.2,219.4 428.5,219.4 428.8,219.4 429.2,219.4 429.5,219.4 429.8,219.4 430.1,219.4 430.4,219.4 430.8,219.4 431.1,219.4 431.4,219.4 431.7,219.4 432.0,219.4 432.4,219.4 432.7,219.4 433.0,219.4 433.3,219.4 433.6,219.4 434.0,219.4 434.3,219.4 434.6,219.4 434.9,219.4 435.2,219.4 435.6,219.4 435.9,219.4 436.2,219.4 436.5,219.4 436.8,219.4 437.2,219.4 437.5,219.4 437.8,219.4 438.1,219.4 438.4,219.4 438.8,219.4 439.1,219.4 439.4,219.4 439.7,219.4 440.0,219.4 440.4,219.4 440.7,219.4 441.0,219.4 441.3,219.4 441.6,219.4 442.0,219.4 442.3,219.4 442.6,219.4 442.9,219.4 443.3,219.4 443.6,219.4 443.9,219.4 444.2,219.4 444.5,219.4 444.9,219.4 445.2,219.4 445.5,219.4 445.8,219.4 446.1,219.4 446.5,219.4 446.8,219.4 447.1,219.4 447.4,219.4 447.7,219.4 448.1,219.4 448.4,219.4 448.7,219.4 449.0,219.4 449.3,219.4 449.7,219.4 450.0,219.4 450.3,219.4 450.6,219.4 450.9,219.4 451.3,219.4 451.6,219.4 451.9,219.4 452.2,219.4 452.5,219.4 452.9,219.4 453.2,219.4 453.5,219.4 453.8,219.4 454.1,219.4 454.5,219.4 454.8,219.4 455.1,219.4 455.4,219.4 455.8,219.4 456.1,219.4 456.4,219.4 456.7,219.4 457.0,219.4 457.4,219.4 457.7,219.4 458.0,219.4 458.3,219.4 458.6,219.4 459.0,219.4 459.3,219.4 459.6,219.4 459.9,219.4 460.2,219.4 460.6,219.4 460.9,219.4 461.2,219.4 461.5,219.4 461.8,219.4 462.2,219.4 462.5,219.4 462.8,219.4 463.1,219.4 463.4,219.4 463.8,219.4 464.1,219.4 464.4,219.4 464.7,219.4 465.0,219.4 465.4,219.4 465.7,219.4 466.0,219.4 466.3,219.4 466.6,219.4 467.0,219.4 467.3,219.4 467.6,219.4 467.9,219.4 468.3,219.4 468.6,219.4 468.9,219.4 469.2,219.4 469.5,219.4 469.9,219.4 470.2,219.4 470.5,219.4 470.8,219.4 471.1,219.4 471.5,219.4 471.8,219.4 472.1,219.4 472.4,219.4 472.7,219.4 473.1,219.4 473.4,219.4 473.7,219.4 474.0,219.4 474.3,219.4 474.7,219.4 475.0,219.4 475.3,219.4 475.6,219.4 475.9,219.4 476.3,219.4 476.6,219.4 476.9,219.4 477.2,219.4 477.5,219.4 477.9,219.4 478.2,219.4 478.5,219.4 478.8,219.4 479.1,219.4 479.5,219.4 479.8,219.4 480.1,219.4 480.4,219.4 480.8,219.4 481.1,219.4 481.4,219.4 481.7,219.4 482.0,219.4 482.4,219.4 482.7,219.4 483.0,219.4 483.3,219.4 483.6,219.4 484.0,219.4 484.3,219.4 484.6,219.4 484.9,219.4 485.2,219.4 485.6,219.4 485.9,219.4 486.2,219.4 486.5,219.4 486.8,219.4 487.2,219.4 487.5,219.4 487.8,219.4 488.1,219.4 488.4,219.4 488.8,219.4 489.1,219.4 489.4,219.4 489.7,219.4 490.0,219.4 490.4,219.4 490.7,219.4 491.0,219.4 491.3,219.4 491.6,219.4 492.0,219.4 492.3,219.4 492.6,219.3 492.9,219.3 493.3,219.3 493.6,219.3 493.9,219.3 494.2,219.3 494.5,219.3 494.9,219.3 495.2,219.3 495.5,219.3 495.8,219.2 496.1,219.2 496.5,219.2 496.8,219.2 497.1,219.2 497.4,219.1 497.7,219.1 498.1,219.1 498.4,219.0 498.7,219.0 499.0,218.9 499.3,218.9 499.7,218.8 500.0,218.8 500.3,218.7 500.6,218.6 500.9,218.6 501.3,218.5 501.6,218.4 501.9,218.3 502.2,218.2 502.5,218.1 502.9,217.9 503.2,217.8 503.5,217.7 503.8,217.5 504.1,217.3 504.5,217.1 504.8,216.9 505.1,216.7 505.4,216.5 505.7,216.2 506.1,215.9 506.4,215.6 506.7,215.3 507.0,215.0 507.4,214.6 507.7,214.2 508.0,213.8 508.3,213.4 508.6,212.9 509.0,212.4 509.3,211.9 509.6,211.3 509.9,210.7 510.2,210.1 510.6,209.4 510.9,208.7 511.2,207.9 511.5,207.1 511.8,206.2 512.2,205.3 512.5,204.4 512.8,203.4 513.1,202.4 513.4,201.3 513.8,200.1 514.1,198.9 514.4,197.7 514.7,196.4 515.0,195.0 515.4,193.6 515.7,192.1 516.0,190.5 516.3,188.9 516.6,187.2 517.0,185.5 517.3,183.7 517.6,181.9 517.9,179.9 518.2,178.0 518.6,175.9 518.9,173.8 519.2,171.7 519.5,169.4 519.9,167.2 520.2,164.8 520.5,162.4 520.8,160.0 521.1,157.5 521.5,155.0 521.8,152.4 522.1,149.8 522.4,147.1 522.7,144.4 523.1,141.7 523.4,139.0 523.7,136.2 524.0,133.4 524.3,130.6 524.7,127.8 525.0,125.0 525.3,122.1 525.6,119.3 525.9,116.5 526.3,113.7 526.6,110.9 526.9,108.2 527.2,105.5 527.5,102.8 527.9,100.1 528.2,97.6 528.5,95.0 528.8,92.6 529.1,90.1 529.5,87.8 529.8,85.6 530.1,83.4 530.4,81.3 530.7,79.3 531.1,77.4 531.4,75.6 531.7,73.9 532.0,72.3 532.4,70.9 532.7,69.5 533.0,68.3 533.3,67.2 533.6,66.2 534.0,65.4 534.3,64.7 534.6,64.1 534.9,63.7 535.2,63.4 535.6,63.3 535.9,63.3 536.2,63.4 536.5,63.6 536.8,64.0 537.2,64.6 537.5,65.3 537.8,66.1 538.1,67.0 538.4,68.1 538.8,69.3 539.1,70.6 539.4,72.0 539.7,73.6 540.0,75.3 540.4,77.0 540.7,78.9 541.0,80.9 541.3,83.0 541.6,85.1 542.0,87.4 542.3,89.7 542.6,92.1 542.9,94.5 543.2,97.0 543.6,99.6 543.9,102.3 544.2,104.9 544.5,107.6 544.9,110.4 545.2,113.1 545.5,115.9 545.8,118.7 546.1,121.6 546.5,124.4 546.8,127.2 547.1,130.0 547.4,132.8 547.7,135.6 548.1,138.4 548.4,141.2 548.7,143.9 549.0,146.6 549.3,149.3 549.7,151.9 550.0,154.5 550.3,157.0 550.6,159.5 550.9,162.0 551.3,164.4 551.6,166.7 551.9,169.0 552.2,171.2 552.5,173.4 552.9,175.5 553.2,177.6 553.5,179.5 553.8,181.5 554.1,183.3 554.5,185.2 554.8,186.9 555.1,188.6 555.4,190.2 555.7,191.8 556.1,193.3 556.4,194.7 556.7,196.1 557.0,197.4 557.4,198.7 557.7,199.9 558.0,201.1 558.3,202.2 558.6,203.2 559.0,204.2 559.3,205.2 559.6,206.1 559.9,206.9 560.2,207.7 560.6,208.5 560.9,209.2 561.2,209.9 561.5,210.6 561.8,211.2 562.2,211.8 562.5,212.3 562.8,212.8 563.1,213.3 563.4,213.7 563.8,214.2 564.1,214.5 564.4,214.9 564.7,215.3 565.0,215.6 565.4,215.9 565.7,216.2 566.0,216.4 566.3,216.7 566.6,216.9 567.0,217.1 567.3,217.3 567.6,217.5 567.9,217.6 568.2,217.8 568.6,217.9 568.9,218.0 569.2,218.2 569.5,218.3 569.8,218.4 570.2,218.5 570.5,218.6 570.8,218.6 571.1,218.7 571.5,218.8 571.8,218.8 572.1,218.9 572.4,218.9 572.7,219.0 573.1,219.0 573.4,219.1 573.7,219.1 574.0,219.1 574.3,219.1 574.7,219.2 575.0,219.2 575.3,219.2 575.6,219.2 575.9,219.3 576.3,219.3 576.6,219.3 576.9,219.3 577.2,219.3 577.5,219.3 577.9,219.3 578.2,219.3 578.5,219.3 578.8,219.3 579.1,219.4 579.5,219.4 579.8,219.4 580.1,219.4 580.4,219.4 580.7,219.4 581.1,219.4 581.4,219.4 581.7,219.4 582.0,219.4 582.3,219.4 582.7,219.4 583.0,219.4 583.3,219.4 583.6,219.4 584.0,219.4 584.3,219.4 584.6,219.4 584.9,219.4 585.2,219.4 585.6,219.4 585.9,219.4 586.2,219.4 586.5,219.4 586.8,219.4 587.2,219.4 587.5,219.4 587.8,219.4 588.1,219.4 588.4,219.4 588.8,219.4 589.1,219.4 589.4,219.4 589.7,219.4 590.0,219.4 590.4,219.4 590.7,219.4 591.0,219.4 591.3,219.4 591.6,219.4 592.0,219.4 592.3,219.4 592.6,219.4 592.9,219.4 593.2,219.4 593.6,219.4 593.9,219.4 594.2,219.4 594.5,219.4 594.8,219.4 595.2,219.4 595.5,219.4 595.8,219.4 596.1,219.4 596.5,219.4 596.8,219.4 597.1,219.4 597.4,219.4 597.7,219.4 598.1,219.4 598.4,219.4 598.7,219.4 599.0,219.4 599.3,219.4 599.7,219.4 600.0,219.4 600.3,219.4 600.6,219.4 600.9,219.4 601.3,219.4 601.6,219.4 601.9,219.4 602.2,219.4 602.5,219.4 602.9,219.4 603.2,219.4 603.5,219.4 603.8,219.4 604.1,219.4 604.5,219.4 604.8,219.4 605.1,219.4 605.4,219.4 605.7,219.4 606.1,219.4 606.4,219.4 606.7,219.4 607.0,219.4 607.3,219.4 607.7,219.4 608.0,219.4 608.3,219.4 608.6,219.4 609.0,219.4 609.3,219.4 609.6,219.4 609.9,219.4 610.2,219.4 610.6,219.4 610.9,219.4 611.2,219.4 611.5,219.4 611.8,219.4 612.2,219.4 612.5,219.4 612.8,219.4 613.1,219.4 613.4,219.4 613.8,219.4 614.1,219.4 614.4,219.4 614.7,219.4 615.0,219.4 615.4,219.4 615.7,219.4 616.0,219.4 616.3,219.4 616.6,219.4 617.0,219.4 617.3,219.4 617.6,219.4 617.9,219.4 618.2,219.4 618.6,219.4 618.9,219.4 619.2,219.4 619.5,219.4 619.8,219.4 620.2,219.4 620.5,219.4 620.8,219.4 621.1,219.4 621.5,219.4 621.8,219.4 622.1,219.4 622.4,219.4 622.7,219.4 623.1,219.4 623.4,219.4 623.7,219.4 624.0,219.4 624.3,219.4 624.7,219.4 625.0,219.4 625.3,219.4 625.6,219.4 625.9,219.4 626.3,219.4 626.6,219.4 626.9,219.4 627.2,219.4 627.5,219.4 627.9,219.4 628.2,219.4 628.5,219.4 628.8,219.4 629.1,219.4 629.5,219.4 629.8,219.4 630.1,219.4 630.4,219.4 630.7,219.4 631.1,219.4 631.4,219.4 631.7,219.4 632.0,219.4 632.3,219.4 632.7,219.4 633.0,219.4 633.3,219.4 633.6,219.4 633.9,219.4 634.3,219.4 634.6,219.4 634.9,219.4 635.2,219.4 635.6,219.4 635.9,219.4 636.2,219.4 636.5,219.4 636.8,219.4 637.2,219.4 637.5,219.4 637.8,219.4 638.1,219.4 638.4,219.4 638.8,219.4 639.1,219.4 639.4,219.4 639.7,219.4 640.0,219.4 640.4,219.4 640.7,219.4 641.0,219.4 641.3,219.4 641.6,219.4 642.0,219.4 642.3,219.4 642.6,219.4 642.9,219.4 643.2,219.4 643.6,219.4 643.9,219.4 644.2,219.4 644.5,219.4 644.8,219.4 645.2,219.4 645.5,219.4 645.8,219.4 646.1,219.4 646.4,219.4 646.8,219.4 647.1,219.4 647.4,219.4 647.7,219.4 648.1,219.4 648.4,219.4 648.7,219.4 649.0,219.4 649.3,219.4 649.7,219.4 650.0,219.4 650.3,219.4 650.6,219.4 650.9,219.4 651.3,219.4 651.6,219.4 651.9,219.4 652.2,219.4 652.5,219.4 652.9,219.4 653.2,219.4 653.5,219.4 653.8,219.4 654.1,219.4 654.5,219.4 654.8,219.4 655.1,219.4 655.4,219.4 655.7,219.4 656.1,219.4 656.4,219.4 656.7,219.4 657.0,219.4 657.3,219.4 657.7,219.4 658.0,219.4 658.3,219.4 658.6,219.4 658.9,219.4 659.3,219.4 659.6,219.4 659.9,219.4 660.2,219.4 660.6,219.4 660.9,219.4 661.2,219.4 661.5,219.4 661.8,219.4 662.2,219.4 662.5,219.4 662.8,219.4 663.1,219.4 663.4,219.4 663.8,219.4 664.1,219.4 664.4,219.4 664.7,219.4 665.0,219.4 665.4,219.4 665.7,219.4 666.0,219.4 666.0,219.4 665.7,219.4 665.4,219.4 665.0,219.4 664.7,219.4 664.4,219.4 664.1,219.4 663.8,219.4 663.4,219.4 663.1,219.4 662.8,219.4 662.5,219.4 662.2,219.4 661.8,219.4 661.5,219.4 661.2,219.4 660.9,219.4 660.6,219.4 660.2,219.4 659.9,219.4 659.6,219.4 659.3,219.4 658.9,219.4 658.6,219.4 658.3,219.4 658.0,219.4 657.7,219.4 657.3,219.4 657.0,219.4 656.7,219.4 656.4,219.4 656.1,219.4 655.7,219.4 655.4,219.4 655.1,219.4 654.8,219.4 654.5,219.4 654.1,219.4 653.8,219.4 653.5,219.4 653.2,219.4 652.9,219.4 652.5,219.4 652.2,219.4 651.9,219.4 651.6,219.4 651.3,219.4 650.9,219.4 650.6,219.4 650.3,219.4 650.0,219.4 649.7,219.4 649.3,219.4 649.0,219.4 648.7,219.4 648.4,219.4 648.1,219.4 647.7,219.4 647.4,219.4 647.1,219.4 646.8,219.4 646.4,219.4 646.1,219.4 645.8,219.4 645.5,219.4 645.2,219.4 644.8,219.4 644.5,219.4 644.2,219.4 643.9,219.4 643.6,219.4 643.2,219.4 642.9,219.4 642.6,219.4 642.3,219.4 642.0,219.4 641.6,219.4 641.3,219.4 641.0,219.4 640.7,219.4 640.4,219.4 640.0,219.4 639.7,219.4 639.4,219.4 639.1,219.4 638.8,219.4 638.4,219.4 638.1,219.4 637.8,219.4 637.5,219.4 637.2,219.4 636.8,219.4 636.5,219.4 636.2,219.4 635.9,219.4 635.6,219.4 635.2,219.4 634.9,219.4 634.6,219.4 634.3,219.4 633.9,219.4 633.6,219.4 633.3,219.4 633.0,219.4 632.7,219.4 632.3,219.4 632.0,219.4 631.7,219.4 631.4,219.4 631.1,219.4 630.7,219.4 630.4,219.4 630.1,219.4 629.8,219.4 629.5,219.4 629.1,219.4 628.8,219.4 628.5,219.4 628.2,219.4 627.9,219.4 627.5,219.4 627.2,219.4 626.9,219.4 626.6,219.4 626.3,219.4 625.9,219.4 625.6,219.4 625.3,219.4 625.0,219.4 624.7,219.4 624.3,219.4 624.0,219.4 623.7,219.4 623.4,219.4 623.1,219.4 622.7,219.4 622.4,219.4 622.1,219.4 621.8,219.4 621.5,219.4 621.1,219.4 620.8,219.4 620.5,219.4 620.2,219.4 619.8,219.4 619.5,219.4 619.2,219.4 618.9,219.4 618.6,219.4 618.2,219.4 617.9,219.4 617.6,219.4 617.3,219.4 617.0,219.4 616.6,219.4 616.3,219.4 616.0,219.4 615.7,219.4 615.4,219.4 615.0,219.4 614.7,219.4 614.4,219.4 614.1,219.4 613.8,219.4 613.4,219.4 613.1,219.4 612.8,219.4 612.5,219.4 612.2,219.4 611.8,219.4 611.5,219.4 611.2,219.4 610.9,219.4 610.6,219.4 610.2,219.4 609.9,219.4 609.6,219.4 609.3,219.4 609.0,219.4 608.6,219.4 608.3,219.4 608.0,219.4 607.7,219.4 607.3,219.4 607.0,219.4 606.7,219.4 606.4,219.4 606.1,219.4 605.7,219.4 605.4,219.4 605.1,219.4 604.8,219.4 604.5,219.4 604.1,219.4 603.8,219.4 603.5,219.4 603.2,219.4 602.9,219.4 602.5,219.4 602.2,219.4 601.9,219.4 601.6,219.4 601.3,219.4 600.9,219.4 600.6,219.4 600.3,219.4 600.0,219.4 599.7,219.4 599.3,219.4 599.0,219.4 598.7,219.4 598.4,219.4 598.1,219.4 597.7,219.4 597.4,219.4 597.1,219.4 596.8,219.4 596.5,219.4 596.1,219.4 595.8,219.4 595.5,219.4 595.2,219.4 594.8,219.4 594.5,219.4 594.2,219.4 593.9,219.4 593.6,219.4 593.2,219.4 592.9,219.4 592.6,219.4 592.3,219.4 592.0,219.4 591.6,219.4 591.3,219.4 591.0,219.4 590.7,219.4 590.4,219.4 590.0,219.4 589.7,219.4 589.4,219.4 589.1,219.4 588.8,219.4 588.4,219.4 588.1,219.4 587.8,219.4 587.5,219.4 587.2,219.4 586.8,219.4 586.5,219.4 586.2,219.4 585.9,219.4 585.6,219.4 585.2,219.4 584.9,219.4 584.6,219.4 584.3,219.4 584.0,219.4 583.6,219.4 583.3,219.4 583.0,219.4 582.7,219.4 582.3,219.4 582.0,219.4 581.7,219.4 581.4,219.4 581.1,219.4 580.7,219.4 580.4,219.4 580.1,219.4 579.8,219.4 579.5,219.4 579.1,219.4 578.8,219.3 578.5,219.3 578.2,219.3 577.9,219.3 577.5,219.3 577.2,219.3 576.9,219.3 576.6,219.3 576.3,219.3 575.9,219.3 575.6,219.2 575.3,219.2 575.0,219.2 574.7,219.2 574.3,219.1 574.0,219.1 573.7,219.1 573.4,219.1 573.1,219.0 572.7,219.0 572.4,218.9 572.1,218.9 571.8,218.8 571.5,218.8 571.1,218.7 570.8,218.6 570.5,218.6 570.2,218.5 569.8,218.4 569.5,218.3 569.2,218.2 568.9,218.0 568.6,217.9 568.2,217.8 567.9,217.6 567.6,217.5 567.3,217.3 567.0,217.1 566.6,216.9 566.3,216.7 566.0,216.4 565.7,216.2 565.4,215.9 565.0,215.6 564.7,215.3 564.4,214.9 564.1,214.6 563.8,214.2 563.4,213.8 563.1,213.3 562.8,212.8 562.5,212.3 562.2,211.8 561.8,211.2 561.5,210.6 561.2,210.0 560.9,209.3 560.6,208.6 560.2,207.8 559.9,207.0 559.6,206.2 559.3,205.3 559.0,204.3 558.6,203.3 558.3,202.3 558.0,201.2 557.7,200.1 557.4,198.9 557.0,197.6 556.7,196.3 556.4,195.0 556.1,193.5 555.7,192.1 555.4,190.5 555.1,188.9 554.8,187.3 554.5,185.6 554.1,183.8 553.8,182.0 553.5,180.1 553.2,178.1 552.9,176.1 552.5,174.0 552.2,171.9 551.9,169.7 551.6,167.5 551.3,165.2 550.9,162.9 550.6,160.5 550.3,158.0 550.0,155.6 549.7,153.0 549.3,150.5 549.0,147.9 548.7,145.3 548.4,142.6 548.1,139.9 547.7,137.2 547.4,134.5 547.1,131.8 546.8,129.0 546.5,126.3 546.1,123.6 545.8,120.8 545.5,118.1 545.2,115.4 544.9,112.7 544.5,110.1 544.2,107.4 543.9,104.9 543.6,102.3 543.2,99.8 542.9,97.4 542.6,95.0 542.3,92.7 542.0,90.5 541.6,88.3 541.3,86.2 541.0,84.2 540.7,82.3 540.4,80.5 540.0,78.8 539.7,77.2 539.4,75.7 539.1,74.3 538.8,73.0 538.4,71.9 538.1,70.9 537.8,70.0 537.5,69.2 537.2,68.5 536.8,68.0 536.5,67.6 536.2,67.4 535.9,67.3 535.6,67.3 535.2,67.4 534.9,67.7 534.6,68.1 534.3,68.7 534.0,69.3 533.6,70.1 533.3,71.1 533.0,72.1 532.7,73.3 532.4,74.6 532.0,76.0 531.7,77.5 531.4,79.1 531.1,80.9 530.7,82.7 530.4,84.6 530.1,86.6 529.8,88.7 529.5,90.9 529.1,93.2 528.8,95.5 528.5,97.9 528.2,100.3 527.9,102.8 527.5,105.4 527.2,108.0 526.9,110.6 526.6,113.3 526.3,115.9 525.9,118.6 525.6,121.4 525.3,124.1 525.0,126.8 524.7,129.6 524.3,132.3 524.0,135.0 523.7,137.8 523.4,140.5 523.1,143.1 522.7,145.8 522.4,148.4 522.1,151.0 521.8,153.5 521.5,156.1 521.1,158.5 520.8,161.0 520.5,163.3 520.2,165.7 519.9,167.9 519.5,170.2 519.2,172.3 518.9,174.5 518.6,176.5 518.2,178.5 517.9,180.5 517.6,182.3 517.3,184.2 517.0,185.9 516.6,187.6 516.3,189.3 516.0,190.8 515.7,192.4 515.4,193.8 515.0,195.2 514.7,196.6 514.4,197.9 514.1,199.1 513.8,200.3 513.4,201.4 513.1,202.5 512.8,203.5 512.5,204.5 512.2,205.5 511.8,206.3 511.5,207.2 511.2,208.0 510.9,208.7 510.6,209.4 510.2,210.1 509.9,210.7 509.6,211.3 509.3,211.9 509.0,212.4 508.6,212.9 508.3,213.4 508.0,213.8 507.7,214.3 507.4,214.6 507.0,215.0 506.7,215.3 506.4,215.7 506.1,215.9 505.7,216.2 505.4,216.5 505.1,216.7 504.8,216.9 504.5,217.1 504.1,217.3 503.8,217.5 503.5,217.7 503.2,217.8 502.9,217.9 502.5,218.1 502.2,218.2 501.9,218.3 501.6,218.4 501.3,218.5 500.9,218.6 500.6,218.6 500.3,218.7 500.0,218.8 499.7,218.8 499.3,218.9 499.0,218.9 498.7,219.0 498.4,219.0 498.1,219.1 497.7,219.1 497.4,219.1 497.1,219.2 496.8,219.2 496.5,219.2 496.1,219.2 495.8,219.2 495.5,219.3 495.2,219.3 494.9,219.3 494.5,219.3 494.2,219.3 493.9,219.3 493.6,219.3 493.3,219.3 492.9,219.3 492.6,219.3 492.3,219.4 492.0,219.4 491.6,219.4 491.3,219.4 491.0,219.4 490.7,219.4 490.4,219.4 490.0,219.4 489.7,219.4 489.4,219.4 489.1,219.4 488.8,219.4 488.4,219.4 488.1,219.4 487.8,219.4 487.5,219.4 487.2,219.4 486.8,219.4 486.5,219.4 486.2,219.4 485.9,219.4 485.6,219.4 485.2,219.4 484.9,219.4 484.6,219.4 484.3,219.4 484.0,219.4 483.6,219.4 483.3,219.4 483.0,219.4 482.7,219.4 482.4,219.4 482.0,219.4 481.7,219.4 481.4,219.4 481.1,219.4 480.8,219.4 480.4,219.4 480.1,219.4 479.8,219.4 479.5,219.4 479.1,219.4 478.8,219.4 478.5,219.4 478.2,219.4 477.9,219.4 477.5,219.4 477.2,219.4 476.9,219.4 476.6,219.4 476.3,219.4 475.9,219.4 475.6,219.4 475.3,219.4 475.0,219.4 474.7,219.4 474.3,219.4 474.0,219.4 473.7,219.4 473.4,219.4 473.1,219.4 472.7,219.4 472.4,219.4 472.1,219.4 471.8,219.4 471.5,219.4 471.1,219.4 470.8,219.4 470.5,219.4 470.2,219.4 469.9,219.4 469.5,219.4 469.2,219.4 468.9,219.4 468.6,219.4 468.3,219.4 467.9,219.4 467.6,219.4 467.3,219.4 467.0,219.4 466.6,219.4 466.3,219.4 466.0,219.4 465.7,219.4 465.4,219.4 465.0,219.4 464.7,219.4 464.4,219.4 464.1,219.4 463.8,219.4 463.4,219.4 463.1,219.4 462.8,219.4 462.5,219.4 462.2,219.4 461.8,219.4 461.5,219.4 461.2,219.4 460.9,219.4 460.6,219.4 460.2,219.4 459.9,219.4 459.6,219.4 459.3,219.4 459.0,219.4 458.6,219.4 458.3,219.4 458.0,219.4 457.7,219.4 457.4,219.4 457.0,219.4 456.7,219.4 456.4,219.4 456.1,219.4 455.8,219.4 455.4,219.4 455.1,219.4 454.8,219.4 454.5,219.4 454.1,219.4 453.8,219.4 453.5,219.4 453.2,219.4 452.9,219.4 452.5,219.4 452.2,219.4 451.9,219.4 451.6,219.4 451.3,219.4 450.9,219.4 450.6,219.4 450.3,219.4 450.0,219.4 449.7,219.4 449.3,219.4 449.0,219.4 448.7,219.4 448.4,219.4 448.1,219.4 447.7,219.4 447.4,219.4 447.1,219.4 446.8,219.4 446.5,219.4 446.1,219.4 445.8,219.4 445.5,219.4 445.2,219.4 444.9,219.4 444.5,219.4 444.2,219.4 443.9,219.4 443.6,219.4 443.3,219.4 442.9,219.4 442.6,219.4 442.3,219.4 442.0,219.4 441.6,219.4 441.3,219.4 441.0,219.4 440.7,219.4 440.4,219.4 440.0,219.4 439.7,219.4 439.4,219.4 439.1,219.4 438.8,219.4 438.4,219.4 438.1,219.4 437.8,219.4 437.5,219.4 437.2,219.4 436.8,219.4 436.5,219.4 436.2,219.4 435.9,219.4 435.6,219.4 435.2,219.4 434.9,219.4 434.6,219.4 434.3,219.4 434.0,219.4 433.6,219.4 433.3,219.4 433.0,219.4 432.7,219.4 432.4,219.4 432.0,219.4 431.7,219.4 431.4,219.4 431.1,219.4 430.8,219.4 430.4,219.4 430.1,219.4 429.8,219.4 429.5,219.4 429.2,219.4 428.8,219.4 428.5,219.4 428.2,219.4 427.9,219.4 427.5,219.4 427.2,219.4 426.9,219.4 426.6,219.4 426.3,219.4 425.9,219.4 425.6,219.4 425.3,219.4 425.0,219.4 424.7,219.4 424.3,219.4 424.0,219.4 423.7,219.4 423.4,219.4 423.1,219.4 422.7,219.4 422.4,219.4 422.1,219.4 421.8,219.4 421.5,219.4 421.1,219.4 420.8,219.4 420.5,219.4 420.2,219.4 419.9,219.4 419.5,219.4 419.2,219.4 418.9,219.4 418.6,219.4 418.3,219.4 417.9,219.4 417.6,219.4 417.3,219.4 417.0,219.4 416.7,219.4 416.3,219.4 416.0,219.4 415.7,219.4 415.4,219.4 415.0,219.4 414.7,219.4 414.4,219.4 414.1,219.4 413.8,219.4 413.4,219.4 413.1,219.4 412.8,219.4 412.5,219.4 412.2,219.4 411.8,219.4 411.5,219.4 411.2,219.4 410.9,219.4 410.6,219.4 410.2,219.4 409.9,219.4 409.6,219.4" fill="#f8ee00"/>
<polyline points="409.6,219.4 409.9,219.4 410.2,219.4 410.6,219.4 410.9,219.4 411.2,219.4 411.5,219.4 411.8,219.4 412.2,219.4 412.5,219.4 412.8,219.4 413.1,219.4 413.4,219.4 413.8,219.4 414.1,219.4 414.4,219.4 414.7,219.4 415.0,219.4 415.4,219.4 415.7,219.4 416.0,219.4 416.3,219.4 416.7,219.4 417.0,219.4 417.3,219.4 417.6,219.4 417.9,219.4 418.3,219.4 418.6,219.4 418.9,219.4 419.2,219.4 419.5,219.4 419.9,219.4 420.2,219.4 420.5,219.4 420.8,219.4 421.1,219.4 421.5,219.4 421.8,219.4 422.1,219.4 422.4,219.4 422.7,219.4 423.1,219.4 423.4,219.4 423.7,219.4 424.0,219.4 424.3,219.4 424.7,219.4 425.0,219.4 425.3,219.4 425.6,219.4 425.9,219.4 426.3,219.4 426.6,219.4 426.9,219.4 427.2,219.4 427.5,219.4 427.9,219.4 428.2,219.4 428.5,219.4 428.8,219.4 429.2,219.4 429.5,219.4 429.8,219.4 430.1,219.4 430.4,219.4 430.8,219.4 431.1,219.4 431.4,219.4 431.7,219.4 432.0,219.4 432.4,219.4 432.7,219.4 433.0,219.4 433.3,219.4 433.6,219.4 434.0,219.4 434.3,219.4 434.6,219.4 434.9,219.4 435.2,219.4 435.6,219.4 435.9,219.4 436.2,219.4 436.5,219.4 436.8,219.4 437.2,219.4 437.5,219.4 437.8,219.4 438.1,219.4 438.4,219.4 438.8,219.4 439.1,219.4 439.4,219.4 439.7,219.4 440.0,219.4 440.4,219.4 440.7,219.4 441.0,219.4 441.3,219.4 441.6,219.4 442.0,219.4 442.3,219.4 442.6,219.4 442.9,219.4 443.3,219.4 443.6,219.4 443.9,219.4 444.2,219.4 444.5,219.4 444.9,219.4 445.2,219.4 445.5,219.4 445.8,219.4 446.1,219.4 446.5,219.4 446.8,219.4 447.1,219.4 447.4,219.4 447.7,219.4 448.1,219.4 448.4,219.4 448.7,219.4 449.0,219.4 449.3,219.4 449.7,219.4 450.0,219.4 450.3,219.4 450.6,219.4 450.9,219.4 451.3,219.4 451.6,219.4 451.9,219.4 452.2,219.4 452.5,219.4 452.9,219.4 453.2,219.4 453.5,219.4 453.8,219.4 454.1,219.4 454.5,219.4 454.8,219.4 455.1,219.4 455.4,219.4 455.8,219.4 456.1,219.4 456.4,219.4 456.7,219.4 457.0,219.4 457.4,219.4 457.7,219.4 458.0,219.4 458.3,219.4 458.6,219.4 459.0,219.4 459.3,219.4 459.6,219.4 459.9,219.4 460.2,219.4 460.6,219.4 460.9,219.4 461.2,219.4 461.5,219.4 461.8,219.4 462.2,219.4 462.5,219.4 462.8,219.4 463.1,219.4 463.4,219.4 463.8,219.4 464.1,219.4 464.4,219.4 464.7,219.4 465.0,219.4 465.4,219.4 465.7,219.4 466.0,219.4 466.3,219.4 466.6,219.4 467.0,219.4 467.3,219.4 467.6,219.4 467.9,219.4 468.3,219.4 468.6,219.4 468.9,219.4 469.2,219.4 469.5,219.4 469.9,219.4 470.2,219.4 470.5,219.4 470.8,219.4 471.1,219.4 471.5,219.4 471.8,219.4 472.1,219.4 472.4,219.4 472.7,219.4 473.1,219.4 473.4,219.4 473.7,219.4 474.0,219.4 474.3,219.4 474.7,219.4 475.0,219.4 475.3,219.4 475.6,219.4 475.9,219.4 476.3,219.4 476.6,219.4 476.9,219.4 477.2,219.4 477.5,219.4 477.9,219.4 478.2,219.4 478.5,219.4 478.8,219.4 479.1,219.4 479.5,219.4 479.8,219.4 480.1,219.4 480.4,219.4 480.8,219.4 481.1,219.4 481.4,219.4 481.7,219.4 482.0,219.4 482.4,219.4 482.7,219.4 483.0,219.4 483.3,219.4 483.6,219.4 484.0,219.4 484.3,219.4 484.6,219.4 484.9,219.4 485.2,219.4 485.6,219.4 485.9,219.4 486.2,219.4 486.5,219.4 486.8,219.4 487.2,219.4 487.5,219.4 487.8,219.4 488.1,219.4 488.4,219.4 488.8,219.4 489.1,219.4 489.4,219.4 489.7,219.4 490.0,219.4 490.4,219.4 490.7,219.4 491.0,219.4 491.3,219.4 491.6,219.4 492.0,219.4 492.3,219.4 492.6,219.3 492.9,219.3 493.3,219.3 493.6,219.3 493.9,219.3 494.2,219.3 494.5,219.3 494.9,219.3 495.2,219.3 495.5,219.3 495.8,219.2 496.1,219.2 496.5,219.2 496.8,219.2 497.1,219.2 497.4,219.1 497.7,219.1 498.1,219.1 498.4,219.0 498.7,219.0 499.0,218.9 499.3,218.9 499.7,218.8 500.0,218.8 500.3,218.7 500.6,218.6 500.9,218.6 501.3,218.5 501.6,218.4 501.9,218.3 502.2,218.2 502.5,218.1 502.9,217.9 503.2,217.8 503.5,217.7 503.8,217.5 504.1,217.3 504.5,217.1 504.8,216.9 505.1,216.7 505.4,216.5 505.7,216.2 506.1,215.9 506.4,215.6 506.7,215.3 507.0,215.0 507.4,214.6 507.7,214.2 508.0,213.8 508.3,213.4 508.6,212.9 509.0,212.4 509.3,211.9 509.6,211.3 509.9,210.7 510.2,210.1 510.6,209.4 510.9,208.7 511.2,207.9 511.5,207.1 511.8,206.3 512.2,205.4 512.5,204.5 512.8,203.5 513.1,202.4 513.4,201.4 513.8,200.2 514.1,199.0 514.4,197.8 514.7,196.5 515.0,195.1 515.4,193.7 515.7,192.2 516.0,190.7 516.3,189.1 516.6,187.4 517.0,185.7 517.3,183.9 517.6,182.1 517.9,180.2 518.2,178.2 518.6,176.2 518.9,174.1 519.2,172.0 519.5,169.8 519.9,167.5 520.2,165.2 520.5,162.9 520.8,160.5 521.1,158.0 521.5,155.5 521.8,153.0 522.1,150.4 522.4,147.8 522.7,145.1 523.1,142.4 523.4,139.7 523.7,137.0 524.0,134.2 524.3,131.5 524.7,128.7 525.0,125.9 525.3,123.1 525.6,120.3 525.9,117.6 526.3,114.8 526.6,112.1 526.9,109.4 527.2,106.7 527.5,104.1 527.9,101.5 528.2,98.9 528.5,96.5 528.8,94.0 529.1,91.7 529.5,89.4 529.8,87.1 530.1,85.0 530.4,83.0 530.7,81.0 531.1,79.1 531.4,77.4 531.7,75.7 532.0,74.2 532.4,72.7 532.7,71.4 533.0,70.2 533.3,69.1 533.6,68.2 534.0,67.4 534.3,66.7 534.6,66.1 534.9,65.7 535.2,65.4 535.6,65.3 535.9,65.3 536.2,65.4 536.5,65.6 536.8,66.0 537.2,66.6 537.5,67.2 537.8,68.0 538.1,68.9 538.4,70.0 538.8,71.2 539.1,72.5 539.4,73.9 539.7,75.4 540.0,77.0 540.4,78.8 540.7,80.6 541.0,82.6 541.3,84.6 541.6,86.7 542.0,88.9 542.3,91.2 542.6,93.5 542.9,96.0 543.2,98.4 543.6,101.0 543.9,103.6 544.2,106.2 544.5,108.9 544.9,111.5 545.2,114.3 545.5,117.0 545.8,119.8 546.1,122.6 546.5,125.3 546.8,128.1 547.1,130.9 547.4,133.7 547.7,136.4 548.1,139.2 548.4,141.9 548.7,144.6 549.0,147.2 549.3,149.9 549.7,152.5 550.0,155.0 550.3,157.5 550.6,160.0 550.9,162.4 551.3,164.8 551.6,167.1 551.9,169.4 552.2,171.6 552.5,173.7 552.9,175.8 553.2,177.8 553.5,179.8 553.8,181.7 554.1,183.6 554.5,185.4 554.8,187.1 555.1,188.8 555.4,190.4 555.7,191.9 556.1,193.4 556.4,194.8 556.7,196.2 557.0,197.5 557.4,198.8 557.7,200.0 558.0,201.1 558.3,202.2 558.6,203.3 559.0,204.3 559.3,205.2 559.6,206.1 559.9,207.0 560.2,207.8 560.6,208.5 560.9,209.3 561.2,210.0 561.5,210.6 561.8,211.2 562.2,211.8 562.5,212.3 562.8,212.8 563.1,213.3 563.4,213.7 563.8,214.2 564.1,214.6 564.4,214.9 564.7,215.3 565.0,215.6 565.4,215.9 565.7,216.2 566.0,216.4 566.3,216.7 566.6,216.9 567.0,217.1 567.3,217.3 567.6,217.5 567.9,217.6 568.2,217.8 568.6,217.9 568.9,218.0 569.2,218.2 569.5,218.3 569.8,218.4 570.2,218.5 570.5,218.6 570.8,218.6 571.1,218.7 571.5,218.8 571.8,218.8 572.1,218.9 572.4,218.9 572.7,219.0 573.1,219.0 573.4,219.1 573.7,219.1 574.0,219.1 574.3,219.1 574.7,219.2 575.0,219.2 575.3,219.2 575.6,219.2 575.9,219.3 576.3,219.3 576.6,219.3 576.9,219.3 577.2,219.3 577.5,219.3 577.9,219.3 578.2,219.3 578.5,219.3 578.8,219.3 579.1,219.4 579.5,219.4 579.8,219.4 580.1,219.4 580.4,219.4 580.7,219.4 581.1,219.4 581.4,219.4 581.7,219.4 582.0,219.4 582.3,219.4 582.7,219.4 583.0,219.4 583.3,219.4 583.6,219.4 584.0,219.4 584.3,219.4 584.6,219.4 584.9,219.4 585.2,219.4 585.6,219.4 585.9,219.4 586.2,219.4 586.5,219.4 586.8,219.4 587.2,219.4 587.5,219.4 587.8,219.4 588.1,219.4 588.4,219.4 588.8,219.4 589.1,219.4 589.4,219.4 589.7,219.4 590.0,219.4 590.4,219.4 590.7,219.4 591.0,219.4 591.3,219.4 591.6,219.4 592.0,219.4 592.3,219.4 592.6,219.4 592.9,219.4 593.2,219.4 593.6,219.4 593.9,219.4 594.2,219.4 594.5,219.4 594.8,219.4 595.2,219.4 595.5,219.4 595.8,219.4 596.1,219.4 596.5,219.4 596.8,219.4 597.1,219.4 597.4,219.4 597.7,219.4 598.1,219.4 598.4,219.4 598.7,219.4 599.0,219.4 599.3,219.4 599.7,219.4 600.0,219.4 600.3,219.4 600.6,219.4 600.9,219.4 601.3,219.4 601.6,219.4 601.9,219.4 602.2,219.4 602.5,219.4 602.9,219.4 603.2,219.4 603.5,219.4 603.8,219.4 604.1,219.4 604.5,219.4 604.8,219.4 605.1,219.4 605.4,219.4 605.7,219.4 606.1,219.4 606.4,219.4 606.7,219.4 607.0,219.4 607.3,219.4 607.7,219.4 608.0,219.4 608.3,219.4 608.6,219.4 609.0,219.4 609.3,219.4 609.6,219.4 609.9,219.4 610.2,219.4 610.6,219.4 610.9,219.4 611.2,219.4 611.5,219.4 611.8,219.4 612.2,219.4 612.5,219.4 612.8,219.4 613.1,219.4 613.4,219.4 613.8,219.4 614.1,219.4 614.4,219.4 614.7,219.4 615.0,219.4 615.4,219.4 615.7,219.4 616.0,219.4 616.3,219.4 616.6,219.4 617.0,219.4 617.3,219.4 617.6,219.4 617.9,219.4 618.2,219.4 618.6,219.4 618.9,219.4 619.2,219.4 619.5,219.4 619.8,219.4 620.2,219.4 620.5,219.4 620.8,219.4 621.1,219.4 621.5,219.4 621.8,219.4 622.1,219.4 622.4,219.4 622.7,219.4 623.1,219.4 623.4,219.4 623.7,219.4 624.0,219.4 624.3,219.4 624.7,219.4 625.0,219.4 625.3,219.4 625.6,219.4 625.9,219.4 626.3,219.4 626.6,219.4 626.9,219.4 627.2,219.4 627.5,219.4 627.9,219.4 628.2,219.4 628.5,219.4 628.8,219.4 629.1,219.4 629.5,219.4 629.8,219.4 630.1,219.4 630.4,219.4 630.7,219.4 631.1,219.4 631.4,219.4 631.7,219.4 632.0,219.4 632.3,219.4 632.7,219.4 633.0,219.4 633.3,219.4 633.6,219.4 633.9,219.4 634.3,219.4 634.6,219.4 634.9,219.4 635.2,219.4 635.6,219.4 635.9,219.4 636.2,219.4 636.5,219.4 636.8,219.4 637.2,219.4 637.5,219.4 637.8,219.4 638.1,219.4 638.4,219.4 638.8,219.4 639.1,219.4 639.4,219.4 639.7,219.4 640.0,219.4 640.4,219.4 640.7,219.4 641.0,219.4 641.3,219.4 641.6,219.4 642.0,219.4 642.3,219.4 642.6,219.4 642.9,219.4 643.2,219.4 643.6,219.4 643.9,219.4 644.2,219.4 644.5,219.4 644.8,219.4 645.2,219.4 645.5,219.4 645.8,219.4 646.1,219.4 646.4,219.4 646.8,219.4 647.1,219.4 647.4,219.4 647.7,219.4 648.1,219.4 648.4,219.4 648.7,219.4 649.0,219.4 649.3,219.4 649.7,219.4 650.0,219.4 650.3,219.4 650.6,219.4 650.9,219.4 651.3,219.4 651.6,219.4 651.9,219.4 652.2,219.4 652.5,219.4 652.9,219.4 653.2,219.4 653.5,219.4 653.8,219.4 654.1,219.4 654.5,219.4 654.8,219.4 655.1,219.4 655.4,219.4 655.7,219.4 656.1,219.4 656.4,219.4 656.7,219.4 657.0,219.4 657.3,219.4 657.7,219.4 658.0,219.4 658.3,219.4 658.6,219.4 658.9,219.4 659.3,219.4 659.6,219.4 659.9,219.4 660.2,219.4 660.6,219.4 660.9,219.4 661.2,219.4 661.5,219.4 661.8,219.4 662.2,219.4 662.5,219.4 662.8,219.4 663.1,219.4 663.4,219.4 663.8,219.4 664.1,219.4 664.4,219.4 664.7,219.4 665.0,219.4 665.4,219.4 665.7,219.4 666.0,219.4" fill="none" stroke="#f8ee00" stroke-width="2.0" stroke-linejoin="round"/>
<polygon points="532.67,71.41 532.74,71.16 532.80,70.92 532.86,70.68 532.93,70.44 532.99,70.21 533.06,69.99 533.12,69.77 533.18,69.55 533.25,69.34 533.31,69.14 533.38,68.94 533.44,68.74 533.51,68.55 533.57,68.37 533.63,68.19 533.70,68.02 533.76,67.85 533.83,67.68 533.89,67.52 533.95,67.37 534.02,67.22 534.08,67.08 534.15,66.94 534.21,66.81 534.27,66.68 534.34,66.56 534.40,66.44 534.47,66.33 534.53,66.23 534.59,66.13 534.66,66.03 534.72,65.94 534.79,65.86 534.85,65.78 534.92,65.71 534.98,65.64 535.04,65.57 535.11,65.52 535.17,65.47 535.24,65.42 535.30,65.38 535.36,65.34 535.43,65.31 535.49,65.29 535.56,65.27 535.62,65.26 535.68,65.25 535.75,65.24 535.81,65.25 535.88,65.26 535.94,65.27 536.01,65.29 536.07,65.31 536.13,65.34 536.20,65.38 536.26,65.42 536.33,65.47 536.39,65.52 536.45,65.57 536.52,65.64 536.58,65.71 536.65,65.78 536.71,65.86 536.77,65.94 536.84,66.03 536.90,66.13 536.97,66.23 537.03,66.33 537.09,66.44 537.16,66.56 537.22,66.68 537.29,66.81 537.35,66.94 537.42,67.08 537.48,67.22 537.54,67.37 537.61,67.52 537.67,67.68 537.74,67.85 537.80,68.02 537.86,68.19 537.93,68.37 537.99,68.55 538.06,68.74 538.12,68.94 538.18,69.14 538.25,69.34 538.31,69.55 538.38,69.77 538.44,69.99 538.51,70.21 538.57,70.44 538.63,70.68 538.70,70.92 538.76,71.16 538.83,71.41" fill="#f8ee00" stroke="#f8ee00" stroke-width="2.0" stroke-linejoin="round"/>
<circle cx="429.3" cy="41.8" r="4.3" fill="none" stroke="#6a8cad" stroke-width="0.9"/>
<path d="M412.9 56.6H445.8" stroke="#f8ee00" stroke-width="2.2"/>
<text x="450.3" y="46.3" font-size="13.7" text-anchor="start" fill="#000">Measured data - 6.6 V</text>
<text x="450.3" y="61.9" font-size="13.7" text-anchor="start" fill="#000">Monte Carlo</text>
<text x="553.1" y="62.1" font-size="13.7" text-anchor="start" font-style="italic" fill="#000">w</text>
<text x="561.7" y="65.6" font-size="7" text-anchor="start" style="font-size:7px" fill="#000">2</text>
<text x="569.5" y="62.1" font-size="14.0" text-anchor="start" fill="#000">= 83.0 ± 1.0 ps</text>
<text transform="translate(364.5,137) rotate(-90)" font-size="17.5" text-anchor="middle" fill="#000">Coincidence counts in 180s</text>
<text x="537.2" y="286.7" font-size="17.5" text-anchor="middle" fill="#000">Delay time (ps)</text>
<text x="351.4" y="16.1" font-size="22" font-weight="bold" fill="#231815">b</text>
<path d="M57.5 330.2H314.2V536.3" fill="none" stroke="#1a1a1a" stroke-width="1.3"/>
<path d="M57.5 330.2V536.3" fill="none" stroke="#1a1a1a" stroke-width="1.4"/>
<path d="M56.9 536.3H314.2" fill="none" stroke="#1a1a1a" stroke-width="1.3"/>
<path d="M72.2 536.3v4.4M132.7 536.3v4.4M193.2 536.3v4.4M253.7 536.3v4.4M314.2 536.3v4.4M102.5 536.3v2.4M162.9 536.3v2.4M223.4 536.3v2.4M283.9 536.3v2.4M57.5 514.3h-4M57.5 468.3h-4M57.5 422.2h-4M57.5 376.2h-4M57.5 330.2h-4M57.5 491.3h-2.4M57.5 445.3h-2.4M57.5 399.2h-2.4M57.5 353.2h-2.4" fill="none" stroke="#1a1a1a" stroke-width="1.2"/>
<text x="72.2" y="557.6" font-size="17.5" text-anchor="middle" fill="#000">0</text>
<text x="132.7" y="557.6" font-size="17.5" text-anchor="middle" fill="#000">4</text>
<text x="193.2" y="557.6" font-size="17.5" text-anchor="middle" fill="#000">8</text>
<text x="253.7" y="557.6" font-size="17.5" text-anchor="middle" fill="#000">12</text>
<text x="314.2" y="557.6" font-size="17.5" text-anchor="middle" fill="#000">16</text>
<text x="50.5" y="520" font-size="17.5" text-anchor="end" fill="#000">0</text>
<text x="50.5" y="474" font-size="17.5" text-anchor="end" fill="#000">25</text>
<text x="50.5" y="427.9" font-size="17.5" text-anchor="end" fill="#000">50</text>
<text x="50.5" y="381.9" font-size="17.5" text-anchor="end" fill="#000">75</text>
<text x="50.5" y="335.9" font-size="17.5" text-anchor="end" fill="#000">100</text>
<g fill="none" stroke="#9b1b5d" stroke-width="1.85"><circle cx="78.8" cy="514.0" r="3.3"/><circle cx="83.1" cy="513.8" r="3.3"/><circle cx="89.6" cy="513.2" r="3.3"/><circle cx="99.2" cy="512.1" r="3.3"/><circle cx="106.4" cy="511.1" r="3.3"/><circle cx="114.8" cy="509.5" r="3.3"/><circle cx="125.8" cy="506.4" r="3.3"/><circle cx="139.7" cy="501.9" r="3.3"/><circle cx="157.3" cy="495.2" r="3.3"/><circle cx="179.4" cy="484.6" r="3.3"/><circle cx="207.2" cy="466.3" r="3.3"/><circle cx="241.9" cy="440.5" r="3.3"/><circle cx="285.7" cy="400.2" r="3.3"/></g>
<path d="M139.7 497.6V497.9M139.7 505.9V506.6M138.1 497.6h3.2M138.1 506.6h3.2M157.3 489.7V491.2M157.3 499.2V500.9M155.7 489.7h3.2M155.7 500.9h3.2M179.4 477.4V480.6M179.4 488.6V492.1M177.8 477.4h3.2M177.8 492.1h3.2M207.2 456.9V462.3M207.2 470.3V475.7M205.6 456.9h3.2M205.6 475.7h3.2M241.9 428.7V436.5M241.9 444.5V452.4M240.3 428.7h3.2M240.3 452.4h3.2M285.7 385.3V396.2M285.7 404.2V414.3M284.1 385.3h3.2M284.1 414.3h3.2M77.3 513.4h3M77.3 514.6h3M78.8 513.4V514.6M81.6 513.0h3M81.6 514.6h3M83.1 513.0V514.6M88.1 512.2h3M88.1 514.2h3M89.6 512.2V514.2M97.7 510.7h3M97.7 513.5h3M99.2 510.7V513.5M104.9 509.5h3M104.9 512.7h3M106.4 509.5V512.7" fill="none" stroke="#a83a76" stroke-width="1.25"/>
<circle cx="73.6" cy="345.4" r="3.3" fill="#fff" stroke="#9b1b5d" stroke-width="1.85"/>
<text x="92.2" y="350.3" font-size="13.7" text-anchor="start" fill="#000">Measured data - 0 V</text>
<text transform="translate(12.7,433.5) rotate(-90)" font-size="17.5" text-anchor="middle" fill="#000">Coincidence count rate (Hz)</text>
<text x="186.3" y="581.3" font-size="17.5" text-anchor="middle" fill="#000">Power (mW)</text>
<text x="0.9" y="317.4" font-size="22" font-weight="bold" fill="#231815">c</text>
<path d="M409.5 331H666V537.3" fill="none" stroke="#1a1a1a" stroke-width="1.3"/>
<path d="M409.5 331V537.3" fill="none" stroke="#1a1a1a" stroke-width="1.4"/>
<path d="M408.9 537.3H666" fill="none" stroke="#1a1a1a" stroke-width="1.3"/>
<path d="M424.4 537.3v4.4M484.8 537.3v4.4M545.2 537.3v4.4M605.6 537.3v4.4M666 537.3v4.4M454.6 537.3v2.4M515 537.3v2.4M575.4 537.3v2.4M635.8 537.3v2.4M409.5 515.5h-4M409.5 469.4h-4M409.5 423.2h-4M409.5 377.1h-4M409.5 331h-4M409.5 492.4h-2.4M409.5 446.3h-2.4M409.5 400.2h-2.4M409.5 354.1h-2.4" fill="none" stroke="#1a1a1a" stroke-width="1.2"/>
<text x="424.4" y="557.9" font-size="17.5" text-anchor="middle" fill="#000">0</text>
<text x="484.8" y="557.9" font-size="17.5" text-anchor="middle" fill="#000">4</text>
<text x="545.2" y="557.9" font-size="17.5" text-anchor="middle" fill="#000">8</text>
<text x="605.6" y="557.9" font-size="17.5" text-anchor="middle" fill="#000">12</text>
<text x="666" y="557.9" font-size="17.5" text-anchor="middle" fill="#000">16</text>
<text x="402.5" y="521.2" font-size="17.5" text-anchor="end" fill="#000">0</text>
<text x="402.5" y="475.1" font-size="17.5" text-anchor="end" fill="#000">40</text>
<text x="402.5" y="428.9" font-size="17.5" text-anchor="end" fill="#000">80</text>
<text x="402.5" y="382.8" font-size="17.5" text-anchor="end" fill="#000">120</text>
<text x="402.5" y="336.7" font-size="17.5" text-anchor="end" fill="#000">160</text>
<g fill="none" stroke="#356392" stroke-width="1.85"><circle cx="428.0" cy="515.0" r="3.3"/><circle cx="433.9" cy="515.0" r="3.3"/><circle cx="439.6" cy="514.4" r="3.3"/><circle cx="448.0" cy="513.2" r="3.3"/><circle cx="454.6" cy="512.0" r="3.3"/><circle cx="462.3" cy="509.9" r="3.3"/><circle cx="471.9" cy="507.0" r="3.3"/><circle cx="484.2" cy="502.6" r="3.3"/><circle cx="499.9" cy="495.4" r="3.3"/><circle cx="519.5" cy="484.4" r="3.3"/><circle cx="544.1" cy="464.3" r="3.3"/><circle cx="574.8" cy="437.7" r="3.3"/><circle cx="614.0" cy="393.8" r="3.3"/><circle cx="637.3" cy="363.1" r="3.3"/></g>
<path d="M499.9 490.9V491.4M499.9 499.4V500.1M498.3 490.9h3.2M498.3 500.1h3.2M519.5 478.4V480.4M519.5 488.4V490.5M517.9 478.4h3.2M517.9 490.5h3.2M544.1 456.6V460.3M544.1 468.3V472.5M542.5 456.6h3.2M542.5 472.5h3.2M574.8 428.5V433.7M574.8 441.7V447.1M573.2 428.5h3.2M573.2 447.1h3.2M614.0 381.7V389.8M614.0 397.8V405.6M612.4 381.7h3.2M612.4 405.6h3.2M637.3 349.8V359.1M637.3 367.1V376.6M635.7 349.8h3.2M635.7 376.6h3.2M426.5 514.4h3M426.5 515.6h3M428.0 514.4V515.6M432.4 514.2h3M432.4 515.8h3M433.9 514.2V515.8M438.1 513.4h3M438.1 515.4h3M439.6 513.4V515.4M446.5 511.8h3M446.5 514.6h3M448.0 511.8V514.6M453.1 510.4h3M453.1 513.6h3M454.6 510.4V513.6" fill="none" stroke="#41709c" stroke-width="1.25"/>
<circle cx="424.2" cy="345.4" r="3.3" fill="#fff" stroke="#356392" stroke-width="1.85"/>
<text x="443.6" y="350.3" font-size="13.5" text-anchor="start" fill="#000">Measured data - 6.6 V</text>
<text transform="translate(363.4,433.5) rotate(-90)" font-size="17.5" text-anchor="middle" fill="#000">Coincidence count rate (Hz)</text>
<text x="537.8" y="582.2" font-size="17.5" text-anchor="middle" fill="#000">Power (mW)</text>
<text x="351.1" y="316.6" font-size="22" font-weight="bold" fill="#231815">d</text>
<path d="M58 621.2H314.5V827.7" fill="none" stroke="#1a1a1a" stroke-width="1.3"/>
<path d="M58 621.2V827.7" fill="none" stroke="#1a1a1a" stroke-width="1.4"/>
<path d="M57.4 827.7H314.5" fill="none" stroke="#1a1a1a" stroke-width="1.3"/>
<path d="M73.1 827.7v4.4M133.4 827.7v4.4M193.8 827.7v4.4M254.2 827.7v4.4M314.5 827.7v4.4M103.3 827.7v2.4M163.6 827.7v2.4M224 827.7v2.4M284.3 827.7v2.4M58 827.7h-4M58 786.4h-4M58 745.1h-4M58 703.8h-4M58 662.5h-4M58 621.2h-4M58 807.1h-2.4M58 765.8h-2.4M58 724.5h-2.4M58 683.2h-2.4M58 641.9h-2.4" fill="none" stroke="#1a1a1a" stroke-width="1.2"/>
<text x="73.1" y="849" font-size="17.5" text-anchor="middle" fill="#000">0</text>
<text x="133.4" y="849" font-size="17.5" text-anchor="middle" fill="#000">4</text>
<text x="193.8" y="849" font-size="17.5" text-anchor="middle" fill="#000">8</text>
<text x="254.2" y="849" font-size="17.5" text-anchor="middle" fill="#000">12</text>
<text x="314.5" y="849" font-size="17.5" text-anchor="middle" fill="#000">16</text>
<text x="51" y="833.4" font-size="17.5" text-anchor="end" fill="#000">15</text>
<text x="51" y="792.1" font-size="17.5" text-anchor="end" fill="#000">20</text>
<text x="51" y="750.8" font-size="17.5" text-anchor="end" fill="#000">25</text>
<text x="51" y="709.5" font-size="17.5" text-anchor="end" fill="#000">30</text>
<text x="51" y="668.2" font-size="17.5" text-anchor="end" fill="#000">35</text>
<text x="51" y="626.9" font-size="17.5" text-anchor="end" fill="#000">40</text>
<g fill="none" stroke="#9b1b5d" stroke-width="1.85"><circle cx="79.8" cy="744.8" r="3.3"/><circle cx="83.9" cy="727.7" r="3.3"/><circle cx="90.0" cy="725.8" r="3.3"/><circle cx="100.1" cy="734.0" r="3.3"/><circle cx="106.8" cy="714.2" r="3.3"/><circle cx="115.6" cy="690.1" r="3.3"/><circle cx="126.6" cy="694.8" r="3.3"/><circle cx="140.5" cy="689.9" r="3.3"/><circle cx="158.1" cy="692.1" r="3.3"/><circle cx="180.0" cy="692.1" r="3.3"/><circle cx="207.6" cy="697.6" r="3.3"/><circle cx="242.3" cy="695.0" r="3.3"/><circle cx="286.1" cy="707.0" r="3.3"/></g>
<path d="M79.8 689.9V740.8M79.8 748.8V799.8M78.2 689.9h3.2M78.2 799.8h3.2M83.9 673.9V723.7M83.9 731.7V781.6M82.3 673.9h3.2M82.3 781.6h3.2M90.0 667.8V721.8M90.0 729.8V783.5M88.4 667.8h3.2M88.4 783.5h3.2M100.1 717.9V730.0M100.1 738.0V750.5M98.5 717.9h3.2M98.5 750.5h3.2M106.8 693.9V710.2M106.8 718.2V734.2M105.2 693.9h3.2M105.2 734.2h3.2M115.6 667.6V686.1M115.6 694.1V712.5M114.0 667.6h3.2M114.0 712.5h3.2M126.6 662.1V690.8M126.6 698.8V727.9M125.0 662.1h3.2M125.0 727.9h3.2M140.5 673.7V685.9M140.5 693.9V705.4M138.9 673.7h3.2M138.9 705.4h3.2M158.1 680.2V688.1M158.1 696.1V704.2M156.5 680.2h3.2M156.5 704.2h3.2M180.0 678.0V688.1M180.0 696.1V706.2M178.4 678.0h3.2M178.4 706.2h3.2M207.6 690.7V693.6M207.6 701.6V704.2M206.0 690.7h3.2M206.0 704.2h3.2M242.3 683.3V691.0M242.3 699.0V706.8M240.7 683.3h3.2M240.7 706.8h3.2M286.1 699.9V703.0M286.1 711.0V714.0M284.5 699.9h3.2M284.5 714.0h3.2" fill="none" stroke="#a83a76" stroke-width="1.25"/>
<circle cx="73.7" cy="635.0" r="3.3" fill="#fff" stroke="#9b1b5d" stroke-width="1.85"/>
<text x="92.7" y="639.9" font-size="13.7" text-anchor="start" fill="#000">Measured data - 0 V</text>
<text transform="translate(13.6,724.2) rotate(-90)" font-size="17.5" text-anchor="middle" fill="#000">CAR</text>
<text x="186.6" y="872.8" font-size="17.5" text-anchor="middle" fill="#000">Power (mW)</text>
<text x="0.9" y="608.7" font-size="22" font-weight="bold" fill="#231815">e</text>
<path d="M409 622.1H665.7V828.7" fill="none" stroke="#1a1a1a" stroke-width="1.3"/>
<path d="M409 622.1V828.7" fill="none" stroke="#1a1a1a" stroke-width="1.4"/>
<path d="M408.4 828.7H665.7" fill="none" stroke="#1a1a1a" stroke-width="1.3"/>
<path d="M424.3 828.7v4.4M484.7 828.7v4.4M545 828.7v4.4M605.4 828.7v4.4M665.7 828.7v4.4M454.5 828.7v2.4M514.8 828.7v2.4M575.2 828.7v2.4M635.5 828.7v2.4M409 828.7h-4M409 787.4h-4M409 746.1h-4M409 704.7h-4M409 663.4h-4M409 622.1h-4M409 808h-2.4M409 766.7h-2.4M409 725.4h-2.4M409 684.1h-2.4M409 642.8h-2.4" fill="none" stroke="#1a1a1a" stroke-width="1.2"/>
<text x="424.3" y="849.5" font-size="17.5" text-anchor="middle" fill="#000">0</text>
<text x="484.7" y="849.5" font-size="17.5" text-anchor="middle" fill="#000">4</text>
<text x="545" y="849.5" font-size="17.5" text-anchor="middle" fill="#000">8</text>
<text x="605.4" y="849.5" font-size="17.5" text-anchor="middle" fill="#000">12</text>
<text x="665.7" y="849.5" font-size="17.5" text-anchor="middle" fill="#000">16</text>
<text x="402" y="834.4" font-size="17.5" text-anchor="end" fill="#000">0</text>
<text x="402" y="793.1" font-size="17.5" text-anchor="end" fill="#000">50</text>
<text x="402" y="751.8" font-size="17.5" text-anchor="end" fill="#000">100</text>
<text x="402" y="710.4" font-size="17.5" text-anchor="end" fill="#000">150</text>
<text x="402" y="669.1" font-size="17.5" text-anchor="end" fill="#000">200</text>
<text x="402" y="627.8" font-size="17.5" text-anchor="end" fill="#000">250</text>
<g fill="none" stroke="#356392" stroke-width="1.85"><circle cx="427.8" cy="796.3" r="3.3"/><circle cx="433.5" cy="724.8" r="3.3"/><circle cx="439.2" cy="742.0" r="3.3"/><circle cx="447.8" cy="701.5" r="3.3"/><circle cx="453.9" cy="706.8" r="3.3"/><circle cx="461.9" cy="673.1" r="3.3"/><circle cx="471.7" cy="680.2" r="3.3"/><circle cx="484.0" cy="682.7" r="3.3"/><circle cx="499.2" cy="674.2" r="3.3"/><circle cx="519.1" cy="677.7" r="3.3"/><circle cx="543.9" cy="681.8" r="3.3"/><circle cx="574.8" cy="701.4" r="3.3"/><circle cx="613.4" cy="692.3" r="3.3"/><circle cx="636.7" cy="705.5" r="3.3"/></g>
<path d="M427.8 784.5V792.3M427.8 800.3V808.4M426.2 784.5h3.2M426.2 808.4h3.2M433.5 697.6V720.8M433.5 728.8V751.4M431.9 697.6h3.2M431.9 751.4h3.2M439.2 723.2V738.0M439.2 746.0V760.0M437.6 723.2h3.2M437.6 760.0h3.2M447.8 670.8V697.5M447.8 705.5V732.2M446.2 670.8h3.2M446.2 732.2h3.2M453.9 686.4V702.8M453.9 710.8V726.8M452.3 686.4h3.2M452.3 726.8h3.2M461.9 655.5V669.1M461.9 677.1V690.7M460.3 655.5h3.2M460.3 690.7h3.2M471.7 652.5V676.2M471.7 684.2V708.5M470.1 652.5h3.2M470.1 708.5h3.2M484.0 663.1V678.7M484.0 686.7V702.5M482.4 663.1h3.2M482.4 702.5h3.2M499.2 644.5V670.2M499.2 678.2V704.0M497.6 644.5h3.2M497.6 704.0h3.2M519.1 658.8V673.7M519.1 681.7V697.0M517.5 658.8h3.2M517.5 697.0h3.2M543.9 667.8V677.8M543.9 685.8V696.1M542.3 667.8h3.2M542.3 696.1h3.2M574.8 690.3V697.4M574.8 705.4V712.2M573.2 690.3h3.2M573.2 712.2h3.2M613.4 671.3V688.3M613.4 696.3V713.4M611.8 671.3h3.2M611.8 713.4h3.2M636.7 695.3V701.5M636.7 709.5V715.7M635.1 695.3h3.2M635.1 715.7h3.2" fill="none" stroke="#41709c" stroke-width="1.25"/>
<circle cx="424.2" cy="635.3" r="3.3" fill="#fff" stroke="#356392" stroke-width="1.85"/>
<text x="443.6" y="640.2" font-size="13.5" text-anchor="start" fill="#000">Measured data - 6.6 V</text>
<text transform="translate(364.5,728.2) rotate(-90)" font-size="17.5" text-anchor="middle" fill="#000">CAR</text>
<text x="535.2" y="871.8" font-size="17.5" text-anchor="middle" fill="#000">Power (mW)</text>
<text x="353.6" y="608.8" font-size="22" font-weight="bold" fill="#231815">f</text>
</svg>
</body></html>
